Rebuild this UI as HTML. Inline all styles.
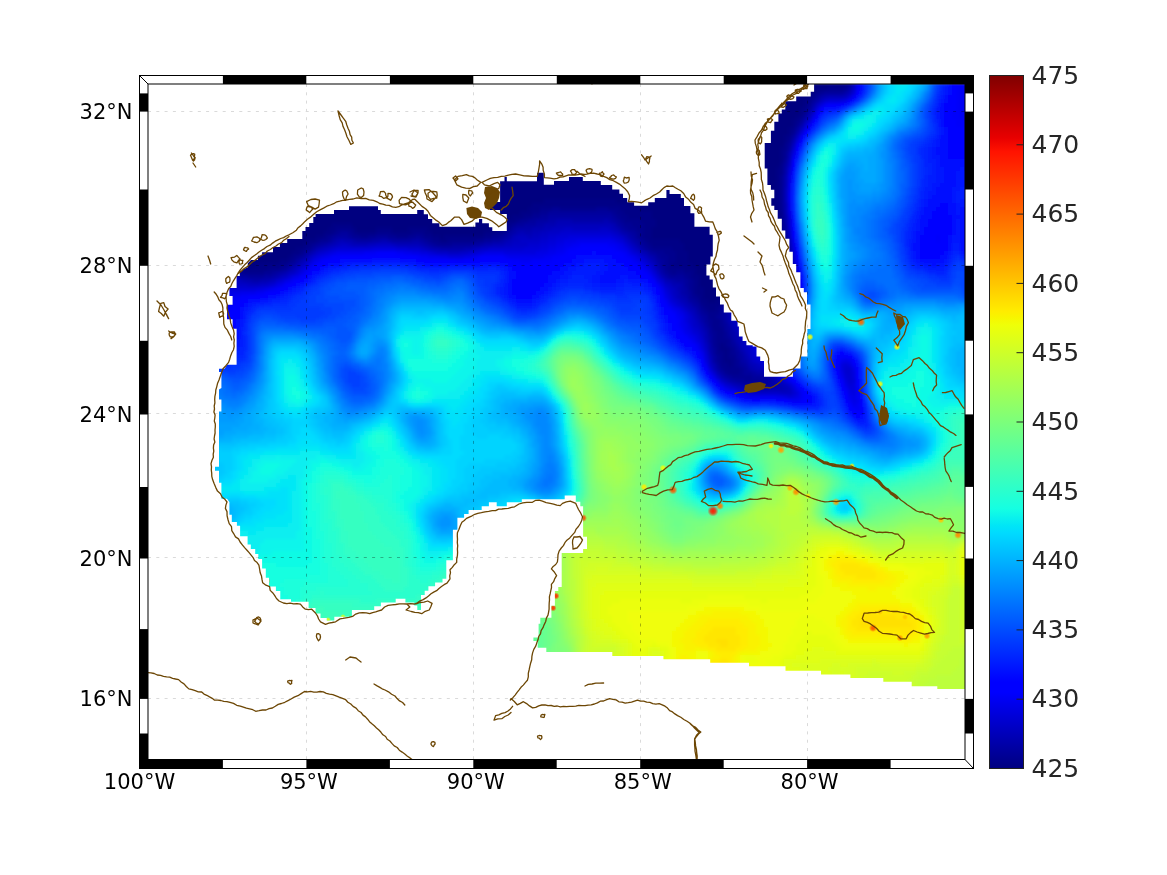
<!DOCTYPE html><html><head><meta charset="utf-8"><style>html,body{margin:0;padding:0;background:#fff;overflow:hidden}svg{display:block}</style></head><body><svg width="1167" height="875" viewBox="0 0 1167 875"><rect width="1167" height="875" fill="#fff"/><path d="M306.5 84.0V759.5M473.5 84.0V759.5M640.5 84.0V759.5M807.5 84.0V759.5M148.0 111.5H965.0M148.0 265.5H965.0M148.0 413.5H965.0M148.0 557.5H965.0M148.0 698.5H965.0" stroke="#dadada" stroke-width="1" stroke-dasharray="3 5.3" fill="none"/><defs><clipPath id="dm"><polygon points="229.4,502.0 227.0,498.8 221.4,498.8 221.4,482.8 219.0,482.8 219.0,470.8 215.0,470.8 215.0,466.8 219.0,466.8 219.0,411.6 221.4,411.6 221.4,399.6 219.0,399.6 219.0,389.6 221.4,388.0 221.4,372.0 219.0,372.0 219.0,368.8 224.6,368.8 227.0,364.8 236.6,364.8 236.6,328.8 232.6,328.8 232.6,319.2 227.0,319.2 227.0,304.8 232.6,304.8 232.6,296.0 229.4,296.0 229.4,288.0 236.6,288.0 236.6,276.0 239.8,276.0 239.8,272.0 243.0,269.6 247.8,267.2 247.8,263.2 251.0,260.0 257.9,259.9 257.9,255.8 262.1,255.8 262.1,252.2 273.0,252.2 273.0,247.1 279.9,247.1 279.9,243.0 287.2,243.0 287.2,238.9 302.3,238.9 302.3,231.1 305.5,231.1 305.5,227.0 309.2,227.0 309.2,222.9 313.3,222.9 313.3,216.9 315.6,216.9 315.6,214.0 334.0,214.0 334.0,210.1 349.0,210.1 349.0,206.2 378.0,206.2 378.0,210.1 380.8,210.1 380.8,214.0 417.2,214.0 417.2,210.0 423.8,210.0 423.8,214.2 428.0,214.2 428.0,219.0 432.2,219.0 432.2,223.2 439.4,223.2 439.4,226.8 475.4,226.8 475.4,222.6 479.0,222.6 479.0,219.0 482.2,219.0 482.2,223.2 488.9,223.2 488.9,227.2 492.3,227.2 492.3,231.0 506.8,231.0 506.8,213.9 500.1,213.9 500.1,210.1 490.0,210.1 490.0,205.7 492.6,205.7 492.6,202.0 500.1,202.0 500.1,181.2 504.5,181.2 504.5,177.1 506.8,177.1 506.8,181.2 537.0,181.2 537.0,172.8 543.8,172.8 543.8,184.8 554.0,184.8 554.0,181.0 569.0,181.0 569.0,177.0 582.8,177.0 582.8,181.0 600.8,181.0 600.8,185.0 612.2,185.0 612.2,189.6 619.4,189.6 619.4,193.8 623.0,193.8 623.0,198.0 627.2,198.0 627.2,202.2 634.1,202.2 634.1,205.8 648.2,205.8 648.2,202.2 654.8,202.2 654.8,198.0 666.4,198.0 666.4,190.0 669.6,190.0 669.6,194.0 680.8,194.0 680.8,198.0 684.0,198.0 684.0,206.0 690.4,206.0 690.4,213.2 694.4,213.2 694.4,226.8 709.6,226.8 709.6,234.8 712.8,234.8 712.8,256.4 710.4,256.4 710.4,264.4 706.4,264.4 706.4,275.6 709.6,275.6 709.6,279.6 712.8,279.6 712.8,287.6 716.0,287.6 716.0,296.4 720.0,296.4 720.0,304.5 723.8,304.5 723.8,312.6 731.3,312.6 731.3,320.8 737.6,320.8 737.6,326.5 738.9,326.5 738.9,336.5 742.6,336.5 742.6,340.9 746.4,340.9 746.4,345.3 752.7,345.3 752.7,346.6 756.5,346.6 756.5,356.6 760.2,356.6 760.2,361.0 764.0,361.0 764.0,376.7 792.9,376.7 792.9,368.6 800.5,368.6 800.5,356.6 807.4,356.6 807.4,329.0 810.5,329.0 810.5,304.5 807.0,304.5 807.0,292.2 803.8,292.2 803.8,288.1 800.4,288.1 800.4,272.3 796.2,272.3 796.2,264.1 792.8,264.1 792.8,251.7 789.4,251.7 789.4,238.7 785.3,238.7 785.3,230.5 781.8,230.5 781.8,218.8 777.7,218.8 777.7,209.9 774.3,209.9 774.3,205.8 771.3,205.8 771.3,198.2 774.3,198.2 774.3,189.8 770.9,189.8 770.9,185.0 767.4,185.0 767.4,168.5 764.7,168.5 764.7,143.1 770.9,143.1 770.9,130.8 774.3,130.8 774.3,121.8 778.4,121.8 778.4,113.6 781.8,113.6 781.8,109.5 785.3,109.5 785.3,101.3 796.2,101.3 796.2,96.5 810.7,96.5 810.7,91.7 814.1,91.7 814.1,83.0 967.0,83.0 967.0,689.0 937.3,689.0 937.3,686.3 911.7,686.3 911.7,681.7 883.3,681.7 883.3,678.0 850.4,678.0 850.4,674.4 821.0,674.4 821.0,670.8 785.5,670.8 785.5,666.2 749.0,666.2 749.0,662.8 710.2,662.8 710.2,659.3 663.4,659.3 663.4,656.0 612.3,656.0 612.3,652.0 546.3,652.0 546.3,647.7 537.7,647.7 537.7,640.9 533.4,640.9 533.4,637.4 538.6,637.4 538.6,623.7 540.3,623.7 540.3,617.7 551.4,617.7 551.4,605.7 554.9,605.7 554.9,591.1 558.3,591.1 558.3,586.9 561.7,586.9 561.7,553.1 583.1,553.1 583.1,549.1 587.0,549.1 587.0,536.8 583.1,536.8 583.1,506.2 580.3,506.2 580.3,501.7 575.8,501.7 575.8,495.4 564.7,495.4 564.7,499.2 521.8,499.2 521.8,502.3 506.8,502.3 506.8,506.2 496.7,506.2 496.7,502.3 488.9,502.3 488.9,506.2 481.7,506.2 481.7,510.1 468.6,510.1 468.6,514.1 464.1,514.1 464.1,517.8 457.4,517.8 457.4,529.7 452.9,529.7 452.9,560.2 446.3,560.2 446.3,578.8 442.5,578.8 442.5,582.5 435.1,582.5 435.1,586.2 428.4,586.2 428.4,590.7 424.7,590.7 424.7,595.1 421.0,595.1 421.0,610.0 417.3,610.0 417.3,605.5 414.3,605.5 414.3,602.5 405.4,602.5 405.4,598.8 395.7,598.8 395.7,602.5 380.9,602.5 380.9,606.3 374.2,606.3 374.2,610.0 351.9,610.0 351.9,616.7 334.3,616.7 334.3,620.5 326.8,620.5 326.8,618.0 320.5,618.0 320.5,613.6 315.5,613.6 315.5,608.0 308.6,608.0 308.6,601.7 291.0,601.7 291.0,599.2 280.3,599.2 280.3,591.0 275.9,591.0 275.9,586.6 269.0,586.6 269.0,577.8 265.8,577.8 265.8,568.4 262.1,568.4 262.1,559.0 258.3,559.0 258.3,553.9 255.2,553.9 255.2,548.9 250.8,548.9 250.8,544.5 247.6,544.5 247.6,536.3 240.1,536.3 240.1,525.7 236.9,525.7 236.9,521.9 231.8,521.9 231.8,514.8 229.4,514.8"/></clipPath></defs><filter id="fb" x="0" y="0" width="1" height="1"><feGaussianBlur stdDeviation="1.6"/></filter><g clip-path="url(#dm)"><g filter="url(#fb)" shape-rendering="crispEdges"><path fill="#000080" d="M148 83h680v4h-680zM148 87h668v4h-668zM148 91h664v4h-664zM148 95h660v4h-660zM148 99h656v4h-656zM148 103h656v4h-656zM148 107h652v4h-652zM148 111h652v4h-652zM148 115h648v4h-648zM148 119h644v4h-644zM148 123h644v4h-644zM148 127h640v4h-640zM148 131h640v4h-640zM148 135h636v4h-636zM148 139h636v4h-636zM148 143h636v4h-636zM148 147h632v4h-632zM148 151h632v4h-632zM148 155h632v4h-632zM148 159h632v4h-632zM148 163h632v4h-632zM148 167h628v4h-628zM148 171h628v4h-628zM148 175h628v4h-628zM148 179h628v4h-628zM148 183h628v4h-628zM148 187h628v4h-628zM148 191h628v4h-628zM148 195h628v4h-628zM160 199h384v4h-384zM616 199h160v4h-160zM164 203h368v4h-368zM628 203h148v4h-148zM172 207h356v4h-356zM640 207h136v4h-136zM176 211h344v4h-344zM652 211h124v4h-124zM180 215h332v4h-332zM652 215h124v4h-124zM184 219h324v4h-324zM656 219h124v4h-124zM192 223h140v4h-140zM352 223h148v4h-148zM656 223h124v4h-124zM196 227h132v4h-132zM356 227h20v4h-20zM392 227h16v4h-16zM428 227h68v4h-68zM652 227h128v4h-128zM200 231h124v4h-124zM432 231h52v4h-52zM652 231h128v4h-128zM208 235h108v4h-108zM440 235h4v4h-4zM652 235h128v4h-128zM212 239h96v4h-96zM680 239h100v4h-100zM216 243h88v4h-88zM684 243h96v4h-96zM224 247h72v4h-72zM684 247h96v4h-96zM228 251h64v4h-64zM688 251h96v4h-96zM232 255h56v4h-56zM688 255h96v4h-96zM236 259h44v4h-44zM688 259h96v4h-96zM244 263h12v4h-12zM692 263h92v4h-92zM696 267h84v4h-84zM696 271h76v4h-76zM700 275h68v4h-68zM700 279h60v4h-60zM700 283h52v4h-52zM704 287h40v4h-40zM704 291h32v4h-32zM704 295h24v4h-24zM708 299h8v4h-8z"/><path fill="#000087" d="M828 83h16v4h-16zM816 87h12v4h-12zM812 91h4v4h-4zM808 95h4v4h-4zM804 99h4v4h-4zM804 103h4v4h-4zM800 107h4v4h-4zM800 111h4v4h-4zM796 115h4v4h-4zM792 119h4v4h-4zM792 123h4v4h-4zM788 127h4v4h-4zM788 131h4v4h-4zM784 135h4v4h-4zM784 139h4v4h-4zM780 147h4v4h-4zM780 151h4v4h-4zM780 155h4v4h-4zM780 159h4v4h-4zM776 167h4v4h-4zM776 171h4v4h-4zM776 175h4v4h-4zM776 179h4v4h-4zM776 183h4v4h-4zM776 187h4v4h-4zM776 191h4v4h-4zM776 195h4v4h-4zM148 199h12v4h-12zM544 199h72v4h-72zM776 199h4v4h-4zM160 203h4v4h-4zM532 203h96v4h-96zM776 203h4v4h-4zM164 207h8v4h-8zM528 207h12v4h-12zM620 207h20v4h-20zM776 207h4v4h-4zM168 211h8v4h-8zM520 211h12v4h-12zM624 211h28v4h-28zM776 211h4v4h-4zM176 215h4v4h-4zM512 215h12v4h-12zM628 215h24v4h-24zM776 215h4v4h-4zM180 219h4v4h-4zM508 219h8v4h-8zM640 219h16v4h-16zM184 223h8v4h-8zM332 223h20v4h-20zM500 223h8v4h-8zM644 223h12v4h-12zM188 227h8v4h-8zM328 227h8v4h-8zM352 227h4v4h-4zM376 227h16v4h-16zM408 227h20v4h-20zM496 227h8v4h-8zM644 227h8v4h-8zM196 231h4v4h-4zM324 231h8v4h-8zM356 231h20v4h-20zM392 231h20v4h-20zM424 231h8v4h-8zM484 231h12v4h-12zM644 231h8v4h-8zM780 231h4v4h-4zM200 235h8v4h-8zM316 235h8v4h-8zM432 235h8v4h-8zM444 235h40v4h-40zM644 235h8v4h-8zM780 235h4v4h-4zM204 239h8v4h-8zM308 239h8v4h-8zM440 239h8v4h-8zM648 239h32v4h-32zM780 239h4v4h-4zM212 243h4v4h-4zM304 243h4v4h-4zM652 243h32v4h-32zM780 243h4v4h-4zM216 247h8v4h-8zM296 247h8v4h-8zM672 247h12v4h-12zM780 247h4v4h-4zM220 251h8v4h-8zM292 251h8v4h-8zM676 251h12v4h-12zM228 255h4v4h-4zM288 255h4v4h-4zM676 255h12v4h-12zM784 255h4v4h-4zM232 259h4v4h-4zM280 259h8v4h-8zM676 259h12v4h-12zM784 259h4v4h-4zM236 263h8v4h-8zM256 263h24v4h-24zM672 263h20v4h-20zM784 263h4v4h-4zM244 267h24v4h-24zM684 267h12v4h-12zM780 267h8v4h-8zM692 271h4v4h-4zM772 271h12v4h-12zM692 275h8v4h-8zM768 275h16v4h-16zM696 279h4v4h-4zM760 279h16v4h-16zM696 283h4v4h-4zM752 283h16v4h-16zM696 287h8v4h-8zM744 287h16v4h-16zM696 291h8v4h-8zM736 291h12v4h-12zM700 295h4v4h-4zM728 295h12v4h-12zM700 299h8v4h-8zM716 299h12v4h-12zM704 303h16v4h-16zM708 307h8v4h-8zM720 343h4v4h-4zM720 347h8v4h-8zM724 351h4v4h-4zM724 355h4v4h-4zM724 359h8v4h-8zM728 363h4v4h-4z"/><path fill="#00008e" d="M844 83h4v4h-4zM828 87h16v4h-16zM816 91h4v4h-4zM812 95h4v4h-4zM808 99h4v4h-4zM804 107h4v4h-4zM800 115h4v4h-4zM796 119h4v4h-4zM792 127h4v4h-4zM788 135h4v4h-4zM784 143h4v4h-4zM784 147h4v4h-4zM780 163h4v4h-4zM780 167h4v4h-4zM780 171h4v4h-4zM156 203h4v4h-4zM160 207h4v4h-4zM540 207h12v4h-12zM560 207h36v4h-36zM608 207h12v4h-12zM532 211h8v4h-8zM616 211h8v4h-8zM780 211h4v4h-4zM172 215h4v4h-4zM524 215h8v4h-8zM620 215h8v4h-8zM780 215h4v4h-4zM176 219h4v4h-4zM516 219h4v4h-4zM624 219h16v4h-16zM780 219h4v4h-4zM180 223h4v4h-4zM508 223h4v4h-4zM632 223h12v4h-12zM780 223h4v4h-4zM336 227h16v4h-16zM504 227h4v4h-4zM636 227h8v4h-8zM780 227h4v4h-4zM192 231h4v4h-4zM332 231h4v4h-4zM352 231h4v4h-4zM376 231h16v4h-16zM412 231h12v4h-12zM496 231h8v4h-8zM640 231h4v4h-4zM196 235h4v4h-4zM324 235h4v4h-4zM360 235h8v4h-8zM396 235h12v4h-12zM424 235h8v4h-8zM484 235h8v4h-8zM640 235h4v4h-4zM316 239h4v4h-4zM432 239h8v4h-8zM448 239h28v4h-28zM644 239h4v4h-4zM208 243h4v4h-4zM308 243h4v4h-4zM648 243h4v4h-4zM784 243h4v4h-4zM212 247h4v4h-4zM304 247h4v4h-4zM652 247h20v4h-20zM784 247h4v4h-4zM300 251h4v4h-4zM664 251h12v4h-12zM784 251h4v4h-4zM224 255h4v4h-4zM292 255h4v4h-4zM668 255h8v4h-8zM228 259h4v4h-4zM288 259h4v4h-4zM668 259h8v4h-8zM232 263h4v4h-4zM280 263h8v4h-8zM668 263h4v4h-4zM240 267h4v4h-4zM268 267h12v4h-12zM668 267h16v4h-16zM244 271h20v4h-20zM672 271h4v4h-4zM684 271h8v4h-8zM784 271h4v4h-4zM688 275h4v4h-4zM784 275h4v4h-4zM692 279h4v4h-4zM776 279h12v4h-12zM692 283h4v4h-4zM768 283h12v4h-12zM692 287h4v4h-4zM760 287h8v4h-8zM692 291h4v4h-4zM748 291h8v4h-8zM696 295h4v4h-4zM740 295h4v4h-4zM728 299h8v4h-8zM700 303h4v4h-4zM720 303h4v4h-4zM704 307h4v4h-4zM716 307h4v4h-4zM708 311h12v4h-12zM708 315h8v4h-8zM712 319h8v4h-8zM712 323h8v4h-8zM712 327h12v4h-12zM716 331h8v4h-8zM716 335h8v4h-8zM716 339h12v4h-12zM716 343h4v4h-4zM724 343h4v4h-4zM716 347h4v4h-4zM728 347h4v4h-4zM716 351h8v4h-8zM728 351h4v4h-4zM720 355h4v4h-4zM728 355h8v4h-8zM720 359h4v4h-4zM732 359h4v4h-4zM720 363h8v4h-8zM732 363h4v4h-4zM724 367h16v4h-16zM728 371h12v4h-12z"/><path fill="#000095" d="M844 87h4v4h-4zM820 91h4v4h-4zM808 103h4v4h-4zM804 111h4v4h-4zM796 123h4v4h-4zM792 131h4v4h-4zM788 139h4v4h-4zM784 151h4v4h-4zM784 155h4v4h-4zM780 175h4v4h-4zM780 179h4v4h-4zM780 183h4v4h-4zM780 187h4v4h-4zM780 191h4v4h-4zM780 195h4v4h-4zM780 199h4v4h-4zM148 203h8v4h-8zM780 203h4v4h-4zM552 207h8v4h-8zM596 207h12v4h-12zM780 207h4v4h-4zM164 211h4v4h-4zM540 211h8v4h-8zM612 211h4v4h-4zM168 215h4v4h-4zM532 215h8v4h-8zM616 215h4v4h-4zM520 219h8v4h-8zM620 219h4v4h-4zM512 223h4v4h-4zM624 223h8v4h-8zM184 227h4v4h-4zM508 227h4v4h-4zM628 227h8v4h-8zM188 231h4v4h-4zM336 231h4v4h-4zM348 231h4v4h-4zM504 231h4v4h-4zM636 231h4v4h-4zM328 235h4v4h-4zM352 235h8v4h-8zM368 235h8v4h-8zM388 235h8v4h-8zM408 235h8v4h-8zM420 235h4v4h-4zM492 235h8v4h-8zM636 235h4v4h-4zM784 235h4v4h-4zM200 239h4v4h-4zM320 239h8v4h-8zM428 239h4v4h-4zM476 239h8v4h-8zM640 239h4v4h-4zM784 239h4v4h-4zM204 243h4v4h-4zM312 243h4v4h-4zM436 243h16v4h-16zM644 243h4v4h-4zM308 247h4v4h-4zM648 247h4v4h-4zM216 251h4v4h-4zM656 251h8v4h-8zM220 255h4v4h-4zM296 255h4v4h-4zM660 255h8v4h-8zM292 259h4v4h-4zM664 259h4v4h-4zM664 263h4v4h-4zM788 263h4v4h-4zM236 267h4v4h-4zM280 267h4v4h-4zM664 267h4v4h-4zM788 267h4v4h-4zM240 271h4v4h-4zM264 271h8v4h-8zM668 271h4v4h-4zM676 271h8v4h-8zM788 271h4v4h-4zM684 275h4v4h-4zM788 275h4v4h-4zM688 279h4v4h-4zM788 279h4v4h-4zM688 283h4v4h-4zM780 283h8v4h-8zM688 287h4v4h-4zM768 287h8v4h-8zM756 291h8v4h-8zM692 295h4v4h-4zM744 295h8v4h-8zM696 299h4v4h-4zM736 299h4v4h-4zM724 303h8v4h-8zM700 307h4v4h-4zM720 307h4v4h-4zM704 311h4v4h-4zM716 315h4v4h-4zM708 319h4v4h-4zM720 319h4v4h-4zM708 323h4v4h-4zM720 323h4v4h-4zM712 331h4v4h-4zM724 331h4v4h-4zM712 335h4v4h-4zM724 335h4v4h-4zM712 339h4v4h-4zM728 339h4v4h-4zM712 343h4v4h-4zM728 343h4v4h-4zM732 347h4v4h-4zM732 351h4v4h-4zM716 355h4v4h-4zM716 359h4v4h-4zM736 359h4v4h-4zM736 363h4v4h-4zM720 367h4v4h-4zM740 367h4v4h-4zM724 371h4v4h-4zM740 371h4v4h-4zM732 375h20v4h-20zM744 379h16v4h-16z"/><path fill="#00009d" d="M848 83h4v4h-4zM824 91h20v4h-20zM816 95h4v4h-4zM812 99h4v4h-4zM808 107h4v4h-4zM800 119h4v4h-4zM788 143h4v4h-4zM784 159h4v4h-4zM156 207h4v4h-4zM160 211h4v4h-4zM548 211h64v4h-64zM164 215h4v4h-4zM540 215h8v4h-8zM612 215h4v4h-4zM172 219h4v4h-4zM528 219h8v4h-8zM616 219h4v4h-4zM176 223h4v4h-4zM516 223h8v4h-8zM620 223h4v4h-4zM180 227h4v4h-4zM624 227h4v4h-4zM184 231h4v4h-4zM340 231h8v4h-8zM632 231h4v4h-4zM784 231h4v4h-4zM192 235h4v4h-4zM332 235h4v4h-4zM348 235h4v4h-4zM376 235h12v4h-12zM416 235h4v4h-4zM500 235h4v4h-4zM196 239h4v4h-4zM328 239h4v4h-4zM424 239h4v4h-4zM484 239h8v4h-8zM200 243h4v4h-4zM316 243h4v4h-4zM432 243h4v4h-4zM452 243h20v4h-20zM640 243h4v4h-4zM208 247h4v4h-4zM644 247h4v4h-4zM212 251h4v4h-4zM304 251h4v4h-4zM652 251h4v4h-4zM216 255h4v4h-4zM300 255h4v4h-4zM656 255h4v4h-4zM788 255h4v4h-4zM224 259h4v4h-4zM660 259h4v4h-4zM788 259h4v4h-4zM228 263h4v4h-4zM288 263h4v4h-4zM660 263h4v4h-4zM232 267h4v4h-4zM284 267h4v4h-4zM236 271h4v4h-4zM272 271h4v4h-4zM664 271h4v4h-4zM248 275h16v4h-16zM668 275h16v4h-16zM684 279h4v4h-4zM684 283h4v4h-4zM788 283h4v4h-4zM776 287h4v4h-4zM688 291h4v4h-4zM764 291h4v4h-4zM688 295h4v4h-4zM752 295h4v4h-4zM692 299h4v4h-4zM740 299h4v4h-4zM696 303h4v4h-4zM732 303h4v4h-4zM724 307h4v4h-4zM700 311h4v4h-4zM720 311h4v4h-4zM704 315h4v4h-4zM720 315h4v4h-4zM704 319h4v4h-4zM724 323h4v4h-4zM708 327h4v4h-4zM724 327h4v4h-4zM708 331h4v4h-4zM728 335h4v4h-4zM732 343h4v4h-4zM712 347h4v4h-4zM712 351h4v4h-4zM736 351h4v4h-4zM736 355h4v4h-4zM716 363h4v4h-4zM740 363h4v4h-4zM744 367h4v4h-4zM744 371h8v4h-8zM728 375h4v4h-4zM752 375h12v4h-12zM736 379h8v4h-8zM760 379h8v4h-8zM752 383h16v4h-16z"/><path fill="#0000a4" d="M804 115h4v4h-4zM796 127h4v4h-4zM792 135h4v4h-4zM788 147h4v4h-4zM784 163h4v4h-4zM152 207h4v4h-4zM548 215h64v4h-64zM168 219h4v4h-4zM536 219h12v4h-12zM612 219h4v4h-4zM524 223h12v4h-12zM616 223h4v4h-4zM784 223h4v4h-4zM512 227h4v4h-4zM620 227h4v4h-4zM784 227h4v4h-4zM508 231h4v4h-4zM628 231h4v4h-4zM188 235h4v4h-4zM336 235h12v4h-12zM504 235h4v4h-4zM632 235h4v4h-4zM356 239h16v4h-16zM392 239h20v4h-20zM420 239h4v4h-4zM492 239h8v4h-8zM636 239h4v4h-4zM320 243h4v4h-4zM428 243h4v4h-4zM472 243h8v4h-8zM204 247h4v4h-4zM312 247h4v4h-4zM648 251h4v4h-4zM788 251h4v4h-4zM220 259h4v4h-4zM296 259h4v4h-4zM656 259h4v4h-4zM292 263h4v4h-4zM660 267h4v4h-4zM276 271h4v4h-4zM240 275h8v4h-8zM264 275h8v4h-8zM676 279h8v4h-8zM684 287h4v4h-4zM780 287h8v4h-8zM684 291h4v4h-4zM768 291h8v4h-8zM756 295h4v4h-4zM688 299h4v4h-4zM744 299h4v4h-4zM692 303h4v4h-4zM736 303h4v4h-4zM696 307h4v4h-4zM728 307h4v4h-4zM724 311h4v4h-4zM700 315h4v4h-4zM724 315h4v4h-4zM724 319h4v4h-4zM704 323h4v4h-4zM728 327h4v4h-4zM728 331h4v4h-4zM708 335h4v4h-4zM708 339h4v4h-4zM732 339h4v4h-4zM736 347h4v4h-4zM712 355h4v4h-4zM740 355h4v4h-4zM712 359h4v4h-4zM740 359h4v4h-4zM744 363h4v4h-4zM716 367h4v4h-4zM720 371h4v4h-4zM752 371h4v4h-4zM724 375h4v4h-4zM764 375h4v4h-4zM732 379h4v4h-4zM768 379h4v4h-4zM744 383h8v4h-8zM768 383h4v4h-4z"/><path fill="#0000ab" d="M848 87h4v4h-4zM844 91h4v4h-4zM820 95h4v4h-4zM816 99h4v4h-4zM812 103h4v4h-4zM800 123h4v4h-4zM784 167h4v4h-4zM784 171h4v4h-4zM148 207h4v4h-4zM156 211h4v4h-4zM160 215h4v4h-4zM784 215h4v4h-4zM164 219h4v4h-4zM548 219h8v4h-8zM572 219h32v4h-32zM608 219h4v4h-4zM784 219h4v4h-4zM172 223h4v4h-4zM536 223h8v4h-8zM176 227h4v4h-4zM516 227h16v4h-16zM180 231h4v4h-4zM512 231h4v4h-4zM624 231h4v4h-4zM184 235h4v4h-4zM508 235h4v4h-4zM628 235h4v4h-4zM192 239h4v4h-4zM332 239h4v4h-4zM352 239h4v4h-4zM372 239h8v4h-8zM388 239h4v4h-4zM412 239h8v4h-8zM500 239h4v4h-4zM632 239h4v4h-4zM196 243h4v4h-4zM324 243h4v4h-4zM424 243h4v4h-4zM480 243h4v4h-4zM636 243h4v4h-4zM200 247h4v4h-4zM440 247h24v4h-24zM640 247h4v4h-4zM788 247h4v4h-4zM208 251h4v4h-4zM308 251h4v4h-4zM212 255h4v4h-4zM304 255h4v4h-4zM652 255h4v4h-4zM216 259h4v4h-4zM224 263h4v4h-4zM656 263h4v4h-4zM228 267h4v4h-4zM288 267h4v4h-4zM232 271h4v4h-4zM280 271h4v4h-4zM660 271h4v4h-4zM792 271h4v4h-4zM272 275h4v4h-4zM664 275h4v4h-4zM792 275h4v4h-4zM252 279h8v4h-8zM672 279h4v4h-4zM792 279h4v4h-4zM680 283h4v4h-4zM680 287h4v4h-4zM680 291h4v4h-4zM776 291h4v4h-4zM684 295h4v4h-4zM760 295h4v4h-4zM748 299h4v4h-4zM696 311h4v4h-4zM700 319h4v4h-4zM728 323h4v4h-4zM704 327h4v4h-4zM732 331h4v4h-4zM732 335h4v4h-4zM708 343h4v4h-4zM736 343h4v4h-4zM708 347h4v4h-4zM740 351h4v4h-4zM744 359h4v4h-4zM748 367h4v4h-4zM756 371h8v4h-8zM768 375h4v4h-4zM728 379h4v4h-4zM772 379h4v4h-4zM740 383h4v4h-4zM772 383h4v4h-4zM756 387h12v4h-12z"/><path fill="#0000b3" d="M824 95h4v4h-4zM808 111h4v4h-4zM796 131h4v4h-4zM792 139h4v4h-4zM788 151h4v4h-4zM784 175h4v4h-4zM784 179h4v4h-4zM784 183h4v4h-4zM784 203h4v4h-4zM784 207h4v4h-4zM152 211h4v4h-4zM784 211h4v4h-4zM156 215h4v4h-4zM556 219h16v4h-16zM604 219h4v4h-4zM168 223h4v4h-4zM544 223h12v4h-12zM612 223h4v4h-4zM172 227h4v4h-4zM532 227h12v4h-12zM616 227h4v4h-4zM176 231h4v4h-4zM516 231h4v4h-4zM524 231h8v4h-8zM620 231h4v4h-4zM188 239h4v4h-4zM336 239h4v4h-4zM344 239h8v4h-8zM380 239h8v4h-8zM504 239h4v4h-4zM192 243h4v4h-4zM328 243h4v4h-4zM420 243h4v4h-4zM484 243h8v4h-8zM788 243h4v4h-4zM316 247h4v4h-4zM432 247h8v4h-8zM464 247h8v4h-8zM204 251h4v4h-4zM644 251h4v4h-4zM208 255h4v4h-4zM648 255h4v4h-4zM300 259h4v4h-4zM652 259h4v4h-4zM220 263h4v4h-4zM296 263h4v4h-4zM224 267h4v4h-4zM656 267h4v4h-4zM792 267h4v4h-4zM228 271h4v4h-4zM284 271h4v4h-4zM236 275h4v4h-4zM276 275h4v4h-4zM244 279h8v4h-8zM260 279h8v4h-8zM668 279h4v4h-4zM672 283h8v4h-8zM792 283h4v4h-4zM676 287h4v4h-4zM788 287h4v4h-4zM780 291h4v4h-4zM680 295h4v4h-4zM764 295h4v4h-4zM684 299h4v4h-4zM752 299h4v4h-4zM688 303h4v4h-4zM740 303h4v4h-4zM692 307h4v4h-4zM732 307h4v4h-4zM728 311h4v4h-4zM696 315h4v4h-4zM728 315h4v4h-4zM728 319h4v4h-4zM700 323h4v4h-4zM732 327h4v4h-4zM704 331h4v4h-4zM704 335h4v4h-4zM736 335h4v4h-4zM736 339h4v4h-4zM740 347h4v4h-4zM708 351h4v4h-4zM744 355h4v4h-4zM712 363h4v4h-4zM748 363h4v4h-4zM752 367h4v4h-4zM716 371h4v4h-4zM764 371h8v4h-8zM720 375h4v4h-4zM772 375h4v4h-4zM736 383h4v4h-4zM776 383h4v4h-4zM748 387h8v4h-8zM768 387h16v4h-16z"/><path fill="#0000ba" d="M848 91h4v4h-4zM828 95h16v4h-16zM812 107h4v4h-4zM804 119h4v4h-4zM788 155h4v4h-4zM784 187h4v4h-4zM784 191h4v4h-4zM784 195h4v4h-4zM784 199h4v4h-4zM148 211h4v4h-4zM152 215h4v4h-4zM160 219h4v4h-4zM164 223h4v4h-4zM556 223h56v4h-56zM168 227h4v4h-4zM544 227h8v4h-8zM612 227h4v4h-4zM172 231h4v4h-4zM520 231h4v4h-4zM532 231h8v4h-8zM180 235h4v4h-4zM512 235h4v4h-4zM528 235h4v4h-4zM624 235h4v4h-4zM184 239h4v4h-4zM340 239h4v4h-4zM508 239h4v4h-4zM628 239h4v4h-4zM788 239h4v4h-4zM188 243h4v4h-4zM332 243h4v4h-4zM352 243h16v4h-16zM396 243h24v4h-24zM492 243h12v4h-12zM632 243h4v4h-4zM196 247h4v4h-4zM320 247h4v4h-4zM428 247h4v4h-4zM472 247h4v4h-4zM636 247h4v4h-4zM200 251h4v4h-4zM312 251h4v4h-4zM640 251h4v4h-4zM204 255h4v4h-4zM212 259h4v4h-4zM216 263h4v4h-4zM792 263h4v4h-4zM220 267h4v4h-4zM292 267h4v4h-4zM232 275h4v4h-4zM660 275h4v4h-4zM240 279h4v4h-4zM268 279h4v4h-4zM664 279h4v4h-4zM676 291h4v4h-4zM784 291h4v4h-4zM676 295h4v4h-4zM768 295h4v4h-4zM680 299h4v4h-4zM756 299h4v4h-4zM684 303h4v4h-4zM744 303h4v4h-4zM688 307h4v4h-4zM736 307h4v4h-4zM692 311h4v4h-4zM732 311h4v4h-4zM696 319h4v4h-4zM732 319h4v4h-4zM732 323h4v4h-4zM700 327h4v4h-4zM736 331h4v4h-4zM704 339h4v4h-4zM740 339h4v4h-4zM740 343h4v4h-4zM744 351h4v4h-4zM708 355h4v4h-4zM748 359h4v4h-4zM752 363h4v4h-4zM712 367h4v4h-4zM756 367h8v4h-8zM724 379h4v4h-4zM776 379h4v4h-4zM732 383h4v4h-4zM780 383h4v4h-4zM744 387h4v4h-4zM784 387h4v4h-4z"/><path fill="#0000c1" d="M852 83h4v4h-4zM844 95h4v4h-4zM820 99h4v4h-4zM808 115h4v4h-4zM800 127h4v4h-4zM792 143h4v4h-4zM788 159h4v4h-4zM148 215h4v4h-4zM148 219h12v4h-12zM148 223h16v4h-16zM156 227h12v4h-12zM552 227h12v4h-12zM572 227h28v4h-28zM608 227h4v4h-4zM160 231h12v4h-12zM540 231h8v4h-8zM616 231h4v4h-4zM168 235h12v4h-12zM516 235h12v4h-12zM532 235h8v4h-8zM788 235h4v4h-4zM172 239h12v4h-12zM512 239h8v4h-8zM176 243h12v4h-12zM336 243h4v4h-4zM348 243h4v4h-4zM368 243h8v4h-8zM392 243h4v4h-4zM504 243h8v4h-8zM184 247h12v4h-12zM324 247h4v4h-4zM424 247h4v4h-4zM476 247h4v4h-4zM188 251h12v4h-12zM448 251h12v4h-12zM196 255h8v4h-8zM308 255h4v4h-4zM644 255h4v4h-4zM204 259h8v4h-8zM304 259h4v4h-4zM648 259h4v4h-4zM792 259h4v4h-4zM208 263h8v4h-8zM300 263h4v4h-4zM652 263h4v4h-4zM216 267h4v4h-4zM220 271h8v4h-8zM288 271h4v4h-4zM656 271h4v4h-4zM224 275h8v4h-8zM280 275h4v4h-4zM232 279h8v4h-8zM272 279h4v4h-4zM248 283h12v4h-12zM668 283h4v4h-4zM672 287h4v4h-4zM792 287h4v4h-4zM672 291h4v4h-4zM772 295h4v4h-4zM760 299h4v4h-4zM748 303h4v4h-4zM740 307h4v4h-4zM692 315h4v4h-4zM732 315h4v4h-4zM696 323h4v4h-4zM736 327h4v4h-4zM700 331h4v4h-4zM740 335h4v4h-4zM704 343h4v4h-4zM744 343h4v4h-4zM744 347h4v4h-4zM748 355h4v4h-4zM708 359h4v4h-4zM756 363h4v4h-4zM764 367h8v4h-8zM772 371h4v4h-4zM784 383h4v4h-4zM740 387h4v4h-4zM788 387h4v4h-4zM780 391h12v4h-12z"/><path fill="#0000c8" d="M852 87h4v4h-4zM816 103h4v4h-4zM796 135h4v4h-4zM788 163h4v4h-4zM148 227h8v4h-8zM564 227h8v4h-8zM600 227h8v4h-8zM148 231h12v4h-12zM548 231h12v4h-12zM612 231h4v4h-4zM788 231h4v4h-4zM148 235h20v4h-20zM540 235h8v4h-8zM620 235h4v4h-4zM148 239h24v4h-24zM520 239h20v4h-20zM624 239h4v4h-4zM160 243h16v4h-16zM340 243h8v4h-8zM376 243h16v4h-16zM512 243h16v4h-16zM628 243h4v4h-4zM168 247h16v4h-16zM328 247h4v4h-4zM420 247h4v4h-4zM480 247h8v4h-8zM632 247h4v4h-4zM172 251h16v4h-16zM316 251h4v4h-4zM436 251h12v4h-12zM460 251h8v4h-8zM180 255h16v4h-16zM792 255h4v4h-4zM188 259h16v4h-16zM196 263h12v4h-12zM204 267h12v4h-12zM296 267h4v4h-4zM652 267h4v4h-4zM212 271h8v4h-8zM292 271h4v4h-4zM220 275h4v4h-4zM284 275h4v4h-4zM224 279h8v4h-8zM236 283h12v4h-12zM260 283h8v4h-8zM664 283h4v4h-4zM668 287h4v4h-4zM788 291h4v4h-4zM672 295h4v4h-4zM776 295h4v4h-4zM676 299h4v4h-4zM764 299h4v4h-4zM680 303h4v4h-4zM752 303h4v4h-4zM684 307h4v4h-4zM688 311h4v4h-4zM736 311h4v4h-4zM736 315h4v4h-4zM692 319h4v4h-4zM736 319h4v4h-4zM692 323h4v4h-4zM736 323h4v4h-4zM696 327h4v4h-4zM740 331h4v4h-4zM700 335h4v4h-4zM744 339h4v4h-4zM704 347h4v4h-4zM748 347h4v4h-4zM748 351h4v4h-4zM752 359h4v4h-4zM708 363h4v4h-4zM760 363h4v4h-4zM716 375h4v4h-4zM776 375h4v4h-4zM720 379h4v4h-4zM780 379h4v4h-4zM728 383h4v4h-4zM736 387h4v4h-4zM752 391h28v4h-28z"/><path fill="#0000d0" d="M824 99h4v4h-4zM812 111h4v4h-4zM804 123h4v4h-4zM792 147h4v4h-4zM788 227h4v4h-4zM560 231h52v4h-52zM548 235h8v4h-8zM616 235h4v4h-4zM540 239h8v4h-8zM152 243h8v4h-8zM528 243h12v4h-12zM160 247h8v4h-8zM332 247h4v4h-4zM408 247h12v4h-12zM488 247h36v4h-36zM168 251h4v4h-4zM320 251h4v4h-4zM432 251h4v4h-4zM468 251h8v4h-8zM636 251h4v4h-4zM792 251h4v4h-4zM176 255h4v4h-4zM312 255h4v4h-4zM640 255h4v4h-4zM184 259h4v4h-4zM308 259h4v4h-4zM644 259h4v4h-4zM192 263h4v4h-4zM304 263h4v4h-4zM648 263h4v4h-4zM200 267h4v4h-4zM208 271h4v4h-4zM216 275h4v4h-4zM656 275h4v4h-4zM796 275h4v4h-4zM220 279h4v4h-4zM276 279h4v4h-4zM660 279h4v4h-4zM796 279h4v4h-4zM228 283h8v4h-8zM268 283h4v4h-4zM796 283h4v4h-4zM668 291h4v4h-4zM780 295h4v4h-4zM672 299h4v4h-4zM768 299h4v4h-4zM676 303h4v4h-4zM756 303h4v4h-4zM744 307h4v4h-4zM740 311h4v4h-4zM688 315h4v4h-4zM688 319h4v4h-4zM740 323h4v4h-4zM692 327h4v4h-4zM740 327h4v4h-4zM696 331h4v4h-4zM744 335h4v4h-4zM700 339h4v4h-4zM748 343h4v4h-4zM704 351h4v4h-4zM752 351h4v4h-4zM752 355h4v4h-4zM756 359h4v4h-4zM764 363h8v4h-8zM772 367h4v4h-4zM844 367h8v4h-8zM712 371h4v4h-4zM776 371h4v4h-4zM844 371h8v4h-8zM848 375h4v4h-4zM848 379h4v4h-4zM724 383h4v4h-4zM788 383h4v4h-4zM748 391h4v4h-4zM792 391h4v4h-4z"/><path fill="#0000d7" d="M852 91h4v4h-4zM848 95h4v4h-4zM828 99h12v4h-12zM808 119h4v4h-4zM800 131h4v4h-4zM788 167h4v4h-4zM788 219h4v4h-4zM788 223h4v4h-4zM556 235h12v4h-12zM612 235h4v4h-4zM548 239h8v4h-8zM620 239h4v4h-4zM148 243h4v4h-4zM540 243h8v4h-8zM624 243h4v4h-4zM156 247h4v4h-4zM336 247h36v4h-36zM396 247h12v4h-12zM524 247h16v4h-16zM628 247h4v4h-4zM160 251h8v4h-8zM324 251h4v4h-4zM428 251h4v4h-4zM476 251h4v4h-4zM632 251h4v4h-4zM168 255h8v4h-8zM176 259h8v4h-8zM184 263h8v4h-8zM192 267h8v4h-8zM300 267h4v4h-4zM200 271h8v4h-8zM296 271h4v4h-4zM652 271h4v4h-4zM208 275h8v4h-8zM288 275h4v4h-4zM216 279h4v4h-4zM280 279h4v4h-4zM220 283h8v4h-8zM272 283h4v4h-4zM232 287h24v4h-24zM664 287h4v4h-4zM792 291h4v4h-4zM668 295h4v4h-4zM784 295h4v4h-4zM772 299h4v4h-4zM680 307h4v4h-4zM748 307h4v4h-4zM684 311h4v4h-4zM740 315h4v4h-4zM740 319h4v4h-4zM688 323h4v4h-4zM744 327h4v4h-4zM692 331h4v4h-4zM744 331h4v4h-4zM696 335h4v4h-4zM748 339h4v4h-4zM700 343h4v4h-4zM752 347h4v4h-4zM704 355h4v4h-4zM756 355h4v4h-4zM760 359h4v4h-4zM772 363h4v4h-4zM844 363h4v4h-4zM708 367h4v4h-4zM844 375h4v4h-4zM852 379h4v4h-4zM848 383h4v4h-4zM732 387h4v4h-4zM792 387h4v4h-4zM744 391h4v4h-4zM788 395h4v4h-4z"/><path fill="#0000de" d="M840 99h4v4h-4zM820 103h4v4h-4zM816 107h4v4h-4zM796 139h4v4h-4zM792 151h4v4h-4zM788 171h4v4h-4zM788 215h4v4h-4zM568 235h44v4h-44zM556 239h8v4h-8zM616 239h4v4h-4zM548 243h8v4h-8zM148 247h8v4h-8zM372 247h24v4h-24zM540 247h8v4h-8zM792 247h4v4h-4zM156 251h4v4h-4zM328 251h4v4h-4zM420 251h8v4h-8zM480 251h4v4h-4zM504 251h32v4h-32zM164 255h4v4h-4zM316 255h4v4h-4zM448 255h16v4h-16zM636 255h4v4h-4zM172 259h4v4h-4zM640 259h4v4h-4zM180 263h4v4h-4zM644 263h4v4h-4zM188 267h4v4h-4zM648 267h4v4h-4zM196 271h4v4h-4zM796 271h4v4h-4zM204 275h4v4h-4zM212 279h4v4h-4zM656 279h4v4h-4zM216 283h4v4h-4zM660 283h4v4h-4zM224 287h8v4h-8zM256 287h8v4h-8zM796 287h4v4h-4zM664 291h4v4h-4zM788 295h4v4h-4zM668 299h4v4h-4zM672 303h4v4h-4zM760 303h4v4h-4zM744 311h4v4h-4zM684 315h4v4h-4zM684 319h4v4h-4zM744 323h4v4h-4zM688 327h4v4h-4zM748 335h4v4h-4zM696 339h4v4h-4zM752 343h4v4h-4zM700 347h4v4h-4zM756 351h4v4h-4zM760 355h4v4h-4zM704 359h4v4h-4zM764 359h4v4h-4zM840 363h4v4h-4zM848 363h4v4h-4zM776 367h4v4h-4zM840 367h4v4h-4zM852 371h4v4h-4zM780 375h4v4h-4zM852 375h4v4h-4zM784 379h4v4h-4zM844 379h4v4h-4zM852 383h4v4h-4zM728 387h4v4h-4zM848 387h8v4h-8zM740 391h4v4h-4zM796 391h4v4h-4zM852 391h4v4h-4zM784 395h4v4h-4zM792 395h4v4h-4z"/><path fill="#0000e6" d="M844 99h4v4h-4zM812 115h4v4h-4zM804 127h4v4h-4zM788 175h4v4h-4zM788 179h4v4h-4zM788 211h4v4h-4zM564 239h12v4h-12zM612 239h4v4h-4zM556 243h8v4h-8zM620 243h4v4h-4zM792 243h4v4h-4zM548 247h8v4h-8zM624 247h4v4h-4zM152 251h4v4h-4zM332 251h4v4h-4zM412 251h8v4h-8zM484 251h20v4h-20zM536 251h12v4h-12zM628 251h4v4h-4zM160 255h4v4h-4zM320 255h4v4h-4zM440 255h8v4h-8zM464 255h8v4h-8zM164 259h8v4h-8zM312 259h4v4h-4zM172 263h8v4h-8zM308 263h4v4h-4zM180 267h8v4h-8zM304 267h4v4h-4zM796 267h4v4h-4zM188 271h8v4h-8zM300 271h4v4h-4zM196 275h8v4h-8zM292 275h4v4h-4zM652 275h4v4h-4zM204 279h8v4h-8zM284 279h4v4h-4zM212 283h4v4h-4zM276 283h4v4h-4zM220 287h4v4h-4zM264 287h4v4h-4zM228 291h12v4h-12zM664 295h4v4h-4zM776 299h4v4h-4zM764 303h4v4h-4zM676 307h4v4h-4zM752 307h4v4h-4zM680 311h4v4h-4zM748 311h4v4h-4zM744 315h4v4h-4zM744 319h4v4h-4zM684 323h4v4h-4zM684 327h4v4h-4zM748 327h4v4h-4zM688 331h4v4h-4zM748 331h4v4h-4zM692 335h4v4h-4zM752 339h4v4h-4zM756 347h4v4h-4zM768 359h8v4h-8zM844 359h4v4h-4zM776 363h4v4h-4zM852 367h4v4h-4zM780 371h4v4h-4zM840 371h4v4h-4zM712 375h4v4h-4zM716 379h4v4h-4zM720 383h4v4h-4zM792 383h4v4h-4zM844 383h4v4h-4zM736 391h4v4h-4zM848 391h4v4h-4zM776 395h8v4h-8zM796 395h4v4h-4zM852 395h4v4h-4zM852 399h4v4h-4z"/><path fill="#0000ed" d="M792 155h4v4h-4zM788 183h4v4h-4zM788 187h4v4h-4zM788 203h4v4h-4zM788 207h4v4h-4zM576 239h36v4h-36zM792 239h4v4h-4zM564 243h8v4h-8zM616 243h4v4h-4zM556 247h8v4h-8zM620 247h4v4h-4zM148 251h4v4h-4zM336 251h28v4h-28zM404 251h8v4h-8zM548 251h8v4h-8zM148 255h12v4h-12zM324 255h4v4h-4zM428 255h12v4h-12zM472 255h4v4h-4zM508 255h36v4h-36zM632 255h4v4h-4zM156 259h8v4h-8zM316 259h4v4h-4zM636 259h4v4h-4zM164 263h8v4h-8zM640 263h4v4h-4zM796 263h4v4h-4zM172 267h8v4h-8zM644 267h4v4h-4zM180 271h8v4h-8zM648 271h4v4h-4zM188 275h8v4h-8zM296 275h4v4h-4zM196 279h8v4h-8zM288 279h4v4h-4zM204 283h8v4h-8zM280 283h4v4h-4zM212 287h8v4h-8zM268 287h4v4h-4zM660 287h4v4h-4zM216 291h12v4h-12zM240 291h16v4h-16zM796 291h4v4h-4zM224 295h8v4h-8zM792 295h4v4h-4zM780 299h4v4h-4zM668 303h4v4h-4zM768 303h4v4h-4zM672 307h4v4h-4zM756 307h4v4h-4zM676 311h4v4h-4zM680 315h4v4h-4zM680 319h4v4h-4zM680 323h4v4h-4zM748 323h4v4h-4zM684 331h4v4h-4zM752 331h4v4h-4zM688 335h4v4h-4zM752 335h4v4h-4zM692 339h4v4h-4zM696 343h4v4h-4zM756 343h4v4h-4zM700 351h4v4h-4zM760 351h4v4h-4zM764 355h8v4h-8zM776 359h4v4h-4zM840 359h4v4h-4zM848 359h4v4h-4zM704 363h4v4h-4zM780 367h4v4h-4zM708 371h4v4h-4zM840 375h4v4h-4zM788 379h4v4h-4zM724 387h4v4h-4zM796 387h4v4h-4zM748 395h28v4h-28zM848 395h4v4h-4zM856 399h4v4h-4zM852 403h4v4h-4z"/><path fill="#0000f4" d="M856 83h4v4h-4zM960 83h8v4h-8zM856 87h4v4h-4zM960 87h8v4h-8zM960 91h8v4h-8zM852 95h4v4h-4zM960 95h8v4h-8zM960 99h8v4h-8zM824 103h4v4h-4zM960 103h8v4h-8zM960 107h8v4h-8zM960 111h8v4h-8zM960 115h8v4h-8zM964 119h4v4h-4zM808 123h4v4h-4zM800 135h4v4h-4zM796 143h4v4h-4zM788 191h4v4h-4zM788 195h4v4h-4zM788 199h4v4h-4zM572 243h8v4h-8zM608 243h8v4h-8zM564 247h4v4h-4zM616 247h4v4h-4zM364 251h12v4h-12zM396 251h8v4h-8zM556 251h8v4h-8zM624 251h4v4h-4zM328 255h4v4h-4zM420 255h8v4h-8zM476 255h4v4h-4zM504 255h4v4h-4zM544 255h8v4h-8zM628 255h4v4h-4zM148 259h8v4h-8zM520 259h12v4h-12zM632 259h4v4h-4zM148 263h16v4h-16zM312 263h4v4h-4zM148 267h24v4h-24zM308 267h4v4h-4zM148 271h32v4h-32zM304 271h4v4h-4zM148 275h40v4h-40zM148 279h48v4h-48zM148 283h56v4h-56zM656 283h4v4h-4zM148 287h64v4h-64zM272 287h4v4h-4zM148 291h68v4h-68zM256 291h8v4h-8zM660 291h4v4h-4zM148 295h76v4h-76zM232 295h8v4h-8zM148 299h84v4h-84zM664 299h4v4h-4zM784 299h4v4h-4zM148 303h80v4h-80zM148 307h76v4h-76zM760 307h4v4h-4zM148 311h60v4h-60zM752 311h4v4h-4zM148 315h20v4h-20zM676 315h4v4h-4zM748 315h4v4h-4zM748 319h4v4h-4zM680 327h4v4h-4zM752 327h4v4h-4zM756 335h4v4h-4zM756 339h4v4h-4zM696 347h4v4h-4zM760 347h4v4h-4zM764 351h4v4h-4zM700 355h4v4h-4zM772 355h4v4h-4zM780 363h4v4h-4zM852 363h4v4h-4zM784 375h4v4h-4zM844 387h4v4h-4zM856 387h4v4h-4zM732 391h4v4h-4zM800 391h4v4h-4zM856 391h4v4h-4zM744 395h4v4h-4zM800 395h4v4h-4zM856 395h4v4h-4zM792 399h8v4h-8zM848 399h4v4h-4zM856 403h4v4h-4zM856 407h4v4h-4z"/><path fill="#0000fb" d="M956 83h4v4h-4zM956 87h4v4h-4zM956 91h4v4h-4zM956 95h4v4h-4zM848 99h4v4h-4zM956 99h4v4h-4zM828 103h12v4h-12zM956 103h4v4h-4zM956 107h4v4h-4zM816 111h4v4h-4zM952 111h8v4h-8zM952 115h8v4h-8zM956 119h8v4h-8zM956 123h12v4h-12zM792 159h4v4h-4zM792 235h4v4h-4zM936 235h4v4h-4zM936 239h4v4h-4zM580 243h28v4h-28zM568 247h8v4h-8zM612 247h4v4h-4zM376 251h20v4h-20zM564 251h4v4h-4zM620 251h4v4h-4zM332 255h8v4h-8zM416 255h4v4h-4zM480 255h24v4h-24zM552 255h8v4h-8zM624 255h4v4h-4zM320 259h4v4h-4zM456 259h8v4h-8zM512 259h8v4h-8zM532 259h20v4h-20zM796 259h4v4h-4zM636 263h4v4h-4zM640 267h4v4h-4zM644 271h4v4h-4zM300 275h4v4h-4zM648 275h4v4h-4zM292 279h4v4h-4zM652 279h4v4h-4zM284 283h4v4h-4zM276 287h4v4h-4zM264 291h4v4h-4zM240 295h8v4h-8zM660 295h4v4h-4zM232 299h4v4h-4zM228 303h8v4h-8zM664 303h4v4h-4zM772 303h4v4h-4zM224 307h8v4h-8zM668 307h4v4h-4zM208 311h20v4h-20zM672 311h4v4h-4zM168 315h44v4h-44zM752 315h4v4h-4zM148 319h24v4h-24zM676 319h4v4h-4zM752 319h4v4h-4zM676 323h4v4h-4zM752 323h4v4h-4zM680 331h4v4h-4zM756 331h4v4h-4zM684 335h4v4h-4zM688 339h4v4h-4zM760 339h4v4h-4zM692 343h4v4h-4zM760 343h4v4h-4zM764 347h4v4h-4zM768 351h4v4h-4zM776 355h4v4h-4zM840 355h8v4h-8zM780 359h4v4h-4zM836 363h4v4h-4zM704 367h4v4h-4zM836 367h4v4h-4zM840 379h4v4h-4zM856 379h4v4h-4zM716 383h4v4h-4zM856 383h4v4h-4zM844 391h4v4h-4zM740 395h4v4h-4zM788 399h4v4h-4zM800 399h4v4h-4zM852 407h4v4h-4z"/><path fill="#0000ff" d="M856 91h4v4h-4zM952 95h4v4h-4zM952 99h4v4h-4zM840 103h4v4h-4zM952 103h4v4h-4zM820 107h4v4h-4zM952 107h4v4h-4zM948 111h4v4h-4zM812 119h4v4h-4zM952 119h4v4h-4zM952 123h4v4h-4zM952 127h16v4h-16zM804 131h4v4h-4zM956 131h12v4h-12zM796 147h4v4h-4zM964 215h4v4h-4zM940 219h4v4h-4zM964 219h4v4h-4zM936 223h8v4h-8zM964 223h4v4h-4zM936 227h12v4h-12zM964 227h4v4h-4zM792 231h4v4h-4zM932 231h16v4h-16zM964 231h4v4h-4zM928 235h8v4h-8zM940 235h4v4h-4zM964 235h4v4h-4zM928 239h8v4h-8zM940 239h4v4h-4zM924 243h20v4h-20zM576 247h12v4h-12zM604 247h8v4h-8zM924 247h16v4h-16zM568 251h8v4h-8zM616 251h4v4h-4zM928 251h4v4h-4zM340 255h12v4h-12zM408 255h8v4h-8zM560 255h8v4h-8zM620 255h4v4h-4zM324 259h4v4h-4zM436 259h20v4h-20zM464 259h8v4h-8zM508 259h4v4h-4zM552 259h8v4h-8zM628 259h4v4h-4zM316 263h4v4h-4zM516 263h32v4h-32zM632 263h4v4h-4zM312 267h4v4h-4zM524 267h8v4h-8zM636 267h4v4h-4zM524 271h4v4h-4zM524 275h8v4h-8zM296 279h4v4h-4zM520 279h16v4h-16zM288 283h4v4h-4zM520 283h16v4h-16zM520 287h12v4h-12zM656 287h4v4h-4zM268 291h4v4h-4zM520 291h8v4h-8zM248 295h4v4h-4zM796 295h4v4h-4zM236 299h4v4h-4zM788 299h4v4h-4zM776 303h4v4h-4zM232 307h4v4h-4zM764 307h4v4h-4zM228 311h8v4h-8zM756 311h4v4h-4zM212 315h20v4h-20zM672 315h4v4h-4zM172 319h48v4h-48zM148 323h32v4h-32zM676 327h4v4h-4zM756 327h4v4h-4zM680 335h4v4h-4zM760 335h4v4h-4zM684 339h4v4h-4zM688 343h4v4h-4zM764 343h4v4h-4zM696 351h4v4h-4zM772 351h4v4h-4zM700 359h4v4h-4zM836 359h4v4h-4zM784 371h4v4h-4zM836 371h4v4h-4zM856 371h4v4h-4zM708 375h4v4h-4zM856 375h4v4h-4zM712 379h4v4h-4zM792 379h4v4h-4zM796 383h4v4h-4zM720 387h4v4h-4zM728 391h4v4h-4zM804 395h4v4h-4zM784 399h4v4h-4zM804 399h4v4h-4zM848 403h4v4h-4zM856 411h4v4h-4z"/><path fill="#0000ff" d="M952 83h4v4h-4zM952 87h4v4h-4zM952 91h4v4h-4zM948 99h4v4h-4zM948 103h4v4h-4zM948 107h4v4h-4zM948 115h4v4h-4zM948 119h4v4h-4zM948 123h4v4h-4zM948 127h4v4h-4zM952 131h4v4h-4zM952 135h16v4h-16zM952 139h16v4h-16zM952 143h16v4h-16zM956 147h12v4h-12zM792 163h4v4h-4zM940 211h4v4h-4zM964 211h4v4h-4zM936 215h12v4h-12zM932 219h8v4h-8zM944 219h4v4h-4zM932 223h4v4h-4zM944 223h4v4h-4zM928 227h8v4h-8zM928 231h4v4h-4zM924 235h4v4h-4zM944 235h4v4h-4zM924 239h4v4h-4zM944 239h4v4h-4zM964 239h4v4h-4zM920 243h4v4h-4zM964 243h4v4h-4zM588 247h16v4h-16zM920 247h4v4h-4zM940 247h4v4h-4zM964 247h4v4h-4zM576 251h4v4h-4zM608 251h8v4h-8zM924 251h4v4h-4zM932 251h8v4h-8zM352 255h20v4h-20zM400 255h8v4h-8zM568 255h4v4h-4zM616 255h4v4h-4zM796 255h4v4h-4zM928 255h4v4h-4zM328 259h8v4h-8zM424 259h12v4h-12zM472 259h8v4h-8zM500 259h8v4h-8zM560 259h4v4h-4zM624 259h4v4h-4zM320 263h4v4h-4zM512 263h4v4h-4zM548 263h12v4h-12zM628 263h4v4h-4zM516 267h8v4h-8zM532 267h16v4h-16zM632 267h4v4h-4zM308 271h4v4h-4zM520 271h4v4h-4zM528 271h16v4h-16zM640 271h4v4h-4zM304 275h4v4h-4zM516 275h8v4h-8zM532 275h12v4h-12zM644 275h4v4h-4zM516 279h4v4h-4zM536 279h4v4h-4zM648 279h4v4h-4zM800 279h4v4h-4zM516 283h4v4h-4zM536 283h4v4h-4zM652 283h4v4h-4zM800 283h4v4h-4zM280 287h4v4h-4zM516 287h4v4h-4zM532 287h4v4h-4zM800 287h4v4h-4zM272 291h4v4h-4zM516 291h4v4h-4zM528 291h4v4h-4zM656 291h4v4h-4zM252 295h8v4h-8zM520 295h8v4h-8zM240 299h4v4h-4zM660 299h4v4h-4zM792 299h4v4h-4zM236 303h4v4h-4zM780 303h4v4h-4zM236 307h4v4h-4zM664 307h4v4h-4zM768 307h4v4h-4zM668 311h4v4h-4zM760 311h4v4h-4zM232 315h4v4h-4zM756 315h4v4h-4zM220 319h12v4h-12zM672 319h4v4h-4zM756 319h4v4h-4zM180 323h52v4h-52zM672 323h4v4h-4zM756 323h4v4h-4zM148 327h80v4h-80zM148 331h80v4h-80zM676 331h4v4h-4zM760 331h4v4h-4zM148 335h76v4h-76zM148 339h72v4h-72zM764 339h4v4h-4zM148 343h68v4h-68zM148 347h56v4h-56zM692 347h4v4h-4zM768 347h4v4h-4zM148 351h48v4h-48zM776 351h4v4h-4zM148 355h32v4h-32zM780 355h4v4h-4zM836 355h4v4h-4zM848 355h4v4h-4zM852 359h4v4h-4zM784 367h4v4h-4zM856 367h4v4h-4zM788 375h4v4h-4zM840 383h4v4h-4zM800 387h4v4h-4zM804 391h4v4h-4zM736 395h4v4h-4zM844 395h4v4h-4zM780 399h4v4h-4zM860 403h4v4h-4zM860 407h4v4h-4zM852 411h4v4h-4z"/><path fill="#0001ff" d="M948 95h4v4h-4zM944 103h4v4h-4zM944 107h4v4h-4zM944 111h4v4h-4zM816 115h4v4h-4zM944 115h4v4h-4zM944 119h4v4h-4zM944 123h4v4h-4zM808 127h4v4h-4zM948 131h4v4h-4zM948 135h4v4h-4zM800 139h4v4h-4zM948 139h4v4h-4zM948 143h4v4h-4zM948 147h8v4h-8zM948 151h20v4h-20zM948 155h20v4h-20zM792 167h4v4h-4zM940 203h8v4h-8zM936 207h12v4h-12zM964 207h4v4h-4zM932 211h8v4h-8zM944 211h4v4h-4zM932 215h4v4h-4zM948 215h4v4h-4zM928 219h4v4h-4zM948 219h4v4h-4zM928 223h4v4h-4zM948 223h4v4h-4zM792 227h4v4h-4zM924 227h4v4h-4zM948 227h4v4h-4zM924 231h4v4h-4zM948 231h4v4h-4zM920 235h4v4h-4zM920 239h4v4h-4zM944 243h4v4h-4zM944 247h4v4h-4zM580 251h12v4h-12zM596 251h12v4h-12zM796 251h4v4h-4zM920 251h4v4h-4zM940 251h4v4h-4zM964 251h4v4h-4zM372 255h28v4h-28zM572 255h4v4h-4zM612 255h4v4h-4zM920 255h8v4h-8zM932 255h8v4h-8zM336 259h4v4h-4zM416 259h8v4h-8zM480 259h20v4h-20zM564 259h8v4h-8zM616 259h8v4h-8zM324 263h4v4h-4zM508 263h4v4h-4zM560 263h4v4h-4zM624 263h4v4h-4zM316 267h4v4h-4zM512 267h4v4h-4zM548 267h12v4h-12zM628 267h4v4h-4zM516 271h4v4h-4zM544 271h8v4h-8zM636 271h4v4h-4zM544 275h4v4h-4zM640 275h4v4h-4zM800 275h4v4h-4zM300 279h4v4h-4zM512 279h4v4h-4zM540 279h8v4h-8zM292 283h4v4h-4zM512 283h4v4h-4zM540 283h4v4h-4zM284 287h4v4h-4zM512 287h4v4h-4zM536 287h4v4h-4zM276 291h4v4h-4zM512 291h4v4h-4zM532 291h4v4h-4zM260 295h8v4h-8zM516 295h4v4h-4zM528 295h4v4h-4zM244 299h4v4h-4zM240 303h4v4h-4zM660 303h4v4h-4zM772 307h4v4h-4zM236 311h4v4h-4zM664 311h4v4h-4zM236 315h4v4h-4zM668 315h4v4h-4zM232 319h4v4h-4zM668 319h4v4h-4zM232 323h4v4h-4zM760 323h4v4h-4zM228 327h8v4h-8zM672 327h4v4h-4zM760 327h4v4h-4zM228 331h4v4h-4zM224 335h8v4h-8zM676 335h4v4h-4zM764 335h4v4h-4zM220 339h8v4h-8zM680 339h4v4h-4zM216 343h8v4h-8zM684 343h4v4h-4zM768 343h4v4h-4zM204 347h16v4h-16zM772 347h4v4h-4zM196 351h16v4h-16zM780 351h4v4h-4zM840 351h4v4h-4zM180 355h20v4h-20zM696 355h4v4h-4zM148 359h32v4h-32zM784 359h4v4h-4zM700 363h4v4h-4zM784 363h4v4h-4zM704 371h4v4h-4zM836 375h4v4h-4zM840 387h4v4h-4zM724 391h4v4h-4zM808 395h4v4h-4zM752 399h8v4h-8zM776 399h4v4h-4zM808 399h4v4h-4zM844 399h4v4h-4zM860 399h4v4h-4zM848 407h4v4h-4zM860 411h4v4h-4zM856 415h4v4h-4z"/><path fill="#0007ff" d="M948 87h4v4h-4zM948 91h4v4h-4zM856 95h4v4h-4zM852 99h4v4h-4zM944 99h4v4h-4zM844 103h4v4h-4zM824 107h4v4h-4zM940 111h4v4h-4zM940 115h4v4h-4zM812 123h4v4h-4zM944 127h4v4h-4zM944 131h4v4h-4zM944 135h4v4h-4zM944 139h4v4h-4zM944 143h4v4h-4zM940 147h8v4h-8zM796 151h4v4h-4zM944 151h4v4h-4zM944 155h4v4h-4zM944 159h24v4h-24zM948 163h8v4h-8zM948 167h4v4h-4zM944 191h4v4h-4zM940 195h12v4h-12zM936 199h16v4h-16zM932 203h8v4h-8zM948 203h4v4h-4zM964 203h4v4h-4zM928 207h8v4h-8zM948 207h4v4h-4zM928 211h4v4h-4zM948 211h4v4h-4zM960 211h4v4h-4zM924 215h8v4h-8zM960 215h4v4h-4zM924 219h4v4h-4zM960 219h4v4h-4zM792 223h4v4h-4zM924 223h4v4h-4zM960 223h4v4h-4zM920 227h4v4h-4zM960 227h4v4h-4zM920 231h4v4h-4zM960 231h4v4h-4zM948 235h4v4h-4zM960 235h4v4h-4zM916 239h4v4h-4zM948 239h4v4h-4zM960 239h4v4h-4zM916 243h4v4h-4zM916 247h4v4h-4zM592 251h4v4h-4zM916 251h4v4h-4zM944 251h4v4h-4zM576 255h8v4h-8zM604 255h8v4h-8zM940 255h4v4h-4zM340 259h12v4h-12zM408 259h8v4h-8zM572 259h4v4h-4zM612 259h4v4h-4zM924 259h16v4h-16zM328 263h4v4h-4zM504 263h4v4h-4zM564 263h4v4h-4zM616 263h8v4h-8zM560 267h4v4h-4zM620 267h8v4h-8zM312 271h4v4h-4zM512 271h4v4h-4zM552 271h8v4h-8zM628 271h8v4h-8zM308 275h4v4h-4zM512 275h4v4h-4zM548 275h8v4h-8zM636 275h4v4h-4zM548 279h4v4h-4zM644 279h4v4h-4zM508 283h4v4h-4zM544 283h4v4h-4zM648 283h4v4h-4zM508 287h4v4h-4zM540 287h4v4h-4zM652 287h4v4h-4zM508 291h4v4h-4zM536 291h4v4h-4zM800 291h4v4h-4zM268 295h4v4h-4zM512 295h4v4h-4zM532 295h4v4h-4zM656 295h4v4h-4zM248 299h8v4h-8zM520 299h8v4h-8zM244 303h4v4h-4zM784 303h4v4h-4zM240 307h4v4h-4zM660 307h4v4h-4zM764 311h4v4h-4zM664 315h4v4h-4zM760 315h4v4h-4zM236 319h4v4h-4zM760 319h4v4h-4zM236 323h4v4h-4zM668 323h4v4h-4zM668 327h4v4h-4zM232 331h4v4h-4zM672 331h4v4h-4zM764 331h4v4h-4zM232 335h4v4h-4zM228 339h4v4h-4zM768 339h4v4h-4zM224 343h4v4h-4zM772 343h4v4h-4zM220 347h4v4h-4zM688 347h4v4h-4zM776 347h4v4h-4zM212 351h8v4h-8zM692 351h4v4h-4zM836 351h4v4h-4zM844 351h4v4h-4zM200 355h12v4h-12zM784 355h4v4h-4zM180 359h16v4h-16zM856 363h4v4h-4zM732 395h4v4h-4zM860 395h4v4h-4zM748 399h4v4h-4zM760 399h16v4h-16zM812 399h4v4h-4zM796 403h12v4h-12zM860 415h4v4h-4z"/><path fill="#000eff" d="M860 83h4v4h-4zM948 83h4v4h-4zM860 87h4v4h-4zM944 95h4v4h-4zM940 103h4v4h-4zM828 107h8v4h-8zM940 107h4v4h-4zM820 111h4v4h-4zM940 119h4v4h-4zM940 123h4v4h-4zM940 135h4v4h-4zM940 139h4v4h-4zM940 143h4v4h-4zM936 147h4v4h-4zM936 151h8v4h-8zM940 155h4v4h-4zM940 159h4v4h-4zM940 163h8v4h-8zM956 163h12v4h-12zM944 167h4v4h-4zM952 167h8v4h-8zM964 167h4v4h-4zM792 171h4v4h-4zM944 171h12v4h-12zM944 175h12v4h-12zM944 179h12v4h-12zM940 183h16v4h-16zM936 187h16v4h-16zM936 191h8v4h-8zM948 191h4v4h-4zM932 195h8v4h-8zM928 199h8v4h-8zM964 199h4v4h-4zM928 203h4v4h-4zM952 203h4v4h-4zM924 207h4v4h-4zM952 207h4v4h-4zM960 207h4v4h-4zM924 211h4v4h-4zM952 211h4v4h-4zM920 215h4v4h-4zM952 215h8v4h-8zM792 219h4v4h-4zM920 219h4v4h-4zM952 219h4v4h-4zM920 223h4v4h-4zM952 223h4v4h-4zM952 227h4v4h-4zM916 231h4v4h-4zM952 231h4v4h-4zM916 235h4v4h-4zM912 243h4v4h-4zM948 243h4v4h-4zM960 243h4v4h-4zM796 247h4v4h-4zM912 247h4v4h-4zM948 247h4v4h-4zM960 247h4v4h-4zM584 255h20v4h-20zM916 255h4v4h-4zM944 255h4v4h-4zM352 259h20v4h-20zM400 259h8v4h-8zM576 259h8v4h-8zM604 259h8v4h-8zM920 259h4v4h-4zM940 259h4v4h-4zM332 263h8v4h-8zM424 263h56v4h-56zM500 263h4v4h-4zM568 263h8v4h-8zM608 263h8v4h-8zM932 263h4v4h-4zM320 267h4v4h-4zM508 267h4v4h-4zM564 267h4v4h-4zM608 267h12v4h-12zM316 271h4v4h-4zM508 271h4v4h-4zM560 271h4v4h-4zM604 271h24v4h-24zM800 271h4v4h-4zM508 275h4v4h-4zM556 275h4v4h-4zM600 275h20v4h-20zM628 275h8v4h-8zM304 279h4v4h-4zM508 279h4v4h-4zM552 279h4v4h-4zM600 279h16v4h-16zM640 279h4v4h-4zM296 283h4v4h-4zM548 283h4v4h-4zM288 287h4v4h-4zM544 287h4v4h-4zM280 291h4v4h-4zM540 291h4v4h-4zM652 291h4v4h-4zM272 295h4v4h-4zM508 295h4v4h-4zM536 295h4v4h-4zM256 299h4v4h-4zM516 299h4v4h-4zM528 299h4v4h-4zM656 299h4v4h-4zM796 299h4v4h-4zM788 303h4v4h-4zM776 307h4v4h-4zM240 311h4v4h-4zM660 311h4v4h-4zM768 311h4v4h-4zM240 315h4v4h-4zM764 315h4v4h-4zM664 319h4v4h-4zM764 323h4v4h-4zM236 327h4v4h-4zM764 327h4v4h-4zM236 331h4v4h-4zM668 331h4v4h-4zM236 335h4v4h-4zM672 335h4v4h-4zM768 335h4v4h-4zM232 339h4v4h-4zM676 339h4v4h-4zM228 343h4v4h-4zM680 343h4v4h-4zM224 347h4v4h-4zM684 347h4v4h-4zM780 347h4v4h-4zM220 351h4v4h-4zM784 351h4v4h-4zM212 355h8v4h-8zM852 355h4v4h-4zM196 359h16v4h-16zM832 359h4v4h-4zM148 363h24v4h-24zM832 363h4v4h-4zM700 367h4v4h-4zM832 367h4v4h-4zM788 371h4v4h-4zM792 375h4v4h-4zM708 379h4v4h-4zM796 379h4v4h-4zM836 379h4v4h-4zM712 383h4v4h-4zM800 383h4v4h-4zM716 387h4v4h-4zM804 387h4v4h-4zM808 391h4v4h-4zM840 391h4v4h-4zM860 391h4v4h-4zM812 395h4v4h-4zM744 399h4v4h-4zM792 403h4v4h-4zM808 403h4v4h-4zM844 403h4v4h-4zM848 411h4v4h-4zM852 415h4v4h-4z"/><path fill="#0014ff" d="M944 87h4v4h-4zM860 91h4v4h-4zM944 91h4v4h-4zM940 99h4v4h-4zM836 107h4v4h-4zM936 107h4v4h-4zM936 111h4v4h-4zM936 115h4v4h-4zM816 119h4v4h-4zM940 127h4v4h-4zM940 131h4v4h-4zM804 135h4v4h-4zM936 139h4v4h-4zM800 143h4v4h-4zM936 143h4v4h-4zM932 147h4v4h-4zM932 151h4v4h-4zM796 155h4v4h-4zM932 155h8v4h-8zM936 159h4v4h-4zM936 163h4v4h-4zM936 167h8v4h-8zM960 167h4v4h-4zM936 171h8v4h-8zM956 171h12v4h-12zM792 175h4v4h-4zM936 175h8v4h-8zM956 175h12v4h-12zM936 179h8v4h-8zM956 179h12v4h-12zM932 183h8v4h-8zM956 183h12v4h-12zM932 187h4v4h-4zM952 187h8v4h-8zM964 187h4v4h-4zM928 191h8v4h-8zM952 191h4v4h-4zM964 191h4v4h-4zM928 195h4v4h-4zM952 195h4v4h-4zM964 195h4v4h-4zM924 199h4v4h-4zM952 199h4v4h-4zM960 199h4v4h-4zM924 203h4v4h-4zM956 203h8v4h-8zM920 207h4v4h-4zM956 207h4v4h-4zM920 211h4v4h-4zM956 211h4v4h-4zM792 215h4v4h-4zM916 219h4v4h-4zM956 219h4v4h-4zM916 223h4v4h-4zM956 223h4v4h-4zM916 227h4v4h-4zM956 227h4v4h-4zM912 231h4v4h-4zM956 231h4v4h-4zM912 235h4v4h-4zM952 235h8v4h-8zM912 239h4v4h-4zM952 239h8v4h-8zM912 251h4v4h-4zM948 251h4v4h-4zM960 251h4v4h-4zM912 255h4v4h-4zM964 255h4v4h-4zM372 259h28v4h-28zM584 259h20v4h-20zM916 259h4v4h-4zM944 259h4v4h-4zM340 263h4v4h-4zM416 263h8v4h-8zM480 263h20v4h-20zM576 263h8v4h-8zM600 263h8v4h-8zM924 263h8v4h-8zM936 263h8v4h-8zM324 267h4v4h-4zM504 267h4v4h-4zM568 267h8v4h-8zM600 267h8v4h-8zM800 267h4v4h-4zM564 271h8v4h-8zM596 271h8v4h-8zM312 275h4v4h-4zM560 275h8v4h-8zM592 275h8v4h-8zM620 275h8v4h-8zM308 279h4v4h-4zM556 279h4v4h-4zM592 279h8v4h-8zM616 279h8v4h-8zM628 279h12v4h-12zM300 283h4v4h-4zM504 283h4v4h-4zM552 283h4v4h-4zM600 283h16v4h-16zM644 283h4v4h-4zM292 287h4v4h-4zM504 287h4v4h-4zM548 287h4v4h-4zM648 287h4v4h-4zM284 291h4v4h-4zM504 291h4v4h-4zM544 291h4v4h-4zM276 295h4v4h-4zM260 299h8v4h-8zM512 299h4v4h-4zM532 299h4v4h-4zM248 303h4v4h-4zM516 303h16v4h-16zM656 303h4v4h-4zM244 307h4v4h-4zM780 307h4v4h-4zM660 315h4v4h-4zM240 319h4v4h-4zM764 319h4v4h-4zM240 323h4v4h-4zM664 323h4v4h-4zM664 327h4v4h-4zM768 327h4v4h-4zM768 331h4v4h-4zM772 335h4v4h-4zM236 339h4v4h-4zM772 339h4v4h-4zM232 343h8v4h-8zM776 343h4v4h-4zM228 347h4v4h-4zM224 351h4v4h-4zM688 351h4v4h-4zM848 351h4v4h-4zM220 355h4v4h-4zM692 355h4v4h-4zM832 355h4v4h-4zM212 359h8v4h-8zM696 359h4v4h-4zM856 359h4v4h-4zM172 363h12v4h-12zM788 367h4v4h-4zM704 375h4v4h-4zM836 383h4v4h-4zM860 387h4v4h-4zM720 391h4v4h-4zM728 395h4v4h-4zM840 395h4v4h-4zM740 399h4v4h-4zM788 403h4v4h-4zM812 403h4v4h-4zM856 419h8v4h-8z"/><path fill="#001aff" d="M944 83h4v4h-4zM940 95h4v4h-4zM848 103h4v4h-4zM936 103h4v4h-4zM936 119h4v4h-4zM936 123h4v4h-4zM808 131h4v4h-4zM936 135h4v4h-4zM932 139h4v4h-4zM932 143h4v4h-4zM928 147h4v4h-4zM928 151h4v4h-4zM928 155h4v4h-4zM928 159h8v4h-8zM932 163h4v4h-4zM932 167h4v4h-4zM932 171h4v4h-4zM928 175h8v4h-8zM792 179h4v4h-4zM928 179h8v4h-8zM928 183h4v4h-4zM924 187h8v4h-8zM960 187h4v4h-4zM924 191h4v4h-4zM956 191h8v4h-8zM924 195h4v4h-4zM956 195h8v4h-8zM920 199h4v4h-4zM956 199h4v4h-4zM920 203h4v4h-4zM792 211h4v4h-4zM916 211h4v4h-4zM916 215h4v4h-4zM912 223h4v4h-4zM912 227h4v4h-4zM908 239h4v4h-4zM796 243h4v4h-4zM908 243h4v4h-4zM952 243h8v4h-8zM908 247h4v4h-4zM952 247h8v4h-8zM948 255h4v4h-4zM912 259h4v4h-4zM344 263h8v4h-8zM408 263h8v4h-8zM584 263h16v4h-16zM916 263h8v4h-8zM944 263h4v4h-4zM328 267h8v4h-8zM500 267h4v4h-4zM576 267h24v4h-24zM928 267h16v4h-16zM320 271h4v4h-4zM504 271h4v4h-4zM572 271h24v4h-24zM504 275h4v4h-4zM568 275h4v4h-4zM584 275h8v4h-8zM504 279h4v4h-4zM560 279h8v4h-8zM588 279h4v4h-4zM624 279h4v4h-4zM304 283h4v4h-4zM556 283h4v4h-4zM592 283h8v4h-8zM616 283h8v4h-8zM632 283h12v4h-12zM296 287h4v4h-4zM500 287h4v4h-4zM552 287h4v4h-4zM600 287h16v4h-16zM644 287h4v4h-4zM288 291h4v4h-4zM500 291h4v4h-4zM548 291h4v4h-4zM280 295h4v4h-4zM504 295h4v4h-4zM540 295h4v4h-4zM652 295h4v4h-4zM800 295h4v4h-4zM268 299h4v4h-4zM508 299h4v4h-4zM536 299h4v4h-4zM252 303h4v4h-4zM532 303h4v4h-4zM792 303h4v4h-4zM248 307h4v4h-4zM656 307h4v4h-4zM244 311h4v4h-4zM656 311h4v4h-4zM772 311h4v4h-4zM244 315h4v4h-4zM768 315h4v4h-4zM660 319h4v4h-4zM768 319h4v4h-4zM768 323h4v4h-4zM240 327h4v4h-4zM240 331h4v4h-4zM664 331h4v4h-4zM772 331h4v4h-4zM240 335h4v4h-4zM668 335h4v4h-4zM240 339h4v4h-4zM672 339h4v4h-4zM776 339h4v4h-4zM240 343h4v4h-4zM676 343h4v4h-4zM780 343h4v4h-4zM232 347h8v4h-8zM680 347h4v4h-4zM784 347h4v4h-4zM840 347h4v4h-4zM228 351h4v4h-4zM832 351h4v4h-4zM224 355h4v4h-4zM220 359h4v4h-4zM788 359h4v4h-4zM184 363h24v4h-24zM788 363h4v4h-4zM832 371h4v4h-4zM860 379h4v4h-4zM860 383h4v4h-4zM812 391h4v4h-4zM816 395h4v4h-4zM816 399h4v4h-4zM784 403h4v4h-4zM816 403h4v4h-4zM844 407h4v4h-4zM864 407h4v4h-4zM864 411h4v4h-4zM864 415h4v4h-4zM864 419h4v4h-4z"/><path fill="#0021ff" d="M940 87h4v4h-4zM940 91h4v4h-4zM936 99h4v4h-4zM840 107h4v4h-4zM824 111h4v4h-4zM932 111h4v4h-4zM820 115h4v4h-4zM812 127h4v4h-4zM936 127h4v4h-4zM936 131h4v4h-4zM928 143h4v4h-4zM924 147h4v4h-4zM924 151h4v4h-4zM924 155h4v4h-4zM924 159h4v4h-4zM924 163h8v4h-8zM928 167h4v4h-4zM928 171h4v4h-4zM924 175h4v4h-4zM924 179h4v4h-4zM792 183h4v4h-4zM924 183h4v4h-4zM792 187h4v4h-4zM920 191h4v4h-4zM920 195h4v4h-4zM792 207h4v4h-4zM916 207h4v4h-4zM912 215h4v4h-4zM912 219h4v4h-4zM908 227h4v4h-4zM908 231h4v4h-4zM908 235h4v4h-4zM796 239h4v4h-4zM908 251h4v4h-4zM952 251h8v4h-8zM908 255h4v4h-4zM960 255h4v4h-4zM948 259h4v4h-4zM352 263h20v4h-20zM400 263h8v4h-8zM800 263h4v4h-4zM336 267h4v4h-4zM420 267h28v4h-28zM472 267h16v4h-16zM496 267h4v4h-4zM924 267h4v4h-4zM944 267h4v4h-4zM324 271h4v4h-4zM500 271h4v4h-4zM936 271h8v4h-8zM316 275h4v4h-4zM572 275h12v4h-12zM312 279h4v4h-4zM500 279h4v4h-4zM568 279h20v4h-20zM500 283h4v4h-4zM560 283h8v4h-8zM584 283h8v4h-8zM624 283h8v4h-8zM300 287h4v4h-4zM496 287h4v4h-4zM556 287h4v4h-4zM592 287h8v4h-8zM616 287h8v4h-8zM640 287h4v4h-4zM292 291h4v4h-4zM496 291h4v4h-4zM648 291h4v4h-4zM284 295h4v4h-4zM500 295h4v4h-4zM544 295h4v4h-4zM272 299h8v4h-8zM540 299h4v4h-4zM652 299h4v4h-4zM256 303h8v4h-8zM512 303h4v4h-4zM536 303h4v4h-4zM516 307h16v4h-16zM784 307h4v4h-4zM776 311h4v4h-4zM656 315h4v4h-4zM772 315h4v4h-4zM244 319h4v4h-4zM660 323h4v4h-4zM660 327h4v4h-4zM772 327h4v4h-4zM776 335h4v4h-4zM668 339h4v4h-4zM780 339h4v4h-4zM784 343h4v4h-4zM240 347h4v4h-4zM836 347h4v4h-4zM232 351h12v4h-12zM684 351h4v4h-4zM788 351h4v4h-4zM228 355h4v4h-4zM788 355h4v4h-4zM224 359h4v4h-4zM208 363h16v4h-16zM696 363h4v4h-4zM700 371h4v4h-4zM860 371h4v4h-4zM832 375h4v4h-4zM860 375h4v4h-4zM808 387h4v4h-4zM836 387h4v4h-4zM724 395h4v4h-4zM736 399h4v4h-4zM840 399h4v4h-4zM780 403h4v4h-4zM864 403h4v4h-4zM848 415h4v4h-4zM852 419h4v4h-4zM860 423h8v4h-8z"/><path fill="#0027ff" d="M940 83h4v4h-4zM860 95h4v4h-4zM936 95h4v4h-4zM856 99h4v4h-4zM932 107h4v4h-4zM828 111h4v4h-4zM932 115h4v4h-4zM932 119h4v4h-4zM816 123h4v4h-4zM932 135h4v4h-4zM928 139h4v4h-4zM924 143h4v4h-4zM800 147h4v4h-4zM920 147h4v4h-4zM920 151h4v4h-4zM920 155h4v4h-4zM796 159h4v4h-4zM924 167h4v4h-4zM924 171h4v4h-4zM920 179h4v4h-4zM920 183h4v4h-4zM920 187h4v4h-4zM792 191h4v4h-4zM792 195h4v4h-4zM792 199h4v4h-4zM916 199h4v4h-4zM792 203h4v4h-4zM916 203h4v4h-4zM912 211h4v4h-4zM908 219h4v4h-4zM908 223h4v4h-4zM904 231h4v4h-4zM904 235h4v4h-4zM904 239h4v4h-4zM904 243h4v4h-4zM952 255h4v4h-4zM908 259h4v4h-4zM964 259h4v4h-4zM372 263h28v4h-28zM912 263h4v4h-4zM948 263h4v4h-4zM340 267h8v4h-8zM416 267h4v4h-4zM448 267h24v4h-24zM488 267h8v4h-8zM916 267h8v4h-8zM328 271h4v4h-4zM928 271h8v4h-8zM944 271h4v4h-4zM320 275h4v4h-4zM500 275h4v4h-4zM308 283h4v4h-4zM496 283h4v4h-4zM568 283h16v4h-16zM560 287h4v4h-4zM584 287h8v4h-8zM624 287h16v4h-16zM296 291h4v4h-4zM552 291h4v4h-4zM600 291h24v4h-24zM644 291h4v4h-4zM288 295h4v4h-4zM548 295h4v4h-4zM648 295h4v4h-4zM280 299h8v4h-8zM504 299h4v4h-4zM544 299h4v4h-4zM264 303h8v4h-8zM508 303h4v4h-4zM652 303h4v4h-4zM796 303h4v4h-4zM252 307h4v4h-4zM532 307h4v4h-4zM652 307h4v4h-4zM788 307h4v4h-4zM248 311h4v4h-4zM656 319h4v4h-4zM772 319h4v4h-4zM244 323h4v4h-4zM772 323h4v4h-4zM244 327h4v4h-4zM660 331h4v4h-4zM776 331h4v4h-4zM244 335h4v4h-4zM664 335h4v4h-4zM244 339h4v4h-4zM244 343h4v4h-4zM672 343h4v4h-4zM244 347h4v4h-4zM676 347h4v4h-4zM788 347h4v4h-4zM844 347h4v4h-4zM852 351h4v4h-4zM232 355h12v4h-12zM688 355h4v4h-4zM856 355h4v4h-4zM228 359h4v4h-4zM692 359h4v4h-4zM224 363h4v4h-4zM156 367h16v4h-16zM860 367h4v4h-4zM792 371h4v4h-4zM796 375h4v4h-4zM800 379h4v4h-4zM804 383h4v4h-4zM712 387h4v4h-4zM716 391h4v4h-4zM816 391h4v4h-4zM836 391h4v4h-4zM820 399h4v4h-4zM776 403h4v4h-4zM820 403h4v4h-4zM840 403h4v4h-4zM800 407h20v4h-20zM844 411h4v4h-4zM856 423h4v4h-4z"/><path fill="#002eff" d="M864 83h4v4h-4zM864 87h4v4h-4zM936 91h4v4h-4zM932 103h4v4h-4zM832 111h4v4h-4zM932 123h4v4h-4zM932 127h4v4h-4zM932 131h4v4h-4zM928 135h4v4h-4zM804 139h4v4h-4zM924 139h4v4h-4zM920 143h4v4h-4zM916 147h4v4h-4zM916 151h4v4h-4zM920 159h4v4h-4zM920 163h4v4h-4zM920 167h4v4h-4zM920 171h4v4h-4zM920 175h4v4h-4zM916 187h4v4h-4zM916 191h4v4h-4zM916 195h4v4h-4zM912 203h4v4h-4zM912 207h4v4h-4zM908 215h4v4h-4zM904 223h4v4h-4zM904 227h4v4h-4zM796 235h4v4h-4zM904 247h4v4h-4zM904 251h4v4h-4zM956 255h4v4h-4zM800 259h4v4h-4zM952 259h4v4h-4zM960 259h4v4h-4zM908 263h4v4h-4zM348 267h12v4h-12zM408 267h8v4h-8zM912 267h4v4h-4zM948 267h4v4h-4zM332 271h8v4h-8zM428 271h12v4h-12zM476 271h24v4h-24zM924 271h4v4h-4zM324 275h4v4h-4zM496 275h4v4h-4zM936 275h12v4h-12zM316 279h4v4h-4zM496 279h4v4h-4zM312 283h4v4h-4zM492 283h4v4h-4zM304 287h4v4h-4zM492 287h4v4h-4zM564 287h20v4h-20zM300 291h4v4h-4zM492 291h4v4h-4zM556 291h4v4h-4zM592 291h8v4h-8zM624 291h20v4h-20zM292 295h4v4h-4zM496 295h4v4h-4zM552 295h4v4h-4zM616 295h12v4h-12zM288 299h4v4h-4zM500 299h4v4h-4zM648 299h4v4h-4zM800 299h4v4h-4zM272 303h16v4h-16zM540 303h4v4h-4zM256 307h4v4h-4zM512 307h4v4h-4zM536 307h4v4h-4zM252 311h4v4h-4zM520 311h8v4h-8zM652 311h4v4h-4zM780 311h4v4h-4zM248 315h4v4h-4zM652 315h4v4h-4zM776 315h4v4h-4zM656 323h4v4h-4zM656 327h4v4h-4zM776 327h4v4h-4zM244 331h4v4h-4zM780 335h4v4h-4zM664 339h4v4h-4zM784 339h4v4h-4zM668 343h4v4h-4zM788 343h4v4h-4zM832 347h4v4h-4zM244 351h4v4h-4zM680 351h4v4h-4zM244 355h4v4h-4zM232 359h12v4h-12zM828 359h4v4h-4zM228 363h4v4h-4zM828 363h4v4h-4zM860 363h4v4h-4zM148 367h8v4h-8zM172 367h8v4h-8zM704 379h4v4h-4zM832 379h4v4h-4zM708 383h4v4h-4zM812 387h4v4h-4zM820 395h4v4h-4zM836 395h4v4h-4zM732 399h4v4h-4zM864 399h4v4h-4zM748 403h12v4h-12zM768 403h8v4h-8zM796 407h4v4h-4zM840 407h4v4h-4zM868 423h4v4h-4zM864 427h4v4h-4z"/><path fill="#0034ff" d="M936 87h4v4h-4zM864 91h4v4h-4zM932 99h4v4h-4zM844 107h4v4h-4zM836 111h4v4h-4zM928 111h4v4h-4zM824 115h4v4h-4zM928 115h4v4h-4zM820 119h4v4h-4zM928 131h4v4h-4zM924 135h4v4h-4zM920 139h4v4h-4zM916 143h4v4h-4zM916 155h4v4h-4zM916 159h4v4h-4zM796 163h4v4h-4zM916 163h4v4h-4zM916 167h4v4h-4zM916 171h4v4h-4zM916 175h4v4h-4zM916 179h4v4h-4zM916 183h4v4h-4zM912 195h4v4h-4zM912 199h4v4h-4zM908 207h4v4h-4zM908 211h4v4h-4zM904 219h4v4h-4zM900 227h4v4h-4zM796 231h4v4h-4zM900 231h4v4h-4zM900 235h4v4h-4zM900 239h4v4h-4zM904 255h4v4h-4zM904 259h4v4h-4zM956 259h4v4h-4zM952 263h4v4h-4zM964 263h4v4h-4zM360 267h20v4h-20zM400 267h8v4h-8zM908 267h4v4h-4zM340 271h4v4h-4zM420 271h8v4h-8zM440 271h8v4h-8zM472 271h4v4h-4zM916 271h8v4h-8zM948 271h4v4h-4zM328 275h4v4h-4zM476 275h20v4h-20zM928 275h8v4h-8zM948 275h4v4h-4zM320 279h4v4h-4zM484 279h12v4h-12zM940 279h8v4h-8zM316 283h4v4h-4zM484 283h8v4h-8zM804 283h4v4h-4zM308 287h4v4h-4zM488 287h4v4h-4zM804 287h4v4h-4zM304 291h4v4h-4zM488 291h4v4h-4zM560 291h8v4h-8zM584 291h8v4h-8zM296 295h8v4h-8zM492 295h4v4h-4zM556 295h4v4h-4zM600 295h16v4h-16zM628 295h20v4h-20zM292 299h8v4h-8zM548 299h4v4h-4zM616 299h16v4h-16zM288 303h8v4h-8zM504 303h4v4h-4zM544 303h4v4h-4zM648 303h4v4h-4zM260 307h32v4h-32zM508 307h4v4h-4zM648 307h4v4h-4zM792 307h4v4h-4zM516 311h4v4h-4zM528 311h8v4h-8zM648 311h4v4h-4zM784 311h4v4h-4zM248 319h4v4h-4zM652 319h4v4h-4zM776 319h4v4h-4zM776 323h4v4h-4zM656 331h4v4h-4zM780 331h4v4h-4zM660 335h4v4h-4zM784 335h4v4h-4zM788 339h4v4h-4zM672 347h4v4h-4zM848 347h4v4h-4zM684 355h4v4h-4zM828 355h4v4h-4zM244 359h4v4h-4zM232 363h8v4h-8zM180 367h52v4h-52zM696 367h4v4h-4zM792 367h4v4h-4zM828 367h4v4h-4zM700 375h4v4h-4zM808 383h4v4h-4zM832 383h4v4h-4zM816 387h4v4h-4zM820 391h4v4h-4zM720 395h4v4h-4zM824 399h4v4h-4zM836 399h4v4h-4zM744 403h4v4h-4zM760 403h8v4h-8zM824 403h4v4h-4zM792 407h4v4h-4zM820 407h4v4h-4zM844 415h4v4h-4zM848 419h4v4h-4zM868 419h4v4h-4zM860 427h4v4h-4zM868 427h4v4h-4z"/><path fill="#003bff" d="M936 83h4v4h-4zM852 103h4v4h-4zM928 107h4v4h-4zM928 119h4v4h-4zM928 123h4v4h-4zM928 127h4v4h-4zM808 135h4v4h-4zM916 139h4v4h-4zM912 143h4v4h-4zM912 147h4v4h-4zM800 151h4v4h-4zM912 151h4v4h-4zM912 155h4v4h-4zM912 159h4v4h-4zM912 187h4v4h-4zM912 191h4v4h-4zM908 203h4v4h-4zM904 211h4v4h-4zM904 215h4v4h-4zM900 219h4v4h-4zM900 223h4v4h-4zM900 243h4v4h-4zM900 247h4v4h-4zM900 251h4v4h-4zM800 255h4v4h-4zM904 263h4v4h-4zM960 263h4v4h-4zM380 267h20v4h-20zM952 267h4v4h-4zM964 267h4v4h-4zM344 271h8v4h-8zM412 271h8v4h-8zM448 271h4v4h-4zM468 271h4v4h-4zM912 271h4v4h-4zM332 275h4v4h-4zM432 275h8v4h-8zM924 275h4v4h-4zM324 279h4v4h-4zM476 279h8v4h-8zM804 279h4v4h-4zM932 279h8v4h-8zM948 279h4v4h-4zM480 283h4v4h-4zM312 287h4v4h-4zM484 287h4v4h-4zM308 291h4v4h-4zM484 291h4v4h-4zM568 291h16v4h-16zM304 295h4v4h-4zM488 295h4v4h-4zM560 295h4v4h-4zM592 295h8v4h-8zM300 299h8v4h-8zM496 299h4v4h-4zM552 299h4v4h-4zM608 299h8v4h-8zM632 299h16v4h-16zM296 303h12v4h-12zM500 303h4v4h-4zM548 303h4v4h-4zM616 303h20v4h-20zM644 303h4v4h-4zM292 307h28v4h-28zM540 307h4v4h-4zM620 307h12v4h-12zM644 307h4v4h-4zM256 311h4v4h-4zM276 311h48v4h-48zM512 311h4v4h-4zM536 311h4v4h-4zM644 311h4v4h-4zM252 315h4v4h-4zM296 315h24v4h-24zM648 315h4v4h-4zM780 315h4v4h-4zM648 319h4v4h-4zM780 319h4v4h-4zM248 323h4v4h-4zM652 323h4v4h-4zM780 323h4v4h-4zM248 327h4v4h-4zM652 327h4v4h-4zM780 327h4v4h-4zM248 331h4v4h-4zM784 331h4v4h-4zM248 335h4v4h-4zM656 335h4v4h-4zM248 339h4v4h-4zM660 339h4v4h-4zM248 343h4v4h-4zM664 343h4v4h-4zM836 343h8v4h-8zM248 347h4v4h-4zM248 351h4v4h-4zM676 351h4v4h-4zM792 351h4v4h-4zM828 351h4v4h-4zM856 351h4v4h-4zM792 355h4v4h-4zM688 359h4v4h-4zM792 359h4v4h-4zM860 359h4v4h-4zM240 363h4v4h-4zM692 363h4v4h-4zM792 363h4v4h-4zM232 367h8v4h-8zM796 371h4v4h-4zM828 371h4v4h-4zM804 379h4v4h-4zM832 387h4v4h-4zM832 391h4v4h-4zM824 395h4v4h-4zM864 395h4v4h-4zM728 399h4v4h-4zM740 403h4v4h-4zM836 403h4v4h-4zM824 407h4v4h-4zM840 411h4v4h-4zM868 415h4v4h-4zM852 423h4v4h-4z"/><path fill="#0041ff" d="M932 95h4v4h-4zM928 103h4v4h-4zM828 115h4v4h-4zM816 127h4v4h-4zM812 131h4v4h-4zM924 131h4v4h-4zM920 135h4v4h-4zM912 139h4v4h-4zM908 143h4v4h-4zM908 147h4v4h-4zM908 151h4v4h-4zM912 163h4v4h-4zM796 167h4v4h-4zM912 167h4v4h-4zM912 171h4v4h-4zM912 175h4v4h-4zM912 179h4v4h-4zM912 183h4v4h-4zM908 195h4v4h-4zM908 199h4v4h-4zM904 207h4v4h-4zM900 215h4v4h-4zM896 223h4v4h-4zM796 227h4v4h-4zM896 227h4v4h-4zM896 231h4v4h-4zM896 235h4v4h-4zM896 239h4v4h-4zM900 255h4v4h-4zM900 259h4v4h-4zM956 263h4v4h-4zM904 267h4v4h-4zM956 267h8v4h-8zM352 271h20v4h-20zM408 271h4v4h-4zM452 271h16v4h-16zM908 271h4v4h-4zM952 271h4v4h-4zM964 271h4v4h-4zM336 275h8v4h-8zM424 275h8v4h-8zM440 275h4v4h-4zM472 275h4v4h-4zM804 275h4v4h-4zM916 275h8v4h-8zM952 275h4v4h-4zM964 275h4v4h-4zM328 279h4v4h-4zM928 279h4v4h-4zM964 279h4v4h-4zM320 283h4v4h-4zM476 283h4v4h-4zM936 283h16v4h-16zM964 283h4v4h-4zM316 287h4v4h-4zM480 287h4v4h-4zM964 287h4v4h-4zM312 291h8v4h-8zM480 291h4v4h-4zM804 291h4v4h-4zM308 295h8v4h-8zM484 295h4v4h-4zM564 295h4v4h-4zM580 295h12v4h-12zM308 299h8v4h-8zM492 299h4v4h-4zM556 299h4v4h-4zM600 299h8v4h-8zM308 303h16v4h-16zM612 303h4v4h-4zM636 303h8v4h-8zM800 303h4v4h-4zM320 307h12v4h-12zM504 307h4v4h-4zM544 307h4v4h-4zM616 307h4v4h-4zM632 307h12v4h-12zM796 307h4v4h-4zM260 311h16v4h-16zM324 311h8v4h-8zM620 311h24v4h-24zM788 311h4v4h-4zM256 315h4v4h-4zM280 315h16v4h-16zM320 315h8v4h-8zM516 315h16v4h-16zM640 315h8v4h-8zM784 315h4v4h-4zM252 319h4v4h-4zM300 319h16v4h-16zM644 319h4v4h-4zM648 323h4v4h-4zM784 327h4v4h-4zM652 331h4v4h-4zM788 335h4v4h-4zM792 343h4v4h-4zM832 343h4v4h-4zM668 347h4v4h-4zM792 347h4v4h-4zM248 355h4v4h-4zM680 355h4v4h-4zM248 359h4v4h-4zM244 363h4v4h-4zM240 367h4v4h-4zM228 371h8v4h-8zM348 371h8v4h-8zM696 371h4v4h-4zM348 375h12v4h-12zM800 375h4v4h-4zM828 375h4v4h-4zM348 379h12v4h-12zM352 383h8v4h-8zM812 383h4v4h-4zM820 387h4v4h-4zM824 391h8v4h-8zM864 391h4v4h-4zM828 395h8v4h-8zM828 399h8v4h-8zM828 403h8v4h-8zM788 407h4v4h-4zM828 407h4v4h-4zM836 407h4v4h-4zM816 411h8v4h-8zM868 411h4v4h-4zM856 427h4v4h-4zM872 427h4v4h-4zM864 431h8v4h-8z"/><path fill="#0047ff" d="M868 83h4v4h-4zM932 91h4v4h-4zM924 111h4v4h-4zM832 115h4v4h-4zM924 115h4v4h-4zM824 119h4v4h-4zM820 123h4v4h-4zM924 127h4v4h-4zM916 135h4v4h-4zM908 139h4v4h-4zM804 143h4v4h-4zM904 147h4v4h-4zM908 155h4v4h-4zM908 159h4v4h-4zM908 187h4v4h-4zM908 191h4v4h-4zM904 203h4v4h-4zM900 211h4v4h-4zM896 219h4v4h-4zM796 223h4v4h-4zM892 223h4v4h-4zM892 227h4v4h-4zM892 231h4v4h-4zM896 243h4v4h-4zM896 247h4v4h-4zM800 251h4v4h-4zM900 263h4v4h-4zM372 271h36v4h-36zM904 271h4v4h-4zM956 271h8v4h-8zM344 275h12v4h-12zM416 275h8v4h-8zM444 275h4v4h-4zM468 275h4v4h-4zM908 275h8v4h-8zM956 275h8v4h-8zM332 279h4v4h-4zM436 279h4v4h-4zM472 279h4v4h-4zM920 279h8v4h-8zM952 279h4v4h-4zM960 279h4v4h-4zM324 283h4v4h-4zM924 283h12v4h-12zM960 283h4v4h-4zM320 287h4v4h-4zM476 287h4v4h-4zM320 291h4v4h-4zM964 291h4v4h-4zM316 295h8v4h-8zM568 295h12v4h-12zM804 295h4v4h-4zM316 299h12v4h-12zM488 299h4v4h-4zM560 299h4v4h-4zM588 299h12v4h-12zM324 303h20v4h-20zM496 303h4v4h-4zM552 303h4v4h-4zM604 303h8v4h-8zM332 307h12v4h-12zM548 307h4v4h-4zM612 307h4v4h-4zM332 311h8v4h-8zM508 311h4v4h-4zM540 311h4v4h-4zM616 311h4v4h-4zM792 311h4v4h-4zM260 315h4v4h-4zM272 315h8v4h-8zM328 315h8v4h-8zM512 315h4v4h-4zM532 315h4v4h-4zM620 315h20v4h-20zM284 319h16v4h-16zM316 319h8v4h-8zM640 319h4v4h-4zM784 319h4v4h-4zM252 323h4v4h-4zM644 323h4v4h-4zM784 323h4v4h-4zM648 327h4v4h-4zM788 331h4v4h-4zM652 335h4v4h-4zM656 339h4v4h-4zM792 339h4v4h-4zM660 343h4v4h-4zM844 343h4v4h-4zM828 347h4v4h-4zM852 347h4v4h-4zM672 351h4v4h-4zM860 355h4v4h-4zM684 359h4v4h-4zM248 363h4v4h-4zM244 367h4v4h-4zM344 367h8v4h-8zM168 371h4v4h-4zM220 371h8v4h-8zM236 371h8v4h-8zM344 371h4v4h-4zM356 371h4v4h-4zM344 375h4v4h-4zM360 375h4v4h-4zM344 379h4v4h-4zM360 379h4v4h-4zM828 379h4v4h-4zM348 383h4v4h-4zM360 383h8v4h-8zM828 383h4v4h-4zM352 387h12v4h-12zM824 387h8v4h-8zM712 391h4v4h-4zM724 399h4v4h-4zM736 403h4v4h-4zM784 407h4v4h-4zM832 407h4v4h-4zM868 407h4v4h-4zM808 411h8v4h-8zM824 411h4v4h-4zM836 411h4v4h-4zM840 415h4v4h-4zM844 419h4v4h-4zM872 423h4v4h-4zM872 431h4v4h-4z"/><path fill="#004eff" d="M868 87h4v4h-4zM932 87h4v4h-4zM864 95h4v4h-4zM860 99h4v4h-4zM928 99h4v4h-4zM924 107h4v4h-4zM840 111h4v4h-4zM924 119h4v4h-4zM924 123h4v4h-4zM920 131h4v4h-4zM912 135h4v4h-4zM904 139h4v4h-4zM904 143h4v4h-4zM904 151h4v4h-4zM800 155h4v4h-4zM904 155h4v4h-4zM908 163h4v4h-4zM908 167h4v4h-4zM796 171h4v4h-4zM908 171h4v4h-4zM908 175h4v4h-4zM908 179h4v4h-4zM908 183h4v4h-4zM904 195h4v4h-4zM904 199h4v4h-4zM900 207h4v4h-4zM896 215h4v4h-4zM892 219h4v4h-4zM888 227h4v4h-4zM888 231h4v4h-4zM892 235h4v4h-4zM892 239h4v4h-4zM800 247h4v4h-4zM896 251h4v4h-4zM896 255h4v4h-4zM900 267h4v4h-4zM804 271h4v4h-4zM356 275h20v4h-20zM412 275h4v4h-4zM448 275h4v4h-4zM464 275h4v4h-4zM904 275h4v4h-4zM336 279h12v4h-12zM424 279h12v4h-12zM440 279h4v4h-4zM912 279h8v4h-8zM956 279h4v4h-4zM328 283h8v4h-8zM472 283h4v4h-4zM916 283h8v4h-8zM952 283h8v4h-8zM324 287h8v4h-8zM920 287h32v4h-32zM960 287h4v4h-4zM324 291h4v4h-4zM476 291h4v4h-4zM868 291h8v4h-8zM324 295h16v4h-16zM480 295h4v4h-4zM864 295h12v4h-12zM328 299h28v4h-28zM484 299h4v4h-4zM564 299h8v4h-8zM576 299h12v4h-12zM344 303h12v4h-12zM492 303h4v4h-4zM556 303h4v4h-4zM596 303h8v4h-8zM344 307h8v4h-8zM500 307h4v4h-4zM608 307h4v4h-4zM340 311h8v4h-8zM504 311h4v4h-4zM544 311h4v4h-4zM612 311h4v4h-4zM264 315h8v4h-8zM336 315h8v4h-8zM536 315h4v4h-4zM616 315h4v4h-4zM788 315h4v4h-4zM256 319h4v4h-4zM276 319h8v4h-8zM324 319h12v4h-12zM624 319h16v4h-16zM300 323h24v4h-24zM640 323h4v4h-4zM252 327h4v4h-4zM644 327h4v4h-4zM788 327h4v4h-4zM252 331h4v4h-4zM648 331h4v4h-4zM252 335h4v4h-4zM792 335h4v4h-4zM252 339h4v4h-4zM252 343h4v4h-4zM252 347h4v4h-4zM664 347h4v4h-4zM252 351h4v4h-4zM668 351h4v4h-4zM676 355h4v4h-4zM344 363h4v4h-4zM688 363h4v4h-4zM248 367h4v4h-4zM340 367h4v4h-4zM352 367h4v4h-4zM692 367h4v4h-4zM796 367h4v4h-4zM156 371h12v4h-12zM172 371h8v4h-8zM188 371h32v4h-32zM244 371h4v4h-4zM340 371h4v4h-4zM360 371h4v4h-4zM228 375h16v4h-16zM340 375h4v4h-4zM364 375h4v4h-4zM364 379h4v4h-4zM700 379h4v4h-4zM808 379h4v4h-4zM344 383h4v4h-4zM704 383h4v4h-4zM816 383h12v4h-12zM864 383h4v4h-4zM348 387h4v4h-4zM364 387h4v4h-4zM708 387h4v4h-4zM864 387h4v4h-4zM352 391h16v4h-16zM716 395h4v4h-4zM780 407h4v4h-4zM804 411h4v4h-4zM828 411h8v4h-8zM848 423h4v4h-4zM860 431h4v4h-4z"/><path fill="#0054ff" d="M932 83h4v4h-4zM924 103h4v4h-4zM848 107h4v4h-4zM836 115h4v4h-4zM828 119h4v4h-4zM920 127h4v4h-4zM916 131h4v4h-4zM908 135h4v4h-4zM900 143h4v4h-4zM900 147h4v4h-4zM904 159h4v4h-4zM904 163h4v4h-4zM796 175h4v4h-4zM904 187h4v4h-4zM904 191h4v4h-4zM900 199h4v4h-4zM900 203h4v4h-4zM896 207h4v4h-4zM896 211h4v4h-4zM892 215h4v4h-4zM796 219h4v4h-4zM888 219h4v4h-4zM888 223h4v4h-4zM884 227h4v4h-4zM888 235h4v4h-4zM892 243h4v4h-4zM892 247h4v4h-4zM896 259h4v4h-4zM896 263h4v4h-4zM900 271h4v4h-4zM376 275h16v4h-16zM404 275h8v4h-8zM452 275h12v4h-12zM348 279h20v4h-20zM420 279h4v4h-4zM444 279h4v4h-4zM468 279h4v4h-4zM904 279h8v4h-8zM336 283h12v4h-12zM436 283h4v4h-4zM908 283h8v4h-8zM332 287h12v4h-12zM472 287h4v4h-4zM912 287h8v4h-8zM952 287h8v4h-8zM328 291h28v4h-28zM864 291h4v4h-4zM876 291h4v4h-4zM960 291h4v4h-4zM340 295h20v4h-20zM476 295h4v4h-4zM876 295h4v4h-4zM964 295h4v4h-4zM356 299h4v4h-4zM572 299h4v4h-4zM804 299h4v4h-4zM868 299h4v4h-4zM356 303h4v4h-4zM488 303h4v4h-4zM560 303h4v4h-4zM588 303h8v4h-8zM352 307h8v4h-8zM496 307h4v4h-4zM552 307h4v4h-4zM604 307h4v4h-4zM800 307h4v4h-4zM348 311h8v4h-8zM548 311h4v4h-4zM608 311h4v4h-4zM796 311h4v4h-4zM344 315h8v4h-8zM508 315h4v4h-4zM540 315h4v4h-4zM612 315h4v4h-4zM260 319h16v4h-16zM336 319h12v4h-12zM516 319h12v4h-12zM616 319h8v4h-8zM788 319h4v4h-4zM256 323h4v4h-4zM288 323h12v4h-12zM324 323h20v4h-20zM628 323h12v4h-12zM788 323h4v4h-4zM336 327h12v4h-12zM640 327h4v4h-4zM336 331h16v4h-16zM644 331h4v4h-4zM792 331h4v4h-4zM336 335h16v4h-16zM648 335h4v4h-4zM340 339h8v4h-8zM652 339h4v4h-4zM656 343h4v4h-4zM828 343h4v4h-4zM848 343h4v4h-4zM660 347h4v4h-4zM860 351h4v4h-4zM252 355h4v4h-4zM672 355h4v4h-4zM824 355h4v4h-4zM252 359h4v4h-4zM680 359h4v4h-4zM824 359h4v4h-4zM340 363h4v4h-4zM348 363h4v4h-4zM796 363h4v4h-4zM824 363h4v4h-4zM356 367h4v4h-4zM824 367h4v4h-4zM148 371h8v4h-8zM180 371h8v4h-8zM364 371h4v4h-4zM800 371h4v4h-4zM864 371h4v4h-4zM224 375h4v4h-4zM244 375h4v4h-4zM696 375h4v4h-4zM804 375h4v4h-4zM864 375h4v4h-4zM232 379h8v4h-8zM340 379h4v4h-4zM368 379h4v4h-4zM824 379h4v4h-4zM864 379h4v4h-4zM368 383h4v4h-4zM344 387h4v4h-4zM368 387h4v4h-4zM348 391h4v4h-4zM368 391h4v4h-4zM732 403h4v4h-4zM868 403h4v4h-4zM776 407h4v4h-4zM800 411h4v4h-4zM836 415h4v4h-4zM840 419h4v4h-4zM872 419h4v4h-4zM852 427h4v4h-4zM876 427h4v4h-4zM876 431h4v4h-4zM864 435h12v4h-12z"/><path fill="#005bff" d="M868 91h4v4h-4zM928 95h4v4h-4zM856 103h4v4h-4zM920 111h4v4h-4zM920 115h4v4h-4zM824 123h4v4h-4zM920 123h4v4h-4zM912 131h4v4h-4zM904 135h4v4h-4zM808 139h4v4h-4zM900 139h4v4h-4zM804 147h4v4h-4zM900 151h4v4h-4zM900 155h4v4h-4zM800 159h4v4h-4zM904 167h4v4h-4zM904 171h4v4h-4zM904 175h4v4h-4zM796 179h4v4h-4zM904 179h4v4h-4zM904 183h4v4h-4zM900 195h4v4h-4zM896 203h4v4h-4zM892 211h4v4h-4zM796 215h4v4h-4zM888 215h4v4h-4zM884 219h4v4h-4zM884 223h4v4h-4zM884 231h4v4h-4zM884 235h4v4h-4zM888 239h4v4h-4zM800 243h4v4h-4zM888 243h4v4h-4zM892 251h4v4h-4zM892 255h4v4h-4zM804 267h4v4h-4zM896 267h4v4h-4zM896 271h4v4h-4zM392 275h12v4h-12zM900 275h4v4h-4zM368 279h12v4h-12zM412 279h8v4h-8zM448 279h4v4h-4zM464 279h4v4h-4zM900 279h4v4h-4zM348 283h20v4h-20zM428 283h8v4h-8zM440 283h4v4h-4zM468 283h4v4h-4zM904 283h4v4h-4zM344 287h20v4h-20zM864 287h12v4h-12zM908 287h4v4h-4zM356 291h8v4h-8zM472 291h4v4h-4zM880 291h4v4h-4zM916 291h44v4h-44zM360 295h4v4h-4zM360 299h4v4h-4zM480 299h4v4h-4zM864 299h4v4h-4zM872 299h4v4h-4zM360 303h4v4h-4zM484 303h4v4h-4zM564 303h8v4h-8zM576 303h12v4h-12zM360 307h4v4h-4zM492 307h4v4h-4zM556 307h4v4h-4zM596 307h8v4h-8zM356 311h4v4h-4zM500 311h4v4h-4zM604 311h4v4h-4zM352 315h4v4h-4zM544 315h4v4h-4zM608 315h4v4h-4zM792 315h4v4h-4zM348 319h8v4h-8zM512 319h4v4h-4zM528 319h8v4h-8zM276 323h12v4h-12zM344 323h8v4h-8zM620 323h8v4h-8zM256 327h4v4h-4zM308 327h28v4h-28zM348 327h4v4h-4zM632 327h8v4h-8zM792 327h4v4h-4zM328 331h8v4h-8zM640 331h4v4h-4zM332 335h4v4h-4zM644 335h4v4h-4zM336 339h4v4h-4zM348 339h4v4h-4zM648 339h4v4h-4zM796 339h4v4h-4zM836 339h4v4h-4zM340 343h8v4h-8zM652 343h4v4h-4zM796 343h4v4h-4zM796 347h4v4h-4zM856 347h4v4h-4zM664 351h4v4h-4zM796 351h4v4h-4zM824 351h4v4h-4zM796 355h4v4h-4zM340 359h8v4h-8zM796 359h4v4h-4zM252 363h4v4h-4zM336 363h4v4h-4zM352 363h4v4h-4zM684 363h4v4h-4zM864 363h4v4h-4zM336 367h4v4h-4zM360 367h4v4h-4zM864 367h4v4h-4zM248 371h4v4h-4zM336 371h4v4h-4zM824 371h4v4h-4zM220 375h4v4h-4zM336 375h4v4h-4zM368 375h4v4h-4zM824 375h4v4h-4zM228 379h4v4h-4zM240 379h4v4h-4zM812 379h4v4h-4zM232 383h8v4h-8zM340 383h4v4h-4zM372 383h4v4h-4zM372 387h4v4h-4zM352 395h16v4h-16zM720 399h4v4h-4zM744 407h8v4h-8zM772 407h4v4h-4zM796 411h4v4h-4zM820 415h16v4h-16zM844 423h4v4h-4zM856 431h4v4h-4zM876 435h4v4h-4zM716 479h8v4h-8z"/><path fill="#0061ff" d="M920 107h4v4h-4zM832 119h4v4h-4zM920 119h4v4h-4zM820 127h4v4h-4zM916 127h4v4h-4zM816 131h4v4h-4zM812 135h4v4h-4zM896 143h4v4h-4zM896 147h4v4h-4zM900 159h4v4h-4zM900 163h4v4h-4zM900 167h4v4h-4zM796 183h4v4h-4zM900 183h4v4h-4zM900 187h4v4h-4zM900 191h4v4h-4zM896 199h4v4h-4zM892 207h4v4h-4zM796 211h4v4h-4zM888 211h4v4h-4zM884 215h4v4h-4zM880 219h4v4h-4zM880 223h4v4h-4zM880 227h4v4h-4zM880 231h4v4h-4zM880 235h4v4h-4zM884 239h4v4h-4zM888 247h4v4h-4zM888 251h4v4h-4zM892 259h4v4h-4zM804 263h4v4h-4zM892 263h4v4h-4zM892 267h4v4h-4zM896 275h4v4h-4zM380 279h12v4h-12zM404 279h8v4h-8zM452 279h4v4h-4zM368 283h8v4h-8zM420 283h8v4h-8zM444 283h4v4h-4zM864 283h12v4h-12zM900 283h4v4h-4zM364 287h4v4h-4zM468 287h4v4h-4zM860 287h4v4h-4zM876 287h8v4h-8zM904 287h4v4h-4zM364 291h4v4h-4zM860 291h4v4h-4zM884 291h4v4h-4zM912 291h4v4h-4zM364 295h4v4h-4zM472 295h4v4h-4zM860 295h4v4h-4zM880 295h4v4h-4zM960 295h4v4h-4zM364 299h4v4h-4zM476 299h4v4h-4zM876 299h4v4h-4zM364 303h4v4h-4zM480 303h4v4h-4zM572 303h4v4h-4zM488 307h4v4h-4zM560 307h4v4h-4zM592 307h4v4h-4zM360 311h4v4h-4zM496 311h4v4h-4zM552 311h4v4h-4zM600 311h4v4h-4zM356 315h4v4h-4zM504 315h4v4h-4zM356 319h4v4h-4zM536 319h4v4h-4zM612 319h4v4h-4zM792 319h4v4h-4zM260 323h16v4h-16zM352 323h4v4h-4zM616 323h4v4h-4zM792 323h4v4h-4zM296 327h12v4h-12zM352 327h4v4h-4zM624 327h8v4h-8zM256 331h4v4h-4zM320 331h8v4h-8zM352 331h4v4h-4zM636 331h4v4h-4zM796 331h4v4h-4zM328 335h4v4h-4zM640 335h4v4h-4zM796 335h4v4h-4zM332 339h4v4h-4zM644 339h4v4h-4zM832 339h4v4h-4zM840 339h4v4h-4zM336 343h4v4h-4zM336 347h12v4h-12zM656 347h4v4h-4zM340 351h4v4h-4zM336 355h12v4h-12zM668 355h4v4h-4zM336 359h4v4h-4zM348 359h4v4h-4zM676 359h4v4h-4zM864 359h4v4h-4zM356 363h4v4h-4zM252 367h4v4h-4zM364 367h4v4h-4zM688 367h4v4h-4zM368 371h4v4h-4zM692 371h4v4h-4zM216 375h4v4h-4zM248 375h4v4h-4zM372 375h4v4h-4zM224 379h4v4h-4zM244 379h4v4h-4zM336 379h4v4h-4zM372 379h4v4h-4zM816 379h8v4h-8zM228 383h4v4h-4zM240 383h4v4h-4zM232 387h8v4h-8zM340 387h4v4h-4zM344 391h4v4h-4zM372 391h4v4h-4zM348 395h4v4h-4zM368 395h4v4h-4zM352 399h12v4h-12zM868 399h4v4h-4zM728 403h4v4h-4zM740 407h4v4h-4zM752 407h20v4h-20zM792 411h4v4h-4zM816 415h4v4h-4zM872 415h4v4h-4zM836 419h4v4h-4zM876 423h4v4h-4zM848 427h4v4h-4zM880 431h4v4h-4zM860 435h4v4h-4zM712 475h8v4h-8zM712 479h4v4h-4zM716 483h8v4h-8z"/><path fill="#0067ff" d="M928 91h4v4h-4zM924 99h4v4h-4zM908 131h4v4h-4zM900 135h4v4h-4zM896 139h4v4h-4zM896 151h4v4h-4zM896 155h4v4h-4zM900 171h4v4h-4zM900 175h4v4h-4zM900 179h4v4h-4zM796 187h4v4h-4zM796 191h4v4h-4zM896 195h4v4h-4zM796 203h4v4h-4zM892 203h4v4h-4zM796 207h4v4h-4zM888 207h4v4h-4zM884 211h4v4h-4zM880 215h4v4h-4zM876 219h4v4h-4zM876 223h4v4h-4zM876 227h4v4h-4zM876 231h4v4h-4zM876 235h4v4h-4zM800 239h4v4h-4zM880 239h4v4h-4zM884 243h4v4h-4zM884 247h4v4h-4zM888 255h4v4h-4zM888 259h4v4h-4zM888 263h4v4h-4zM892 271h4v4h-4zM892 275h4v4h-4zM392 279h12v4h-12zM456 279h8v4h-8zM864 279h12v4h-12zM896 279h4v4h-4zM376 283h8v4h-8zM412 283h8v4h-8zM448 283h4v4h-4zM464 283h4v4h-4zM860 283h4v4h-4zM876 283h8v4h-8zM896 283h4v4h-4zM368 287h8v4h-8zM428 287h20v4h-20zM884 287h4v4h-4zM900 287h4v4h-4zM368 291h4v4h-4zM468 291h4v4h-4zM908 291h4v4h-4zM368 295h4v4h-4zM884 295h4v4h-4zM956 295h4v4h-4zM368 299h4v4h-4zM368 303h4v4h-4zM804 303h4v4h-4zM364 307h4v4h-4zM484 307h4v4h-4zM564 307h4v4h-4zM584 307h8v4h-8zM364 311h4v4h-4zM492 311h4v4h-4zM556 311h4v4h-4zM596 311h4v4h-4zM800 311h4v4h-4zM360 315h4v4h-4zM500 315h4v4h-4zM548 315h4v4h-4zM604 315h4v4h-4zM796 315h4v4h-4zM508 319h4v4h-4zM540 319h4v4h-4zM608 319h4v4h-4zM356 323h4v4h-4zM612 323h4v4h-4zM260 327h4v4h-4zM284 327h12v4h-12zM620 327h4v4h-4zM796 327h4v4h-4zM312 331h8v4h-8zM628 331h8v4h-8zM256 335h4v4h-4zM324 335h4v4h-4zM352 335h4v4h-4zM636 335h4v4h-4zM256 339h4v4h-4zM328 339h4v4h-4zM640 339h4v4h-4zM256 343h4v4h-4zM332 343h4v4h-4zM348 343h4v4h-4zM648 343h4v4h-4zM852 343h4v4h-4zM256 347h4v4h-4zM332 347h4v4h-4zM824 347h4v4h-4zM256 351h4v4h-4zM336 351h4v4h-4zM344 351h4v4h-4zM660 351h4v4h-4zM332 355h4v4h-4zM864 355h4v4h-4zM332 359h4v4h-4zM672 359h4v4h-4zM332 363h4v4h-4zM680 363h4v4h-4zM332 367h4v4h-4zM368 367h4v4h-4zM800 367h4v4h-4zM252 371h4v4h-4zM332 371h4v4h-4zM372 371h4v4h-4zM164 375h52v4h-52zM332 375h4v4h-4zM808 375h4v4h-4zM820 375h4v4h-4zM220 379h4v4h-4zM248 379h4v4h-4zM376 379h4v4h-4zM696 379h4v4h-4zM224 383h4v4h-4zM244 383h4v4h-4zM336 383h4v4h-4zM376 383h4v4h-4zM700 383h4v4h-4zM228 387h4v4h-4zM240 387h4v4h-4zM376 387h4v4h-4zM232 391h4v4h-4zM344 395h4v4h-4zM372 395h4v4h-4zM348 399h4v4h-4zM364 399h8v4h-8zM812 415h4v4h-4zM832 419h4v4h-4zM840 423h4v4h-4zM852 431h4v4h-4zM880 435h4v4h-4zM868 439h12v4h-12zM720 475h4v4h-4zM724 479h4v4h-4zM712 483h4v4h-4z"/><path fill="#006eff" d="M872 83h4v4h-4zM872 87h4v4h-4zM868 95h4v4h-4zM864 99h4v4h-4zM920 103h4v4h-4zM852 107h4v4h-4zM844 111h4v4h-4zM916 115h4v4h-4zM916 119h4v4h-4zM828 123h4v4h-4zM916 123h4v4h-4zM912 127h4v4h-4zM904 131h4v4h-4zM892 143h4v4h-4zM892 147h4v4h-4zM804 151h4v4h-4zM896 159h4v4h-4zM800 163h4v4h-4zM896 163h4v4h-4zM896 167h4v4h-4zM896 171h4v4h-4zM896 175h4v4h-4zM896 179h4v4h-4zM896 183h4v4h-4zM896 187h4v4h-4zM896 191h4v4h-4zM796 195h4v4h-4zM796 199h4v4h-4zM892 199h4v4h-4zM888 203h4v4h-4zM884 207h4v4h-4zM876 211h8v4h-8zM876 215h4v4h-4zM872 219h4v4h-4zM872 223h4v4h-4zM872 227h4v4h-4zM872 231h4v4h-4zM800 235h4v4h-4zM872 235h4v4h-4zM876 239h4v4h-4zM880 243h4v4h-4zM880 247h4v4h-4zM884 251h4v4h-4zM884 255h4v4h-4zM804 259h4v4h-4zM884 259h4v4h-4zM884 263h4v4h-4zM876 267h16v4h-16zM868 271h24v4h-24zM860 275h32v4h-32zM860 279h4v4h-4zM876 279h20v4h-20zM384 283h12v4h-12zM408 283h4v4h-4zM452 283h12v4h-12zM856 283h4v4h-4zM884 283h12v4h-12zM376 287h8v4h-8zM420 287h8v4h-8zM448 287h4v4h-4zM464 287h4v4h-4zM856 287h4v4h-4zM888 287h12v4h-12zM372 291h4v4h-4zM856 291h4v4h-4zM888 291h8v4h-8zM900 291h8v4h-8zM372 295h4v4h-4zM468 295h4v4h-4zM888 295h4v4h-4zM916 295h40v4h-40zM372 299h4v4h-4zM472 299h4v4h-4zM860 299h4v4h-4zM880 299h4v4h-4zM476 303h4v4h-4zM868 303h4v4h-4zM368 307h4v4h-4zM480 307h4v4h-4zM568 307h16v4h-16zM368 311h4v4h-4zM488 311h4v4h-4zM560 311h4v4h-4zM592 311h4v4h-4zM364 315h4v4h-4zM552 315h4v4h-4zM600 315h4v4h-4zM360 319h4v4h-4zM544 319h4v4h-4zM604 319h4v4h-4zM796 319h4v4h-4zM516 323h24v4h-24zM796 323h4v4h-4zM264 327h20v4h-20zM356 327h4v4h-4zM616 327h4v4h-4zM304 331h8v4h-8zM624 331h4v4h-4zM320 335h4v4h-4zM632 335h4v4h-4zM324 339h4v4h-4zM352 339h4v4h-4zM636 339h4v4h-4zM828 339h4v4h-4zM844 339h4v4h-4zM328 343h4v4h-4zM644 343h4v4h-4zM328 347h4v4h-4zM348 347h4v4h-4zM652 347h4v4h-4zM860 347h4v4h-4zM332 351h4v4h-4zM256 355h4v4h-4zM348 355h4v4h-4zM664 355h4v4h-4zM256 359h4v4h-4zM352 359h4v4h-4zM256 363h4v4h-4zM360 363h4v4h-4zM800 363h4v4h-4zM372 367h4v4h-4zM684 367h4v4h-4zM376 371h4v4h-4zM804 371h4v4h-4zM820 371h4v4h-4zM156 375h8v4h-8zM252 375h4v4h-4zM376 375h4v4h-4zM200 379h20v4h-20zM332 379h4v4h-4zM220 383h4v4h-4zM224 387h4v4h-4zM244 387h4v4h-4zM704 387h4v4h-4zM224 391h8v4h-8zM236 391h8v4h-8zM340 391h4v4h-4zM376 391h4v4h-4zM708 391h4v4h-4zM232 395h4v4h-4zM712 395h4v4h-4zM868 395h4v4h-4zM352 403h12v4h-12zM736 407h4v4h-4zM788 411h4v4h-4zM872 411h4v4h-4zM808 415h4v4h-4zM824 419h8v4h-8zM836 423h4v4h-4zM844 427h4v4h-4zM880 427h4v4h-4zM856 435h4v4h-4zM884 435h4v4h-4zM864 439h4v4h-4zM880 439h4v4h-4zM712 471h8v4h-8zM708 475h4v4h-4zM708 479h4v4h-4zM724 483h4v4h-4z"/><path fill="#0074ff" d="M928 87h4v4h-4zM924 95h4v4h-4zM916 111h4v4h-4zM840 115h4v4h-4zM836 119h4v4h-4zM824 127h4v4h-4zM908 127h4v4h-4zM900 131h4v4h-4zM896 135h4v4h-4zM892 139h4v4h-4zM808 143h4v4h-4zM892 151h4v4h-4zM892 155h4v4h-4zM892 191h4v4h-4zM892 195h4v4h-4zM888 199h4v4h-4zM884 203h4v4h-4zM876 207h8v4h-8zM872 211h4v4h-4zM872 215h4v4h-4zM868 219h4v4h-4zM868 223h4v4h-4zM868 227h4v4h-4zM868 231h4v4h-4zM868 235h4v4h-4zM872 239h4v4h-4zM876 243h4v4h-4zM876 247h4v4h-4zM880 251h4v4h-4zM880 255h4v4h-4zM876 259h8v4h-8zM872 263h12v4h-12zM868 267h8v4h-8zM860 271h8v4h-8zM856 275h4v4h-4zM856 279h4v4h-4zM396 283h12v4h-12zM808 283h4v4h-4zM384 287h8v4h-8zM416 287h4v4h-4zM452 287h4v4h-4zM460 287h4v4h-4zM808 287h4v4h-4zM376 291h8v4h-8zM432 291h16v4h-16zM464 291h4v4h-4zM808 291h4v4h-4zM896 291h4v4h-4zM376 295h4v4h-4zM892 295h4v4h-4zM908 295h8v4h-8zM884 299h4v4h-4zM960 299h8v4h-8zM372 303h4v4h-4zM472 303h4v4h-4zM864 303h4v4h-4zM872 303h4v4h-4zM372 307h4v4h-4zM804 307h4v4h-4zM484 311h4v4h-4zM588 311h4v4h-4zM368 315h4v4h-4zM496 315h4v4h-4zM596 315h4v4h-4zM800 315h4v4h-4zM364 319h4v4h-4zM504 319h4v4h-4zM548 319h4v4h-4zM360 323h4v4h-4zM512 323h4v4h-4zM540 323h4v4h-4zM608 323h4v4h-4zM260 331h4v4h-4zM300 331h4v4h-4zM356 331h4v4h-4zM620 331h4v4h-4zM312 335h8v4h-8zM628 335h4v4h-4zM320 339h4v4h-4zM632 339h4v4h-4zM800 339h4v4h-4zM324 343h4v4h-4zM640 343h4v4h-4zM800 343h4v4h-4zM824 343h4v4h-4zM648 347h4v4h-4zM800 347h4v4h-4zM328 351h4v4h-4zM348 351h4v4h-4zM656 351h4v4h-4zM800 351h4v4h-4zM864 351h4v4h-4zM328 355h4v4h-4zM800 355h4v4h-4zM328 359h4v4h-4zM376 359h4v4h-4zM668 359h4v4h-4zM800 359h4v4h-4zM820 359h4v4h-4zM328 363h4v4h-4zM364 363h16v4h-16zM676 363h4v4h-4zM820 363h4v4h-4zM256 367h4v4h-4zM328 367h4v4h-4zM376 367h4v4h-4zM820 367h4v4h-4zM328 371h4v4h-4zM380 371h4v4h-4zM688 371h4v4h-4zM152 375h4v4h-4zM380 375h4v4h-4zM692 375h4v4h-4zM812 375h8v4h-8zM172 379h28v4h-28zM252 379h4v4h-4zM380 379h4v4h-4zM196 383h24v4h-24zM248 383h4v4h-4zM380 383h4v4h-4zM208 387h16v4h-16zM336 387h4v4h-4zM220 391h4v4h-4zM224 395h8v4h-8zM236 395h4v4h-4zM340 395h4v4h-4zM376 395h4v4h-4zM344 399h4v4h-4zM372 399h4v4h-4zM716 399h4v4h-4zM348 403h4v4h-4zM364 403h4v4h-4zM724 403h4v4h-4zM872 407h4v4h-4zM784 411h4v4h-4zM804 415h4v4h-4zM820 419h4v4h-4zM876 419h4v4h-4zM832 423h4v4h-4zM840 427h4v4h-4zM848 431h4v4h-4zM884 431h4v4h-4zM884 439h4v4h-4zM708 471h4v4h-4zM548 475h4v4h-4zM724 475h4v4h-4zM544 479h8v4h-8zM728 479h4v4h-4zM544 483h4v4h-4zM728 483h4v4h-4zM716 487h4v4h-4z"/><path fill="#007bff" d="M928 83h4v4h-4zM872 91h4v4h-4zM860 103h4v4h-4zM916 107h4v4h-4zM832 123h4v4h-4zM912 123h4v4h-4zM820 131h4v4h-4zM812 139h4v4h-4zM888 147h4v4h-4zM892 159h4v4h-4zM892 163h4v4h-4zM800 167h4v4h-4zM892 167h4v4h-4zM892 171h4v4h-4zM892 175h4v4h-4zM892 179h4v4h-4zM892 183h4v4h-4zM892 187h4v4h-4zM888 195h4v4h-4zM884 199h4v4h-4zM876 203h8v4h-8zM872 207h4v4h-4zM868 211h4v4h-4zM864 215h8v4h-8zM864 219h4v4h-4zM864 223h4v4h-4zM864 227h4v4h-4zM800 231h4v4h-4zM864 231h4v4h-4zM864 235h4v4h-4zM868 239h4v4h-4zM868 243h8v4h-8zM872 247h4v4h-4zM872 251h8v4h-8zM804 255h4v4h-4zM872 255h8v4h-8zM868 259h8v4h-8zM864 263h8v4h-8zM860 267h8v4h-8zM856 271h4v4h-4zM852 275h4v4h-4zM808 279h4v4h-4zM852 279h4v4h-4zM852 283h4v4h-4zM392 287h8v4h-8zM404 287h12v4h-12zM456 287h4v4h-4zM852 287h4v4h-4zM384 291h4v4h-4zM424 291h8v4h-8zM448 291h8v4h-8zM380 295h4v4h-4zM464 295h4v4h-4zM808 295h4v4h-4zM856 295h4v4h-4zM896 295h12v4h-12zM376 299h4v4h-4zM468 299h4v4h-4zM888 299h4v4h-4zM944 299h16v4h-16zM376 303h4v4h-4zM876 303h4v4h-4zM476 307h4v4h-4zM372 311h4v4h-4zM564 311h4v4h-4zM584 311h4v4h-4zM492 315h4v4h-4zM556 315h4v4h-4zM500 319h4v4h-4zM600 319h4v4h-4zM800 319h4v4h-4zM544 323h4v4h-4zM612 327h4v4h-4zM800 327h4v4h-4zM264 331h4v4h-4zM292 331h8v4h-8zM616 331h4v4h-4zM800 331h4v4h-4zM260 335h4v4h-4zM308 335h4v4h-4zM356 335h4v4h-4zM624 335h4v4h-4zM800 335h4v4h-4zM260 339h4v4h-4zM316 339h4v4h-4zM628 339h4v4h-4zM848 339h4v4h-4zM320 343h4v4h-4zM352 343h4v4h-4zM636 343h4v4h-4zM856 343h4v4h-4zM324 347h4v4h-4zM644 347h4v4h-4zM324 351h4v4h-4zM652 351h4v4h-4zM352 355h4v4h-4zM376 355h8v4h-8zM660 355h4v4h-4zM820 355h4v4h-4zM356 359h4v4h-4zM372 359h4v4h-4zM380 359h4v4h-4zM380 363h4v4h-4zM380 367h4v4h-4zM680 367h4v4h-4zM804 367h4v4h-4zM256 371h4v4h-4zM808 371h4v4h-4zM148 375h4v4h-4zM328 375h4v4h-4zM164 379h8v4h-8zM184 383h12v4h-12zM332 383h4v4h-4zM196 387h12v4h-12zM248 387h4v4h-4zM380 387h4v4h-4zM208 391h12v4h-12zM244 391h4v4h-4zM868 391h4v4h-4zM220 395h4v4h-4zM240 395h4v4h-4zM228 399h12v4h-12zM344 403h4v4h-4zM368 403h4v4h-4zM352 407h8v4h-8zM732 407h4v4h-4zM780 411h4v4h-4zM816 419h4v4h-4zM828 423h4v4h-4zM880 423h4v4h-4zM836 427h4v4h-4zM852 435h4v4h-4zM888 435h4v4h-4zM860 439h4v4h-4zM888 439h4v4h-4zM872 443h20v4h-20zM548 463h4v4h-4zM548 467h8v4h-8zM544 471h12v4h-12zM720 471h4v4h-4zM544 475h4v4h-4zM552 475h4v4h-4zM540 479h4v4h-4zM552 479h4v4h-4zM540 483h4v4h-4zM548 483h4v4h-4zM708 483h4v4h-4zM712 487h4v4h-4zM720 487h4v4h-4z"/><path fill="#0081ff" d="M924 91h4v4h-4zM920 99h4v4h-4zM912 119h4v4h-4zM904 127h4v4h-4zM896 131h4v4h-4zM816 135h4v4h-4zM892 135h4v4h-4zM888 143h4v4h-4zM888 151h4v4h-4zM804 155h4v4h-4zM888 155h4v4h-4zM888 159h4v4h-4zM888 187h4v4h-4zM888 191h4v4h-4zM884 195h4v4h-4zM880 199h4v4h-4zM872 203h4v4h-4zM868 207h4v4h-4zM864 211h4v4h-4zM860 215h4v4h-4zM860 219h4v4h-4zM860 223h4v4h-4zM800 227h4v4h-4zM856 227h8v4h-8zM856 231h8v4h-8zM860 235h4v4h-4zM860 239h8v4h-8zM864 243h4v4h-4zM868 247h4v4h-4zM804 251h4v4h-4zM868 251h4v4h-4zM868 255h4v4h-4zM864 259h4v4h-4zM860 263h4v4h-4zM856 267h4v4h-4zM852 271h4v4h-4zM808 275h4v4h-4zM400 287h4v4h-4zM388 291h8v4h-8zM416 291h8v4h-8zM456 291h8v4h-8zM852 291h4v4h-4zM384 295h4v4h-4zM440 295h12v4h-12zM380 299h4v4h-4zM464 299h4v4h-4zM892 299h4v4h-4zM936 299h8v4h-8zM380 303h4v4h-4zM468 303h4v4h-4zM860 303h4v4h-4zM880 303h4v4h-4zM376 307h4v4h-4zM472 307h4v4h-4zM376 311h4v4h-4zM480 311h4v4h-4zM568 311h16v4h-16zM804 311h4v4h-4zM372 315h4v4h-4zM488 315h4v4h-4zM560 315h4v4h-4zM592 315h4v4h-4zM368 319h4v4h-4zM496 319h4v4h-4zM552 319h4v4h-4zM364 323h4v4h-4zM508 323h4v4h-4zM604 323h4v4h-4zM800 323h4v4h-4zM360 327h4v4h-4zM532 327h8v4h-8zM608 327h4v4h-4zM268 331h24v4h-24zM304 335h4v4h-4zM620 335h4v4h-4zM624 339h4v4h-4zM260 343h4v4h-4zM632 343h4v4h-4zM260 347h4v4h-4zM320 347h4v4h-4zM352 347h4v4h-4zM380 347h4v4h-4zM640 347h4v4h-4zM260 351h4v4h-4zM376 351h8v4h-8zM648 351h4v4h-4zM820 351h4v4h-4zM324 355h4v4h-4zM372 355h4v4h-4zM324 359h4v4h-4zM360 359h4v4h-4zM368 359h4v4h-4zM664 359h4v4h-4zM324 363h4v4h-4zM384 363h4v4h-4zM672 363h4v4h-4zM324 367h4v4h-4zM384 367h4v4h-4zM384 371h4v4h-4zM812 371h8v4h-8zM256 375h4v4h-4zM384 375h4v4h-4zM160 379h4v4h-4zM328 379h4v4h-4zM384 379h4v4h-4zM172 383h12v4h-12zM252 383h4v4h-4zM696 383h4v4h-4zM188 387h8v4h-8zM868 387h4v4h-4zM200 391h8v4h-8zM248 391h4v4h-4zM336 391h4v4h-4zM380 391h4v4h-4zM212 395h8v4h-8zM244 395h4v4h-4zM220 399h8v4h-8zM240 399h4v4h-4zM340 399h4v4h-4zM376 399h4v4h-4zM228 403h12v4h-12zM372 403h4v4h-4zM872 403h4v4h-4zM348 407h4v4h-4zM360 407h4v4h-4zM800 415h4v4h-4zM824 423h4v4h-4zM832 427h4v4h-4zM884 427h4v4h-4zM844 431h4v4h-4zM888 431h4v4h-4zM892 435h4v4h-4zM892 439h4v4h-4zM868 443h4v4h-4zM892 443h4v4h-4zM548 455h4v4h-4zM548 459h4v4h-4zM544 463h4v4h-4zM552 463h4v4h-4zM544 467h4v4h-4zM712 467h4v4h-4zM540 475h4v4h-4zM536 483h4v4h-4zM552 483h4v4h-4zM540 487h12v4h-12zM724 487h4v4h-4z"/><path fill="#0088ff" d="M916 103h4v4h-4zM912 111h4v4h-4zM912 115h4v4h-4zM908 123h4v4h-4zM828 127h4v4h-4zM888 139h4v4h-4zM808 147h4v4h-4zM888 163h4v4h-4zM888 167h4v4h-4zM800 171h4v4h-4zM888 171h4v4h-4zM888 175h4v4h-4zM888 179h4v4h-4zM888 183h4v4h-4zM884 191h4v4h-4zM880 195h4v4h-4zM872 199h8v4h-8zM864 203h8v4h-8zM856 207h12v4h-12zM856 211h8v4h-8zM852 215h8v4h-8zM852 219h8v4h-8zM800 223h4v4h-4zM852 223h8v4h-8zM852 227h4v4h-4zM852 231h4v4h-4zM856 235h4v4h-4zM856 239h4v4h-4zM860 243h4v4h-4zM864 247h4v4h-4zM864 251h4v4h-4zM864 255h4v4h-4zM860 259h4v4h-4zM856 263h4v4h-4zM852 267h4v4h-4zM808 271h4v4h-4zM848 275h4v4h-4zM848 279h4v4h-4zM848 283h4v4h-4zM848 287h4v4h-4zM396 291h20v4h-20zM388 295h4v4h-4zM432 295h8v4h-8zM452 295h12v4h-12zM384 299h4v4h-4zM808 299h4v4h-4zM856 299h4v4h-4zM896 299h40v4h-40zM884 303h4v4h-4zM380 307h4v4h-4zM476 311h4v4h-4zM376 315h4v4h-4zM484 315h4v4h-4zM564 315h4v4h-4zM588 315h4v4h-4zM372 319h4v4h-4zM492 319h4v4h-4zM556 319h4v4h-4zM596 319h4v4h-4zM368 323h4v4h-4zM504 323h4v4h-4zM548 323h4v4h-4zM520 327h12v4h-12zM540 327h4v4h-4zM360 331h4v4h-4zM612 331h4v4h-4zM264 335h4v4h-4zM300 335h4v4h-4zM616 335h4v4h-4zM832 335h12v4h-12zM312 339h4v4h-4zM356 339h4v4h-4zM620 339h4v4h-4zM824 339h4v4h-4zM852 339h4v4h-4zM316 343h4v4h-4zM628 343h4v4h-4zM860 343h4v4h-4zM376 347h4v4h-4zM636 347h4v4h-4zM820 347h4v4h-4zM864 347h4v4h-4zM320 351h4v4h-4zM352 351h4v4h-4zM384 351h4v4h-4zM644 351h4v4h-4zM260 355h4v4h-4zM384 355h4v4h-4zM656 355h4v4h-4zM260 359h4v4h-4zM364 359h4v4h-4zM384 359h4v4h-4zM260 363h4v4h-4zM668 363h4v4h-4zM804 363h4v4h-4zM868 363h4v4h-4zM260 367h4v4h-4zM676 367h4v4h-4zM816 367h4v4h-4zM868 367h4v4h-4zM324 371h4v4h-4zM684 371h4v4h-4zM868 371h4v4h-4zM688 375h4v4h-4zM868 375h4v4h-4zM156 379h4v4h-4zM256 379h4v4h-4zM692 379h4v4h-4zM868 379h4v4h-4zM168 383h4v4h-4zM328 383h4v4h-4zM384 383h4v4h-4zM868 383h4v4h-4zM180 387h8v4h-8zM252 387h4v4h-4zM332 387h4v4h-4zM700 387h4v4h-4zM192 391h8v4h-8zM204 395h8v4h-8zM336 395h4v4h-4zM380 395h4v4h-4zM216 399h4v4h-4zM244 399h4v4h-4zM224 403h4v4h-4zM240 403h4v4h-4zM340 403h4v4h-4zM720 403h4v4h-4zM232 407h4v4h-4zM344 407h4v4h-4zM364 407h4v4h-4zM348 411h8v4h-8zM536 411h8v4h-8zM744 411h8v4h-8zM776 411h4v4h-4zM536 415h12v4h-12zM796 415h4v4h-4zM876 415h4v4h-4zM536 419h12v4h-12zM812 419h4v4h-4zM536 423h12v4h-12zM820 423h4v4h-4zM540 427h8v4h-8zM828 427h4v4h-4zM540 431h8v4h-8zM840 431h4v4h-4zM544 435h4v4h-4zM848 435h4v4h-4zM544 439h4v4h-4zM856 439h4v4h-4zM896 439h4v4h-4zM544 443h4v4h-4zM864 443h4v4h-4zM896 443h4v4h-4zM544 447h8v4h-8zM880 447h16v4h-16zM544 451h8v4h-8zM544 455h4v4h-4zM552 455h4v4h-4zM544 459h4v4h-4zM552 459h4v4h-4zM540 467h4v4h-4zM708 467h4v4h-4zM716 467h4v4h-4zM540 471h4v4h-4zM556 471h4v4h-4zM556 475h4v4h-4zM704 475h4v4h-4zM728 475h4v4h-4zM536 479h4v4h-4zM704 479h4v4h-4zM732 479h4v4h-4zM732 483h4v4h-4zM536 487h4v4h-4zM728 487h4v4h-4z"/><path fill="#008eff" d="M920 95h4v4h-4zM856 107h4v4h-4zM848 111h4v4h-4zM908 119h4v4h-4zM836 123h4v4h-4zM900 127h4v4h-4zM888 135h4v4h-4zM884 143h4v4h-4zM884 147h4v4h-4zM884 151h4v4h-4zM884 155h4v4h-4zM804 159h4v4h-4zM884 159h4v4h-4zM884 163h4v4h-4zM884 167h4v4h-4zM884 171h4v4h-4zM800 175h4v4h-4zM884 175h4v4h-4zM884 179h4v4h-4zM884 183h4v4h-4zM884 187h4v4h-4zM880 191h4v4h-4zM872 195h8v4h-8zM852 199h4v4h-4zM864 199h8v4h-8zM848 203h16v4h-16zM848 207h8v4h-8zM848 211h8v4h-8zM848 215h4v4h-4zM848 219h4v4h-4zM848 223h4v4h-4zM852 235h4v4h-4zM852 239h4v4h-4zM856 243h4v4h-4zM804 247h4v4h-4zM856 247h8v4h-8zM860 251h4v4h-4zM860 255h4v4h-4zM856 259h4v4h-4zM852 263h4v4h-4zM848 271h4v4h-4zM392 295h4v4h-4zM420 295h12v4h-12zM852 295h4v4h-4zM388 299h4v4h-4zM444 299h20v4h-20zM384 303h4v4h-4zM464 303h4v4h-4zM808 303h4v4h-4zM888 303h8v4h-8zM944 303h12v4h-12zM468 307h4v4h-4zM864 307h8v4h-8zM380 311h4v4h-4zM472 311h4v4h-4zM480 315h4v4h-4zM584 315h4v4h-4zM804 315h4v4h-4zM376 319h4v4h-4zM488 319h4v4h-4zM372 323h4v4h-4zM500 323h4v4h-4zM552 323h4v4h-4zM600 323h4v4h-4zM364 327h4v4h-4zM516 327h4v4h-4zM544 327h4v4h-4zM604 327h4v4h-4zM268 335h4v4h-4zM296 335h4v4h-4zM360 335h4v4h-4zM828 335h4v4h-4zM264 339h4v4h-4zM308 339h4v4h-4zM376 343h8v4h-8zM624 343h4v4h-4zM316 347h4v4h-4zM384 347h4v4h-4zM632 347h4v4h-4zM372 351h4v4h-4zM640 351h4v4h-4zM320 355h4v4h-4zM356 355h4v4h-4zM368 355h4v4h-4zM652 355h4v4h-4zM804 355h4v4h-4zM868 355h4v4h-4zM320 359h4v4h-4zM660 359h4v4h-4zM804 359h4v4h-4zM816 359h4v4h-4zM868 359h4v4h-4zM816 363h4v4h-4zM808 367h4v4h-4zM260 371h4v4h-4zM388 371h4v4h-4zM324 375h4v4h-4zM388 375h4v4h-4zM148 379h8v4h-8zM324 379h4v4h-4zM160 383h8v4h-8zM256 383h4v4h-4zM172 387h8v4h-8zM384 387h4v4h-4zM184 391h8v4h-8zM252 391h4v4h-4zM332 391h4v4h-4zM704 391h4v4h-4zM196 395h8v4h-8zM248 395h4v4h-4zM708 395h4v4h-4zM208 399h8v4h-8zM336 399h4v4h-4zM220 403h4v4h-4zM224 407h8v4h-8zM236 407h4v4h-4zM340 407h4v4h-4zM368 407h4v4h-4zM536 407h8v4h-8zM728 407h4v4h-4zM344 411h4v4h-4zM356 411h4v4h-4zM532 411h4v4h-4zM544 411h4v4h-4zM740 411h4v4h-4zM752 411h4v4h-4zM772 411h4v4h-4zM528 415h8v4h-8zM792 415h4v4h-4zM416 419h8v4h-8zM532 419h4v4h-4zM808 419h4v4h-4zM416 423h8v4h-8zM532 423h4v4h-4zM548 423h4v4h-4zM416 427h8v4h-8zM536 427h4v4h-4zM548 427h4v4h-4zM824 427h4v4h-4zM420 431h4v4h-4zM536 431h4v4h-4zM548 431h4v4h-4zM832 431h8v4h-8zM892 431h4v4h-4zM540 435h4v4h-4zM548 435h4v4h-4zM844 435h4v4h-4zM896 435h4v4h-4zM540 439h4v4h-4zM548 439h4v4h-4zM852 439h4v4h-4zM900 439h4v4h-4zM540 443h4v4h-4zM548 443h4v4h-4zM860 443h4v4h-4zM900 443h4v4h-4zM540 447h4v4h-4zM872 447h8v4h-8zM896 447h4v4h-4zM540 451h4v4h-4zM552 451h4v4h-4zM888 451h4v4h-4zM540 455h4v4h-4zM540 459h4v4h-4zM540 463h4v4h-4zM556 463h4v4h-4zM556 467h4v4h-4zM704 471h4v4h-4zM724 471h4v4h-4zM536 475h4v4h-4zM532 479h4v4h-4zM556 479h4v4h-4zM532 483h4v4h-4zM556 483h4v4h-4zM532 487h4v4h-4zM552 487h4v4h-4zM708 487h4v4h-4zM540 491h12v4h-12z"/><path fill="#0094ff" d="M876 83h4v4h-4zM876 87h4v4h-4zM924 87h4v4h-4zM872 95h4v4h-4zM868 99h4v4h-4zM916 99h4v4h-4zM912 107h4v4h-4zM840 119h4v4h-4zM904 123h4v4h-4zM832 127h4v4h-4zM896 127h4v4h-4zM824 131h4v4h-4zM892 131h4v4h-4zM884 139h4v4h-4zM880 151h4v4h-4zM880 155h4v4h-4zM800 179h4v4h-4zM848 179h4v4h-4zM848 183h4v4h-4zM880 183h4v4h-4zM848 187h4v4h-4zM880 187h4v4h-4zM848 191h8v4h-8zM872 191h8v4h-8zM848 195h24v4h-24zM848 199h4v4h-4zM856 199h8v4h-8zM800 219h4v4h-4zM848 227h4v4h-4zM848 231h4v4h-4zM848 235h4v4h-4zM848 239h4v4h-4zM852 243h4v4h-4zM852 247h4v4h-4zM856 251h4v4h-4zM856 255h4v4h-4zM852 259h4v4h-4zM848 263h4v4h-4zM808 267h4v4h-4zM848 267h4v4h-4zM844 275h4v4h-4zM844 279h4v4h-4zM844 283h4v4h-4zM848 291h4v4h-4zM396 295h24v4h-24zM392 299h4v4h-4zM436 299h8v4h-8zM388 303h4v4h-4zM460 303h4v4h-4zM896 303h8v4h-8zM936 303h8v4h-8zM956 303h12v4h-12zM384 307h4v4h-4zM464 307h4v4h-4zM872 307h8v4h-8zM380 315h4v4h-4zM476 315h4v4h-4zM568 315h8v4h-8zM580 315h4v4h-4zM380 319h4v4h-4zM484 319h4v4h-4zM560 319h4v4h-4zM592 319h4v4h-4zM804 319h4v4h-4zM376 323h4v4h-4zM492 323h8v4h-8zM804 323h4v4h-4zM368 327h8v4h-8zM512 327h4v4h-4zM804 327h4v4h-4zM364 331h4v4h-4zM536 331h4v4h-4zM608 331h4v4h-4zM804 331h4v4h-4zM272 335h24v4h-24zM612 335h4v4h-4zM804 335h4v4h-4zM844 335h4v4h-4zM376 339h8v4h-8zM616 339h4v4h-4zM804 339h4v4h-4zM264 343h4v4h-4zM312 343h4v4h-4zM356 343h4v4h-4zM372 343h4v4h-4zM384 343h4v4h-4zM620 343h4v4h-4zM804 343h4v4h-4zM820 343h4v4h-4zM372 347h4v4h-4zM628 347h4v4h-4zM804 347h4v4h-4zM316 351h4v4h-4zM636 351h4v4h-4zM804 351h4v4h-4zM868 351h4v4h-4zM644 355h8v4h-8zM816 355h4v4h-4zM656 359h4v4h-4zM320 363h4v4h-4zM388 363h4v4h-4zM664 363h4v4h-4zM320 367h4v4h-4zM388 367h4v4h-4zM672 367h4v4h-4zM812 367h4v4h-4zM680 371h4v4h-4zM260 375h4v4h-4zM260 379h4v4h-4zM388 379h4v4h-4zM152 383h8v4h-8zM164 387h8v4h-8zM256 387h4v4h-4zM328 387h4v4h-4zM172 391h12v4h-12zM384 391h4v4h-4zM184 395h12v4h-12zM252 395h4v4h-4zM196 399h12v4h-12zM248 399h4v4h-4zM380 399h4v4h-4zM712 399h4v4h-4zM872 399h4v4h-4zM208 403h12v4h-12zM244 403h4v4h-4zM376 403h4v4h-4zM220 407h4v4h-4zM240 407h4v4h-4zM372 407h4v4h-4zM528 407h8v4h-8zM544 407h4v4h-4zM224 411h16v4h-16zM360 411h8v4h-8zM524 411h8v4h-8zM736 411h4v4h-4zM756 411h16v4h-16zM876 411h4v4h-4zM228 415h4v4h-4zM348 415h4v4h-4zM412 415h8v4h-8zM524 415h4v4h-4zM548 415h4v4h-4zM412 419h4v4h-4zM424 419h4v4h-4zM528 419h4v4h-4zM548 419h4v4h-4zM880 419h4v4h-4zM412 423h4v4h-4zM424 423h4v4h-4zM816 423h4v4h-4zM884 423h4v4h-4zM424 427h4v4h-4zM532 427h4v4h-4zM820 427h4v4h-4zM888 427h4v4h-4zM416 431h4v4h-4zM424 431h4v4h-4zM828 431h4v4h-4zM420 435h4v4h-4zM536 435h4v4h-4zM836 435h8v4h-8zM900 435h4v4h-4zM536 439h4v4h-4zM848 439h4v4h-4zM904 439h8v4h-8zM856 443h4v4h-4zM904 443h12v4h-12zM552 447h4v4h-4zM868 447h4v4h-4zM900 447h4v4h-4zM880 451h8v4h-8zM892 451h4v4h-4zM556 459h4v4h-4zM536 467h4v4h-4zM720 467h4v4h-4zM536 471h4v4h-4zM532 475h4v4h-4zM528 479h4v4h-4zM528 483h4v4h-4zM704 483h4v4h-4zM536 491h4v4h-4zM716 491h4v4h-4zM444 515h4v4h-4zM440 519h12v4h-12zM440 523h12v4h-12z"/><path fill="#009bff" d="M920 91h4v4h-4zM864 103h4v4h-4zM912 103h4v4h-4zM844 115h4v4h-4zM908 115h4v4h-4zM900 123h4v4h-4zM820 135h4v4h-4zM812 143h4v4h-4zM880 143h4v4h-4zM880 147h4v4h-4zM808 151h4v4h-4zM880 159h4v4h-4zM880 163h4v4h-4zM848 167h4v4h-4zM880 167h4v4h-4zM844 171h12v4h-12zM880 171h4v4h-4zM844 175h12v4h-12zM880 175h4v4h-4zM844 179h4v4h-4zM852 179h4v4h-4zM880 179h4v4h-4zM800 183h4v4h-4zM844 183h4v4h-4zM852 183h8v4h-8zM876 183h4v4h-4zM844 187h4v4h-4zM852 187h8v4h-8zM872 187h8v4h-8zM844 191h4v4h-4zM856 191h16v4h-16zM844 195h4v4h-4zM844 199h4v4h-4zM844 203h4v4h-4zM844 207h4v4h-4zM844 211h4v4h-4zM800 215h4v4h-4zM844 215h4v4h-4zM844 219h4v4h-4zM844 223h4v4h-4zM804 243h4v4h-4zM848 243h4v4h-4zM848 247h4v4h-4zM852 251h4v4h-4zM852 255h4v4h-4zM848 259h4v4h-4zM808 263h4v4h-4zM844 267h4v4h-4zM844 271h4v4h-4zM844 287h4v4h-4zM396 299h4v4h-4zM428 299h8v4h-8zM448 303h12v4h-12zM856 303h4v4h-4zM904 303h32v4h-32zM808 307h4v4h-4zM860 307h4v4h-4zM880 307h20v4h-20zM384 311h4v4h-4zM468 311h4v4h-4zM384 315h4v4h-4zM472 315h4v4h-4zM576 315h4v4h-4zM480 319h4v4h-4zM564 319h4v4h-4zM588 319h4v4h-4zM380 323h4v4h-4zM488 323h4v4h-4zM556 323h4v4h-4zM596 323h4v4h-4zM376 327h4v4h-4zM508 327h4v4h-4zM548 327h4v4h-4zM368 331h8v4h-8zM528 331h8v4h-8zM540 331h4v4h-4zM364 335h4v4h-4zM372 335h8v4h-8zM824 335h4v4h-4zM268 339h4v4h-4zM304 339h4v4h-4zM360 339h4v4h-4zM372 339h4v4h-4zM856 339h4v4h-4zM864 343h4v4h-4zM264 347h4v4h-4zM312 347h4v4h-4zM356 347h4v4h-4zM624 347h4v4h-4zM868 347h4v4h-4zM264 351h4v4h-4zM356 351h4v4h-4zM368 351h4v4h-4zM632 351h4v4h-4zM816 351h4v4h-4zM316 355h4v4h-4zM360 355h8v4h-8zM640 355h4v4h-4zM388 359h4v4h-4zM652 359h4v4h-4zM808 363h8v4h-8zM668 367h4v4h-4zM320 371h4v4h-4zM676 371h4v4h-4zM320 375h4v4h-4zM684 375h4v4h-4zM688 379h4v4h-4zM148 383h4v4h-4zM260 383h4v4h-4zM324 383h4v4h-4zM388 383h4v4h-4zM692 383h4v4h-4zM148 387h16v4h-16zM148 391h24v4h-24zM256 391h4v4h-4zM156 395h28v4h-28zM332 395h4v4h-4zM164 399h32v4h-32zM252 399h4v4h-4zM176 403h32v4h-32zM248 403h4v4h-4zM336 403h4v4h-4zM532 403h12v4h-12zM716 403h4v4h-4zM188 407h32v4h-32zM244 407h4v4h-4zM520 407h8v4h-8zM724 407h4v4h-4zM200 411h24v4h-24zM240 411h4v4h-4zM340 411h4v4h-4zM520 411h4v4h-4zM548 411h4v4h-4zM212 415h16v4h-16zM232 415h8v4h-8zM344 415h4v4h-4zM352 415h8v4h-8zM408 415h4v4h-4zM420 415h4v4h-4zM788 415h4v4h-4zM216 419h20v4h-20zM408 419h4v4h-4zM524 419h4v4h-4zM804 419h4v4h-4zM528 423h4v4h-4zM812 423h4v4h-4zM412 427h4v4h-4zM428 427h4v4h-4zM428 431h4v4h-4zM532 431h4v4h-4zM552 431h4v4h-4zM824 431h4v4h-4zM896 431h4v4h-4zM416 435h4v4h-4zM424 435h4v4h-4zM552 435h4v4h-4zM832 435h4v4h-4zM904 435h4v4h-4zM552 439h4v4h-4zM844 439h4v4h-4zM912 439h8v4h-8zM536 443h4v4h-4zM552 443h4v4h-4zM916 443h4v4h-4zM536 447h4v4h-4zM864 447h4v4h-4zM904 447h8v4h-8zM536 451h4v4h-4zM876 451h4v4h-4zM896 451h4v4h-4zM536 455h4v4h-4zM556 455h4v4h-4zM536 459h4v4h-4zM536 463h4v4h-4zM712 463h4v4h-4zM704 467h4v4h-4zM532 471h4v4h-4zM732 475h4v4h-4zM524 483h4v4h-4zM528 487h4v4h-4zM556 487h4v4h-4zM732 487h4v4h-4zM552 491h4v4h-4zM712 491h4v4h-4zM720 491h4v4h-4zM440 515h4v4h-4zM448 515h4v4h-4zM436 519h4v4h-4zM436 523h4v4h-4zM440 527h8v4h-8z"/><path fill="#00a1ff" d="M924 83h4v4h-4zM876 91h4v4h-4zM908 111h4v4h-4zM904 119h4v4h-4zM888 131h4v4h-4zM884 135h4v4h-4zM816 139h4v4h-4zM876 147h4v4h-4zM876 151h4v4h-4zM876 155h4v4h-4zM876 159h4v4h-4zM804 163h4v4h-4zM848 163h8v4h-8zM876 163h4v4h-4zM844 167h4v4h-4zM852 167h8v4h-8zM876 167h4v4h-4zM856 171h4v4h-4zM876 171h4v4h-4zM840 175h4v4h-4zM856 175h4v4h-4zM876 175h4v4h-4zM840 179h4v4h-4zM856 179h8v4h-8zM876 179h4v4h-4zM840 183h4v4h-4zM860 183h16v4h-16zM800 187h4v4h-4zM840 187h4v4h-4zM860 187h12v4h-12zM840 191h4v4h-4zM840 195h4v4h-4zM800 207h4v4h-4zM800 211h4v4h-4zM844 227h4v4h-4zM844 231h4v4h-4zM844 235h4v4h-4zM804 239h4v4h-4zM844 239h4v4h-4zM848 251h4v4h-4zM848 255h4v4h-4zM844 263h4v4h-4zM844 291h4v4h-4zM848 295h4v4h-4zM400 299h28v4h-28zM852 299h4v4h-4zM392 303h4v4h-4zM444 303h4v4h-4zM388 307h4v4h-4zM456 307h8v4h-8zM900 307h4v4h-4zM940 307h20v4h-20zM464 311h4v4h-4zM808 311h4v4h-4zM888 311h12v4h-12zM384 319h4v4h-4zM476 319h4v4h-4zM484 323h4v4h-4zM380 327h4v4h-4zM500 327h8v4h-8zM600 327h4v4h-4zM376 331h8v4h-8zM524 331h4v4h-4zM544 331h4v4h-4zM604 331h4v4h-4zM368 335h4v4h-4zM380 335h4v4h-4zM608 335h4v4h-4zM848 335h4v4h-4zM300 339h4v4h-4zM364 339h8v4h-8zM384 339h4v4h-4zM612 339h4v4h-4zM820 339h4v4h-4zM308 343h4v4h-4zM360 343h4v4h-4zM368 343h4v4h-4zM616 343h4v4h-4zM368 347h4v4h-4zM620 347h4v4h-4zM816 347h4v4h-4zM388 351h4v4h-4zM628 351h4v4h-4zM264 355h4v4h-4zM388 355h4v4h-4zM636 355h4v4h-4zM808 355h4v4h-4zM264 359h4v4h-4zM316 359h4v4h-4zM648 359h4v4h-4zM808 359h8v4h-8zM264 363h4v4h-4zM316 363h4v4h-4zM660 363h4v4h-4zM264 367h4v4h-4zM392 371h4v4h-4zM392 375h4v4h-4zM320 379h4v4h-4zM392 379h4v4h-4zM260 387h4v4h-4zM388 387h4v4h-4zM696 387h4v4h-4zM328 391h4v4h-4zM148 395h8v4h-8zM256 395h4v4h-4zM384 395h4v4h-4zM872 395h4v4h-4zM148 399h16v4h-16zM332 399h4v4h-4zM148 403h28v4h-28zM252 403h4v4h-4zM380 403h4v4h-4zM520 403h12v4h-12zM544 403h4v4h-4zM148 407h40v4h-40zM248 407h4v4h-4zM336 407h4v4h-4zM376 407h4v4h-4zM516 407h4v4h-4zM548 407h4v4h-4zM876 407h4v4h-4zM148 411h52v4h-52zM244 411h4v4h-4zM336 411h4v4h-4zM368 411h4v4h-4zM516 411h4v4h-4zM148 415h64v4h-64zM240 415h4v4h-4zM340 415h4v4h-4zM360 415h4v4h-4zM424 415h4v4h-4zM520 415h4v4h-4zM784 415h4v4h-4zM148 419h68v4h-68zM236 419h8v4h-8zM344 419h4v4h-4zM428 419h4v4h-4zM520 419h4v4h-4zM552 419h4v4h-4zM800 419h4v4h-4zM148 423h92v4h-92zM408 423h4v4h-4zM428 423h4v4h-4zM524 423h4v4h-4zM552 423h4v4h-4zM148 427h84v4h-84zM528 427h4v4h-4zM552 427h4v4h-4zM816 427h4v4h-4zM892 427h4v4h-4zM148 431h76v4h-76zM412 431h4v4h-4zM528 431h4v4h-4zM820 431h4v4h-4zM900 431h4v4h-4zM148 435h64v4h-64zM428 435h4v4h-4zM532 435h4v4h-4zM828 435h4v4h-4zM908 435h8v4h-8zM148 439h48v4h-48zM420 439h8v4h-8zM532 439h4v4h-4zM836 439h8v4h-8zM148 443h28v4h-28zM532 443h4v4h-4zM848 443h8v4h-8zM860 447h4v4h-4zM912 447h8v4h-8zM556 451h4v4h-4zM872 451h4v4h-4zM900 451h4v4h-4zM880 455h12v4h-12zM532 463h4v4h-4zM708 463h4v4h-4zM716 463h4v4h-4zM532 467h4v4h-4zM560 467h4v4h-4zM724 467h4v4h-4zM560 471h4v4h-4zM728 471h4v4h-4zM528 475h4v4h-4zM560 475h4v4h-4zM524 479h4v4h-4zM560 479h4v4h-4zM736 479h4v4h-4zM560 483h4v4h-4zM736 483h4v4h-4zM524 487h4v4h-4zM704 487h4v4h-4zM532 491h4v4h-4zM724 491h4v4h-4zM544 495h4v4h-4zM440 511h12v4h-12zM436 515h4v4h-4zM452 515h4v4h-4zM452 519h4v4h-4zM452 523h4v4h-4zM448 527h8v4h-8z"/><path fill="#00a8ff" d="M916 95h4v4h-4zM860 107h4v4h-4zM908 107h4v4h-4zM852 111h4v4h-4zM904 115h4v4h-4zM896 123h4v4h-4zM892 127h4v4h-4zM828 131h4v4h-4zM880 139h4v4h-4zM876 143h4v4h-4zM872 151h4v4h-4zM868 155h8v4h-8zM848 159h12v4h-12zM868 159h8v4h-8zM844 163h4v4h-4zM856 163h8v4h-8zM868 163h8v4h-8zM860 167h4v4h-4zM868 167h8v4h-8zM840 171h4v4h-4zM860 171h16v4h-16zM860 175h16v4h-16zM864 179h12v4h-12zM800 191h4v4h-4zM800 195h4v4h-4zM800 199h4v4h-4zM840 199h4v4h-4zM800 203h4v4h-4zM840 203h4v4h-4zM840 207h4v4h-4zM840 211h4v4h-4zM844 243h4v4h-4zM844 247h4v4h-4zM844 251h4v4h-4zM844 255h4v4h-4zM808 259h4v4h-4zM844 259h4v4h-4zM840 275h4v4h-4zM840 279h4v4h-4zM812 283h4v4h-4zM840 283h4v4h-4zM812 287h4v4h-4zM840 287h4v4h-4zM812 291h4v4h-4zM812 295h4v4h-4zM844 295h4v4h-4zM396 303h4v4h-4zM432 303h12v4h-12zM452 307h4v4h-4zM904 307h8v4h-8zM936 307h4v4h-4zM960 307h4v4h-4zM388 311h4v4h-4zM460 311h4v4h-4zM884 311h4v4h-4zM900 311h4v4h-4zM468 315h4v4h-4zM808 315h4v4h-4zM888 315h12v4h-12zM472 319h4v4h-4zM568 319h4v4h-4zM584 319h4v4h-4zM888 319h8v4h-8zM384 323h4v4h-4zM480 323h4v4h-4zM560 323h4v4h-4zM592 323h4v4h-4zM384 327h4v4h-4zM488 327h12v4h-12zM552 327h4v4h-4zM384 331h4v4h-4zM516 331h8v4h-8zM384 335h4v4h-4zM272 339h28v4h-28zM808 339h4v4h-4zM860 339h4v4h-4zM268 343h4v4h-4zM304 343h4v4h-4zM364 343h4v4h-4zM808 343h4v4h-4zM816 343h4v4h-4zM868 343h4v4h-4zM360 347h8v4h-8zM388 347h4v4h-4zM808 347h4v4h-4zM312 351h4v4h-4zM360 351h8v4h-8zM624 351h4v4h-4zM808 351h8v4h-8zM632 355h4v4h-4zM812 355h4v4h-4zM640 359h8v4h-8zM656 363h4v4h-4zM316 367h4v4h-4zM392 367h4v4h-4zM664 367h4v4h-4zM264 371h4v4h-4zM316 371h4v4h-4zM672 371h4v4h-4zM264 375h4v4h-4zM680 375h4v4h-4zM264 379h4v4h-4zM320 383h4v4h-4zM324 387h4v4h-4zM260 391h4v4h-4zM388 391h4v4h-4zM700 391h4v4h-4zM256 399h4v4h-4zM384 399h4v4h-4zM528 399h16v4h-16zM332 403h4v4h-4zM512 403h8v4h-8zM252 407h4v4h-4zM508 407h8v4h-8zM248 411h4v4h-4zM372 411h4v4h-4zM408 411h16v4h-16zM512 411h4v4h-4zM732 411h4v4h-4zM244 415h8v4h-8zM336 415h4v4h-4zM364 415h4v4h-4zM404 415h4v4h-4zM428 415h4v4h-4zM516 415h4v4h-4zM552 415h4v4h-4zM780 415h4v4h-4zM880 415h4v4h-4zM244 419h8v4h-8zM336 419h8v4h-8zM348 419h8v4h-8zM404 419h4v4h-4zM516 419h4v4h-4zM884 419h4v4h-4zM240 423h12v4h-12zM520 423h4v4h-4zM808 423h4v4h-4zM888 423h4v4h-4zM232 427h16v4h-16zM408 427h4v4h-4zM524 427h4v4h-4zM812 427h4v4h-4zM896 427h4v4h-4zM224 431h12v4h-12zM432 431h4v4h-4zM904 431h4v4h-4zM212 435h12v4h-12zM412 435h4v4h-4zM528 435h4v4h-4zM824 435h4v4h-4zM916 435h4v4h-4zM196 439h12v4h-12zM416 439h4v4h-4zM428 439h4v4h-4zM832 439h4v4h-4zM920 439h4v4h-4zM176 443h20v4h-20zM844 443h4v4h-4zM920 443h4v4h-4zM532 447h4v4h-4zM556 447h4v4h-4zM856 447h4v4h-4zM532 451h4v4h-4zM864 451h8v4h-8zM904 451h8v4h-8zM532 455h4v4h-4zM876 455h4v4h-4zM892 455h4v4h-4zM532 459h4v4h-4zM560 463h4v4h-4zM720 463h4v4h-4zM528 467h4v4h-4zM528 471h4v4h-4zM524 475h4v4h-4zM700 475h4v4h-4zM520 479h4v4h-4zM700 479h4v4h-4zM520 483h4v4h-4zM528 491h4v4h-4zM556 491h4v4h-4zM708 491h4v4h-4zM728 491h4v4h-4zM540 495h4v4h-4zM548 495h4v4h-4zM436 511h4v4h-4zM452 511h4v4h-4zM432 515h4v4h-4zM432 519h4v4h-4zM456 519h4v4h-4zM432 523h4v4h-4zM456 523h4v4h-4zM436 527h4v4h-4zM456 527h4v4h-4zM440 531h12v4h-12z"/><path fill="#00aeff" d="M920 87h4v4h-4zM876 95h4v4h-4zM872 99h4v4h-4zM912 99h4v4h-4zM904 111h4v4h-4zM900 119h4v4h-4zM840 123h4v4h-4zM836 127h4v4h-4zM884 131h4v4h-4zM880 135h4v4h-4zM812 147h4v4h-4zM872 147h4v4h-4zM864 151h8v4h-8zM808 155h4v4h-4zM848 155h20v4h-20zM844 159h4v4h-4zM860 159h8v4h-8zM864 163h4v4h-4zM804 167h4v4h-4zM840 167h4v4h-4zM864 167h4v4h-4zM836 179h4v4h-4zM840 215h4v4h-4zM840 219h4v4h-4zM840 223h4v4h-4zM804 235h4v4h-4zM808 255h4v4h-4zM840 267h4v4h-4zM840 271h4v4h-4zM812 279h4v4h-4zM840 291h4v4h-4zM812 299h4v4h-4zM848 299h4v4h-4zM400 303h32v4h-32zM852 303h4v4h-4zM392 307h4v4h-4zM448 307h4v4h-4zM856 307h4v4h-4zM912 307h24v4h-24zM964 307h4v4h-4zM456 311h4v4h-4zM864 311h20v4h-20zM904 311h4v4h-4zM944 311h16v4h-16zM388 315h4v4h-4zM464 315h4v4h-4zM884 315h4v4h-4zM900 315h4v4h-4zM388 319h4v4h-4zM572 319h12v4h-12zM808 319h4v4h-4zM884 319h4v4h-4zM896 319h4v4h-4zM476 323h4v4h-4zM808 323h4v4h-4zM884 323h12v4h-12zM484 327h4v4h-4zM596 327h4v4h-4zM808 327h4v4h-4zM884 327h8v4h-8zM512 331h4v4h-4zM548 331h4v4h-4zM600 331h4v4h-4zM808 331h4v4h-4zM828 331h12v4h-12zM528 335h16v4h-16zM808 335h4v4h-4zM820 335h4v4h-4zM852 335h4v4h-4zM608 339h4v4h-4zM864 339h4v4h-4zM388 343h4v4h-4zM612 343h4v4h-4zM268 347h4v4h-4zM308 347h4v4h-4zM616 347h4v4h-4zM812 347h4v4h-4zM872 347h4v4h-4zM620 351h4v4h-4zM872 351h4v4h-4zM312 355h4v4h-4zM628 355h4v4h-4zM872 355h4v4h-4zM636 359h4v4h-4zM872 359h4v4h-4zM392 363h4v4h-4zM652 363h4v4h-4zM316 375h4v4h-4zM684 379h4v4h-4zM264 383h4v4h-4zM392 383h4v4h-4zM872 391h4v4h-4zM260 395h4v4h-4zM328 395h4v4h-4zM704 395h4v4h-4zM260 399h4v4h-4zM512 399h16v4h-16zM544 399h4v4h-4zM256 403h4v4h-4zM504 403h8v4h-8zM548 403h4v4h-4zM876 403h4v4h-4zM256 407h4v4h-4zM332 407h4v4h-4zM504 407h4v4h-4zM720 407h4v4h-4zM252 411h4v4h-4zM332 411h4v4h-4zM404 411h4v4h-4zM424 411h4v4h-4zM504 411h8v4h-8zM552 411h4v4h-4zM252 415h4v4h-4zM332 415h4v4h-4zM368 415h4v4h-4zM508 415h8v4h-8zM252 419h4v4h-4zM332 419h4v4h-4zM356 419h4v4h-4zM432 419h4v4h-4zM512 419h4v4h-4zM796 419h4v4h-4zM252 423h8v4h-8zM332 423h16v4h-16zM404 423h4v4h-4zM432 423h4v4h-4zM516 423h4v4h-4zM248 427h12v4h-12zM432 427h4v4h-4zM520 427h4v4h-4zM900 427h4v4h-4zM236 431h16v4h-16zM524 431h4v4h-4zM816 431h4v4h-4zM908 431h8v4h-8zM224 435h8v4h-8zM432 435h4v4h-4zM556 435h4v4h-4zM920 435h4v4h-4zM208 439h8v4h-8zM432 439h4v4h-4zM528 439h4v4h-4zM556 439h4v4h-4zM828 439h4v4h-4zM196 443h4v4h-4zM420 443h12v4h-12zM528 443h4v4h-4zM556 443h4v4h-4zM836 443h8v4h-8zM148 447h44v4h-44zM848 447h8v4h-8zM920 447h4v4h-4zM860 451h4v4h-4zM912 451h4v4h-4zM560 455h4v4h-4zM872 455h4v4h-4zM896 455h4v4h-4zM528 459h4v4h-4zM560 459h4v4h-4zM884 459h4v4h-4zM528 463h4v4h-4zM524 471h4v4h-4zM700 471h4v4h-4zM520 475h4v4h-4zM516 479h4v4h-4zM516 483h4v4h-4zM700 483h4v4h-4zM520 487h4v4h-4zM560 487h4v4h-4zM536 495h4v4h-4zM552 495h4v4h-4zM440 507h16v4h-16zM432 511h4v4h-4zM456 515h4v4h-4zM432 527h4v4h-4zM436 531h4v4h-4zM452 531h4v4h-4z"/><path fill="#00b4ff" d="M880 83h4v4h-4zM920 83h4v4h-4zM880 87h4v4h-4zM916 91h4v4h-4zM868 103h4v4h-4zM908 103h4v4h-4zM900 115h4v4h-4zM896 119h4v4h-4zM892 123h4v4h-4zM888 127h4v4h-4zM832 131h4v4h-4zM824 135h4v4h-4zM876 139h4v4h-4zM872 143h4v4h-4zM864 147h8v4h-8zM848 151h16v4h-16zM844 155h4v4h-4zM840 163h4v4h-4zM804 171h4v4h-4zM836 171h4v4h-4zM836 175h4v4h-4zM836 183h4v4h-4zM836 187h4v4h-4zM836 191h4v4h-4zM836 195h4v4h-4zM840 227h4v4h-4zM804 231h4v4h-4zM840 231h4v4h-4zM840 235h4v4h-4zM840 239h4v4h-4zM840 243h4v4h-4zM840 247h4v4h-4zM840 251h4v4h-4zM840 255h4v4h-4zM840 259h4v4h-4zM840 263h4v4h-4zM812 275h4v4h-4zM840 295h4v4h-4zM844 299h4v4h-4zM812 303h4v4h-4zM396 307h4v4h-4zM444 307h4v4h-4zM392 311h4v4h-4zM860 311h4v4h-4zM908 311h4v4h-4zM940 311h4v4h-4zM960 311h4v4h-4zM460 315h4v4h-4zM880 315h4v4h-4zM952 315h4v4h-4zM468 319h4v4h-4zM880 319h4v4h-4zM900 319h4v4h-4zM388 323h4v4h-4zM564 323h4v4h-4zM588 323h4v4h-4zM880 323h4v4h-4zM896 323h4v4h-4zM388 327h4v4h-4zM480 327h4v4h-4zM556 327h4v4h-4zM880 327h4v4h-4zM892 327h4v4h-4zM508 331h4v4h-4zM824 331h4v4h-4zM840 331h4v4h-4zM880 331h12v4h-12zM524 335h4v4h-4zM604 335h4v4h-4zM880 335h4v4h-4zM388 339h4v4h-4zM812 339h8v4h-8zM868 339h8v4h-8zM272 343h4v4h-4zM300 343h4v4h-4zM812 343h4v4h-4zM872 343h4v4h-4zM960 347h8v4h-8zM268 351h4v4h-4zM308 351h4v4h-4zM956 351h12v4h-12zM268 355h4v4h-4zM624 355h4v4h-4zM956 355h12v4h-12zM312 359h4v4h-4zM392 359h4v4h-4zM632 359h4v4h-4zM956 359h12v4h-12zM312 363h4v4h-4zM644 363h8v4h-8zM872 363h4v4h-4zM956 363h12v4h-12zM660 367h4v4h-4zM872 367h4v4h-4zM960 367h8v4h-8zM396 371h4v4h-4zM668 371h4v4h-4zM872 371h4v4h-4zM960 371h8v4h-8zM396 375h4v4h-4zM676 375h4v4h-4zM872 375h4v4h-4zM316 379h4v4h-4zM396 379h4v4h-4zM688 383h4v4h-4zM872 383h4v4h-4zM264 387h4v4h-4zM320 387h4v4h-4zM392 387h4v4h-4zM692 387h4v4h-4zM872 387h4v4h-4zM264 391h4v4h-4zM324 391h4v4h-4zM388 395h4v4h-4zM528 395h16v4h-16zM328 399h4v4h-4zM504 399h8v4h-8zM708 399h4v4h-4zM260 403h4v4h-4zM384 403h4v4h-4zM500 403h4v4h-4zM260 407h4v4h-4zM380 407h4v4h-4zM500 407h4v4h-4zM552 407h4v4h-4zM256 411h4v4h-4zM328 411h4v4h-4zM376 411h4v4h-4zM400 411h4v4h-4zM428 411h4v4h-4zM500 411h4v4h-4zM728 411h4v4h-4zM880 411h4v4h-4zM256 415h4v4h-4zM324 415h8v4h-8zM400 415h4v4h-4zM432 415h4v4h-4zM500 415h8v4h-8zM740 415h8v4h-8zM776 415h4v4h-4zM256 419h8v4h-8zM324 419h8v4h-8zM360 419h4v4h-4zM400 419h4v4h-4zM508 419h4v4h-4zM792 419h4v4h-4zM260 423h4v4h-4zM328 423h4v4h-4zM348 423h4v4h-4zM512 423h4v4h-4zM556 423h4v4h-4zM804 423h4v4h-4zM892 423h4v4h-4zM260 427h8v4h-8zM332 427h16v4h-16zM556 427h4v4h-4zM904 427h4v4h-4zM252 431h12v4h-12zM408 431h4v4h-4zM520 431h4v4h-4zM556 431h4v4h-4zM916 431h4v4h-4zM232 435h16v4h-16zM524 435h4v4h-4zM820 435h4v4h-4zM216 439h16v4h-16zM412 439h4v4h-4zM824 439h4v4h-4zM924 439h4v4h-4zM200 443h8v4h-8zM416 443h4v4h-4zM432 443h4v4h-4zM832 443h4v4h-4zM924 443h4v4h-4zM192 447h4v4h-4zM528 447h4v4h-4zM844 447h4v4h-4zM528 451h4v4h-4zM856 451h4v4h-4zM916 451h4v4h-4zM528 455h4v4h-4zM868 455h4v4h-4zM900 455h4v4h-4zM876 459h8v4h-8zM888 459h4v4h-4zM524 463h4v4h-4zM704 463h4v4h-4zM524 467h4v4h-4zM520 471h4v4h-4zM732 471h4v4h-4zM512 475h8v4h-8zM736 475h4v4h-4zM508 479h8v4h-8zM508 483h8v4h-8zM512 487h8v4h-8zM736 487h4v4h-4zM524 491h4v4h-4zM704 491h4v4h-4zM444 503h8v4h-8zM212 507h20v4h-20zM436 507h4v4h-4zM456 507h4v4h-4zM184 511h48v4h-48zM456 511h4v4h-4zM156 515h72v4h-72zM428 515h4v4h-4zM148 519h76v4h-76zM428 519h4v4h-4zM460 519h4v4h-4zM148 523h72v4h-72zM460 523h4v4h-4zM148 527h64v4h-64zM460 527h4v4h-4zM148 531h60v4h-60zM456 531h4v4h-4zM148 535h52v4h-52zM148 539h48v4h-48zM148 543h40v4h-40zM148 547h36v4h-36zM148 551h28v4h-28zM148 555h24v4h-24zM148 559h20v4h-20zM148 563h12v4h-12zM148 567h8v4h-8z"/><path fill="#00bbff" d="M916 87h4v4h-4zM880 91h4v4h-4zM912 95h4v4h-4zM908 99h4v4h-4zM904 107h4v4h-4zM856 111h4v4h-4zM848 115h4v4h-4zM844 119h4v4h-4zM880 131h4v4h-4zM876 135h4v4h-4zM820 139h4v4h-4zM872 139h4v4h-4zM816 143h4v4h-4zM868 143h4v4h-4zM856 147h8v4h-8zM844 151h4v4h-4zM808 159h4v4h-4zM840 159h4v4h-4zM836 167h4v4h-4zM836 199h4v4h-4zM836 203h4v4h-4zM836 207h4v4h-4zM804 227h4v4h-4zM808 251h4v4h-4zM812 271h4v4h-4zM836 283h4v4h-4zM836 287h4v4h-4zM836 291h4v4h-4zM836 295h4v4h-4zM840 299h4v4h-4zM848 303h4v4h-4zM400 307h44v4h-44zM812 307h4v4h-4zM452 311h4v4h-4zM912 311h4v4h-4zM932 311h8v4h-8zM964 311h4v4h-4zM392 315h4v4h-4zM876 315h4v4h-4zM904 315h4v4h-4zM944 315h8v4h-8zM956 315h8v4h-8zM464 319h4v4h-4zM952 319h8v4h-8zM472 323h4v4h-4zM568 323h4v4h-4zM584 323h4v4h-4zM900 323h4v4h-4zM476 327h4v4h-4zM592 327h4v4h-4zM876 327h4v4h-4zM896 327h4v4h-4zM388 331h4v4h-4zM484 331h24v4h-24zM844 331h4v4h-4zM876 331h4v4h-4zM892 331h4v4h-4zM388 335h4v4h-4zM520 335h4v4h-4zM544 335h4v4h-4zM812 335h8v4h-8zM856 335h4v4h-4zM872 335h8v4h-8zM884 335h8v4h-8zM876 339h12v4h-12zM276 343h24v4h-24zM608 343h4v4h-4zM876 343h4v4h-4zM956 343h12v4h-12zM304 347h4v4h-4zM612 347h4v4h-4zM876 347h4v4h-4zM952 347h8v4h-8zM616 351h4v4h-4zM952 351h4v4h-4zM308 355h4v4h-4zM620 355h4v4h-4zM952 355h4v4h-4zM268 359h4v4h-4zM628 359h4v4h-4zM952 359h4v4h-4zM268 363h4v4h-4zM636 363h8v4h-8zM952 363h4v4h-4zM268 367h4v4h-4zM312 367h4v4h-4zM656 367h4v4h-4zM952 367h8v4h-8zM268 371h4v4h-4zM312 371h4v4h-4zM664 371h4v4h-4zM956 371h4v4h-4zM268 375h4v4h-4zM672 375h4v4h-4zM960 375h8v4h-8zM268 379h4v4h-4zM680 379h4v4h-4zM872 379h4v4h-4zM316 383h4v4h-4zM396 383h4v4h-4zM392 391h4v4h-4zM264 395h4v4h-4zM500 395h28v4h-28zM264 399h4v4h-4zM388 399h4v4h-4zM496 399h8v4h-8zM876 399h4v4h-4zM264 403h4v4h-4zM328 403h4v4h-4zM496 403h4v4h-4zM712 403h4v4h-4zM328 407h4v4h-4zM400 407h12v4h-12zM496 407h4v4h-4zM260 411h4v4h-4zM324 411h4v4h-4zM432 411h4v4h-4zM492 411h8v4h-8zM260 415h4v4h-4zM316 415h8v4h-8zM372 415h4v4h-4zM492 415h8v4h-8zM736 415h4v4h-4zM748 415h4v4h-4zM772 415h4v4h-4zM884 415h4v4h-4zM264 419h4v4h-4zM320 419h4v4h-4zM364 419h4v4h-4zM436 419h4v4h-4zM496 419h12v4h-12zM556 419h4v4h-4zM888 419h4v4h-4zM264 423h8v4h-8zM320 423h8v4h-8zM352 423h4v4h-4zM436 423h4v4h-4zM508 423h4v4h-4zM896 423h4v4h-4zM268 427h8v4h-8zM324 427h8v4h-8zM348 427h4v4h-4zM404 427h4v4h-4zM436 427h4v4h-4zM512 427h8v4h-8zM808 427h4v4h-4zM908 427h4v4h-4zM264 431h12v4h-12zM332 431h12v4h-12zM436 431h4v4h-4zM812 431h4v4h-4zM920 431h4v4h-4zM248 435h16v4h-16zM408 435h4v4h-4zM436 435h4v4h-4zM520 435h4v4h-4zM816 435h4v4h-4zM924 435h4v4h-4zM232 439h8v4h-8zM436 439h4v4h-4zM524 439h4v4h-4zM208 443h8v4h-8zM436 443h4v4h-4zM524 443h4v4h-4zM828 443h4v4h-4zM196 447h4v4h-4zM424 447h8v4h-8zM524 447h4v4h-4zM836 447h8v4h-8zM924 447h4v4h-4zM148 451h48v4h-48zM524 451h4v4h-4zM560 451h4v4h-4zM848 451h8v4h-8zM920 451h4v4h-4zM524 455h4v4h-4zM864 455h4v4h-4zM904 455h8v4h-8zM524 459h4v4h-4zM712 459h8v4h-8zM872 459h4v4h-4zM892 459h4v4h-4zM520 463h4v4h-4zM724 463h4v4h-4zM516 467h8v4h-8zM700 467h4v4h-4zM728 467h4v4h-4zM512 471h8v4h-8zM500 475h12v4h-12zM492 479h16v4h-16zM564 479h4v4h-4zM488 483h20v4h-20zM564 483h4v4h-4zM484 487h28v4h-28zM700 487h4v4h-4zM480 491h20v4h-20zM520 491h4v4h-4zM560 491h4v4h-4zM732 491h4v4h-4zM476 495h12v4h-12zM532 495h4v4h-4zM556 495h4v4h-4zM712 495h8v4h-8zM464 499h12v4h-12zM544 499h8v4h-8zM212 503h20v4h-20zM440 503h4v4h-4zM452 503h16v4h-16zM184 507h28v4h-28zM232 507h4v4h-4zM432 507h4v4h-4zM460 507h4v4h-4zM156 511h28v4h-28zM232 511h4v4h-4zM428 511h4v4h-4zM460 511h4v4h-4zM148 515h8v4h-8zM228 515h8v4h-8zM460 515h4v4h-4zM224 519h4v4h-4zM220 523h4v4h-4zM428 523h4v4h-4zM212 527h4v4h-4zM464 527h4v4h-4zM208 531h4v4h-4zM432 531h4v4h-4zM460 531h4v4h-4zM200 535h4v4h-4zM436 535h20v4h-20zM196 539h4v4h-4zM188 543h4v4h-4zM184 547h4v4h-4zM176 551h4v4h-4zM172 555h4v4h-4zM168 559h4v4h-4zM160 563h4v4h-4zM156 567h4v4h-4zM148 571h4v4h-4z"/><path fill="#00c1ff" d="M912 91h4v4h-4zM904 103h4v4h-4zM864 107h4v4h-4zM900 111h4v4h-4zM896 115h4v4h-4zM892 119h4v4h-4zM888 123h4v4h-4zM840 127h4v4h-4zM884 127h4v4h-4zM868 139h4v4h-4zM864 143h4v4h-4zM848 147h8v4h-8zM812 151h4v4h-4zM840 155h4v4h-4zM804 175h4v4h-4zM836 211h4v4h-4zM836 215h4v4h-4zM804 223h4v4h-4zM808 247h4v4h-4zM812 267h4v4h-4zM836 271h4v4h-4zM836 275h4v4h-4zM836 279h4v4h-4zM836 299h4v4h-4zM844 303h4v4h-4zM852 307h4v4h-4zM396 311h4v4h-4zM416 311h8v4h-8zM448 311h4v4h-4zM812 311h4v4h-4zM916 311h16v4h-16zM456 315h4v4h-4zM812 315h4v4h-4zM872 315h4v4h-4zM908 315h4v4h-4zM940 315h4v4h-4zM964 315h4v4h-4zM392 319h4v4h-4zM460 319h4v4h-4zM876 319h4v4h-4zM904 319h4v4h-4zM948 319h4v4h-4zM960 319h8v4h-8zM392 323h4v4h-4zM468 323h4v4h-4zM572 323h4v4h-4zM580 323h4v4h-4zM876 323h4v4h-4zM952 323h16v4h-16zM560 327h4v4h-4zM812 327h4v4h-4zM900 327h4v4h-4zM952 327h12v4h-12zM480 331h4v4h-4zM552 331h4v4h-4zM596 331h4v4h-4zM812 331h4v4h-4zM820 331h4v4h-4zM848 331h4v4h-4zM872 331h4v4h-4zM896 331h4v4h-4zM956 331h8v4h-8zM516 335h4v4h-4zM600 335h4v4h-4zM860 335h4v4h-4zM868 335h4v4h-4zM892 335h4v4h-4zM952 335h16v4h-16zM528 339h16v4h-16zM604 339h4v4h-4zM888 339h4v4h-4zM952 339h16v4h-16zM880 343h8v4h-8zM952 343h4v4h-4zM272 347h4v4h-4zM300 347h4v4h-4zM880 347h4v4h-4zM948 347h4v4h-4zM304 351h4v4h-4zM876 351h4v4h-4zM948 351h4v4h-4zM392 355h4v4h-4zM876 355h4v4h-4zM948 355h4v4h-4zM308 359h4v4h-4zM624 359h4v4h-4zM948 359h4v4h-4zM632 363h4v4h-4zM948 363h4v4h-4zM396 367h4v4h-4zM648 367h8v4h-8zM952 371h4v4h-4zM312 375h4v4h-4zM956 375h4v4h-4zM312 379h4v4h-4zM960 379h8v4h-8zM268 383h4v4h-4zM684 383h4v4h-4zM268 387h4v4h-4zM316 387h4v4h-4zM268 391h4v4h-4zM320 391h4v4h-4zM500 391h16v4h-16zM532 391h8v4h-8zM696 391h4v4h-4zM268 395h4v4h-4zM324 395h4v4h-4zM392 395h4v4h-4zM496 395h4v4h-4zM544 395h4v4h-4zM492 399h4v4h-4zM548 399h4v4h-4zM388 403h4v4h-4zM492 403h4v4h-4zM552 403h4v4h-4zM264 407h4v4h-4zM324 407h4v4h-4zM384 407h4v4h-4zM396 407h4v4h-4zM412 407h20v4h-20zM492 407h4v4h-4zM264 411h4v4h-4zM316 411h8v4h-8zM380 411h4v4h-4zM396 411h4v4h-4zM488 411h4v4h-4zM556 411h4v4h-4zM264 415h8v4h-8zM312 415h4v4h-4zM396 415h4v4h-4zM436 415h4v4h-4zM488 415h4v4h-4zM556 415h4v4h-4zM752 415h4v4h-4zM768 415h4v4h-4zM268 419h8v4h-8zM316 419h4v4h-4zM368 419h4v4h-4zM488 419h8v4h-8zM788 419h4v4h-4zM272 423h8v4h-8zM316 423h4v4h-4zM356 423h4v4h-4zM400 423h4v4h-4zM496 423h12v4h-12zM800 423h4v4h-4zM900 423h8v4h-8zM276 427h8v4h-8zM320 427h4v4h-4zM508 427h4v4h-4zM912 427h8v4h-8zM276 431h8v4h-8zM324 431h8v4h-8zM344 431h4v4h-4zM404 431h4v4h-4zM512 431h8v4h-8zM264 435h12v4h-12zM332 435h12v4h-12zM240 439h20v4h-20zM408 439h4v4h-4zM520 439h4v4h-4zM820 439h4v4h-4zM216 443h20v4h-20zM412 443h4v4h-4zM200 447h8v4h-8zM416 447h8v4h-8zM432 447h4v4h-4zM560 447h4v4h-4zM832 447h4v4h-4zM196 451h4v4h-4zM844 451h4v4h-4zM148 455h48v4h-48zM520 455h4v4h-4zM856 455h8v4h-8zM912 455h4v4h-4zM520 459h4v4h-4zM708 459h4v4h-4zM720 459h4v4h-4zM868 459h4v4h-4zM896 459h4v4h-4zM516 463h4v4h-4zM880 463h8v4h-8zM508 467h8v4h-8zM564 467h4v4h-4zM492 471h20v4h-20zM564 471h4v4h-4zM484 475h16v4h-16zM564 475h4v4h-4zM480 479h12v4h-12zM740 479h4v4h-4zM480 483h8v4h-8zM476 487h8v4h-8zM564 487h4v4h-4zM468 491h12v4h-12zM500 491h20v4h-20zM460 495h16v4h-16zM488 495h12v4h-12zM528 495h4v4h-4zM708 495h4v4h-4zM720 495h4v4h-4zM444 499h20v4h-20zM476 499h12v4h-12zM540 499h4v4h-4zM552 499h4v4h-4zM204 503h8v4h-8zM232 503h8v4h-8zM436 503h4v4h-4zM468 503h12v4h-12zM176 507h8v4h-8zM236 507h8v4h-8zM428 507h4v4h-4zM464 507h8v4h-8zM148 511h8v4h-8zM236 511h4v4h-4zM464 511h4v4h-4zM424 515h4v4h-4zM464 515h4v4h-4zM228 519h4v4h-4zM464 519h4v4h-4zM224 523h4v4h-4zM464 523h4v4h-4zM216 527h4v4h-4zM428 527h4v4h-4zM212 531h4v4h-4zM464 531h4v4h-4zM204 535h4v4h-4zM456 535h8v4h-8zM200 539h4v4h-4zM192 543h4v4h-4zM188 547h4v4h-4zM180 551h4v4h-4zM176 555h4v4h-4zM172 559h4v4h-4zM164 563h4v4h-4zM160 567h4v4h-4zM152 571h4v4h-4zM148 575h4v4h-4z"/><path fill="#00c8ff" d="M884 83h4v4h-4zM916 83h4v4h-4zM884 87h4v4h-4zM880 95h4v4h-4zM908 95h4v4h-4zM876 99h4v4h-4zM900 107h4v4h-4zM896 111h4v4h-4zM892 115h4v4h-4zM884 123h4v4h-4zM880 127h4v4h-4zM836 131h4v4h-4zM876 131h4v4h-4zM828 135h4v4h-4zM872 135h4v4h-4zM856 143h8v4h-8zM844 147h4v4h-4zM840 151h4v4h-4zM808 163h4v4h-4zM836 163h4v4h-4zM832 171h4v4h-4zM832 175h4v4h-4zM804 179h4v4h-4zM832 179h4v4h-4zM832 183h4v4h-4zM832 187h4v4h-4zM804 219h4v4h-4zM836 219h4v4h-4zM836 223h4v4h-4zM836 227h4v4h-4zM836 231h4v4h-4zM836 259h4v4h-4zM812 263h4v4h-4zM836 263h4v4h-4zM836 267h4v4h-4zM816 283h4v4h-4zM816 287h4v4h-4zM816 291h4v4h-4zM816 295h4v4h-4zM832 295h4v4h-4zM832 299h4v4h-4zM836 303h8v4h-8zM400 311h16v4h-16zM424 311h12v4h-12zM444 311h4v4h-4zM856 311h4v4h-4zM396 315h4v4h-4zM452 315h4v4h-4zM864 315h8v4h-8zM912 315h4v4h-4zM936 315h4v4h-4zM456 319h4v4h-4zM812 319h4v4h-4zM872 319h4v4h-4zM908 319h4v4h-4zM944 319h4v4h-4zM464 323h4v4h-4zM576 323h4v4h-4zM812 323h4v4h-4zM904 323h4v4h-4zM948 323h4v4h-4zM392 327h4v4h-4zM472 327h4v4h-4zM588 327h4v4h-4zM872 327h4v4h-4zM948 327h4v4h-4zM964 327h4v4h-4zM816 331h4v4h-4zM900 331h4v4h-4zM948 331h8v4h-8zM964 331h4v4h-4zM488 335h12v4h-12zM512 335h4v4h-4zM548 335h4v4h-4zM864 335h4v4h-4zM896 335h4v4h-4zM948 335h4v4h-4zM524 339h4v4h-4zM892 339h4v4h-4zM948 339h4v4h-4zM888 343h4v4h-4zM948 343h4v4h-4zM276 347h4v4h-4zM296 347h4v4h-4zM608 347h4v4h-4zM884 347h4v4h-4zM272 351h4v4h-4zM392 351h4v4h-4zM612 351h4v4h-4zM880 351h4v4h-4zM272 355h4v4h-4zM616 355h4v4h-4zM944 355h4v4h-4zM876 359h4v4h-4zM944 359h4v4h-4zM308 363h4v4h-4zM396 363h4v4h-4zM308 367h4v4h-4zM640 367h8v4h-8zM948 367h4v4h-4zM660 371h4v4h-4zM948 371h4v4h-4zM400 375h4v4h-4zM668 375h4v4h-4zM952 375h4v4h-4zM400 379h4v4h-4zM676 379h4v4h-4zM956 379h4v4h-4zM312 383h4v4h-4zM396 387h4v4h-4zM496 387h12v4h-12zM688 387h4v4h-4zM492 391h8v4h-8zM516 391h16v4h-16zM540 391h4v4h-4zM492 395h4v4h-4zM700 395h4v4h-4zM876 395h4v4h-4zM268 399h4v4h-4zM324 399h4v4h-4zM392 399h4v4h-4zM488 399h4v4h-4zM268 403h4v4h-4zM324 403h4v4h-4zM392 403h12v4h-12zM488 403h4v4h-4zM268 407h4v4h-4zM316 407h8v4h-8zM388 407h8v4h-8zM432 407h4v4h-4zM484 407h8v4h-8zM716 407h4v4h-4zM880 407h4v4h-4zM268 411h4v4h-4zM312 411h4v4h-4zM392 411h4v4h-4zM436 411h4v4h-4zM484 411h4v4h-4zM724 411h4v4h-4zM272 415h4v4h-4zM308 415h4v4h-4zM376 415h4v4h-4zM484 415h4v4h-4zM756 415h12v4h-12zM276 419h8v4h-8zM312 419h4v4h-4zM396 419h4v4h-4zM480 419h8v4h-8zM784 419h4v4h-4zM892 419h4v4h-4zM280 423h8v4h-8zM312 423h4v4h-4zM360 423h4v4h-4zM440 423h4v4h-4zM484 423h12v4h-12zM908 423h4v4h-4zM284 427h4v4h-4zM316 427h4v4h-4zM352 427h4v4h-4zM400 427h4v4h-4zM440 427h4v4h-4zM488 427h20v4h-20zM804 427h4v4h-4zM920 427h4v4h-4zM284 431h4v4h-4zM320 431h4v4h-4zM348 431h4v4h-4zM440 431h4v4h-4zM504 431h8v4h-8zM924 431h4v4h-4zM276 435h8v4h-8zM324 435h8v4h-8zM344 435h4v4h-4zM404 435h4v4h-4zM440 435h4v4h-4zM512 435h8v4h-8zM260 439h16v4h-16zM336 439h8v4h-8zM440 439h4v4h-4zM516 439h4v4h-4zM560 439h4v4h-4zM928 439h4v4h-4zM236 443h12v4h-12zM440 443h4v4h-4zM520 443h4v4h-4zM560 443h4v4h-4zM824 443h4v4h-4zM928 443h4v4h-4zM208 447h8v4h-8zM220 447h12v4h-12zM436 447h4v4h-4zM520 447h4v4h-4zM200 451h8v4h-8zM520 451h4v4h-4zM836 451h8v4h-8zM196 455h8v4h-8zM516 455h4v4h-4zM848 455h8v4h-8zM916 455h4v4h-4zM148 459h60v4h-60zM512 459h8v4h-8zM564 459h4v4h-4zM864 459h4v4h-4zM900 459h4v4h-4zM148 463h76v4h-76zM496 463h20v4h-20zM564 463h4v4h-4zM872 463h8v4h-8zM888 463h4v4h-4zM148 467h76v4h-76zM480 467h28v4h-28zM148 471h76v4h-76zM476 471h16v4h-16zM148 475h68v4h-68zM472 475h12v4h-12zM148 479h48v4h-48zM472 479h8v4h-8zM696 479h4v4h-4zM148 483h28v4h-28zM468 483h12v4h-12zM740 483h4v4h-4zM148 487h8v4h-8zM468 487h8v4h-8zM460 491h8v4h-8zM448 495h12v4h-12zM500 495h8v4h-8zM524 495h4v4h-4zM560 495h4v4h-4zM724 495h4v4h-4zM216 499h24v4h-24zM440 499h4v4h-4zM488 499h8v4h-8zM188 503h16v4h-16zM240 503h8v4h-8zM432 503h4v4h-4zM480 503h8v4h-8zM156 507h20v4h-20zM244 507h4v4h-4zM472 507h8v4h-8zM240 511h4v4h-4zM424 511h4v4h-4zM468 511h4v4h-4zM236 515h4v4h-4zM232 519h4v4h-4zM424 519h4v4h-4zM228 523h4v4h-4zM424 523h4v4h-4zM468 523h4v4h-4zM220 527h4v4h-4zM468 527h4v4h-4zM216 531h4v4h-4zM428 531h4v4h-4zM468 531h4v4h-4zM208 535h4v4h-4zM432 535h4v4h-4zM464 535h4v4h-4zM204 539h4v4h-4zM440 539h8v4h-8zM196 543h4v4h-4zM192 547h4v4h-4zM184 551h4v4h-4zM180 555h4v4h-4zM168 563h4v4h-4zM164 567h4v4h-4zM156 571h4v4h-4zM152 575h4v4h-4z"/><path fill="#00ceff" d="M912 87h4v4h-4zM884 91h4v4h-4zM904 99h4v4h-4zM872 103h4v4h-4zM900 103h4v4h-4zM896 107h4v4h-4zM860 111h4v4h-4zM888 119h4v4h-4zM844 123h4v4h-4zM868 135h4v4h-4zM864 139h4v4h-4zM848 143h8v4h-8zM816 147h4v4h-4zM840 147h4v4h-4zM812 155h4v4h-4zM836 159h4v4h-4zM804 183h4v4h-4zM804 187h4v4h-4zM832 191h4v4h-4zM832 195h4v4h-4zM832 199h4v4h-4zM804 211h4v4h-4zM804 215h4v4h-4zM836 235h4v4h-4zM836 239h4v4h-4zM808 243h4v4h-4zM836 243h4v4h-4zM836 247h4v4h-4zM836 251h4v4h-4zM836 255h4v4h-4zM812 259h4v4h-4zM816 279h4v4h-4zM832 287h4v4h-4zM832 291h4v4h-4zM816 299h4v4h-4zM816 303h4v4h-4zM832 303h4v4h-4zM816 307h4v4h-4zM836 307h16v4h-16zM436 311h8v4h-8zM412 315h16v4h-16zM448 315h4v4h-4zM860 315h4v4h-4zM916 315h4v4h-4zM928 315h8v4h-8zM396 319h4v4h-4zM940 319h4v4h-4zM460 323h4v4h-4zM872 323h4v4h-4zM944 323h4v4h-4zM468 327h4v4h-4zM564 327h4v4h-4zM584 327h4v4h-4zM816 327h24v4h-24zM904 327h4v4h-4zM944 327h4v4h-4zM392 331h4v4h-4zM476 331h4v4h-4zM592 331h4v4h-4zM852 331h4v4h-4zM868 331h4v4h-4zM944 331h4v4h-4zM392 335h4v4h-4zM484 335h4v4h-4zM500 335h12v4h-12zM900 335h4v4h-4zM944 335h4v4h-4zM520 339h4v4h-4zM544 339h4v4h-4zM600 339h4v4h-4zM896 339h4v4h-4zM944 339h4v4h-4zM392 343h4v4h-4zM532 343h8v4h-8zM604 343h4v4h-4zM892 343h4v4h-4zM944 343h4v4h-4zM280 347h16v4h-16zM392 347h4v4h-4zM888 347h4v4h-4zM944 347h4v4h-4zM300 351h4v4h-4zM884 351h4v4h-4zM944 351h4v4h-4zM304 355h4v4h-4zM880 355h4v4h-4zM272 359h4v4h-4zM304 359h4v4h-4zM620 359h4v4h-4zM272 363h4v4h-4zM628 363h4v4h-4zM876 363h4v4h-4zM944 363h4v4h-4zM272 367h4v4h-4zM636 367h4v4h-4zM876 367h4v4h-4zM944 367h4v4h-4zM272 371h4v4h-4zM308 371h4v4h-4zM400 371h4v4h-4zM656 371h4v4h-4zM944 371h4v4h-4zM272 375h4v4h-4zM308 375h4v4h-4zM664 375h4v4h-4zM948 375h4v4h-4zM272 379h4v4h-4zM672 379h4v4h-4zM952 379h4v4h-4zM272 383h4v4h-4zM400 383h4v4h-4zM496 383h8v4h-8zM956 383h12v4h-12zM272 387h4v4h-4zM492 387h4v4h-4zM508 387h12v4h-12zM272 391h4v4h-4zM316 391h4v4h-4zM396 391h4v4h-4zM488 391h4v4h-4zM272 395h4v4h-4zM320 395h4v4h-4zM396 395h4v4h-4zM488 395h4v4h-4zM272 399h4v4h-4zM320 399h4v4h-4zM396 399h4v4h-4zM484 399h4v4h-4zM704 399h4v4h-4zM272 403h4v4h-4zM320 403h4v4h-4zM404 403h4v4h-4zM484 403h4v4h-4zM880 403h4v4h-4zM272 407h4v4h-4zM312 407h4v4h-4zM436 407h4v4h-4zM480 407h4v4h-4zM556 407h4v4h-4zM272 411h8v4h-8zM308 411h4v4h-4zM384 411h8v4h-8zM440 411h4v4h-4zM480 411h4v4h-4zM884 411h4v4h-4zM276 415h8v4h-8zM392 415h4v4h-4zM440 415h4v4h-4zM476 415h8v4h-8zM732 415h4v4h-4zM888 415h4v4h-4zM284 419h8v4h-8zM308 419h4v4h-4zM372 419h4v4h-4zM440 419h4v4h-4zM472 419h8v4h-8zM780 419h4v4h-4zM896 419h8v4h-8zM288 423h4v4h-4zM308 423h4v4h-4zM364 423h4v4h-4zM396 423h4v4h-4zM472 423h12v4h-12zM796 423h4v4h-4zM912 423h4v4h-4zM288 427h4v4h-4zM312 427h4v4h-4zM356 427h4v4h-4zM472 427h16v4h-16zM288 431h4v4h-4zM316 431h4v4h-4zM352 431h4v4h-4zM400 431h4v4h-4zM472 431h32v4h-32zM560 431h4v4h-4zM808 431h4v4h-4zM284 435h8v4h-8zM320 435h4v4h-4zM348 435h4v4h-4zM444 435h4v4h-4zM476 435h12v4h-12zM500 435h12v4h-12zM560 435h4v4h-4zM812 435h4v4h-4zM928 435h4v4h-4zM276 439h12v4h-12zM324 439h12v4h-12zM344 439h4v4h-4zM444 439h4v4h-4zM512 439h4v4h-4zM248 443h20v4h-20zM336 443h4v4h-4zM408 443h4v4h-4zM444 443h4v4h-4zM516 443h4v4h-4zM216 447h4v4h-4zM232 447h8v4h-8zM412 447h4v4h-4zM440 447h4v4h-4zM516 447h4v4h-4zM828 447h4v4h-4zM208 451h24v4h-24zM420 451h20v4h-20zM512 451h8v4h-8zM924 451h4v4h-4zM204 455h28v4h-28zM504 455h12v4h-12zM564 455h4v4h-4zM844 455h4v4h-4zM208 459h24v4h-24zM484 459h28v4h-28zM704 459h4v4h-4zM724 459h4v4h-4zM856 459h8v4h-8zM904 459h4v4h-4zM224 463h8v4h-8zM468 463h28v4h-28zM700 463h4v4h-4zM728 463h4v4h-4zM868 463h4v4h-4zM892 463h4v4h-4zM224 467h8v4h-8zM464 467h16v4h-16zM732 467h4v4h-4zM224 471h4v4h-4zM464 471h12v4h-12zM736 471h4v4h-4zM216 475h8v4h-8zM464 475h8v4h-8zM696 475h4v4h-4zM740 475h4v4h-4zM196 479h20v4h-20zM464 479h8v4h-8zM176 483h20v4h-20zM460 483h8v4h-8zM696 483h4v4h-4zM156 487h20v4h-20zM456 487h12v4h-12zM148 491h8v4h-8zM452 491h8v4h-8zM564 491h4v4h-4zM700 491h4v4h-4zM444 495h4v4h-4zM508 495h16v4h-16zM704 495h4v4h-4zM208 499h8v4h-8zM240 499h8v4h-8zM436 499h4v4h-4zM496 499h8v4h-8zM536 499h4v4h-4zM556 499h4v4h-4zM180 503h8v4h-8zM248 503h8v4h-8zM428 503h4v4h-4zM488 503h8v4h-8zM844 503h4v4h-4zM152 507h4v4h-4zM248 507h4v4h-4zM424 507h4v4h-4zM480 507h4v4h-4zM844 507h4v4h-4zM244 511h8v4h-8zM472 511h4v4h-4zM240 515h4v4h-4zM468 515h4v4h-4zM236 519h4v4h-4zM468 519h4v4h-4zM224 527h4v4h-4zM424 527h4v4h-4zM212 535h4v4h-4zM428 535h4v4h-4zM468 535h4v4h-4zM432 539h8v4h-8zM448 539h12v4h-12zM200 543h4v4h-4zM188 551h4v4h-4zM176 559h4v4h-4zM172 563h4v4h-4zM160 571h4v4h-4zM148 579h4v4h-4z"/><path fill="#00d4ff" d="M912 83h4v4h-4zM908 91h4v4h-4zM904 95h4v4h-4zM880 99h4v4h-4zM868 107h4v4h-4zM892 111h4v4h-4zM852 115h4v4h-4zM888 115h4v4h-4zM884 119h4v4h-4zM880 123h4v4h-4zM876 127h4v4h-4zM872 131h4v4h-4zM832 135h4v4h-4zM824 139h4v4h-4zM860 139h4v4h-4zM820 143h4v4h-4zM844 143h4v4h-4zM836 155h4v4h-4zM808 167h4v4h-4zM832 167h4v4h-4zM804 191h4v4h-4zM804 195h4v4h-4zM804 203h4v4h-4zM832 203h4v4h-4zM804 207h4v4h-4zM832 207h4v4h-4zM808 239h4v4h-4zM816 275h4v4h-4zM832 279h4v4h-4zM832 283h4v4h-4zM828 295h4v4h-4zM828 299h4v4h-4zM828 303h4v4h-4zM828 307h8v4h-8zM816 311h4v4h-4zM852 311h4v4h-4zM400 315h12v4h-12zM428 315h4v4h-4zM816 315h4v4h-4zM920 315h8v4h-8zM452 319h4v4h-4zM816 319h4v4h-4zM868 319h4v4h-4zM912 319h4v4h-4zM936 319h4v4h-4zM396 323h4v4h-4zM456 323h4v4h-4zM816 323h4v4h-4zM908 323h4v4h-4zM940 323h4v4h-4zM396 327h4v4h-4zM568 327h4v4h-4zM580 327h4v4h-4zM840 327h4v4h-4zM868 327h4v4h-4zM940 327h4v4h-4zM472 331h4v4h-4zM556 331h4v4h-4zM856 331h4v4h-4zM864 331h4v4h-4zM904 331h4v4h-4zM480 335h4v4h-4zM596 335h4v4h-4zM940 335h4v4h-4zM392 339h4v4h-4zM516 339h4v4h-4zM900 339h4v4h-4zM940 339h4v4h-4zM528 343h4v4h-4zM896 343h4v4h-4zM940 343h4v4h-4zM892 347h4v4h-4zM940 347h4v4h-4zM276 351h4v4h-4zM296 351h4v4h-4zM888 351h4v4h-4zM940 351h4v4h-4zM300 355h4v4h-4zM884 355h4v4h-4zM940 355h4v4h-4zM396 359h4v4h-4zM880 359h4v4h-4zM940 359h4v4h-4zM304 363h4v4h-4zM624 363h4v4h-4zM940 363h4v4h-4zM400 367h4v4h-4zM632 367h4v4h-4zM644 371h12v4h-12zM876 371h4v4h-4zM876 375h4v4h-4zM944 375h4v4h-4zM308 379h4v4h-4zM948 379h4v4h-4zM488 383h8v4h-8zM504 383h8v4h-8zM680 383h4v4h-4zM948 383h8v4h-8zM312 387h4v4h-4zM400 387h4v4h-4zM488 387h4v4h-4zM520 387h24v4h-24zM960 387h8v4h-8zM484 391h4v4h-4zM544 391h4v4h-4zM692 391h4v4h-4zM876 391h4v4h-4zM484 395h4v4h-4zM548 395h4v4h-4zM480 399h4v4h-4zM276 403h4v4h-4zM316 403h4v4h-4zM476 403h8v4h-8zM708 403h4v4h-4zM276 407h4v4h-4zM308 407h4v4h-4zM440 407h4v4h-4zM472 407h8v4h-8zM280 411h4v4h-4zM304 411h4v4h-4zM472 411h8v4h-8zM284 415h8v4h-8zM304 415h4v4h-4zM380 415h4v4h-4zM468 415h8v4h-8zM892 415h4v4h-4zM292 419h16v4h-16zM376 419h4v4h-4zM392 419h4v4h-4zM444 419h4v4h-4zM468 419h4v4h-4zM904 419h4v4h-4zM292 423h16v4h-16zM368 423h4v4h-4zM444 423h4v4h-4zM464 423h8v4h-8zM560 423h4v4h-4zM916 423h4v4h-4zM292 427h8v4h-8zM308 427h4v4h-4zM360 427h4v4h-4zM396 427h4v4h-4zM444 427h4v4h-4zM464 427h8v4h-8zM560 427h4v4h-4zM924 427h4v4h-4zM292 431h8v4h-8zM312 431h4v4h-4zM444 431h4v4h-4zM464 431h8v4h-8zM928 431h4v4h-4zM292 435h4v4h-4zM316 435h4v4h-4zM460 435h16v4h-16zM488 435h12v4h-12zM288 439h8v4h-8zM320 439h4v4h-4zM348 439h4v4h-4zM404 439h4v4h-4zM448 439h4v4h-4zM460 439h52v4h-52zM816 439h4v4h-4zM268 443h20v4h-20zM328 443h8v4h-8zM340 443h8v4h-8zM448 443h4v4h-4zM460 443h56v4h-56zM820 443h4v4h-4zM240 447h16v4h-16zM408 447h4v4h-4zM444 447h8v4h-8zM460 447h56v4h-56zM928 447h4v4h-4zM232 451h8v4h-8zM416 451h4v4h-4zM440 451h12v4h-12zM464 451h48v4h-48zM564 451h4v4h-4zM832 451h4v4h-4zM232 455h4v4h-4zM460 455h44v4h-44zM840 455h4v4h-4zM920 455h4v4h-4zM232 459h4v4h-4zM456 459h28v4h-28zM848 459h8v4h-8zM908 459h4v4h-4zM232 463h4v4h-4zM456 463h12v4h-12zM864 463h4v4h-4zM896 463h4v4h-4zM232 467h4v4h-4zM456 467h8v4h-8zM876 467h8v4h-8zM228 471h4v4h-4zM456 471h8v4h-8zM696 471h4v4h-4zM224 475h8v4h-8zM456 475h8v4h-8zM216 479h8v4h-8zM452 479h12v4h-12zM196 483h16v4h-16zM452 483h8v4h-8zM176 487h16v4h-16zM448 487h8v4h-8zM696 487h4v4h-4zM156 491h16v4h-16zM444 491h8v4h-8zM736 491h4v4h-4zM148 495h4v4h-4zM228 495h12v4h-12zM436 495h8v4h-8zM728 495h4v4h-4zM196 499h12v4h-12zM248 499h12v4h-12zM432 499h4v4h-4zM504 499h8v4h-8zM532 499h4v4h-4zM160 503h20v4h-20zM256 503h8v4h-8zM424 503h4v4h-4zM496 503h8v4h-8zM548 503h4v4h-4zM840 503h4v4h-4zM148 507h4v4h-4zM252 507h8v4h-8zM484 507h8v4h-8zM840 507h4v4h-4zM252 511h4v4h-4zM420 511h4v4h-4zM476 511h8v4h-8zM244 515h8v4h-8zM420 515h4v4h-4zM472 515h4v4h-4zM240 519h4v4h-4zM420 519h4v4h-4zM472 519h4v4h-4zM232 523h4v4h-4zM472 523h4v4h-4zM228 527h4v4h-4zM472 527h4v4h-4zM220 531h4v4h-4zM424 531h4v4h-4zM472 531h4v4h-4zM472 535h4v4h-4zM208 539h4v4h-4zM460 539h8v4h-8zM196 547h4v4h-4zM184 555h4v4h-4zM180 559h4v4h-4zM168 567h4v4h-4zM156 575h4v4h-4z"/><path fill="#00dbff" d="M888 83h4v4h-4zM908 83h4v4h-4zM888 87h4v4h-4zM908 87h4v4h-4zM888 91h4v4h-4zM904 91h4v4h-4zM884 95h4v4h-4zM900 99h4v4h-4zM876 103h4v4h-4zM896 103h4v4h-4zM892 107h4v4h-4zM888 111h4v4h-4zM884 115h4v4h-4zM848 119h4v4h-4zM880 119h4v4h-4zM876 123h4v4h-4zM872 127h4v4h-4zM840 131h4v4h-4zM868 131h4v4h-4zM836 135h4v4h-4zM864 135h4v4h-4zM852 139h8v4h-8zM840 143h4v4h-4zM836 151h4v4h-4zM812 159h4v4h-4zM832 163h4v4h-4zM828 175h4v4h-4zM828 179h4v4h-4zM804 199h4v4h-4zM832 211h4v4h-4zM832 215h4v4h-4zM808 235h4v4h-4zM812 255h4v4h-4zM816 271h4v4h-4zM832 271h4v4h-4zM832 275h4v4h-4zM820 287h4v4h-4zM820 291h4v4h-4zM828 291h4v4h-4zM820 295h4v4h-4zM820 299h8v4h-8zM820 303h8v4h-8zM820 307h8v4h-8zM820 311h24v4h-24zM848 311h4v4h-4zM432 315h16v4h-16zM856 315h4v4h-4zM400 319h28v4h-28zM448 319h4v4h-4zM864 319h4v4h-4zM916 319h4v4h-4zM932 319h4v4h-4zM400 323h4v4h-4zM820 323h8v4h-8zM868 323h4v4h-4zM912 323h4v4h-4zM936 323h4v4h-4zM464 327h4v4h-4zM572 327h8v4h-8zM844 327h4v4h-4zM908 327h4v4h-4zM396 331h4v4h-4zM588 331h4v4h-4zM860 331h4v4h-4zM908 331h4v4h-4zM940 331h4v4h-4zM476 335h4v4h-4zM904 335h4v4h-4zM480 339h36v4h-36zM904 339h4v4h-4zM524 343h4v4h-4zM540 343h4v4h-4zM600 343h4v4h-4zM900 343h4v4h-4zM604 347h4v4h-4zM896 347h8v4h-8zM280 351h16v4h-16zM608 351h4v4h-4zM892 351h8v4h-8zM276 355h4v4h-4zM396 355h4v4h-4zM612 355h4v4h-4zM888 355h4v4h-4zM276 359h4v4h-4zM300 359h4v4h-4zM616 359h4v4h-4zM884 359h4v4h-4zM276 363h4v4h-4zM880 363h4v4h-4zM276 367h4v4h-4zM304 367h4v4h-4zM628 367h4v4h-4zM940 367h4v4h-4zM304 371h4v4h-4zM636 371h8v4h-8zM940 371h4v4h-4zM276 375h4v4h-4zM304 375h4v4h-4zM404 375h4v4h-4zM660 375h4v4h-4zM276 379h4v4h-4zM404 379h4v4h-4zM488 379h20v4h-20zM668 379h4v4h-4zM876 379h4v4h-4zM944 379h4v4h-4zM276 383h4v4h-4zM308 383h4v4h-4zM484 383h4v4h-4zM512 383h12v4h-12zM676 383h4v4h-4zM876 383h4v4h-4zM944 383h4v4h-4zM276 387h4v4h-4zM480 387h8v4h-8zM684 387h4v4h-4zM876 387h4v4h-4zM948 387h12v4h-12zM276 391h4v4h-4zM312 391h4v4h-4zM480 391h4v4h-4zM960 391h8v4h-8zM276 395h4v4h-4zM316 395h4v4h-4zM476 395h8v4h-8zM276 399h4v4h-4zM316 399h4v4h-4zM400 399h4v4h-4zM472 399h8v4h-8zM552 399h4v4h-4zM880 399h4v4h-4zM312 403h4v4h-4zM408 403h4v4h-4zM424 403h16v4h-16zM468 403h8v4h-8zM556 403h4v4h-4zM280 407h4v4h-4zM304 407h4v4h-4zM464 407h8v4h-8zM884 407h4v4h-4zM284 411h8v4h-8zM300 411h4v4h-4zM444 411h4v4h-4zM464 411h8v4h-8zM720 411h4v4h-4zM888 411h4v4h-4zM292 415h12v4h-12zM384 415h8v4h-8zM444 415h4v4h-4zM460 415h8v4h-8zM560 415h4v4h-4zM728 415h4v4h-4zM896 415h4v4h-4zM448 419h4v4h-4zM460 419h8v4h-8zM560 419h4v4h-4zM740 419h4v4h-4zM776 419h4v4h-4zM908 419h8v4h-8zM392 423h4v4h-4zM448 423h4v4h-4zM456 423h8v4h-8zM792 423h4v4h-4zM920 423h4v4h-4zM300 427h8v4h-8zM448 427h16v4h-16zM800 427h4v4h-4zM300 431h12v4h-12zM356 431h4v4h-4zM448 431h16v4h-16zM296 435h20v4h-20zM352 435h4v4h-4zM400 435h4v4h-4zM448 435h12v4h-12zM932 435h4v4h-4zM296 439h4v4h-4zM312 439h8v4h-8zM452 439h8v4h-8zM932 439h4v4h-4zM288 443h8v4h-8zM320 443h8v4h-8zM348 443h4v4h-4zM404 443h4v4h-4zM452 443h8v4h-8zM256 447h20v4h-20zM328 447h20v4h-20zM452 447h8v4h-8zM564 447h4v4h-4zM824 447h4v4h-4zM240 451h8v4h-8zM412 451h4v4h-4zM452 451h12v4h-12zM828 451h4v4h-4zM928 451h4v4h-4zM236 455h4v4h-4zM424 455h36v4h-36zM712 455h12v4h-12zM836 455h4v4h-4zM924 455h4v4h-4zM236 459h4v4h-4zM440 459h16v4h-16zM844 459h4v4h-4zM912 459h4v4h-4zM236 463h4v4h-4zM444 463h12v4h-12zM856 463h8v4h-8zM900 463h4v4h-4zM236 467h4v4h-4zM448 467h8v4h-8zM868 467h8v4h-8zM884 467h8v4h-8zM232 471h4v4h-4zM448 471h8v4h-8zM232 475h4v4h-4zM448 475h8v4h-8zM224 479h8v4h-8zM448 479h4v4h-4zM568 479h4v4h-4zM212 483h8v4h-8zM444 483h8v4h-8zM568 483h4v4h-4zM192 487h8v4h-8zM444 487h4v4h-4zM568 487h4v4h-4zM740 487h4v4h-4zM172 491h12v4h-12zM440 491h4v4h-4zM152 495h16v4h-16zM208 495h20v4h-20zM240 495h16v4h-16zM432 495h4v4h-4zM564 495h4v4h-4zM148 499h12v4h-12zM176 499h20v4h-20zM260 499h16v4h-16zM428 499h4v4h-4zM512 499h4v4h-4zM528 499h4v4h-4zM560 499h4v4h-4zM712 499h4v4h-4zM844 499h4v4h-4zM148 503h12v4h-12zM264 503h12v4h-12zM504 503h4v4h-4zM544 503h4v4h-4zM552 503h4v4h-4zM848 503h4v4h-4zM260 507h12v4h-12zM420 507h4v4h-4zM492 507h8v4h-8zM848 507h4v4h-4zM256 511h8v4h-8zM484 511h4v4h-4zM252 515h8v4h-8zM476 515h4v4h-4zM244 519h8v4h-8zM476 519h4v4h-4zM236 523h4v4h-4zM420 523h4v4h-4zM224 531h4v4h-4zM476 531h4v4h-4zM216 535h4v4h-4zM212 539h4v4h-4zM428 539h4v4h-4zM468 539h4v4h-4zM204 543h4v4h-4zM432 543h20v4h-20zM200 547h4v4h-4zM192 551h4v4h-4zM188 555h4v4h-4zM176 563h4v4h-4zM172 567h4v4h-4zM164 571h4v4h-4zM160 575h4v4h-4zM152 579h4v4h-4z"/><path fill="#00e1fa" d="M892 83h4v4h-4zM892 87h4v4h-4zM904 87h4v4h-4zM892 91h4v4h-4zM900 91h4v4h-4zM888 95h4v4h-4zM896 95h8v4h-8zM884 99h4v4h-4zM896 99h4v4h-4zM880 103h16v4h-16zM872 107h4v4h-4zM884 107h8v4h-8zM864 111h4v4h-4zM884 111h4v4h-4zM856 115h4v4h-4zM880 115h4v4h-4zM876 119h4v4h-4zM844 127h4v4h-4zM864 131h4v4h-4zM840 135h4v4h-4zM860 135h4v4h-4zM828 139h8v4h-8zM840 139h12v4h-12zM836 143h4v4h-4zM836 147h4v4h-4zM816 151h4v4h-4zM832 159h4v4h-4zM808 171h4v4h-4zM828 171h4v4h-4zM828 183h4v4h-4zM828 187h4v4h-4zM828 191h4v4h-4zM832 219h4v4h-4zM832 223h4v4h-4zM812 251h4v4h-4zM832 259h4v4h-4zM832 263h4v4h-4zM816 267h4v4h-4zM832 267h4v4h-4zM820 283h4v4h-4zM828 283h4v4h-4zM828 287h4v4h-4zM824 291h4v4h-4zM824 295h4v4h-4zM844 311h4v4h-4zM820 315h20v4h-20zM852 315h4v4h-4zM428 319h4v4h-4zM820 319h12v4h-12zM860 319h4v4h-4zM920 319h12v4h-12zM404 323h20v4h-20zM452 323h4v4h-4zM828 323h8v4h-8zM864 323h4v4h-4zM932 323h4v4h-4zM400 327h4v4h-4zM460 327h4v4h-4zM848 327h4v4h-4zM864 327h4v4h-4zM912 327h4v4h-4zM936 327h4v4h-4zM468 331h4v4h-4zM560 331h4v4h-4zM936 331h4v4h-4zM472 335h4v4h-4zM552 335h4v4h-4zM592 335h4v4h-4zM908 335h4v4h-4zM936 335h4v4h-4zM476 339h4v4h-4zM596 339h4v4h-4zM936 339h4v4h-4zM484 343h40v4h-40zM904 343h4v4h-4zM936 343h4v4h-4zM528 347h8v4h-8zM904 347h4v4h-4zM936 347h4v4h-4zM396 351h4v4h-4zM900 351h4v4h-4zM936 351h4v4h-4zM280 355h20v4h-20zM892 355h8v4h-8zM936 355h4v4h-4zM888 359h8v4h-8zM936 359h4v4h-4zM300 363h4v4h-4zM400 363h4v4h-4zM620 363h4v4h-4zM884 363h4v4h-4zM936 363h4v4h-4zM300 367h4v4h-4zM880 367h4v4h-4zM936 367h4v4h-4zM276 371h4v4h-4zM404 371h4v4h-4zM484 375h20v4h-20zM652 375h8v4h-8zM940 375h4v4h-4zM304 379h4v4h-4zM480 379h8v4h-8zM508 379h8v4h-8zM664 379h4v4h-4zM940 379h4v4h-4zM404 383h4v4h-4zM480 383h4v4h-4zM524 383h16v4h-16zM672 383h4v4h-4zM308 387h4v4h-4zM476 387h4v4h-4zM544 387h4v4h-4zM944 387h4v4h-4zM400 391h4v4h-4zM472 391h8v4h-8zM688 391h4v4h-4zM948 391h12v4h-12zM312 395h4v4h-4zM400 395h4v4h-4zM468 395h8v4h-8zM696 395h4v4h-4zM956 395h12v4h-12zM280 399h4v4h-4zM312 399h4v4h-4zM404 399h4v4h-4zM464 399h8v4h-8zM280 403h4v4h-4zM308 403h4v4h-4zM412 403h12v4h-12zM440 403h8v4h-8zM460 403h8v4h-8zM284 407h4v4h-4zM300 407h4v4h-4zM444 407h8v4h-8zM456 407h8v4h-8zM712 407h4v4h-4zM292 411h8v4h-8zM448 411h16v4h-16zM560 411h4v4h-4zM892 411h4v4h-4zM448 415h12v4h-12zM900 415h8v4h-8zM380 419h4v4h-4zM388 419h4v4h-4zM452 419h8v4h-8zM736 419h4v4h-4zM744 419h4v4h-4zM772 419h4v4h-4zM916 419h4v4h-4zM372 423h4v4h-4zM452 423h4v4h-4zM788 423h4v4h-4zM924 423h4v4h-4zM364 427h4v4h-4zM928 427h4v4h-4zM360 431h4v4h-4zM396 431h4v4h-4zM804 431h4v4h-4zM932 431h4v4h-4zM356 435h4v4h-4zM808 435h4v4h-4zM300 439h12v4h-12zM352 439h4v4h-4zM400 439h4v4h-4zM812 439h4v4h-4zM296 443h24v4h-24zM564 443h4v4h-4zM932 443h4v4h-4zM276 447h24v4h-24zM320 447h8v4h-8zM348 447h4v4h-4zM404 447h4v4h-4zM248 451h16v4h-16zM332 451h20v4h-20zM408 451h4v4h-4zM240 455h8v4h-8zM416 455h8v4h-8zM708 455h4v4h-4zM832 455h4v4h-4zM240 459h4v4h-4zM432 459h8v4h-8zM728 459h4v4h-4zM840 459h4v4h-4zM916 459h4v4h-4zM240 463h4v4h-4zM436 463h8v4h-8zM852 463h4v4h-4zM904 463h4v4h-4zM240 467h4v4h-4zM440 467h8v4h-8zM696 467h4v4h-4zM864 467h4v4h-4zM892 467h4v4h-4zM236 471h4v4h-4zM440 471h8v4h-8zM568 471h4v4h-4zM740 471h4v4h-4zM236 475h4v4h-4zM440 475h8v4h-8zM568 475h4v4h-4zM232 479h4v4h-4zM440 479h8v4h-8zM744 479h4v4h-4zM220 483h12v4h-12zM440 483h4v4h-4zM200 487h20v4h-20zM280 487h8v4h-8zM436 487h8v4h-8zM184 491h60v4h-60zM268 491h20v4h-20zM436 491h4v4h-4zM696 491h4v4h-4zM168 495h40v4h-40zM256 495h32v4h-32zM428 495h4v4h-4zM700 495h4v4h-4zM732 495h4v4h-4zM160 499h16v4h-16zM276 499h12v4h-12zM424 499h4v4h-4zM516 499h12v4h-12zM708 499h4v4h-4zM716 499h4v4h-4zM840 499h4v4h-4zM276 503h12v4h-12zM420 503h4v4h-4zM508 503h4v4h-4zM540 503h4v4h-4zM556 503h4v4h-4zM836 503h4v4h-4zM272 507h16v4h-16zM416 507h4v4h-4zM500 507h8v4h-8zM836 507h4v4h-4zM264 511h20v4h-20zM416 511h4v4h-4zM488 511h8v4h-8zM260 515h16v4h-16zM416 515h4v4h-4zM480 515h8v4h-8zM252 519h12v4h-12zM240 523h16v4h-16zM476 523h4v4h-4zM232 527h4v4h-4zM420 527h4v4h-4zM476 527h4v4h-4zM228 531h4v4h-4zM220 535h4v4h-4zM424 535h4v4h-4zM476 535h4v4h-4zM216 539h4v4h-4zM472 539h4v4h-4zM208 543h4v4h-4zM428 543h4v4h-4zM452 543h8v4h-8zM204 547h4v4h-4zM196 551h4v4h-4zM192 555h4v4h-4zM184 559h4v4h-4zM180 563h4v4h-4zM176 567h4v4h-4zM168 571h4v4h-4zM164 575h4v4h-4zM156 579h4v4h-4zM148 583h8v4h-8z"/><path fill="#02e8f5" d="M896 83h12v4h-12zM896 87h8v4h-8zM896 91h4v4h-4zM892 95h4v4h-4zM888 99h8v4h-8zM876 107h8v4h-8zM868 111h4v4h-4zM880 111h4v4h-4zM860 115h4v4h-4zM876 115h4v4h-4zM848 123h4v4h-4zM872 123h4v4h-4zM868 127h4v4h-4zM844 131h4v4h-4zM844 135h4v4h-4zM856 135h4v4h-4zM836 139h4v4h-4zM824 143h4v4h-4zM820 147h4v4h-4zM832 155h4v4h-4zM812 163h4v4h-4zM828 167h4v4h-4zM808 175h4v4h-4zM828 195h4v4h-4zM828 199h4v4h-4zM832 227h4v4h-4zM808 231h4v4h-4zM832 231h4v4h-4zM832 235h4v4h-4zM832 239h4v4h-4zM832 243h4v4h-4zM812 247h4v4h-4zM832 247h4v4h-4zM832 251h4v4h-4zM832 255h4v4h-4zM816 263h4v4h-4zM820 275h4v4h-4zM820 279h4v4h-4zM828 279h4v4h-4zM824 283h4v4h-4zM824 287h4v4h-4zM840 315h12v4h-12zM432 319h16v4h-16zM832 319h8v4h-8zM856 319h4v4h-4zM424 323h8v4h-8zM448 323h4v4h-4zM836 323h8v4h-8zM916 323h8v4h-8zM928 323h4v4h-4zM404 327h16v4h-16zM456 327h4v4h-4zM852 327h12v4h-12zM932 327h4v4h-4zM400 331h4v4h-4zM464 331h4v4h-4zM584 331h4v4h-4zM912 331h4v4h-4zM932 331h4v4h-4zM396 335h4v4h-4zM932 335h4v4h-4zM548 339h4v4h-4zM908 339h4v4h-4zM932 339h4v4h-4zM480 343h4v4h-4zM544 343h4v4h-4zM908 343h4v4h-4zM932 343h4v4h-4zM396 347h4v4h-4zM484 347h28v4h-28zM520 347h8v4h-8zM536 347h4v4h-4zM932 347h4v4h-4zM604 351h4v4h-4zM904 351h4v4h-4zM932 351h4v4h-4zM608 355h4v4h-4zM900 355h8v4h-8zM932 355h4v4h-4zM280 359h8v4h-8zM292 359h8v4h-8zM612 359h4v4h-4zM896 359h8v4h-8zM932 359h4v4h-4zM280 363h4v4h-4zM296 363h4v4h-4zM888 363h12v4h-12zM280 367h4v4h-4zM624 367h4v4h-4zM884 367h4v4h-4zM280 371h4v4h-4zM300 371h4v4h-4zM480 371h20v4h-20zM632 371h4v4h-4zM880 371h4v4h-4zM936 371h4v4h-4zM280 375h4v4h-4zM300 375h4v4h-4zM476 375h8v4h-8zM504 375h8v4h-8zM640 375h12v4h-12zM880 375h4v4h-4zM936 375h4v4h-4zM280 379h4v4h-4zM408 379h4v4h-4zM472 379h8v4h-8zM516 379h12v4h-12zM660 379h4v4h-4zM280 383h4v4h-4zM304 383h4v4h-4zM472 383h8v4h-8zM540 383h4v4h-4zM940 383h4v4h-4zM280 387h4v4h-4zM404 387h4v4h-4zM468 387h8v4h-8zM680 387h4v4h-4zM940 387h4v4h-4zM280 391h4v4h-4zM308 391h4v4h-4zM464 391h8v4h-8zM548 391h4v4h-4zM940 391h8v4h-8zM280 395h4v4h-4zM460 395h8v4h-8zM880 395h4v4h-4zM944 395h12v4h-12zM308 399h4v4h-4zM432 399h32v4h-32zM700 399h4v4h-4zM960 399h8v4h-8zM284 403h4v4h-4zM304 403h4v4h-4zM448 403h12v4h-12zM884 403h4v4h-4zM288 407h12v4h-12zM452 407h4v4h-4zM888 407h4v4h-4zM896 411h4v4h-4zM908 415h8v4h-8zM384 419h4v4h-4zM748 419h4v4h-4zM768 419h4v4h-4zM920 419h4v4h-4zM376 423h4v4h-4zM388 423h4v4h-4zM784 423h4v4h-4zM928 423h4v4h-4zM368 427h4v4h-4zM392 427h4v4h-4zM796 427h4v4h-4zM932 427h4v4h-4zM396 435h4v4h-4zM564 435h4v4h-4zM356 439h4v4h-4zM564 439h4v4h-4zM352 443h4v4h-4zM400 443h4v4h-4zM816 443h4v4h-4zM300 447h20v4h-20zM352 447h4v4h-4zM820 447h4v4h-4zM932 447h4v4h-4zM264 451h36v4h-36zM320 451h12v4h-12zM352 451h4v4h-4zM824 451h4v4h-4zM248 455h12v4h-12zM336 455h20v4h-20zM412 455h4v4h-4zM724 455h4v4h-4zM244 459h8v4h-8zM420 459h12v4h-12zM568 459h4v4h-4zM700 459h4v4h-4zM836 459h4v4h-4zM920 459h4v4h-4zM244 463h8v4h-8zM428 463h8v4h-8zM568 463h4v4h-4zM732 463h4v4h-4zM844 463h8v4h-8zM908 463h4v4h-4zM244 467h4v4h-4zM432 467h8v4h-8zM568 467h4v4h-4zM736 467h4v4h-4zM856 467h8v4h-8zM896 467h4v4h-4zM240 471h8v4h-8zM432 471h8v4h-8zM872 471h12v4h-12zM240 475h4v4h-4zM288 475h8v4h-8zM432 475h8v4h-8zM692 475h4v4h-4zM744 475h4v4h-4zM236 479h4v4h-4zM280 479h16v4h-16zM432 479h8v4h-8zM692 479h4v4h-4zM232 483h8v4h-8zM276 483h20v4h-20zM432 483h8v4h-8zM692 483h4v4h-4zM744 483h4v4h-4zM220 487h20v4h-20zM264 487h16v4h-16zM288 487h8v4h-8zM432 487h4v4h-4zM692 487h4v4h-4zM244 491h24v4h-24zM288 491h4v4h-4zM428 491h8v4h-8zM568 491h4v4h-4zM288 495h4v4h-4zM424 495h4v4h-4zM288 499h4v4h-4zM420 499h4v4h-4zM720 499h4v4h-4zM848 499h4v4h-4zM288 503h4v4h-4zM416 503h4v4h-4zM512 503h8v4h-8zM536 503h4v4h-4zM288 507h4v4h-4zM508 507h4v4h-4zM284 511h8v4h-8zM496 511h8v4h-8zM840 511h8v4h-8zM276 515h16v4h-16zM488 515h4v4h-4zM264 519h28v4h-28zM416 519h4v4h-4zM480 519h8v4h-8zM256 523h32v4h-32zM416 523h4v4h-4zM480 523h4v4h-4zM236 527h28v4h-28zM480 527h4v4h-4zM232 531h4v4h-4zM248 531h8v4h-8zM420 531h4v4h-4zM480 531h4v4h-4zM224 535h8v4h-8zM480 535h4v4h-4zM220 539h4v4h-4zM424 539h4v4h-4zM476 539h4v4h-4zM212 543h8v4h-8zM460 543h12v4h-12zM208 547h4v4h-4zM428 547h20v4h-20zM200 551h8v4h-8zM196 555h4v4h-4zM188 559h8v4h-8zM184 563h4v4h-4zM180 567h4v4h-4zM172 571h8v4h-8zM168 575h4v4h-4zM160 579h8v4h-8zM156 583h4v4h-4zM148 587h4v4h-4z"/><path fill="#07eef0" d="M872 111h8v4h-8zM864 115h4v4h-4zM872 115h4v4h-4zM852 119h4v4h-4zM872 119h4v4h-4zM868 123h4v4h-4zM864 127h4v4h-4zM860 131h4v4h-4zM848 135h8v4h-8zM828 143h8v4h-8zM832 147h4v4h-4zM832 151h4v4h-4zM816 155h4v4h-4zM828 163h4v4h-4zM808 179h4v4h-4zM808 183h4v4h-4zM828 203h4v4h-4zM808 223h4v4h-4zM808 227h4v4h-4zM816 259h4v4h-4zM820 271h4v4h-4zM828 271h4v4h-4zM828 275h4v4h-4zM824 279h4v4h-4zM840 319h8v4h-8zM852 319h4v4h-4zM432 323h4v4h-4zM444 323h4v4h-4zM844 323h8v4h-8zM856 323h8v4h-8zM924 323h4v4h-4zM420 327h8v4h-8zM452 327h4v4h-4zM916 327h4v4h-4zM928 327h4v4h-4zM404 331h16v4h-16zM460 331h4v4h-4zM564 331h8v4h-8zM576 331h8v4h-8zM916 331h4v4h-4zM468 335h4v4h-4zM588 335h4v4h-4zM912 335h4v4h-4zM396 339h4v4h-4zM472 339h4v4h-4zM912 339h4v4h-4zM396 343h4v4h-4zM476 343h4v4h-4zM596 343h4v4h-4zM912 343h4v4h-4zM476 347h8v4h-8zM512 347h8v4h-8zM540 347h4v4h-4zM600 347h4v4h-4zM908 347h4v4h-4zM476 351h36v4h-36zM528 351h4v4h-4zM908 351h4v4h-4zM480 355h24v4h-24zM908 355h4v4h-4zM288 359h4v4h-4zM400 359h4v4h-4zM476 359h20v4h-20zM904 359h8v4h-8zM284 363h12v4h-12zM476 363h20v4h-20zM616 363h4v4h-4zM900 363h8v4h-8zM932 363h4v4h-4zM296 367h4v4h-4zM404 367h4v4h-4zM476 367h24v4h-24zM888 367h16v4h-16zM932 367h4v4h-4zM296 371h4v4h-4zM472 371h8v4h-8zM500 371h8v4h-8zM628 371h4v4h-4zM884 371h12v4h-12zM932 371h4v4h-4zM408 375h4v4h-4zM468 375h8v4h-8zM512 375h8v4h-8zM636 375h4v4h-4zM300 379h4v4h-4zM464 379h8v4h-8zM528 379h12v4h-12zM656 379h4v4h-4zM880 379h4v4h-4zM936 379h4v4h-4zM300 383h4v4h-4zM408 383h4v4h-4zM460 383h12v4h-12zM668 383h4v4h-4zM880 383h4v4h-4zM936 383h4v4h-4zM304 387h4v4h-4zM456 387h12v4h-12zM676 387h4v4h-4zM880 387h4v4h-4zM936 387h4v4h-4zM404 391h4v4h-4zM448 391h16v4h-16zM684 391h4v4h-4zM880 391h4v4h-4zM936 391h4v4h-4zM284 395h4v4h-4zM308 395h4v4h-4zM404 395h4v4h-4zM436 395h24v4h-24zM552 395h4v4h-4zM692 395h4v4h-4zM936 395h8v4h-8zM284 399h4v4h-4zM304 399h4v4h-4zM408 399h4v4h-4zM428 399h4v4h-4zM884 399h4v4h-4zM940 399h20v4h-20zM288 403h8v4h-8zM300 403h4v4h-4zM704 403h4v4h-4zM888 403h4v4h-4zM560 407h4v4h-4zM892 407h4v4h-4zM716 411h4v4h-4zM900 411h8v4h-8zM724 415h4v4h-4zM916 415h8v4h-8zM732 419h4v4h-4zM752 419h16v4h-16zM924 419h4v4h-4zM380 423h8v4h-8zM372 427h4v4h-4zM364 431h4v4h-4zM392 431h4v4h-4zM564 431h4v4h-4zM936 431h4v4h-4zM360 435h4v4h-4zM936 435h4v4h-4zM396 439h4v4h-4zM936 439h4v4h-4zM356 443h4v4h-4zM396 443h4v4h-4zM936 443h4v4h-4zM356 447h4v4h-4zM400 447h4v4h-4zM300 451h20v4h-20zM356 451h8v4h-8zM404 451h4v4h-4zM932 451h4v4h-4zM260 455h16v4h-16zM280 455h36v4h-36zM324 455h12v4h-12zM356 455h8v4h-8zM408 455h4v4h-4zM568 455h4v4h-4zM704 455h4v4h-4zM828 455h4v4h-4zM928 455h4v4h-4zM252 459h8v4h-8zM296 459h12v4h-12zM340 459h24v4h-24zM412 459h8v4h-8zM252 463h4v4h-4zM292 463h16v4h-16zM352 463h8v4h-8zM420 463h8v4h-8zM696 463h4v4h-4zM912 463h4v4h-4zM248 467h8v4h-8zM288 467h16v4h-16zM424 467h8v4h-8zM852 467h4v4h-4zM900 467h4v4h-4zM248 471h4v4h-4zM284 471h20v4h-20zM424 471h8v4h-8zM864 471h8v4h-8zM884 471h8v4h-8zM244 475h8v4h-8zM276 475h12v4h-12zM296 475h8v4h-8zM428 475h4v4h-4zM240 479h8v4h-8zM268 479h12v4h-12zM296 479h4v4h-4zM428 479h4v4h-4zM240 483h36v4h-36zM296 483h4v4h-4zM428 483h4v4h-4zM240 487h24v4h-24zM296 487h4v4h-4zM424 487h8v4h-8zM292 491h8v4h-8zM424 491h4v4h-4zM292 495h8v4h-8zM420 495h4v4h-4zM292 499h8v4h-8zM416 499h4v4h-4zM564 499h4v4h-4zM704 499h4v4h-4zM292 503h8v4h-8zM412 503h4v4h-4zM520 503h4v4h-4zM532 503h4v4h-4zM560 503h4v4h-4zM292 507h8v4h-8zM412 507h4v4h-4zM512 507h4v4h-4zM292 511h8v4h-8zM412 511h4v4h-4zM504 511h8v4h-8zM292 515h8v4h-8zM412 515h4v4h-4zM492 515h8v4h-8zM292 519h8v4h-8zM488 519h4v4h-4zM288 523h12v4h-12zM484 523h4v4h-4zM264 527h36v4h-36zM416 527h4v4h-4zM236 531h12v4h-12zM256 531h40v4h-40zM232 535h64v4h-64zM420 535h4v4h-4zM224 539h40v4h-40zM480 539h4v4h-4zM220 543h40v4h-40zM424 543h4v4h-4zM472 543h8v4h-8zM212 547h48v4h-48zM424 547h4v4h-4zM448 547h8v4h-8zM208 551h48v4h-48zM428 551h12v4h-12zM200 555h44v4h-44zM196 559h40v4h-40zM188 563h40v4h-40zM184 567h36v4h-36zM180 571h32v4h-32zM172 575h32v4h-32zM168 579h28v4h-28zM160 583h28v4h-28zM152 587h28v4h-28zM148 591h24v4h-24zM148 595h16v4h-16zM148 599h8v4h-8z"/><path fill="#0cf5eb" d="M868 115h4v4h-4zM856 119h16v4h-16zM864 123h4v4h-4zM848 127h4v4h-4zM860 127h4v4h-4zM848 131h12v4h-12zM820 151h4v4h-4zM816 159h4v4h-4zM812 167h4v4h-4zM824 171h4v4h-4zM824 175h4v4h-4zM824 179h4v4h-4zM824 183h4v4h-4zM808 187h4v4h-4zM828 207h4v4h-4zM828 211h4v4h-4zM808 215h4v4h-4zM808 219h4v4h-4zM812 243h4v4h-4zM816 255h4v4h-4zM828 263h4v4h-4zM820 267h4v4h-4zM828 267h4v4h-4zM824 271h4v4h-4zM824 275h4v4h-4zM848 319h4v4h-4zM436 323h8v4h-8zM852 323h4v4h-4zM428 327h4v4h-4zM448 327h4v4h-4zM920 327h8v4h-8zM420 331h4v4h-4zM456 331h4v4h-4zM572 331h4v4h-4zM920 331h12v4h-12zM400 335h24v4h-24zM464 335h4v4h-4zM556 335h4v4h-4zM916 335h4v4h-4zM928 335h4v4h-4zM412 339h8v4h-8zM468 339h4v4h-4zM592 339h4v4h-4zM916 339h4v4h-4zM928 339h4v4h-4zM412 343h8v4h-8zM472 343h4v4h-4zM916 343h4v4h-4zM928 343h4v4h-4zM412 347h8v4h-8zM472 347h4v4h-4zM912 347h8v4h-8zM928 347h4v4h-4zM400 351h4v4h-4zM412 351h8v4h-8zM468 351h8v4h-8zM512 351h16v4h-16zM532 351h4v4h-4zM912 351h8v4h-8zM928 351h4v4h-4zM400 355h4v4h-4zM468 355h12v4h-12zM504 355h8v4h-8zM912 355h4v4h-4zM928 355h4v4h-4zM464 359h12v4h-12zM496 359h8v4h-8zM912 359h4v4h-4zM928 359h4v4h-4zM404 363h4v4h-4zM464 363h12v4h-12zM496 363h8v4h-8zM908 363h8v4h-8zM928 363h4v4h-4zM284 367h12v4h-12zM460 367h16v4h-16zM500 367h8v4h-8zM620 367h4v4h-4zM904 367h8v4h-8zM928 367h4v4h-4zM284 371h12v4h-12zM408 371h4v4h-4zM456 371h16v4h-16zM508 371h8v4h-8zM896 371h12v4h-12zM928 371h4v4h-4zM284 375h4v4h-4zM296 375h4v4h-4zM412 375h4v4h-4zM452 375h16v4h-16zM520 375h8v4h-8zM632 375h4v4h-4zM884 375h20v4h-20zM932 375h4v4h-4zM284 379h4v4h-4zM296 379h4v4h-4zM412 379h20v4h-20zM448 379h16v4h-16zM540 379h4v4h-4zM648 379h8v4h-8zM884 379h4v4h-4zM932 379h4v4h-4zM284 383h4v4h-4zM412 383h4v4h-4zM424 383h36v4h-36zM544 383h4v4h-4zM664 383h4v4h-4zM932 383h4v4h-4zM284 387h4v4h-4zM300 387h4v4h-4zM408 387h4v4h-4zM432 387h24v4h-24zM672 387h4v4h-4zM932 387h4v4h-4zM284 391h4v4h-4zM304 391h4v4h-4zM432 391h16v4h-16zM680 391h4v4h-4zM932 391h4v4h-4zM304 395h4v4h-4zM432 395h4v4h-4zM688 395h4v4h-4zM884 395h4v4h-4zM928 395h8v4h-8zM288 399h4v4h-4zM300 399h4v4h-4zM412 399h4v4h-4zM420 399h8v4h-8zM556 399h4v4h-4zM888 399h4v4h-4zM928 399h12v4h-12zM296 403h4v4h-4zM892 403h4v4h-4zM932 403h16v4h-16zM708 407h4v4h-4zM896 407h8v4h-8zM908 411h12v4h-12zM924 415h4v4h-4zM928 419h4v4h-4zM780 423h4v4h-4zM932 423h4v4h-4zM376 427h4v4h-4zM388 427h4v4h-4zM564 427h4v4h-4zM792 427h4v4h-4zM936 427h4v4h-4zM368 431h4v4h-4zM800 431h4v4h-4zM364 435h4v4h-4zM392 435h4v4h-4zM804 435h4v4h-4zM360 439h4v4h-4zM360 443h4v4h-4zM360 447h4v4h-4zM396 447h4v4h-4zM364 451h4v4h-4zM400 451h4v4h-4zM568 451h4v4h-4zM716 451h4v4h-4zM276 455h4v4h-4zM316 455h8v4h-8zM364 455h8v4h-8zM404 455h4v4h-4zM728 455h4v4h-4zM260 459h36v4h-36zM308 459h12v4h-12zM328 459h12v4h-12zM364 459h8v4h-8zM408 459h4v4h-4zM832 459h4v4h-4zM924 459h4v4h-4zM256 463h8v4h-8zM280 463h12v4h-12zM308 463h4v4h-4zM340 463h12v4h-12zM360 463h8v4h-8zM412 463h8v4h-8zM840 463h4v4h-4zM916 463h4v4h-4zM256 467h4v4h-4zM276 467h12v4h-12zM304 467h8v4h-8zM352 467h12v4h-12zM416 467h8v4h-8zM848 467h4v4h-4zM904 467h4v4h-4zM252 471h8v4h-8zM272 471h12v4h-12zM304 471h4v4h-4zM420 471h4v4h-4zM692 471h4v4h-4zM856 471h8v4h-8zM892 471h4v4h-4zM252 475h24v4h-24zM304 475h4v4h-4zM420 475h8v4h-8zM248 479h20v4h-20zM300 479h4v4h-4zM420 479h8v4h-8zM300 483h4v4h-4zM420 483h8v4h-8zM300 487h4v4h-4zM420 487h4v4h-4zM300 491h4v4h-4zM420 491h4v4h-4zM692 491h4v4h-4zM740 491h4v4h-4zM300 495h4v4h-4zM416 495h4v4h-4zM568 495h4v4h-4zM696 495h4v4h-4zM736 495h4v4h-4zM844 495h4v4h-4zM300 499h4v4h-4zM412 499h4v4h-4zM724 499h4v4h-4zM836 499h4v4h-4zM300 503h4v4h-4zM408 503h4v4h-4zM524 503h8v4h-8zM852 503h4v4h-4zM300 507h4v4h-4zM408 507h4v4h-4zM516 507h4v4h-4zM544 507h12v4h-12zM852 507h4v4h-4zM300 511h4v4h-4zM512 511h4v4h-4zM836 511h4v4h-4zM848 511h4v4h-4zM300 515h4v4h-4zM500 515h8v4h-8zM300 519h4v4h-4zM412 519h4v4h-4zM492 519h8v4h-8zM300 523h4v4h-4zM488 523h4v4h-4zM300 527h4v4h-4zM484 527h4v4h-4zM296 531h8v4h-8zM416 531h4v4h-4zM484 531h4v4h-4zM296 535h8v4h-8zM484 535h4v4h-4zM264 539h40v4h-40zM420 539h4v4h-4zM484 539h4v4h-4zM260 543h44v4h-44zM420 543h4v4h-4zM480 543h4v4h-4zM260 547h44v4h-44zM420 547h4v4h-4zM456 547h8v4h-8zM256 551h16v4h-16zM424 551h4v4h-4zM440 551h8v4h-8zM244 555h16v4h-16zM424 555h16v4h-16zM236 559h16v4h-16zM228 563h16v4h-16zM220 567h16v4h-16zM212 571h16v4h-16zM204 575h16v4h-16zM196 579h16v4h-16zM188 583h16v4h-16zM180 587h16v4h-16zM172 591h16v4h-16zM164 595h16v4h-16zM156 599h16v4h-16zM148 603h16v4h-16zM148 607h8v4h-8z"/><path fill="#11fbe5" d="M852 123h12v4h-12zM852 127h8v4h-8zM824 147h8v4h-8zM828 151h4v4h-4zM828 155h4v4h-4zM828 159h4v4h-4zM816 163h4v4h-4zM824 167h4v4h-4zM812 171h4v4h-4zM824 187h4v4h-4zM808 191h4v4h-4zM824 191h4v4h-4zM808 195h4v4h-4zM808 199h4v4h-4zM808 203h4v4h-4zM808 207h4v4h-4zM808 211h4v4h-4zM828 215h4v4h-4zM828 219h4v4h-4zM812 239h4v4h-4zM816 251h4v4h-4zM828 255h4v4h-4zM828 259h4v4h-4zM820 263h4v4h-4zM824 267h4v4h-4zM432 327h4v4h-4zM444 327h4v4h-4zM424 331h4v4h-4zM452 331h4v4h-4zM460 335h4v4h-4zM584 335h4v4h-4zM920 335h8v4h-8zM400 339h12v4h-12zM420 339h4v4h-4zM464 339h4v4h-4zM920 339h8v4h-8zM400 343h4v4h-4zM408 343h4v4h-4zM420 343h4v4h-4zM468 343h4v4h-4zM920 343h8v4h-8zM400 347h12v4h-12zM420 347h4v4h-4zM468 347h4v4h-4zM920 347h8v4h-8zM404 351h8v4h-8zM420 351h4v4h-4zM464 351h4v4h-4zM536 351h4v4h-4zM600 351h4v4h-4zM920 351h8v4h-8zM404 355h20v4h-20zM460 355h8v4h-8zM512 355h16v4h-16zM604 355h4v4h-4zM916 355h12v4h-12zM404 359h4v4h-4zM456 359h8v4h-8zM504 359h8v4h-8zM608 359h4v4h-4zM916 359h12v4h-12zM452 363h12v4h-12zM504 363h8v4h-8zM612 363h4v4h-4zM916 363h12v4h-12zM408 367h4v4h-4zM448 367h12v4h-12zM508 367h8v4h-8zM912 367h16v4h-16zM412 371h44v4h-44zM516 371h8v4h-8zM624 371h4v4h-4zM908 371h8v4h-8zM924 371h4v4h-4zM288 375h8v4h-8zM416 375h36v4h-36zM528 375h8v4h-8zM904 375h12v4h-12zM924 375h8v4h-8zM288 379h8v4h-8zM432 379h16v4h-16zM640 379h8v4h-8zM888 379h24v4h-24zM924 379h8v4h-8zM288 383h12v4h-12zM416 383h8v4h-8zM660 383h4v4h-4zM884 383h24v4h-24zM924 383h8v4h-8zM288 387h4v4h-4zM296 387h4v4h-4zM412 387h4v4h-4zM420 387h12v4h-12zM548 387h4v4h-4zM668 387h4v4h-4zM884 387h8v4h-8zM920 387h12v4h-12zM288 391h4v4h-4zM300 391h4v4h-4zM408 391h4v4h-4zM428 391h4v4h-4zM676 391h4v4h-4zM884 391h8v4h-8zM920 391h12v4h-12zM288 395h8v4h-8zM300 395h4v4h-4zM408 395h4v4h-4zM424 395h8v4h-8zM888 395h8v4h-8zM916 395h12v4h-12zM292 399h8v4h-8zM416 399h4v4h-4zM696 399h4v4h-4zM892 399h12v4h-12zM916 399h12v4h-12zM560 403h4v4h-4zM896 403h16v4h-16zM916 403h16v4h-16zM948 403h20v4h-20zM904 407h40v4h-40zM920 411h16v4h-16zM720 415h4v4h-4zM928 415h4v4h-4zM932 419h4v4h-4zM564 423h4v4h-4zM776 423h4v4h-4zM936 423h4v4h-4zM380 427h8v4h-8zM788 427h4v4h-4zM388 431h4v4h-4zM940 431h4v4h-4zM940 435h4v4h-4zM364 439h4v4h-4zM392 439h4v4h-4zM808 439h4v4h-4zM940 439h4v4h-4zM364 443h4v4h-4zM392 443h4v4h-4zM812 443h4v4h-4zM364 447h8v4h-8zM392 447h4v4h-4zM568 447h4v4h-4zM816 447h4v4h-4zM936 447h4v4h-4zM368 451h8v4h-8zM396 451h4v4h-4zM712 451h4v4h-4zM720 451h8v4h-8zM820 451h4v4h-4zM372 455h8v4h-8zM400 455h4v4h-4zM824 455h4v4h-4zM932 455h4v4h-4zM320 459h8v4h-8zM372 459h4v4h-4zM404 459h4v4h-4zM732 459h4v4h-4zM928 459h4v4h-4zM264 463h16v4h-16zM312 463h8v4h-8zM332 463h8v4h-8zM368 463h8v4h-8zM408 463h4v4h-4zM836 463h4v4h-4zM920 463h4v4h-4zM260 467h16v4h-16zM312 467h4v4h-4zM344 467h8v4h-8zM364 467h8v4h-8zM412 467h4v4h-4zM692 467h4v4h-4zM740 467h4v4h-4zM844 467h4v4h-4zM908 467h4v4h-4zM260 471h12v4h-12zM308 471h4v4h-4zM352 471h20v4h-20zM412 471h8v4h-8zM744 471h4v4h-4zM852 471h4v4h-4zM896 471h4v4h-4zM308 475h4v4h-4zM412 475h8v4h-8zM868 475h12v4h-12zM304 479h8v4h-8zM412 479h8v4h-8zM572 479h4v4h-4zM748 479h4v4h-4zM304 483h4v4h-4zM412 483h8v4h-8zM572 483h4v4h-4zM688 483h4v4h-4zM304 487h4v4h-4zM408 487h12v4h-12zM572 487h4v4h-4zM688 487h4v4h-4zM304 491h4v4h-4zM404 491h16v4h-16zM304 495h4v4h-4zM400 495h16v4h-16zM840 495h4v4h-4zM848 495h4v4h-4zM304 499h4v4h-4zM404 499h8v4h-8zM700 499h4v4h-4zM852 499h4v4h-4zM304 503h4v4h-4zM404 503h4v4h-4zM304 507h4v4h-4zM404 507h4v4h-4zM520 507h4v4h-4zM540 507h4v4h-4zM556 507h4v4h-4zM832 507h4v4h-4zM304 511h4v4h-4zM408 511h4v4h-4zM516 511h4v4h-4zM304 515h4v4h-4zM408 515h4v4h-4zM508 515h4v4h-4zM304 519h4v4h-4zM500 519h4v4h-4zM304 523h4v4h-4zM412 523h4v4h-4zM492 523h4v4h-4zM304 527h8v4h-8zM412 527h4v4h-4zM488 527h4v4h-4zM304 531h8v4h-8zM488 531h4v4h-4zM304 535h8v4h-8zM416 535h4v4h-4zM488 535h4v4h-4zM304 539h8v4h-8zM416 539h4v4h-4zM488 539h4v4h-4zM304 543h8v4h-8zM484 543h4v4h-4zM304 547h8v4h-8zM464 547h12v4h-12zM272 551h40v4h-40zM420 551h4v4h-4zM448 551h8v4h-8zM260 555h52v4h-52zM420 555h4v4h-4zM440 555h4v4h-4zM252 559h60v4h-60zM424 559h12v4h-12zM244 563h12v4h-12zM276 563h32v4h-32zM236 567h12v4h-12zM228 571h12v4h-12zM220 575h12v4h-12zM212 579h12v4h-12zM204 583h12v4h-12zM196 587h12v4h-12zM188 591h12v4h-12zM180 595h12v4h-12zM172 599h12v4h-12zM164 603h12v4h-12zM156 607h12v4h-12zM148 611h12v4h-12z"/><path fill="#17ffe0" d="M824 151h4v4h-4zM820 155h4v4h-4zM820 159h8v4h-8zM824 163h4v4h-4zM816 167h4v4h-4zM812 175h4v4h-4zM812 179h4v4h-4zM824 195h4v4h-4zM824 199h4v4h-4zM828 223h4v4h-4zM828 227h4v4h-4zM828 231h4v4h-4zM812 235h4v4h-4zM828 235h4v4h-4zM828 239h4v4h-4zM828 243h4v4h-4zM828 247h4v4h-4zM828 251h4v4h-4zM820 259h4v4h-4zM824 263h4v4h-4zM436 327h8v4h-8zM428 331h4v4h-4zM448 331h4v4h-4zM424 335h4v4h-4zM456 335h4v4h-4zM560 335h4v4h-4zM580 335h4v4h-4zM424 339h4v4h-4zM552 339h4v4h-4zM588 339h4v4h-4zM404 343h4v4h-4zM464 343h4v4h-4zM548 343h4v4h-4zM592 343h4v4h-4zM424 347h4v4h-4zM460 347h8v4h-8zM544 347h4v4h-4zM596 347h4v4h-4zM424 351h4v4h-4zM456 351h8v4h-8zM424 355h4v4h-4zM452 355h8v4h-8zM528 355h8v4h-8zM408 359h24v4h-24zM448 359h8v4h-8zM512 359h12v4h-12zM408 363h44v4h-44zM512 363h8v4h-8zM412 367h36v4h-36zM516 367h8v4h-8zM616 367h4v4h-4zM524 371h8v4h-8zM620 371h4v4h-4zM916 371h8v4h-8zM536 375h4v4h-4zM628 375h4v4h-4zM916 375h8v4h-8zM636 379h4v4h-4zM912 379h12v4h-12zM656 383h4v4h-4zM908 383h16v4h-16zM292 387h4v4h-4zM416 387h4v4h-4zM664 387h4v4h-4zM892 387h28v4h-28zM292 391h8v4h-8zM412 391h4v4h-4zM420 391h8v4h-8zM892 391h28v4h-28zM296 395h4v4h-4zM412 395h4v4h-4zM420 395h4v4h-4zM684 395h4v4h-4zM896 395h20v4h-20zM692 399h4v4h-4zM904 399h12v4h-12zM700 403h4v4h-4zM912 403h4v4h-4zM944 407h4v4h-4zM712 411h4v4h-4zM936 411h4v4h-4zM564 415h4v4h-4zM932 415h8v4h-8zM564 419h4v4h-4zM728 419h4v4h-4zM936 419h4v4h-4zM772 423h4v4h-4zM940 427h4v4h-4zM372 431h4v4h-4zM384 431h4v4h-4zM796 431h4v4h-4zM368 435h4v4h-4zM388 435h4v4h-4zM368 439h4v4h-4zM388 439h4v4h-4zM368 443h4v4h-4zM388 443h4v4h-4zM568 443h4v4h-4zM940 443h4v4h-4zM372 447h12v4h-12zM388 447h4v4h-4zM376 451h20v4h-20zM708 451h4v4h-4zM936 451h4v4h-4zM380 455h20v4h-20zM700 455h4v4h-4zM376 459h8v4h-8zM396 459h8v4h-8zM696 459h4v4h-4zM828 459h4v4h-4zM320 463h12v4h-12zM376 463h8v4h-8zM400 463h8v4h-8zM736 463h4v4h-4zM316 467h4v4h-4zM336 467h8v4h-8zM372 467h8v4h-8zM404 467h8v4h-8zM840 467h4v4h-4zM912 467h4v4h-4zM312 471h8v4h-8zM348 471h4v4h-4zM372 471h8v4h-8zM404 471h8v4h-8zM848 471h4v4h-4zM900 471h4v4h-4zM312 475h4v4h-4zM352 475h24v4h-24zM400 475h12v4h-12zM572 475h4v4h-4zM688 475h4v4h-4zM748 475h4v4h-4zM860 475h8v4h-8zM880 475h8v4h-8zM312 479h4v4h-4zM364 479h8v4h-8zM400 479h12v4h-12zM688 479h4v4h-4zM308 483h4v4h-4zM400 483h12v4h-12zM308 487h4v4h-4zM400 487h8v4h-8zM744 487h4v4h-4zM308 491h4v4h-4zM396 491h8v4h-8zM572 491h4v4h-4zM308 495h4v4h-4zM396 495h4v4h-4zM308 499h4v4h-4zM396 499h8v4h-8zM728 499h4v4h-4zM308 503h4v4h-4zM400 503h4v4h-4zM564 503h4v4h-4zM708 503h8v4h-8zM832 503h4v4h-4zM308 507h4v4h-4zM400 507h4v4h-4zM524 507h4v4h-4zM536 507h4v4h-4zM308 511h8v4h-8zM404 511h4v4h-4zM520 511h4v4h-4zM308 515h8v4h-8zM512 515h8v4h-8zM308 519h8v4h-8zM408 519h4v4h-4zM504 519h8v4h-8zM308 523h8v4h-8zM496 523h8v4h-8zM312 527h4v4h-4zM492 527h4v4h-4zM312 531h4v4h-4zM412 531h4v4h-4zM312 535h4v4h-4zM312 539h8v4h-8zM312 543h8v4h-8zM416 543h4v4h-4zM488 543h4v4h-4zM312 547h8v4h-8zM416 547h4v4h-4zM476 547h8v4h-8zM312 551h8v4h-8zM416 551h4v4h-4zM456 551h8v4h-8zM312 555h8v4h-8zM416 555h4v4h-4zM444 555h8v4h-8zM312 559h8v4h-8zM420 559h4v4h-4zM436 559h8v4h-8zM256 563h20v4h-20zM308 563h12v4h-12zM420 563h16v4h-16zM248 567h72v4h-72zM240 571h80v4h-80zM232 575h76v4h-76zM224 579h60v4h-60zM216 583h64v4h-64zM208 587h76v4h-76zM200 591h84v4h-84zM192 595h96v4h-96zM184 599h104v4h-104zM176 603h108v4h-108zM168 607h116v4h-116zM160 611h120v4h-120zM148 615h128v4h-128zM148 619h128v4h-128zM148 623h124v4h-124zM148 627h124v4h-124zM148 631h120v4h-120zM148 635h120v4h-120zM148 639h116v4h-116zM148 643h116v4h-116zM148 647h112v4h-112zM148 651h112v4h-112zM148 655h108v4h-108zM148 659h108v4h-108zM148 663h104v4h-104zM148 667h104v4h-104zM148 671h100v4h-100zM148 675h100v4h-100zM148 679h96v4h-96zM148 683h96v4h-96zM148 687h92v4h-92zM148 691h92v4h-92z"/><path fill="#1cffdb" d="M824 155h4v4h-4zM820 163h4v4h-4zM820 167h4v4h-4zM816 171h8v4h-8zM816 175h8v4h-8zM820 179h4v4h-4zM812 183h4v4h-4zM820 183h4v4h-4zM824 203h4v4h-4zM824 207h4v4h-4zM812 231h4v4h-4zM816 247h4v4h-4zM820 255h8v4h-8zM824 259h4v4h-4zM432 331h4v4h-4zM444 331h4v4h-4zM428 335h4v4h-4zM452 335h4v4h-4zM572 335h8v4h-8zM460 339h4v4h-4zM424 343h4v4h-4zM460 343h4v4h-4zM456 347h4v4h-4zM428 351h4v4h-4zM452 351h4v4h-4zM540 351h4v4h-4zM428 355h8v4h-8zM448 355h4v4h-4zM432 359h16v4h-16zM524 359h8v4h-8zM520 363h8v4h-8zM524 367h4v4h-4zM532 371h4v4h-4zM540 375h4v4h-4zM544 379h4v4h-4zM632 379h4v4h-4zM648 383h8v4h-8zM660 387h4v4h-4zM416 391h4v4h-4zM552 391h4v4h-4zM672 391h4v4h-4zM416 395h4v4h-4zM680 395h4v4h-4zM688 399h4v4h-4zM704 407h4v4h-4zM948 407h8v4h-8zM564 411h4v4h-4zM940 411h4v4h-4zM940 415h4v4h-4zM940 419h4v4h-4zM736 423h12v4h-12zM768 423h4v4h-4zM940 423h4v4h-4zM784 427h4v4h-4zM376 431h8v4h-8zM944 431h4v4h-4zM372 435h4v4h-4zM384 435h4v4h-4zM568 435h4v4h-4zM944 435h4v4h-4zM372 439h4v4h-4zM384 439h4v4h-4zM568 439h4v4h-4zM944 439h4v4h-4zM372 443h16v4h-16zM384 447h4v4h-4zM940 447h4v4h-4zM728 451h4v4h-4zM816 451h4v4h-4zM820 455h4v4h-4zM936 455h4v4h-4zM384 459h12v4h-12zM932 459h4v4h-4zM384 463h16v4h-16zM832 463h4v4h-4zM924 463h4v4h-4zM320 467h16v4h-16zM380 467h24v4h-24zM572 467h4v4h-4zM916 467h4v4h-4zM320 471h4v4h-4zM340 471h8v4h-8zM380 471h24v4h-24zM572 471h4v4h-4zM688 471h4v4h-4zM844 471h4v4h-4zM904 471h4v4h-4zM316 475h4v4h-4zM348 475h4v4h-4zM376 475h12v4h-12zM392 475h8v4h-8zM852 475h8v4h-8zM888 475h8v4h-8zM316 479h4v4h-4zM356 479h8v4h-8zM372 479h12v4h-12zM392 479h8v4h-8zM312 483h4v4h-4zM364 483h16v4h-16zM392 483h8v4h-8zM312 487h4v4h-4zM392 487h8v4h-8zM312 491h4v4h-4zM392 491h4v4h-4zM688 491h4v4h-4zM312 495h4v4h-4zM392 495h4v4h-4zM692 495h4v4h-4zM836 495h4v4h-4zM312 499h4v4h-4zM392 499h4v4h-4zM568 499h4v4h-4zM312 503h8v4h-8zM396 503h4v4h-4zM704 503h4v4h-4zM716 503h4v4h-4zM312 507h8v4h-8zM396 507h4v4h-4zM528 507h8v4h-8zM560 507h4v4h-4zM316 511h4v4h-4zM400 511h4v4h-4zM832 511h4v4h-4zM852 511h4v4h-4zM316 515h4v4h-4zM404 515h4v4h-4zM520 515h4v4h-4zM316 519h4v4h-4zM404 519h4v4h-4zM512 519h4v4h-4zM316 523h4v4h-4zM408 523h4v4h-4zM504 523h4v4h-4zM316 527h4v4h-4zM408 527h4v4h-4zM496 527h4v4h-4zM316 531h8v4h-8zM492 531h4v4h-4zM316 535h8v4h-8zM412 535h4v4h-4zM492 535h4v4h-4zM320 539h4v4h-4zM412 539h4v4h-4zM492 539h4v4h-4zM320 543h4v4h-4zM412 543h4v4h-4zM492 543h4v4h-4zM320 547h4v4h-4zM412 547h4v4h-4zM484 547h4v4h-4zM320 551h4v4h-4zM412 551h4v4h-4zM464 551h8v4h-8zM320 555h4v4h-4zM452 555h4v4h-4zM320 559h4v4h-4zM416 559h4v4h-4zM444 559h4v4h-4zM320 563h8v4h-8zM416 563h4v4h-4zM436 563h4v4h-4zM320 567h8v4h-8zM420 567h16v4h-16zM320 571h8v4h-8zM308 575h20v4h-20zM284 579h44v4h-44zM280 583h24v4h-24zM284 587h16v4h-16zM284 591h16v4h-16zM288 595h12v4h-12zM288 599h8v4h-8zM284 603h8v4h-8zM284 607h8v4h-8zM280 611h8v4h-8zM276 615h12v4h-12zM276 619h8v4h-8zM272 623h8v4h-8zM272 627h8v4h-8zM268 631h8v4h-8zM268 635h8v4h-8zM264 639h8v4h-8zM264 643h8v4h-8zM260 647h8v4h-8zM260 651h8v4h-8zM256 655h8v4h-8zM256 659h8v4h-8zM252 663h8v4h-8zM252 667h8v4h-8zM248 671h8v4h-8zM248 675h8v4h-8zM244 679h8v4h-8zM244 683h8v4h-8zM240 687h8v4h-8zM240 691h8v4h-8z"/><path fill="#21ffd6" d="M816 179h4v4h-4zM816 183h4v4h-4zM812 187h4v4h-4zM820 187h4v4h-4zM812 191h4v4h-4zM820 191h4v4h-4zM824 211h4v4h-4zM812 227h4v4h-4zM816 243h4v4h-4zM824 247h4v4h-4zM820 251h8v4h-8zM436 331h8v4h-8zM448 335h4v4h-4zM564 335h8v4h-8zM428 339h4v4h-4zM456 339h4v4h-4zM584 339h4v4h-4zM428 343h4v4h-4zM456 343h4v4h-4zM428 347h4v4h-4zM452 347h4v4h-4zM432 351h4v4h-4zM448 351h4v4h-4zM596 351h4v4h-4zM436 355h12v4h-12zM536 355h4v4h-4zM600 355h4v4h-4zM532 359h4v4h-4zM604 359h4v4h-4zM528 363h4v4h-4zM608 363h4v4h-4zM528 367h4v4h-4zM612 367h4v4h-4zM536 371h4v4h-4zM624 375h4v4h-4zM548 383h4v4h-4zM640 383h8v4h-8zM656 387h4v4h-4zM668 391h4v4h-4zM556 395h4v4h-4zM676 395h4v4h-4zM684 399h4v4h-4zM696 403h4v4h-4zM956 407h12v4h-12zM708 411h4v4h-4zM944 411h8v4h-8zM716 415h4v4h-4zM944 415h4v4h-4zM724 419h4v4h-4zM748 423h8v4h-8zM764 423h4v4h-4zM944 423h4v4h-4zM780 427h4v4h-4zM944 427h4v4h-4zM568 431h4v4h-4zM792 431h4v4h-4zM376 435h8v4h-8zM800 435h4v4h-4zM376 439h8v4h-8zM804 439h4v4h-4zM808 443h4v4h-4zM944 443h4v4h-4zM812 447h4v4h-4zM704 451h4v4h-4zM940 451h4v4h-4zM572 455h4v4h-4zM732 455h4v4h-4zM572 459h4v4h-4zM736 459h4v4h-4zM824 459h4v4h-4zM572 463h4v4h-4zM692 463h4v4h-4zM928 463h4v4h-4zM744 467h4v4h-4zM836 467h4v4h-4zM920 467h4v4h-4zM324 471h16v4h-16zM748 471h4v4h-4zM908 471h4v4h-4zM320 475h4v4h-4zM344 475h4v4h-4zM388 475h4v4h-4zM848 475h4v4h-4zM896 475h4v4h-4zM320 479h4v4h-4zM348 479h8v4h-8zM384 479h8v4h-8zM684 479h4v4h-4zM860 479h16v4h-16zM316 483h4v4h-4zM356 483h8v4h-8zM380 483h12v4h-12zM684 483h4v4h-4zM748 483h4v4h-4zM316 487h4v4h-4zM364 487h28v4h-28zM684 487h4v4h-4zM316 491h4v4h-4zM372 491h20v4h-20zM844 491h8v4h-8zM316 495h8v4h-8zM384 495h8v4h-8zM572 495h4v4h-4zM852 495h4v4h-4zM316 499h8v4h-8zM388 499h4v4h-4zM696 499h4v4h-4zM732 499h4v4h-4zM832 499h4v4h-4zM320 503h4v4h-4zM388 503h8v4h-8zM856 503h4v4h-4zM320 507h4v4h-4zM392 507h4v4h-4zM856 507h4v4h-4zM320 511h4v4h-4zM396 511h4v4h-4zM524 511h4v4h-4zM548 511h12v4h-12zM320 515h4v4h-4zM400 515h4v4h-4zM320 519h4v4h-4zM400 519h4v4h-4zM516 519h8v4h-8zM320 523h8v4h-8zM404 523h4v4h-4zM508 523h8v4h-8zM320 527h8v4h-8zM500 527h8v4h-8zM324 531h4v4h-4zM408 531h4v4h-4zM496 531h4v4h-4zM324 535h4v4h-4zM408 535h4v4h-4zM496 535h4v4h-4zM324 539h4v4h-4zM496 539h4v4h-4zM324 543h8v4h-8zM324 547h8v4h-8zM488 547h8v4h-8zM324 551h8v4h-8zM472 551h8v4h-8zM324 555h8v4h-8zM412 555h4v4h-4zM456 555h8v4h-8zM324 559h8v4h-8zM412 559h4v4h-4zM448 559h8v4h-8zM328 563h4v4h-4zM412 563h4v4h-4zM440 563h8v4h-8zM328 567h8v4h-8zM416 567h4v4h-4zM436 567h4v4h-4zM328 571h12v4h-12zM416 571h16v4h-16zM328 575h16v4h-16zM328 579h20v4h-20zM304 583h44v4h-44zM300 587h16v4h-16zM300 591h8v4h-8zM300 595h4v4h-4zM296 599h4v4h-4zM292 603h4v4h-4zM292 607h4v4h-4zM288 611h4v4h-4zM284 619h4v4h-4zM280 623h4v4h-4zM280 627h4v4h-4zM276 631h4v4h-4zM276 635h4v4h-4zM272 639h4v4h-4zM272 643h4v4h-4zM268 647h4v4h-4zM268 651h4v4h-4zM264 655h4v4h-4zM264 659h4v4h-4zM260 663h4v4h-4zM260 667h4v4h-4zM256 671h4v4h-4zM256 675h4v4h-4zM252 679h4v4h-4zM252 683h4v4h-4zM248 687h4v4h-4zM248 691h4v4h-4z"/><path fill="#26ffd1" d="M816 187h4v4h-4zM816 191h4v4h-4zM812 195h4v4h-4zM820 195h4v4h-4zM812 199h4v4h-4zM820 199h4v4h-4zM812 203h4v4h-4zM812 207h4v4h-4zM812 211h4v4h-4zM812 215h4v4h-4zM824 215h4v4h-4zM812 219h4v4h-4zM824 219h4v4h-4zM812 223h4v4h-4zM816 239h4v4h-4zM824 239h4v4h-4zM824 243h4v4h-4zM820 247h4v4h-4zM432 335h4v4h-4zM444 335h4v4h-4zM452 339h4v4h-4zM556 339h4v4h-4zM580 339h4v4h-4zM452 343h4v4h-4zM588 343h4v4h-4zM432 347h4v4h-4zM448 347h4v4h-4zM592 347h4v4h-4zM436 351h12v4h-12zM532 363h4v4h-4zM532 367h4v4h-4zM540 371h4v4h-4zM616 371h4v4h-4zM544 375h4v4h-4zM620 375h4v4h-4zM628 379h4v4h-4zM636 383h4v4h-4zM652 387h4v4h-4zM664 391h4v4h-4zM672 395h4v4h-4zM560 399h4v4h-4zM680 399h4v4h-4zM692 403h4v4h-4zM564 407h4v4h-4zM700 407h4v4h-4zM952 411h4v4h-4zM944 419h4v4h-4zM732 423h4v4h-4zM756 423h8v4h-8zM776 427h4v4h-4zM948 427h4v4h-4zM788 431h4v4h-4zM948 431h4v4h-4zM948 435h4v4h-4zM716 447h12v4h-12zM944 447h4v4h-4zM572 451h4v4h-4zM936 459h4v4h-4zM740 463h4v4h-4zM828 463h4v4h-4zM932 463h4v4h-4zM688 467h4v4h-4zM924 467h4v4h-4zM684 471h4v4h-4zM840 471h4v4h-4zM912 471h4v4h-4zM324 475h20v4h-20zM684 475h4v4h-4zM752 475h4v4h-4zM900 475h4v4h-4zM324 479h4v4h-4zM344 479h4v4h-4zM852 479h8v4h-8zM876 479h12v4h-12zM320 483h8v4h-8zM352 483h4v4h-4zM320 487h4v4h-4zM356 487h8v4h-8zM320 491h4v4h-4zM364 491h8v4h-8zM684 491h4v4h-4zM840 491h4v4h-4zM324 495h4v4h-4zM372 495h12v4h-12zM688 495h4v4h-4zM740 495h4v4h-4zM324 499h4v4h-4zM376 499h12v4h-12zM856 499h4v4h-4zM324 503h4v4h-4zM384 503h4v4h-4zM700 503h4v4h-4zM720 503h4v4h-4zM324 507h4v4h-4zM384 507h8v4h-8zM564 507h4v4h-4zM324 511h4v4h-4zM388 511h8v4h-8zM528 511h4v4h-4zM540 511h8v4h-8zM324 515h4v4h-4zM392 515h8v4h-8zM524 515h4v4h-4zM324 519h8v4h-8zM396 519h4v4h-4zM328 523h4v4h-4zM396 523h8v4h-8zM516 523h4v4h-4zM328 527h4v4h-4zM400 527h8v4h-8zM508 527h4v4h-4zM328 531h8v4h-8zM404 531h4v4h-4zM500 531h4v4h-4zM328 535h8v4h-8zM404 535h4v4h-4zM328 539h8v4h-8zM408 539h4v4h-4zM332 543h4v4h-4zM408 543h4v4h-4zM496 543h4v4h-4zM332 547h4v4h-4zM408 547h4v4h-4zM332 551h4v4h-4zM408 551h4v4h-4zM480 551h8v4h-8zM332 555h8v4h-8zM408 555h4v4h-4zM464 555h4v4h-4zM332 559h8v4h-8zM408 559h4v4h-4zM456 559h4v4h-4zM332 563h12v4h-12zM408 563h4v4h-4zM448 563h4v4h-4zM336 567h12v4h-12zM412 567h4v4h-4zM440 567h8v4h-8zM340 571h12v4h-12zM412 571h4v4h-4zM432 571h8v4h-8zM344 575h12v4h-12zM416 575h16v4h-16zM348 579h12v4h-12zM420 579h8v4h-8zM348 583h20v4h-20zM316 587h52v4h-52zM308 591h12v4h-12zM324 591h48v4h-48zM304 595h8v4h-8zM300 599h4v4h-4zM296 603h4v4h-4zM292 611h4v4h-4zM288 615h4v4h-4zM288 619h4v4h-4zM284 623h4v4h-4zM280 631h4v4h-4zM276 639h4v4h-4zM272 647h4v4h-4zM268 655h4v4h-4zM264 663h4v4h-4zM260 671h4v4h-4zM256 679h4v4h-4zM252 687h4v4h-4z"/><path fill="#2bffcc" d="M816 195h4v4h-4zM816 199h4v4h-4zM820 203h4v4h-4zM820 207h4v4h-4zM824 223h4v4h-4zM824 227h4v4h-4zM824 231h4v4h-4zM816 235h4v4h-4zM824 235h4v4h-4zM820 243h4v4h-4zM436 335h8v4h-8zM432 339h4v4h-4zM448 339h4v4h-4zM576 339h4v4h-4zM432 343h4v4h-4zM448 343h4v4h-4zM552 343h4v4h-4zM436 347h12v4h-12zM548 347h4v4h-4zM544 351h4v4h-4zM540 355h4v4h-4zM536 359h4v4h-4zM536 367h4v4h-4zM624 379h4v4h-4zM632 383h4v4h-4zM552 387h4v4h-4zM644 387h8v4h-8zM660 391h4v4h-4zM668 395h4v4h-4zM676 399h4v4h-4zM688 403h4v4h-4zM696 407h4v4h-4zM704 411h4v4h-4zM956 411h4v4h-4zM712 415h4v4h-4zM948 415h4v4h-4zM720 419h4v4h-4zM948 419h4v4h-4zM948 423h4v4h-4zM568 427h4v4h-4zM772 427h4v4h-4zM784 431h4v4h-4zM796 435h4v4h-4zM948 439h4v4h-4zM572 443h4v4h-4zM948 443h4v4h-4zM572 447h4v4h-4zM712 447h4v4h-4zM808 447h4v4h-4zM700 451h4v4h-4zM732 451h4v4h-4zM812 451h4v4h-4zM944 451h4v4h-4zM696 455h4v4h-4zM816 455h4v4h-4zM940 455h4v4h-4zM692 459h4v4h-4zM820 459h4v4h-4zM688 463h4v4h-4zM928 467h4v4h-4zM916 471h4v4h-4zM844 475h4v4h-4zM904 475h4v4h-4zM328 479h16v4h-16zM752 479h4v4h-4zM848 479h4v4h-4zM888 479h8v4h-8zM328 483h4v4h-4zM344 483h8v4h-8zM576 483h4v4h-4zM856 483h8v4h-8zM324 487h8v4h-8zM352 487h4v4h-4zM576 487h4v4h-4zM324 491h8v4h-8zM356 491h8v4h-8zM744 491h4v4h-4zM852 491h4v4h-4zM328 495h4v4h-4zM364 495h8v4h-8zM328 499h4v4h-4zM368 499h8v4h-8zM692 499h4v4h-4zM328 503h4v4h-4zM372 503h12v4h-12zM568 503h4v4h-4zM328 507h4v4h-4zM376 507h8v4h-8zM828 507h4v4h-4zM328 511h8v4h-8zM376 511h12v4h-12zM532 511h8v4h-8zM560 511h4v4h-4zM856 511h4v4h-4zM328 515h8v4h-8zM380 515h12v4h-12zM528 515h4v4h-4zM840 515h8v4h-8zM332 519h4v4h-4zM380 519h16v4h-16zM524 519h4v4h-4zM332 523h4v4h-4zM384 523h12v4h-12zM520 523h4v4h-4zM332 527h8v4h-8zM388 527h12v4h-12zM512 527h8v4h-8zM336 531h4v4h-4zM392 531h12v4h-12zM504 531h8v4h-8zM336 535h4v4h-4zM396 535h8v4h-8zM500 535h4v4h-4zM336 539h4v4h-4zM400 539h8v4h-8zM500 539h4v4h-4zM336 543h8v4h-8zM400 543h8v4h-8zM500 543h4v4h-4zM336 547h8v4h-8zM404 547h4v4h-4zM496 547h4v4h-4zM336 551h8v4h-8zM404 551h4v4h-4zM488 551h8v4h-8zM340 555h8v4h-8zM404 555h4v4h-4zM468 555h8v4h-8zM340 559h12v4h-12zM404 559h4v4h-4zM460 559h4v4h-4zM344 563h12v4h-12zM404 563h4v4h-4zM452 563h8v4h-8zM348 567h12v4h-12zM408 567h4v4h-4zM448 567h4v4h-4zM352 571h12v4h-12zM408 571h4v4h-4zM440 571h4v4h-4zM356 575h16v4h-16zM408 575h8v4h-8zM432 575h8v4h-8zM360 579h16v4h-16zM408 579h12v4h-12zM428 579h8v4h-8zM368 583h12v4h-12zM408 583h24v4h-24zM368 587h16v4h-16zM404 587h24v4h-24zM320 591h4v4h-4zM372 591h52v4h-52zM312 595h104v4h-104zM304 599h8v4h-8zM360 599h16v4h-16zM300 603h4v4h-4zM296 607h4v4h-4zM292 615h4v4h-4zM372 619h12v4h-12zM288 623h4v4h-4zM368 623h32v4h-32zM284 627h4v4h-4zM368 627h48v4h-48zM368 631h68v4h-68zM280 635h4v4h-4zM368 635h88v4h-88zM368 639h92v4h-92zM276 643h4v4h-4zM368 643h92v4h-92zM368 647h92v4h-92zM272 651h4v4h-4zM372 651h84v4h-84zM372 655h84v4h-84zM268 659h4v4h-4zM372 659h84v4h-84zM372 663h80v4h-80zM264 667h4v4h-4zM372 667h80v4h-80zM372 671h76v4h-76zM260 675h4v4h-4zM372 675h76v4h-76zM372 679h72v4h-72zM256 683h4v4h-4zM376 683h68v4h-68zM376 687h68v4h-68zM252 691h4v4h-4zM376 691h68v4h-68z"/><path fill="#30ffc6" d="M816 203h4v4h-4zM816 207h4v4h-4zM816 211h8v4h-8zM816 215h8v4h-8zM816 227h4v4h-4zM816 231h4v4h-4zM820 235h4v4h-4zM820 239h4v4h-4zM436 339h12v4h-12zM560 339h4v4h-4zM572 339h4v4h-4zM436 343h12v4h-12zM584 343h4v4h-4zM592 351h4v4h-4zM596 355h4v4h-4zM600 359h4v4h-4zM536 363h4v4h-4zM604 363h4v4h-4zM608 367h4v4h-4zM612 371h4v4h-4zM616 375h4v4h-4zM548 379h4v4h-4zM640 387h4v4h-4zM656 391h4v4h-4zM664 395h4v4h-4zM672 399h4v4h-4zM564 403h4v4h-4zM680 403h8v4h-8zM692 407h4v4h-4zM960 411h8v4h-8zM952 415h8v4h-8zM952 419h4v4h-4zM568 423h4v4h-4zM728 423h4v4h-4zM952 423h4v4h-4zM768 427h4v4h-4zM952 427h4v4h-4zM952 431h4v4h-4zM952 435h4v4h-4zM572 439h4v4h-4zM800 439h4v4h-4zM952 439h4v4h-4zM804 443h4v4h-4zM952 443h4v4h-4zM708 447h4v4h-4zM728 447h4v4h-4zM948 447h4v4h-4zM736 455h4v4h-4zM944 455h4v4h-4zM740 459h4v4h-4zM940 459h4v4h-4zM744 463h4v4h-4zM824 463h4v4h-4zM936 463h4v4h-4zM684 467h4v4h-4zM748 467h4v4h-4zM832 467h4v4h-4zM932 467h4v4h-4zM680 471h4v4h-4zM752 471h4v4h-4zM920 471h8v4h-8zM680 475h4v4h-4zM908 475h8v4h-8zM576 479h4v4h-4zM680 479h4v4h-4zM896 479h4v4h-4zM332 483h12v4h-12zM680 483h4v4h-4zM848 483h8v4h-8zM864 483h16v4h-16zM332 487h8v4h-8zM344 487h8v4h-8zM680 487h4v4h-4zM748 487h4v4h-4zM844 487h16v4h-16zM332 491h4v4h-4zM348 491h8v4h-8zM576 491h4v4h-4zM836 491h4v4h-4zM856 491h4v4h-4zM332 495h4v4h-4zM356 495h8v4h-8zM684 495h4v4h-4zM832 495h4v4h-4zM856 495h4v4h-4zM332 499h8v4h-8zM356 499h12v4h-12zM572 499h4v4h-4zM736 499h4v4h-4zM332 503h8v4h-8zM360 503h12v4h-12zM696 503h4v4h-4zM724 503h4v4h-4zM828 503h4v4h-4zM332 507h8v4h-8zM360 507h16v4h-16zM336 511h4v4h-4zM364 511h12v4h-12zM828 511h4v4h-4zM336 515h4v4h-4zM364 515h16v4h-16zM836 515h4v4h-4zM848 515h4v4h-4zM336 519h8v4h-8zM364 519h16v4h-16zM528 519h4v4h-4zM336 523h8v4h-8zM368 523h16v4h-16zM524 523h4v4h-4zM340 527h4v4h-4zM368 527h20v4h-20zM520 527h4v4h-4zM340 531h8v4h-8zM372 531h20v4h-20zM512 531h4v4h-4zM340 535h8v4h-8zM376 535h20v4h-20zM504 535h4v4h-4zM340 539h8v4h-8zM380 539h20v4h-20zM504 539h4v4h-4zM344 543h4v4h-4zM384 543h16v4h-16zM344 547h8v4h-8zM392 547h12v4h-12zM500 547h4v4h-4zM344 551h12v4h-12zM396 551h8v4h-8zM496 551h4v4h-4zM348 555h12v4h-12zM396 555h8v4h-8zM476 555h8v4h-8zM352 559h12v4h-12zM400 559h4v4h-4zM464 559h8v4h-8zM356 563h12v4h-12zM400 563h4v4h-4zM460 563h4v4h-4zM360 567h12v4h-12zM400 567h8v4h-8zM452 567h4v4h-4zM364 571h16v4h-16zM400 571h8v4h-8zM444 571h8v4h-8zM372 575h12v4h-12zM400 575h8v4h-8zM440 575h4v4h-4zM376 579h16v4h-16zM400 579h8v4h-8zM436 579h4v4h-4zM380 583h28v4h-28zM432 583h8v4h-8zM384 587h20v4h-20zM428 587h12v4h-12zM424 591h16v4h-16zM416 595h20v4h-20zM312 599h48v4h-48zM376 599h56v4h-56zM304 603h8v4h-8zM352 603h44v4h-44zM300 607h4v4h-4zM296 611h4v4h-4zM296 615h4v4h-4zM364 615h20v4h-20zM292 619h4v4h-4zM364 619h8v4h-8zM384 619h12v4h-12zM292 623h4v4h-4zM364 623h4v4h-4zM400 623h16v4h-16zM288 627h4v4h-4zM364 627h4v4h-4zM416 627h20v4h-20zM284 631h4v4h-4zM364 631h4v4h-4zM436 631h20v4h-20zM284 635h4v4h-4zM364 635h4v4h-4zM456 635h8v4h-8zM280 639h4v4h-4zM364 639h4v4h-4zM460 639h4v4h-4zM280 643h4v4h-4zM364 643h4v4h-4zM460 643h4v4h-4zM276 647h4v4h-4zM364 647h4v4h-4zM276 651h4v4h-4zM364 651h8v4h-8zM456 651h4v4h-4zM272 655h4v4h-4zM364 655h8v4h-8zM456 655h4v4h-4zM272 659h4v4h-4zM368 659h4v4h-4zM268 663h4v4h-4zM368 663h4v4h-4zM452 663h4v4h-4zM268 667h4v4h-4zM368 667h4v4h-4zM264 671h4v4h-4zM368 671h4v4h-4zM448 671h4v4h-4zM264 675h4v4h-4zM368 675h4v4h-4zM260 679h4v4h-4zM368 679h4v4h-4zM444 679h4v4h-4zM260 683h4v4h-4zM368 683h8v4h-8zM444 683h4v4h-4zM256 687h4v4h-4zM368 687h8v4h-8zM444 687h4v4h-4zM256 691h4v4h-4zM372 691h4v4h-4zM444 691h4v4h-4z"/><path fill="#36ffc1" d="M816 219h8v4h-8zM816 223h8v4h-8zM820 227h4v4h-4zM820 231h4v4h-4zM564 339h8v4h-8zM588 347h4v4h-4zM540 359h4v4h-4zM540 367h4v4h-4zM544 371h4v4h-4zM620 379h4v4h-4zM628 383h4v4h-4zM636 387h4v4h-4zM556 391h4v4h-4zM648 391h8v4h-8zM660 395h4v4h-4zM668 399h4v4h-4zM676 403h4v4h-4zM688 407h4v4h-4zM700 411h4v4h-4zM708 415h4v4h-4zM960 415h8v4h-8zM568 419h4v4h-4zM716 419h4v4h-4zM956 419h8v4h-8zM956 423h4v4h-4zM740 427h8v4h-8zM764 427h4v4h-4zM956 427h4v4h-4zM780 431h4v4h-4zM956 431h4v4h-4zM572 435h4v4h-4zM792 435h4v4h-4zM956 435h4v4h-4zM956 439h4v4h-4zM956 443h4v4h-4zM704 447h4v4h-4zM952 447h4v4h-4zM808 451h4v4h-4zM948 451h4v4h-4zM812 455h4v4h-4zM816 459h4v4h-4zM684 463h4v4h-4zM940 463h4v4h-4zM680 467h4v4h-4zM936 467h4v4h-4zM576 471h4v4h-4zM836 471h4v4h-4zM928 471h4v4h-4zM576 475h4v4h-4zM840 475h4v4h-4zM916 475h4v4h-4zM844 479h4v4h-4zM900 479h8v4h-8zM880 483h12v4h-12zM340 487h4v4h-4zM860 487h4v4h-4zM336 491h12v4h-12zM680 491h4v4h-4zM336 495h20v4h-20zM340 499h16v4h-16zM688 499h4v4h-4zM340 503h20v4h-20zM728 503h4v4h-4zM860 503h4v4h-4zM340 507h20v4h-20zM704 507h12v4h-12zM860 507h4v4h-4zM340 511h24v4h-24zM564 511h4v4h-4zM340 515h24v4h-24zM532 515h4v4h-4zM548 515h12v4h-12zM344 519h20v4h-20zM344 523h24v4h-24zM528 523h4v4h-4zM344 527h24v4h-24zM524 527h4v4h-4zM348 531h24v4h-24zM516 531h8v4h-8zM348 535h28v4h-28zM508 535h8v4h-8zM348 539h32v4h-32zM508 539h4v4h-4zM348 543h36v4h-36zM504 543h4v4h-4zM352 547h40v4h-40zM504 547h4v4h-4zM356 551h40v4h-40zM500 551h4v4h-4zM360 555h36v4h-36zM484 555h8v4h-8zM364 559h36v4h-36zM472 559h4v4h-4zM368 563h32v4h-32zM464 563h4v4h-4zM372 567h28v4h-28zM456 567h8v4h-8zM380 571h20v4h-20zM452 571h4v4h-4zM384 575h16v4h-16zM444 575h8v4h-8zM392 579h8v4h-8zM440 579h8v4h-8zM440 583h4v4h-4zM440 587h4v4h-4zM440 591h8v4h-8zM436 595h16v4h-16zM432 599h20v4h-20zM312 603h40v4h-40zM396 603h48v4h-48zM304 607h12v4h-12zM324 607h84v4h-84zM300 611h8v4h-8zM352 611h36v4h-36zM300 615h4v4h-4zM352 615h12v4h-12zM384 615h12v4h-12zM296 619h8v4h-8zM356 619h8v4h-8zM396 619h16v4h-16zM296 623h4v4h-4zM356 623h8v4h-8zM416 623h16v4h-16zM292 627h4v4h-4zM356 627h8v4h-8zM436 627h12v4h-12zM288 631h8v4h-8zM356 631h8v4h-8zM456 631h4v4h-4zM288 635h4v4h-4zM356 635h8v4h-8zM284 639h8v4h-8zM356 639h8v4h-8zM464 639h4v4h-4zM284 643h4v4h-4zM356 643h8v4h-8zM280 647h8v4h-8zM356 647h8v4h-8zM460 647h4v4h-4zM280 651h4v4h-4zM360 651h4v4h-4zM460 651h4v4h-4zM276 655h8v4h-8zM360 655h4v4h-4zM276 659h4v4h-4zM360 659h8v4h-8zM456 659h4v4h-4zM272 663h8v4h-8zM360 663h8v4h-8zM272 667h4v4h-4zM360 667h8v4h-8zM452 667h4v4h-4zM268 671h8v4h-8zM360 671h8v4h-8zM268 675h4v4h-4zM360 675h8v4h-8zM448 675h4v4h-4zM264 679h8v4h-8zM360 679h8v4h-8zM448 679h4v4h-4zM264 683h4v4h-4zM364 683h4v4h-4zM260 687h8v4h-8zM364 687h4v4h-4zM260 691h4v4h-4zM364 691h8v4h-8z"/><path fill="#3bffbc" d="M556 343h4v4h-4zM580 343h4v4h-4zM548 351h4v4h-4zM544 355h4v4h-4zM540 363h4v4h-4zM548 375h4v4h-4zM552 383h4v4h-4zM624 383h4v4h-4zM632 387h4v4h-4zM644 391h4v4h-4zM656 395h4v4h-4zM664 399h4v4h-4zM672 403h4v4h-4zM680 407h8v4h-8zM692 411h8v4h-8zM568 415h4v4h-4zM704 415h4v4h-4zM712 419h4v4h-4zM964 419h4v4h-4zM724 423h4v4h-4zM960 423h8v4h-8zM736 427h4v4h-4zM748 427h16v4h-16zM960 427h8v4h-8zM776 431h4v4h-4zM960 431h8v4h-8zM788 435h4v4h-4zM960 435h8v4h-8zM796 439h4v4h-4zM960 439h8v4h-8zM720 443h8v4h-8zM800 443h4v4h-4zM960 443h8v4h-8zM732 447h4v4h-4zM804 447h4v4h-4zM956 447h12v4h-12zM696 451h4v4h-4zM736 451h4v4h-4zM952 451h16v4h-16zM692 455h4v4h-4zM948 455h20v4h-20zM576 459h4v4h-4zM688 459h4v4h-4zM944 459h4v4h-4zM964 459h4v4h-4zM576 463h4v4h-4zM820 463h4v4h-4zM576 467h4v4h-4zM828 467h4v4h-4zM940 467h4v4h-4zM676 471h4v4h-4zM932 471h4v4h-4zM676 475h4v4h-4zM756 475h4v4h-4zM920 475h8v4h-8zM676 479h4v4h-4zM908 479h8v4h-8zM676 483h4v4h-4zM752 483h4v4h-4zM844 483h4v4h-4zM892 483h8v4h-8zM840 487h4v4h-4zM864 487h16v4h-16zM860 491h4v4h-4zM576 495h4v4h-4zM680 495h4v4h-4zM860 495h4v4h-4zM684 499h4v4h-4zM828 499h4v4h-4zM860 499h4v4h-4zM692 503h4v4h-4zM568 507h4v4h-4zM700 507h4v4h-4zM536 515h12v4h-12zM560 515h4v4h-4zM832 515h4v4h-4zM852 515h4v4h-4zM532 519h4v4h-4zM528 527h4v4h-4zM524 531h4v4h-4zM516 535h4v4h-4zM512 539h4v4h-4zM508 543h4v4h-4zM508 547h4v4h-4zM504 551h4v4h-4zM492 555h8v4h-8zM476 559h8v4h-8zM468 563h8v4h-8zM464 567h4v4h-4zM456 571h4v4h-4zM452 575h4v4h-4zM448 579h4v4h-4zM444 583h8v4h-8zM444 587h8v4h-8zM448 591h8v4h-8zM452 595h8v4h-8zM452 599h12v4h-12zM444 603h20v4h-20zM316 607h8v4h-8zM408 607h52v4h-52zM308 611h44v4h-44zM388 611h28v4h-28zM304 615h48v4h-48zM396 615h16v4h-16zM304 619h52v4h-52zM412 619h12v4h-12zM300 623h56v4h-56zM432 623h4v4h-4zM296 627h60v4h-60zM448 627h8v4h-8zM296 631h60v4h-60zM460 631h4v4h-4zM292 635h64v4h-64zM464 635h4v4h-4zM292 639h64v4h-64zM288 643h68v4h-68zM464 643h4v4h-4zM288 647h68v4h-68zM284 651h76v4h-76zM284 655h76v4h-76zM460 655h4v4h-4zM280 659h80v4h-80zM280 663h80v4h-80zM456 663h4v4h-4zM276 667h84v4h-84zM276 671h84v4h-84zM452 671h4v4h-4zM272 675h88v4h-88zM272 679h88v4h-88zM268 683h96v4h-96zM448 683h4v4h-4zM268 687h96v4h-96zM448 687h4v4h-4zM264 691h100v4h-100zM448 691h4v4h-4z"/><path fill="#40ffb7" d="M576 343h4v4h-4zM552 347h4v4h-4zM584 347h4v4h-4zM592 355h4v4h-4zM596 359h4v4h-4zM600 363h4v4h-4zM544 367h4v4h-4zM604 367h4v4h-4zM608 371h4v4h-4zM612 375h4v4h-4zM616 379h4v4h-4zM628 387h4v4h-4zM640 391h4v4h-4zM560 395h4v4h-4zM652 395h4v4h-4zM660 399h4v4h-4zM668 403h4v4h-4zM676 407h4v4h-4zM568 411h4v4h-4zM688 411h4v4h-4zM700 415h4v4h-4zM708 419h4v4h-4zM720 423h4v4h-4zM732 427h4v4h-4zM572 431h4v4h-4zM772 431h4v4h-4zM784 435h4v4h-4zM792 439h4v4h-4zM716 443h4v4h-4zM728 443h4v4h-4zM700 447h4v4h-4zM576 451h4v4h-4zM804 451h4v4h-4zM576 455h4v4h-4zM740 455h4v4h-4zM808 455h4v4h-4zM684 459h4v4h-4zM744 459h4v4h-4zM812 459h4v4h-4zM948 459h16v4h-16zM680 463h4v4h-4zM748 463h4v4h-4zM944 463h4v4h-4zM964 463h4v4h-4zM676 467h4v4h-4zM752 467h4v4h-4zM756 471h4v4h-4zM832 471h4v4h-4zM936 471h4v4h-4zM928 475h8v4h-8zM756 479h4v4h-4zM840 479h4v4h-4zM916 479h8v4h-8zM840 483h4v4h-4zM900 483h8v4h-8zM676 487h4v4h-4zM880 487h12v4h-12zM676 491h4v4h-4zM832 491h4v4h-4zM864 491h8v4h-8zM744 495h4v4h-4zM572 503h4v4h-4zM732 503h4v4h-4zM716 507h4v4h-4zM860 511h4v4h-4zM536 519h4v4h-4zM532 523h4v4h-4zM532 527h4v4h-4zM528 531h4v4h-4zM520 535h8v4h-8zM516 539h4v4h-4zM512 543h4v4h-4zM508 551h4v4h-4zM500 555h8v4h-8zM484 559h8v4h-8zM476 563h4v4h-4zM468 567h4v4h-4zM460 571h8v4h-8zM456 575h4v4h-4zM452 579h4v4h-4zM452 583h4v4h-4zM452 587h8v4h-8zM456 591h8v4h-8zM460 595h8v4h-8zM464 599h8v4h-8zM464 603h12v4h-12zM460 607h16v4h-16zM416 611h56v4h-56zM412 615h24v4h-24zM424 619h12v4h-12zM436 623h16v4h-16zM456 627h8v4h-8zM464 631h4v4h-4zM468 635h4v4h-4zM468 639h4v4h-4zM464 647h4v4h-4zM460 659h4v4h-4zM456 667h4v4h-4zM452 675h4v4h-4z"/><path fill="#45ffb2" d="M560 343h4v4h-4zM572 343h4v4h-4zM588 351h4v4h-4zM544 359h4v4h-4zM544 363h4v4h-4zM548 371h4v4h-4zM620 383h4v4h-4zM636 391h4v4h-4zM648 395h4v4h-4zM564 399h4v4h-4zM656 399h4v4h-4zM664 403h4v4h-4zM568 407h4v4h-4zM672 407h4v4h-4zM680 411h8v4h-8zM692 415h8v4h-8zM704 419h4v4h-4zM716 423h4v4h-4zM572 427h4v4h-4zM728 427h4v4h-4zM768 431h4v4h-4zM780 435h4v4h-4zM576 443h4v4h-4zM708 443h8v4h-8zM796 443h4v4h-4zM576 447h4v4h-4zM736 447h4v4h-4zM800 447h4v4h-4zM688 455h4v4h-4zM680 459h4v4h-4zM676 463h4v4h-4zM816 463h4v4h-4zM948 463h16v4h-16zM824 467h4v4h-4zM944 467h4v4h-4zM964 467h4v4h-4zM672 471h4v4h-4zM940 471h4v4h-4zM672 475h4v4h-4zM836 475h4v4h-4zM936 475h4v4h-4zM672 479h4v4h-4zM924 479h8v4h-8zM672 483h4v4h-4zM908 483h8v4h-8zM580 487h4v4h-4zM836 487h4v4h-4zM892 487h12v4h-12zM748 491h4v4h-4zM872 491h16v4h-16zM676 495h4v4h-4zM864 495h4v4h-4zM576 499h4v4h-4zM680 499h4v4h-4zM740 499h4v4h-4zM864 499h4v4h-4zM688 503h4v4h-4zM864 503h4v4h-4zM696 507h4v4h-4zM720 507h4v4h-4zM824 507h4v4h-4zM564 515h4v4h-4zM856 515h4v4h-4zM532 531h4v4h-4zM528 535h4v4h-4zM520 539h4v4h-4zM516 543h4v4h-4zM512 547h4v4h-4zM512 551h4v4h-4zM508 555h4v4h-4zM492 559h8v4h-8zM480 563h8v4h-8zM472 567h8v4h-8zM468 571h4v4h-4zM460 575h8v4h-8zM456 579h8v4h-8zM456 583h8v4h-8zM460 587h4v4h-4zM464 591h4v4h-4zM468 595h4v4h-4zM472 599h4v4h-4zM476 603h8v4h-8zM476 607h8v4h-8zM472 611h16v4h-16zM436 615h44v4h-44zM436 619h20v4h-20zM452 623h8v4h-8zM464 627h4v4h-4zM468 631h4v4h-4zM468 643h4v4h-4zM464 651h4v4h-4zM460 663h4v4h-4zM456 671h4v4h-4zM452 679h4v4h-4zM452 683h4v4h-4z"/><path fill="#4affad" d="M564 343h8v4h-8zM580 347h4v4h-4zM548 355h4v4h-4zM552 379h4v4h-4zM612 379h4v4h-4zM556 387h4v4h-4zM624 387h4v4h-4zM632 391h4v4h-4zM640 395h8v4h-8zM652 399h4v4h-4zM660 403h4v4h-4zM668 407h4v4h-4zM676 411h4v4h-4zM688 415h4v4h-4zM700 419h4v4h-4zM712 423h4v4h-4zM724 427h4v4h-4zM736 431h8v4h-8zM760 431h8v4h-8zM776 435h4v4h-4zM576 439h4v4h-4zM788 439h4v4h-4zM704 443h4v4h-4zM732 443h4v4h-4zM696 447h4v4h-4zM692 451h4v4h-4zM740 451h4v4h-4zM800 451h4v4h-4zM744 455h4v4h-4zM804 455h4v4h-4zM748 459h4v4h-4zM808 459h4v4h-4zM752 463h4v4h-4zM672 467h4v4h-4zM756 467h4v4h-4zM948 467h4v4h-4zM960 467h4v4h-4zM944 471h4v4h-4zM940 475h4v4h-4zM580 479h4v4h-4zM932 479h8v4h-8zM580 483h4v4h-4zM916 483h12v4h-12zM672 487h4v4h-4zM752 487h4v4h-4zM904 487h8v4h-8zM580 491h4v4h-4zM672 491h4v4h-4zM888 491h8v4h-8zM828 495h4v4h-4zM868 495h16v4h-16zM684 503h4v4h-4zM824 503h4v4h-4zM572 507h4v4h-4zM864 507h4v4h-4zM568 511h4v4h-4zM824 511h4v4h-4zM828 515h4v4h-4zM540 519h20v4h-20zM536 523h4v4h-4zM536 527h4v4h-4zM532 535h4v4h-4zM524 539h8v4h-8zM520 543h4v4h-4zM516 547h4v4h-4zM512 555h4v4h-4zM500 559h8v4h-8zM488 563h4v4h-4zM480 567h4v4h-4zM472 571h4v4h-4zM468 575h4v4h-4zM464 579h4v4h-4zM464 583h4v4h-4zM464 587h8v4h-8zM468 591h8v4h-8zM472 595h8v4h-8zM476 599h8v4h-8zM484 603h4v4h-4zM484 607h8v4h-8zM488 611h8v4h-8zM480 615h20v4h-20zM456 619h32v4h-32zM460 623h8v4h-8zM468 627h4v4h-4zM468 647h4v4h-4zM464 655h4v4h-4zM464 659h4v4h-4zM460 667h4v4h-4zM456 675h4v4h-4zM452 687h4v4h-4zM452 691h4v4h-4z"/><path fill="#4fffa7" d="M556 347h4v4h-4zM552 351h4v4h-4zM584 351h4v4h-4zM592 359h4v4h-4zM596 363h4v4h-4zM548 367h4v4h-4zM600 367h4v4h-4zM604 371h4v4h-4zM608 375h4v4h-4zM616 383h4v4h-4zM620 387h4v4h-4zM628 391h4v4h-4zM636 395h4v4h-4zM648 399h4v4h-4zM656 403h4v4h-4zM664 407h4v4h-4zM672 411h4v4h-4zM680 415h8v4h-8zM692 419h8v4h-8zM572 423h4v4h-4zM704 423h8v4h-8zM720 427h4v4h-4zM732 431h4v4h-4zM744 431h16v4h-16zM576 435h4v4h-4zM772 435h4v4h-4zM720 439h12v4h-12zM784 439h4v4h-4zM736 443h4v4h-4zM792 443h4v4h-4zM740 447h4v4h-4zM796 447h4v4h-4zM744 451h4v4h-4zM684 455h4v4h-4zM748 455h4v4h-4zM676 459h4v4h-4zM752 459h4v4h-4zM672 463h4v4h-4zM756 463h4v4h-4zM812 463h4v4h-4zM820 467h4v4h-4zM952 467h8v4h-8zM580 471h4v4h-4zM668 471h4v4h-4zM760 471h4v4h-4zM828 471h4v4h-4zM948 471h4v4h-4zM960 471h8v4h-8zM580 475h4v4h-4zM668 475h4v4h-4zM760 475h4v4h-4zM832 475h4v4h-4zM944 475h4v4h-4zM668 479h4v4h-4zM836 479h4v4h-4zM940 479h4v4h-4zM668 483h4v4h-4zM756 483h4v4h-4zM836 483h4v4h-4zM928 483h8v4h-8zM832 487h4v4h-4zM912 487h12v4h-12zM896 491h12v4h-12zM580 495h4v4h-4zM672 495h4v4h-4zM884 495h12v4h-12zM676 499h4v4h-4zM868 499h12v4h-12zM736 503h4v4h-4zM868 503h4v4h-4zM692 507h4v4h-4zM724 507h4v4h-4zM700 511h12v4h-12zM864 511h4v4h-4zM860 515h4v4h-4zM560 519h4v4h-4zM540 523h4v4h-4zM536 531h4v4h-4zM532 539h4v4h-4zM524 543h4v4h-4zM520 547h4v4h-4zM516 551h4v4h-4zM516 555h4v4h-4zM508 559h4v4h-4zM492 563h8v4h-8zM484 567h4v4h-4zM476 571h8v4h-8zM472 575h4v4h-4zM468 579h8v4h-8zM468 583h4v4h-4zM472 587h4v4h-4zM476 591h4v4h-4zM480 595h4v4h-4zM484 599h8v4h-8zM488 603h8v4h-8zM492 607h8v4h-8zM496 611h8v4h-8zM500 615h8v4h-8zM488 619h24v4h-24zM468 623h12v4h-12zM472 627h4v4h-4zM472 631h4v4h-4zM472 635h4v4h-4zM472 639h4v4h-4zM472 643h4v4h-4zM468 651h4v4h-4zM468 655h4v4h-4zM464 663h4v4h-4zM460 671h4v4h-4zM456 679h4v4h-4zM456 683h4v4h-4z"/><path fill="#55ffa2" d="M572 347h8v4h-8zM588 355h4v4h-4zM548 359h4v4h-4zM548 363h4v4h-4zM552 375h4v4h-4zM560 391h4v4h-4zM624 391h4v4h-4zM632 395h4v4h-4zM644 399h4v4h-4zM568 403h4v4h-4zM660 407h4v4h-4zM668 411h4v4h-4zM676 415h4v4h-4zM572 419h4v4h-4zM684 419h8v4h-8zM700 423h4v4h-4zM712 427h8v4h-8zM576 431h4v4h-4zM724 431h8v4h-8zM728 435h8v4h-8zM768 435h4v4h-4zM712 439h8v4h-8zM732 439h4v4h-4zM780 439h4v4h-4zM700 443h4v4h-4zM788 443h4v4h-4zM792 447h4v4h-4zM688 451h4v4h-4zM796 451h4v4h-4zM680 455h4v4h-4zM752 455h4v4h-4zM800 455h4v4h-4zM580 459h4v4h-4zM672 459h4v4h-4zM804 459h4v4h-4zM580 463h4v4h-4zM668 463h4v4h-4zM580 467h4v4h-4zM668 467h4v4h-4zM760 467h4v4h-4zM952 471h8v4h-8zM948 475h4v4h-4zM964 475h4v4h-4zM760 479h4v4h-4zM944 479h4v4h-4zM936 483h8v4h-8zM668 487h4v4h-4zM924 487h8v4h-8zM828 491h4v4h-4zM908 491h8v4h-8zM896 495h4v4h-4zM824 499h4v4h-4zM880 499h12v4h-12zM576 503h4v4h-4zM680 503h4v4h-4zM872 503h4v4h-4zM688 507h4v4h-4zM868 507h4v4h-4zM696 511h4v4h-4zM712 511h4v4h-4zM840 519h4v4h-4zM540 527h4v4h-4zM536 535h4v4h-4zM536 539h4v4h-4zM528 543h8v4h-8zM524 547h4v4h-4zM520 551h4v4h-4zM520 555h4v4h-4zM512 559h4v4h-4zM500 563h4v4h-4zM488 567h8v4h-8zM484 571h4v4h-4zM476 575h8v4h-8zM476 579h4v4h-4zM472 583h8v4h-8zM476 587h4v4h-4zM480 591h8v4h-8zM484 595h8v4h-8zM492 599h4v4h-4zM496 603h4v4h-4zM500 607h8v4h-8zM504 611h8v4h-8zM508 615h8v4h-8zM512 619h8v4h-8zM480 623h40v4h-40zM476 627h8v4h-8zM476 631h4v4h-4zM476 635h4v4h-4zM476 639h4v4h-4zM476 643h4v4h-4zM472 647h4v4h-4zM472 651h4v4h-4zM468 659h4v4h-4zM468 663h4v4h-4zM464 667h4v4h-4zM464 671h4v4h-4zM460 675h4v4h-4zM460 679h4v4h-4zM456 687h4v4h-4zM456 691h4v4h-4z"/><path fill="#5aff9d" d="M560 347h12v4h-12zM552 371h4v4h-4zM600 371h4v4h-4zM604 375h4v4h-4zM608 379h4v4h-4zM556 383h4v4h-4zM612 383h4v4h-4zM616 387h4v4h-4zM620 391h4v4h-4zM564 395h4v4h-4zM628 395h4v4h-4zM640 399h4v4h-4zM652 403h4v4h-4zM656 407h4v4h-4zM664 411h4v4h-4zM572 415h4v4h-4zM672 415h4v4h-4zM680 419h4v4h-4zM692 423h8v4h-8zM704 427h8v4h-8zM716 431h8v4h-8zM716 435h12v4h-12zM736 435h12v4h-12zM756 435h12v4h-12zM704 439h8v4h-8zM736 439h4v4h-4zM776 439h4v4h-4zM580 443h4v4h-4zM696 443h4v4h-4zM740 443h4v4h-4zM580 447h4v4h-4zM692 447h4v4h-4zM744 447h4v4h-4zM580 451h4v4h-4zM684 451h4v4h-4zM748 451h8v4h-8zM580 455h4v4h-4zM676 455h4v4h-4zM756 455h4v4h-4zM756 459h4v4h-4zM760 463h4v4h-4zM808 463h4v4h-4zM664 467h4v4h-4zM816 467h4v4h-4zM664 471h4v4h-4zM824 471h4v4h-4zM664 475h4v4h-4zM952 475h12v4h-12zM664 479h4v4h-4zM832 479h4v4h-4zM948 479h20v4h-20zM664 483h4v4h-4zM832 483h4v4h-4zM944 483h4v4h-4zM960 483h8v4h-8zM932 487h8v4h-8zM964 487h4v4h-4zM668 491h4v4h-4zM916 491h12v4h-12zM668 495h4v4h-4zM900 495h12v4h-12zM580 499h4v4h-4zM672 499h4v4h-4zM744 499h4v4h-4zM892 499h8v4h-8zM676 503h4v4h-4zM876 503h12v4h-12zM684 507h4v4h-4zM728 507h4v4h-4zM872 507h4v4h-4zM572 511h4v4h-4zM716 511h4v4h-4zM868 511h4v4h-4zM568 515h4v4h-4zM824 515h4v4h-4zM864 515h4v4h-4zM564 519h4v4h-4zM836 519h4v4h-4zM844 519h8v4h-8zM544 523h12v4h-12zM540 531h4v4h-4zM540 535h4v4h-4zM536 543h4v4h-4zM528 547h4v4h-4zM524 551h4v4h-4zM516 559h4v4h-4zM504 563h8v4h-8zM496 567h4v4h-4zM488 571h4v4h-4zM484 575h4v4h-4zM480 579h4v4h-4zM480 583h4v4h-4zM480 587h8v4h-8zM488 591h4v4h-4zM492 595h4v4h-4zM496 599h8v4h-8zM500 603h8v4h-8zM508 607h4v4h-4zM512 611h4v4h-4zM516 615h8v4h-8zM520 619h8v4h-8zM520 623h12v4h-12zM484 627h48v4h-48zM480 631h32v4h-32zM480 635h16v4h-16zM480 639h28v4h-28zM480 643h36v4h-36zM476 647h56v4h-56zM476 651h56v4h-56zM472 655h56v4h-56zM472 659h56v4h-56zM472 663h52v4h-52zM468 667h52v4h-52zM468 671h52v4h-52zM464 675h52v4h-52zM464 679h48v4h-48zM460 683h52v4h-52zM460 687h48v4h-48zM460 691h48v4h-48z"/><path fill="#5fff98" d="M556 351h4v4h-4zM580 351h4v4h-4zM552 355h4v4h-4zM584 355h4v4h-4zM588 359h4v4h-4zM592 363h4v4h-4zM596 367h4v4h-4zM612 387h4v4h-4zM616 391h4v4h-4zM624 395h4v4h-4zM636 399h4v4h-4zM644 403h8v4h-8zM660 411h4v4h-4zM668 415h4v4h-4zM672 419h8v4h-8zM684 423h8v4h-8zM576 427h4v4h-4zM696 427h8v4h-8zM704 431h12v4h-12zM708 435h8v4h-8zM748 435h8v4h-8zM580 439h4v4h-4zM700 439h4v4h-4zM740 439h8v4h-8zM772 439h4v4h-4zM744 443h4v4h-4zM784 443h4v4h-4zM688 447h4v4h-4zM748 447h4v4h-4zM788 447h4v4h-4zM680 451h4v4h-4zM756 451h4v4h-4zM792 451h4v4h-4zM672 455h4v4h-4zM796 455h4v4h-4zM668 459h4v4h-4zM760 459h4v4h-4zM800 459h4v4h-4zM664 463h4v4h-4zM812 467h4v4h-4zM764 471h4v4h-4zM660 475h4v4h-4zM764 475h4v4h-4zM828 475h4v4h-4zM584 483h4v4h-4zM948 483h12v4h-12zM584 487h4v4h-4zM664 487h4v4h-4zM756 487h4v4h-4zM940 487h8v4h-8zM956 487h8v4h-8zM584 491h4v4h-4zM664 491h4v4h-4zM752 491h4v4h-4zM928 491h12v4h-12zM960 491h8v4h-8zM748 495h4v4h-4zM824 495h4v4h-4zM912 495h8v4h-8zM668 499h4v4h-4zM900 499h4v4h-4zM672 503h4v4h-4zM740 503h4v4h-4zM888 503h8v4h-8zM680 507h4v4h-4zM876 507h8v4h-8zM692 511h4v4h-4zM872 511h4v4h-4zM832 519h4v4h-4zM852 519h4v4h-4zM556 523h8v4h-8zM544 527h4v4h-4zM540 539h4v4h-4zM532 547h8v4h-8zM528 551h4v4h-4zM524 555h4v4h-4zM520 559h4v4h-4zM512 563h8v4h-8zM500 567h8v4h-8zM492 571h8v4h-8zM488 575h4v4h-4zM484 579h8v4h-8zM484 583h8v4h-8zM488 587h4v4h-4zM492 591h4v4h-4zM496 595h8v4h-8zM504 599h4v4h-4zM508 603h4v4h-4zM512 607h8v4h-8zM516 611h8v4h-8zM524 615h4v4h-4zM528 619h4v4h-4zM532 623h4v4h-4zM532 627h8v4h-8zM512 631h28v4h-28zM496 635h40v4h-40zM508 639h28v4h-28zM516 643h24v4h-24zM532 647h8v4h-8zM532 651h4v4h-4zM528 655h8v4h-8zM528 659h4v4h-4zM524 663h8v4h-8zM520 667h8v4h-8zM520 671h4v4h-4zM516 675h8v4h-8zM512 679h8v4h-8zM512 683h4v4h-4zM508 687h8v4h-8zM508 691h4v4h-4z"/><path fill="#64ff93" d="M576 351h4v4h-4zM552 359h4v4h-4zM552 363h4v4h-4zM552 367h4v4h-4zM556 379h4v4h-4zM604 379h4v4h-4zM608 383h4v4h-4zM560 387h4v4h-4zM620 395h4v4h-4zM568 399h4v4h-4zM628 399h8v4h-8zM640 403h4v4h-4zM652 407h4v4h-4zM572 411h4v4h-4zM656 411h4v4h-4zM664 415h4v4h-4zM668 419h4v4h-4zM676 423h8v4h-8zM688 427h8v4h-8zM700 431h4v4h-4zM580 435h4v4h-4zM700 435h8v4h-8zM696 439h4v4h-4zM748 439h24v4h-24zM692 443h4v4h-4zM748 443h8v4h-8zM780 443h4v4h-4zM684 447h4v4h-4zM752 447h8v4h-8zM784 447h4v4h-4zM676 451h4v4h-4zM760 451h4v4h-4zM788 451h4v4h-4zM668 455h4v4h-4zM760 455h4v4h-4zM792 455h4v4h-4zM664 459h4v4h-4zM796 459h4v4h-4zM764 463h4v4h-4zM804 463h4v4h-4zM660 467h4v4h-4zM764 467h4v4h-4zM660 471h4v4h-4zM820 471h4v4h-4zM584 475h4v4h-4zM584 479h4v4h-4zM660 479h4v4h-4zM660 483h4v4h-4zM760 483h4v4h-4zM660 487h4v4h-4zM828 487h4v4h-4zM948 487h8v4h-8zM940 491h8v4h-8zM952 491h8v4h-8zM584 495h4v4h-4zM664 495h4v4h-4zM920 495h16v4h-16zM960 495h8v4h-8zM904 499h12v4h-12zM668 503h4v4h-4zM896 503h8v4h-8zM576 507h4v4h-4zM676 507h4v4h-4zM732 507h4v4h-4zM820 507h4v4h-4zM884 507h8v4h-8zM684 511h8v4h-8zM720 511h4v4h-4zM820 511h4v4h-4zM876 511h4v4h-4zM696 515h12v4h-12zM868 515h4v4h-4zM568 519h4v4h-4zM856 519h4v4h-4zM544 531h4v4h-4zM540 543h4v4h-4zM532 551h4v4h-4zM528 555h4v4h-4zM524 559h4v4h-4zM520 563h4v4h-4zM508 567h4v4h-4zM500 571h4v4h-4zM492 575h8v4h-8zM492 579h4v4h-4zM492 583h4v4h-4zM492 587h8v4h-8zM496 591h8v4h-8zM504 595h4v4h-4zM508 599h4v4h-4zM512 603h8v4h-8zM520 607h4v4h-4zM524 611h4v4h-4zM528 615h8v4h-8zM532 619h8v4h-8zM536 623h8v4h-8zM540 627h4v4h-4zM540 631h4v4h-4zM536 635h8v4h-8zM536 639h8v4h-8zM540 643h4v4h-4zM540 647h4v4h-4zM536 651h4v4h-4zM536 655h4v4h-4zM532 659h4v4h-4zM528 667h4v4h-4zM524 671h4v4h-4zM520 679h4v4h-4zM516 683h4v4h-4zM512 691h4v4h-4z"/><path fill="#69ff8d" d="M560 351h16v4h-16zM556 355h4v4h-4zM592 367h4v4h-4zM596 371h4v4h-4zM600 375h4v4h-4zM604 383h4v4h-4zM608 387h4v4h-4zM612 391h4v4h-4zM616 395h4v4h-4zM620 399h8v4h-8zM636 403h4v4h-4zM572 407h4v4h-4zM644 407h8v4h-8zM652 411h4v4h-4zM660 415h4v4h-4zM664 419h4v4h-4zM576 423h4v4h-4zM668 423h8v4h-8zM676 427h12v4h-12zM580 431h4v4h-4zM692 431h8v4h-8zM696 435h4v4h-4zM688 443h4v4h-4zM756 443h24v4h-24zM680 447h4v4h-4zM760 447h4v4h-4zM780 447h4v4h-4zM672 451h4v4h-4zM764 451h4v4h-4zM764 455h4v4h-4zM788 455h4v4h-4zM764 459h4v4h-4zM584 463h4v4h-4zM660 463h4v4h-4zM800 463h4v4h-4zM584 467h4v4h-4zM808 467h4v4h-4zM584 471h4v4h-4zM656 471h4v4h-4zM816 471h4v4h-4zM656 475h4v4h-4zM824 475h4v4h-4zM656 479h4v4h-4zM764 479h4v4h-4zM828 479h4v4h-4zM828 483h4v4h-4zM660 491h4v4h-4zM948 491h4v4h-4zM660 495h4v4h-4zM936 495h8v4h-8zM952 495h8v4h-8zM664 499h4v4h-4zM916 499h12v4h-12zM580 503h4v4h-4zM664 503h4v4h-4zM820 503h4v4h-4zM904 503h4v4h-4zM668 507h8v4h-8zM892 507h8v4h-8zM676 511h8v4h-8zM880 511h8v4h-8zM572 515h4v4h-4zM692 515h4v4h-4zM708 515h4v4h-4zM872 515h4v4h-4zM828 519h4v4h-4zM860 519h4v4h-4zM564 523h4v4h-4zM548 527h8v4h-8zM544 535h4v4h-4zM544 539h4v4h-4zM540 547h4v4h-4zM536 551h4v4h-4zM532 555h4v4h-4zM528 559h4v4h-4zM524 563h4v4h-4zM512 567h8v4h-8zM504 571h8v4h-8zM500 575h4v4h-4zM496 579h4v4h-4zM496 583h4v4h-4zM500 587h4v4h-4zM504 591h4v4h-4zM508 595h8v4h-8zM512 599h8v4h-8zM520 603h4v4h-4zM524 607h8v4h-8zM528 611h8v4h-8zM536 615h4v4h-4zM540 619h4v4h-4zM544 623h4v4h-4zM544 627h4v4h-4zM544 631h4v4h-4zM544 635h4v4h-4zM544 639h4v4h-4zM544 643h4v4h-4zM540 651h4v4h-4zM536 659h4v4h-4zM532 663h4v4h-4zM528 671h4v4h-4zM524 675h4v4h-4zM520 683h4v4h-4zM516 687h4v4h-4zM516 691h4v4h-4z"/><path fill="#6eff88" d="M580 355h4v4h-4zM584 359h4v4h-4zM588 363h4v4h-4zM556 375h4v4h-4zM600 379h4v4h-4zM604 387h4v4h-4zM564 391h4v4h-4zM608 391h4v4h-4zM612 395h4v4h-4zM616 399h4v4h-4zM624 403h12v4h-12zM640 407h4v4h-4zM648 411h4v4h-4zM656 415h4v4h-4zM576 419h4v4h-4zM660 419h4v4h-4zM664 423h4v4h-4zM668 427h8v4h-8zM680 431h12v4h-12zM692 435h4v4h-4zM688 439h8v4h-8zM584 443h4v4h-4zM684 443h4v4h-4zM584 447h4v4h-4zM672 447h8v4h-8zM764 447h16v4h-16zM584 451h4v4h-4zM668 451h4v4h-4zM768 451h4v4h-4zM780 451h8v4h-8zM584 455h4v4h-4zM664 455h4v4h-4zM768 455h4v4h-4zM784 455h4v4h-4zM584 459h4v4h-4zM660 459h4v4h-4zM768 459h4v4h-4zM788 459h8v4h-8zM768 463h4v4h-4zM796 463h4v4h-4zM656 467h4v4h-4zM768 467h4v4h-4zM804 467h4v4h-4zM768 471h4v4h-4zM768 475h4v4h-4zM656 483h4v4h-4zM656 487h4v4h-4zM656 491h4v4h-4zM824 491h4v4h-4zM656 495h4v4h-4zM944 495h8v4h-8zM584 499h4v4h-4zM660 499h4v4h-4zM820 499h4v4h-4zM928 499h16v4h-16zM956 499h12v4h-12zM660 503h4v4h-4zM908 503h12v4h-12zM664 507h4v4h-4zM736 507h4v4h-4zM900 507h4v4h-4zM576 511h4v4h-4zM668 511h8v4h-8zM724 511h4v4h-4zM888 511h8v4h-8zM668 515h24v4h-24zM712 515h4v4h-4zM820 515h4v4h-4zM876 515h8v4h-8zM672 519h12v4h-12zM864 519h8v4h-8zM672 523h12v4h-12zM556 527h4v4h-4zM676 527h4v4h-4zM548 531h4v4h-4zM544 543h4v4h-4zM544 547h4v4h-4zM540 551h4v4h-4zM536 555h4v4h-4zM532 559h4v4h-4zM528 563h4v4h-4zM520 567h4v4h-4zM512 571h4v4h-4zM504 575h8v4h-8zM500 579h8v4h-8zM500 583h8v4h-8zM504 587h8v4h-8zM508 591h8v4h-8zM516 595h4v4h-4zM520 599h4v4h-4zM524 603h8v4h-8zM532 607h4v4h-4zM536 611h4v4h-4zM540 615h4v4h-4zM544 619h4v4h-4zM548 627h4v4h-4zM548 631h4v4h-4zM548 635h4v4h-4zM548 639h4v4h-4zM548 643h4v4h-4zM544 647h4v4h-4zM544 651h4v4h-4zM540 655h4v4h-4zM540 659h4v4h-4zM536 663h4v4h-4zM532 667h4v4h-4zM532 671h4v4h-4zM528 675h4v4h-4zM524 679h4v4h-4zM524 683h4v4h-4zM520 687h4v4h-4z"/><path fill="#74ff83" d="M560 355h4v4h-4zM576 355h4v4h-4zM556 359h4v4h-4zM556 363h4v4h-4zM556 367h4v4h-4zM556 371h4v4h-4zM592 371h4v4h-4zM596 375h4v4h-4zM560 383h4v4h-4zM600 383h4v4h-4zM604 391h4v4h-4zM568 395h4v4h-4zM608 395h4v4h-4zM608 399h8v4h-8zM572 403h4v4h-4zM612 403h12v4h-12zM632 407h8v4h-8zM644 411h4v4h-4zM648 415h8v4h-8zM656 419h4v4h-4zM660 423h4v4h-4zM580 427h4v4h-4zM664 427h4v4h-4zM668 431h12v4h-12zM584 435h4v4h-4zM680 435h12v4h-12zM584 439h4v4h-4zM680 439h8v4h-8zM676 443h8v4h-8zM668 447h4v4h-4zM664 451h4v4h-4zM772 451h8v4h-8zM660 455h4v4h-4zM772 455h12v4h-12zM772 459h16v4h-16zM656 463h4v4h-4zM772 463h4v4h-4zM792 463h4v4h-4zM652 467h4v4h-4zM772 467h4v4h-4zM652 471h4v4h-4zM812 471h4v4h-4zM652 475h4v4h-4zM820 475h4v4h-4zM652 479h4v4h-4zM824 479h4v4h-4zM588 483h4v4h-4zM652 483h4v4h-4zM764 483h4v4h-4zM588 487h4v4h-4zM652 487h4v4h-4zM760 487h4v4h-4zM824 487h4v4h-4zM588 491h4v4h-4zM652 491h4v4h-4zM756 491h4v4h-4zM588 495h4v4h-4zM652 495h4v4h-4zM752 495h4v4h-4zM656 499h4v4h-4zM748 499h4v4h-4zM944 499h12v4h-12zM656 503h4v4h-4zM744 503h4v4h-4zM920 503h20v4h-20zM580 507h4v4h-4zM660 507h4v4h-4zM904 507h8v4h-8zM660 511h8v4h-8zM728 511h4v4h-4zM896 511h4v4h-4zM664 515h4v4h-4zM716 515h4v4h-4zM884 515h8v4h-8zM664 519h8v4h-8zM684 519h24v4h-24zM872 519h8v4h-8zM568 523h4v4h-4zM668 523h4v4h-4zM684 523h8v4h-8zM560 527h4v4h-4zM668 527h8v4h-8zM680 527h8v4h-8zM672 531h12v4h-12zM548 535h4v4h-4zM548 539h4v4h-4zM544 551h4v4h-4zM540 555h4v4h-4zM536 559h4v4h-4zM532 563h4v4h-4zM524 567h8v4h-8zM516 571h8v4h-8zM512 575h4v4h-4zM508 579h4v4h-4zM508 583h4v4h-4zM512 587h4v4h-4zM516 591h4v4h-4zM520 595h8v4h-8zM524 599h8v4h-8zM532 603h4v4h-4zM536 607h4v4h-4zM540 611h8v4h-8zM544 615h4v4h-4zM548 619h4v4h-4zM548 623h4v4h-4zM552 635h4v4h-4zM552 639h4v4h-4zM548 647h4v4h-4zM548 651h4v4h-4zM544 655h4v4h-4zM540 663h4v4h-4zM536 667h4v4h-4zM532 675h4v4h-4zM528 679h4v4h-4zM524 687h4v4h-4zM520 691h4v4h-4z"/><path fill="#79ff7e" d="M564 355h12v4h-12zM560 359h4v4h-4zM580 359h4v4h-4zM584 363h4v4h-4zM588 367h4v4h-4zM592 375h4v4h-4zM596 379h4v4h-4zM600 387h4v4h-4zM600 391h4v4h-4zM604 395h4v4h-4zM608 403h4v4h-4zM612 407h20v4h-20zM636 411h8v4h-8zM576 415h4v4h-4zM644 415h4v4h-4zM648 419h8v4h-8zM580 423h4v4h-4zM652 423h8v4h-8zM656 427h8v4h-8zM584 431h4v4h-4zM660 431h8v4h-8zM668 435h12v4h-12zM672 439h8v4h-8zM668 443h8v4h-8zM664 447h4v4h-4zM660 451h4v4h-4zM656 455h4v4h-4zM656 459h4v4h-4zM652 463h4v4h-4zM776 463h16v4h-16zM776 467h4v4h-4zM800 467h4v4h-4zM588 471h4v4h-4zM648 471h4v4h-4zM772 471h4v4h-4zM808 471h4v4h-4zM588 475h4v4h-4zM648 475h4v4h-4zM816 475h4v4h-4zM588 479h4v4h-4zM648 479h4v4h-4zM768 479h4v4h-4zM648 483h4v4h-4zM824 483h4v4h-4zM648 487h4v4h-4zM648 491h4v4h-4zM648 495h4v4h-4zM820 495h4v4h-4zM588 499h4v4h-4zM648 499h8v4h-8zM584 503h4v4h-4zM652 503h4v4h-4zM940 503h28v4h-28zM652 507h8v4h-8zM740 507h4v4h-4zM816 507h4v4h-4zM912 507h24v4h-24zM656 511h4v4h-4zM816 511h4v4h-4zM900 511h8v4h-8zM660 515h4v4h-4zM720 515h4v4h-4zM892 515h4v4h-4zM572 519h4v4h-4zM660 519h4v4h-4zM708 519h4v4h-4zM824 519h4v4h-4zM880 519h8v4h-8zM664 523h4v4h-4zM692 523h12v4h-12zM564 527h4v4h-4zM664 527h4v4h-4zM688 527h8v4h-8zM552 531h4v4h-4zM668 531h4v4h-4zM684 531h8v4h-8zM672 535h12v4h-12zM548 543h4v4h-4zM548 547h4v4h-4zM544 555h4v4h-4zM540 559h4v4h-4zM536 563h4v4h-4zM532 567h4v4h-4zM524 571h4v4h-4zM516 575h4v4h-4zM512 579h8v4h-8zM512 583h8v4h-8zM516 587h8v4h-8zM520 591h8v4h-8zM528 595h4v4h-4zM532 599h4v4h-4zM536 603h8v4h-8zM540 607h8v4h-8zM548 615h4v4h-4zM552 623h4v4h-4zM552 627h4v4h-4zM552 631h4v4h-4zM552 643h4v4h-4zM552 647h4v4h-4zM552 651h4v4h-4zM548 655h12v4h-12zM544 659h12v4h-12zM544 663h12v4h-12zM540 667h16v4h-16zM536 671h20v4h-20zM536 675h16v4h-16zM532 679h20v4h-20zM528 683h24v4h-24zM528 687h24v4h-24zM524 691h28v4h-28z"/><path fill="#7eff79" d="M564 359h4v4h-4zM576 359h4v4h-4zM560 363h4v4h-4zM588 371h4v4h-4zM560 379h4v4h-4zM592 379h4v4h-4zM596 383h4v4h-4zM564 387h4v4h-4zM596 387h4v4h-4zM600 395h4v4h-4zM572 399h4v4h-4zM604 399h4v4h-4zM604 403h4v4h-4zM608 407h4v4h-4zM576 411h4v4h-4zM612 411h24v4h-24zM636 415h8v4h-8zM644 419h4v4h-4zM648 423h4v4h-4zM584 427h4v4h-4zM652 427h4v4h-4zM656 431h4v4h-4zM660 435h8v4h-8zM664 439h8v4h-8zM664 443h4v4h-4zM660 447h4v4h-4zM656 451h4v4h-4zM588 455h4v4h-4zM588 459h4v4h-4zM652 459h4v4h-4zM588 463h4v4h-4zM648 463h4v4h-4zM588 467h4v4h-4zM648 467h4v4h-4zM780 467h8v4h-8zM792 467h8v4h-8zM644 471h4v4h-4zM776 471h4v4h-4zM804 471h4v4h-4zM644 475h4v4h-4zM772 475h4v4h-4zM812 475h4v4h-4zM644 479h4v4h-4zM820 479h4v4h-4zM644 483h4v4h-4zM768 483h4v4h-4zM592 487h4v4h-4zM644 487h4v4h-4zM592 491h4v4h-4zM640 491h8v4h-8zM820 491h4v4h-4zM592 495h4v4h-4zM644 495h4v4h-4zM592 499h4v4h-4zM644 499h4v4h-4zM644 503h8v4h-8zM816 503h4v4h-4zM648 507h4v4h-4zM936 507h16v4h-16zM580 511h4v4h-4zM652 511h4v4h-4zM732 511h4v4h-4zM908 511h12v4h-12zM576 515h4v4h-4zM652 515h8v4h-8zM896 515h8v4h-8zM656 519h4v4h-4zM712 519h4v4h-4zM888 519h4v4h-4zM660 523h4v4h-4zM704 523h4v4h-4zM852 523h28v4h-28zM660 527h4v4h-4zM696 527h8v4h-8zM556 531h4v4h-4zM664 531h4v4h-4zM692 531h8v4h-8zM552 535h4v4h-4zM668 535h4v4h-4zM684 535h8v4h-8zM672 539h12v4h-12zM548 551h4v4h-4zM548 555h4v4h-4zM544 559h4v4h-4zM540 563h4v4h-4zM536 567h4v4h-4zM528 571h8v4h-8zM520 575h8v4h-8zM520 579h4v4h-4zM520 583h4v4h-4zM524 587h4v4h-4zM528 591h4v4h-4zM532 595h4v4h-4zM536 599h8v4h-8zM544 603h4v4h-4zM548 607h4v4h-4zM548 611h4v4h-4zM552 615h4v4h-4zM552 619h4v4h-4zM556 631h4v4h-4zM556 635h4v4h-4zM556 639h4v4h-4zM556 643h4v4h-4zM556 647h8v4h-8zM556 651h8v4h-8zM560 655h8v4h-8zM556 659h12v4h-12zM556 663h12v4h-12zM556 667h12v4h-12zM556 671h12v4h-12zM552 675h16v4h-16zM552 679h16v4h-16zM552 683h16v4h-16zM552 687h16v4h-16zM552 691h16v4h-16z"/><path fill="#83ff74" d="M568 359h8v4h-8zM580 363h4v4h-4zM560 367h4v4h-4zM584 367h4v4h-4zM560 371h4v4h-4zM560 375h4v4h-4zM588 375h4v4h-4zM592 383h4v4h-4zM592 387h4v4h-4zM568 391h4v4h-4zM596 391h4v4h-4zM596 395h4v4h-4zM600 399h4v4h-4zM600 403h4v4h-4zM576 407h4v4h-4zM604 407h4v4h-4zM608 411h4v4h-4zM612 415h24v4h-24zM580 419h4v4h-4zM628 419h16v4h-16zM640 423h8v4h-8zM644 427h8v4h-8zM588 431h4v4h-4zM648 431h8v4h-8zM588 435h4v4h-4zM652 435h8v4h-8zM588 439h4v4h-4zM656 439h8v4h-8zM588 443h4v4h-4zM656 443h8v4h-8zM588 447h4v4h-4zM656 447h4v4h-4zM588 451h4v4h-4zM652 451h4v4h-4zM652 455h4v4h-4zM648 459h4v4h-4zM644 463h4v4h-4zM644 467h4v4h-4zM788 467h4v4h-4zM640 471h4v4h-4zM780 471h4v4h-4zM800 471h4v4h-4zM640 475h4v4h-4zM808 475h4v4h-4zM592 479h4v4h-4zM640 479h4v4h-4zM772 479h4v4h-4zM592 483h4v4h-4zM640 483h4v4h-4zM820 483h4v4h-4zM636 487h8v4h-8zM764 487h4v4h-4zM820 487h4v4h-4zM596 491h4v4h-4zM636 491h4v4h-4zM760 491h4v4h-4zM596 495h4v4h-4zM636 495h8v4h-8zM756 495h4v4h-4zM596 499h4v4h-4zM636 499h8v4h-8zM752 499h4v4h-4zM588 503h8v4h-8zM640 503h4v4h-4zM748 503h4v4h-4zM584 507h4v4h-4zM640 507h8v4h-8zM952 507h16v4h-16zM644 511h8v4h-8zM736 511h4v4h-4zM920 511h28v4h-28zM952 511h4v4h-4zM648 515h4v4h-4zM724 515h4v4h-4zM816 515h4v4h-4zM904 515h8v4h-8zM652 519h4v4h-4zM716 519h4v4h-4zM892 519h8v4h-8zM572 523h4v4h-4zM656 523h4v4h-4zM708 523h8v4h-8zM836 523h16v4h-16zM880 523h8v4h-8zM568 527h4v4h-4zM656 527h4v4h-4zM704 527h8v4h-8zM560 531h4v4h-4zM660 531h4v4h-4zM700 531h8v4h-8zM664 535h4v4h-4zM692 535h12v4h-12zM552 539h4v4h-4zM668 539h4v4h-4zM684 539h4v4h-4zM552 543h4v4h-4zM552 547h4v4h-4zM548 559h4v4h-4zM544 563h4v4h-4zM540 567h4v4h-4zM536 571h4v4h-4zM528 575h4v4h-4zM524 579h4v4h-4zM524 583h8v4h-8zM528 587h4v4h-4zM532 591h8v4h-8zM536 595h8v4h-8zM544 599h4v4h-4zM548 603h4v4h-4zM552 611h4v4h-4zM556 623h4v4h-4zM556 627h4v4h-4zM560 639h4v4h-4zM560 643h4v4h-4zM564 647h4v4h-4zM564 651h4v4h-4z"/><path fill="#88ff6e" d="M564 363h8v4h-8zM576 363h4v4h-4zM580 367h4v4h-4zM584 371h4v4h-4zM584 375h4v4h-4zM588 379h4v4h-4zM564 383h4v4h-4zM588 383h4v4h-4zM592 391h4v4h-4zM596 399h4v4h-4zM600 407h4v4h-4zM604 411h4v4h-4zM604 415h8v4h-8zM608 419h20v4h-20zM584 423h4v4h-4zM620 423h20v4h-20zM588 427h4v4h-4zM632 427h12v4h-12zM640 431h8v4h-8zM644 435h8v4h-8zM648 439h8v4h-8zM652 443h4v4h-4zM648 447h8v4h-8zM648 451h4v4h-4zM644 455h8v4h-8zM640 459h8v4h-8zM640 463h4v4h-4zM640 467h4v4h-4zM592 471h4v4h-4zM636 471h4v4h-4zM784 471h4v4h-4zM796 471h4v4h-4zM592 475h4v4h-4zM636 475h4v4h-4zM776 475h4v4h-4zM804 475h4v4h-4zM636 479h4v4h-4zM812 479h8v4h-8zM596 483h4v4h-4zM636 483h4v4h-4zM772 483h4v4h-4zM596 487h4v4h-4zM632 487h4v4h-4zM768 487h4v4h-4zM600 491h4v4h-4zM632 491h4v4h-4zM600 495h8v4h-8zM632 495h4v4h-4zM816 495h4v4h-4zM600 499h8v4h-8zM632 499h4v4h-4zM816 499h4v4h-4zM596 503h8v4h-8zM632 503h8v4h-8zM588 507h8v4h-8zM636 507h4v4h-4zM744 507h4v4h-4zM584 511h4v4h-4zM640 511h4v4h-4zM948 511h4v4h-4zM956 511h12v4h-12zM580 515h4v4h-4zM644 515h4v4h-4zM728 515h4v4h-4zM912 515h32v4h-32zM952 515h16v4h-16zM576 519h4v4h-4zM648 519h4v4h-4zM720 519h4v4h-4zM820 519h4v4h-4zM900 519h8v4h-8zM956 519h8v4h-8zM648 523h8v4h-8zM716 523h4v4h-4zM832 523h4v4h-4zM888 523h8v4h-8zM652 527h4v4h-4zM712 527h4v4h-4zM876 527h4v4h-4zM564 531h4v4h-4zM656 531h4v4h-4zM708 531h8v4h-8zM556 535h4v4h-4zM660 535h4v4h-4zM704 535h8v4h-8zM664 539h4v4h-4zM688 539h12v4h-12zM672 543h12v4h-12zM552 551h4v4h-4zM552 555h4v4h-4zM548 563h4v4h-4zM544 567h4v4h-4zM540 571h4v4h-4zM532 575h8v4h-8zM528 579h8v4h-8zM532 583h4v4h-4zM532 587h8v4h-8zM540 591h4v4h-4zM544 595h4v4h-4zM548 599h4v4h-4zM552 603h4v4h-4zM552 607h4v4h-4zM556 615h4v4h-4zM556 619h4v4h-4zM560 631h4v4h-4zM560 635h4v4h-4zM564 643h4v4h-4zM568 651h4v4h-4zM568 655h4v4h-4zM568 659h4v4h-4zM568 663h4v4h-4zM568 667h4v4h-4zM568 671h4v4h-4zM568 675h4v4h-4zM568 679h4v4h-4zM568 683h4v4h-4zM568 687h4v4h-4zM568 691h4v4h-4z"/><path fill="#8dff69" d="M572 363h4v4h-4zM564 367h4v4h-4zM576 367h4v4h-4zM564 371h4v4h-4zM580 371h4v4h-4zM564 375h4v4h-4zM564 379h4v4h-4zM584 379h4v4h-4zM584 383h4v4h-4zM588 387h4v4h-4zM588 391h4v4h-4zM572 395h4v4h-4zM592 395h4v4h-4zM592 399h4v4h-4zM576 403h4v4h-4zM596 403h4v4h-4zM596 407h4v4h-4zM600 411h4v4h-4zM580 415h4v4h-4zM600 415h4v4h-4zM584 419h4v4h-4zM600 419h8v4h-8zM588 423h4v4h-4zM604 423h16v4h-16zM592 427h4v4h-4zM616 427h16v4h-16zM592 431h4v4h-4zM624 431h16v4h-16zM592 435h4v4h-4zM632 435h12v4h-12zM592 439h4v4h-4zM636 439h12v4h-12zM592 443h4v4h-4zM640 443h12v4h-12zM592 447h4v4h-4zM640 447h8v4h-8zM592 451h4v4h-4zM636 451h12v4h-12zM592 455h4v4h-4zM636 455h8v4h-8zM592 459h4v4h-4zM632 459h8v4h-8zM592 463h4v4h-4zM636 463h4v4h-4zM592 467h4v4h-4zM636 467h4v4h-4zM788 471h8v4h-8zM632 475h4v4h-4zM780 475h4v4h-4zM596 479h4v4h-4zM632 479h4v4h-4zM776 479h4v4h-4zM808 479h4v4h-4zM600 483h4v4h-4zM632 483h4v4h-4zM816 483h4v4h-4zM600 487h4v4h-4zM628 487h4v4h-4zM816 487h4v4h-4zM604 491h4v4h-4zM628 491h4v4h-4zM764 491h4v4h-4zM816 491h4v4h-4zM608 495h4v4h-4zM624 495h8v4h-8zM760 495h4v4h-4zM608 499h4v4h-4zM624 499h8v4h-8zM604 503h4v4h-4zM628 503h4v4h-4zM596 507h12v4h-12zM628 507h8v4h-8zM812 507h4v4h-4zM588 511h4v4h-4zM632 511h8v4h-8zM740 511h4v4h-4zM812 511h4v4h-4zM636 515h8v4h-8zM732 515h4v4h-4zM944 515h8v4h-8zM640 519h8v4h-8zM724 519h4v4h-4zM908 519h12v4h-12zM948 519h8v4h-8zM964 519h4v4h-4zM644 523h4v4h-4zM720 523h4v4h-4zM828 523h4v4h-4zM896 523h4v4h-4zM956 523h12v4h-12zM648 527h4v4h-4zM716 527h8v4h-8zM864 527h12v4h-12zM880 527h8v4h-8zM956 527h12v4h-12zM652 531h4v4h-4zM716 531h8v4h-8zM560 535h4v4h-4zM656 535h4v4h-4zM712 535h8v4h-8zM556 539h4v4h-4zM660 539h4v4h-4zM700 539h16v4h-16zM668 543h4v4h-4zM684 543h12v4h-12zM552 559h4v4h-4zM552 563h4v4h-4zM548 567h4v4h-4zM544 571h4v4h-4zM540 575h4v4h-4zM536 579h4v4h-4zM536 583h4v4h-4zM540 587h4v4h-4zM544 591h4v4h-4zM548 595h4v4h-4zM552 599h4v4h-4zM556 607h4v4h-4zM556 611h4v4h-4zM560 623h4v4h-4zM560 627h4v4h-4zM564 639h4v4h-4zM568 647h4v4h-4z"/><path fill="#93ff64" d="M568 367h8v4h-8zM568 371h4v4h-4zM576 371h4v4h-4zM580 375h4v4h-4zM580 379h4v4h-4zM568 387h4v4h-4zM584 387h4v4h-4zM572 391h4v4h-4zM584 391h4v4h-4zM588 395h4v4h-4zM576 399h4v4h-4zM588 399h4v4h-4zM592 403h4v4h-4zM592 407h4v4h-4zM580 411h4v4h-4zM596 411h4v4h-4zM596 415h4v4h-4zM588 419h12v4h-12zM592 423h12v4h-12zM596 427h20v4h-20zM596 431h8v4h-8zM608 431h16v4h-16zM596 435h4v4h-4zM620 435h12v4h-12zM624 439h12v4h-12zM628 443h12v4h-12zM628 447h12v4h-12zM628 451h8v4h-8zM628 455h8v4h-8zM628 459h4v4h-4zM632 463h4v4h-4zM632 467h4v4h-4zM596 471h4v4h-4zM632 471h4v4h-4zM596 475h4v4h-4zM800 475h4v4h-4zM600 479h4v4h-4zM628 479h4v4h-4zM804 479h4v4h-4zM604 483h4v4h-4zM628 483h4v4h-4zM776 483h4v4h-4zM812 483h4v4h-4zM604 487h8v4h-8zM624 487h4v4h-4zM772 487h4v4h-4zM812 487h4v4h-4zM608 491h4v4h-4zM620 491h8v4h-8zM768 491h4v4h-4zM612 495h12v4h-12zM612 499h12v4h-12zM756 499h4v4h-4zM608 503h4v4h-4zM620 503h8v4h-8zM752 503h4v4h-4zM812 503h4v4h-4zM608 507h4v4h-4zM624 507h4v4h-4zM748 507h4v4h-4zM592 511h16v4h-16zM628 511h4v4h-4zM584 515h8v4h-8zM632 515h4v4h-4zM736 515h4v4h-4zM580 519h4v4h-4zM636 519h4v4h-4zM728 519h4v4h-4zM816 519h4v4h-4zM920 519h28v4h-28zM576 523h4v4h-4zM640 523h4v4h-4zM724 523h4v4h-4zM900 523h8v4h-8zM948 523h8v4h-8zM572 527h4v4h-4zM640 527h8v4h-8zM724 527h4v4h-4zM860 527h4v4h-4zM888 527h8v4h-8zM952 527h4v4h-4zM568 531h4v4h-4zM644 531h8v4h-8zM724 531h4v4h-4zM876 531h4v4h-4zM648 535h8v4h-8zM720 535h12v4h-12zM652 539h8v4h-8zM716 539h12v4h-12zM556 543h4v4h-4zM660 543h8v4h-8zM696 543h20v4h-20zM556 547h4v4h-4zM672 547h12v4h-12zM556 551h4v4h-4zM556 555h4v4h-4zM552 567h4v4h-4zM548 571h4v4h-4zM544 575h4v4h-4zM540 579h8v4h-8zM540 583h8v4h-8zM544 587h8v4h-8zM548 591h8v4h-8zM552 595h4v4h-4zM556 599h4v4h-4zM556 603h4v4h-4zM560 615h4v4h-4zM560 619h4v4h-4zM564 631h4v4h-4zM564 635h4v4h-4zM568 643h4v4h-4z"/><path fill="#98ff5f" d="M572 371h4v4h-4zM568 375h12v4h-12zM568 379h4v4h-4zM576 379h4v4h-4zM568 383h4v4h-4zM576 383h8v4h-8zM572 387h4v4h-4zM580 387h4v4h-4zM576 391h8v4h-8zM576 395h12v4h-12zM580 399h8v4h-8zM580 403h4v4h-4zM588 403h4v4h-4zM580 407h4v4h-4zM588 407h4v4h-4zM584 411h12v4h-12zM584 415h12v4h-12zM604 431h4v4h-4zM600 435h20v4h-20zM596 439h4v4h-4zM616 439h8v4h-8zM596 443h4v4h-4zM620 443h8v4h-8zM596 447h4v4h-4zM624 447h4v4h-4zM596 451h4v4h-4zM624 451h4v4h-4zM596 455h4v4h-4zM624 455h4v4h-4zM596 459h4v4h-4zM624 459h4v4h-4zM596 463h4v4h-4zM628 463h4v4h-4zM596 467h4v4h-4zM628 467h4v4h-4zM600 471h4v4h-4zM628 471h4v4h-4zM600 475h4v4h-4zM628 475h4v4h-4zM784 475h4v4h-4zM796 475h4v4h-4zM604 479h4v4h-4zM624 479h4v4h-4zM780 479h4v4h-4zM608 483h4v4h-4zM620 483h8v4h-8zM808 483h4v4h-4zM612 487h12v4h-12zM776 487h4v4h-4zM808 487h4v4h-4zM612 491h8v4h-8zM772 491h4v4h-4zM812 491h4v4h-4zM764 495h8v4h-8zM812 495h4v4h-4zM760 499h4v4h-4zM812 499h4v4h-4zM612 503h8v4h-8zM612 507h12v4h-12zM608 511h4v4h-4zM620 511h8v4h-8zM744 511h4v4h-4zM592 515h16v4h-16zM624 515h8v4h-8zM812 515h4v4h-4zM584 519h4v4h-4zM628 519h8v4h-8zM732 519h4v4h-4zM632 523h8v4h-8zM728 523h4v4h-4zM824 523h4v4h-4zM908 523h40v4h-40zM636 527h4v4h-4zM728 527h8v4h-8zM852 527h8v4h-8zM896 527h8v4h-8zM640 531h4v4h-4zM728 531h8v4h-8zM868 531h8v4h-8zM880 531h12v4h-12zM952 531h16v4h-16zM564 535h4v4h-4zM644 535h4v4h-4zM732 535h8v4h-8zM560 539h4v4h-4zM648 539h4v4h-4zM728 539h16v4h-16zM656 543h4v4h-4zM716 543h20v4h-20zM664 547h8v4h-8zM684 547h24v4h-24zM556 559h4v4h-4zM556 563h4v4h-4zM556 567h4v4h-4zM552 571h4v4h-4zM548 575h4v4h-4zM548 579h4v4h-4zM548 583h4v4h-4zM552 587h4v4h-4zM556 591h4v4h-4zM556 595h4v4h-4zM560 603h4v4h-4zM560 607h4v4h-4zM560 611h4v4h-4zM564 627h4v4h-4zM568 639h4v4h-4zM572 655h4v4h-4zM572 659h4v4h-4zM572 663h4v4h-4zM572 667h4v4h-4zM572 671h4v4h-4zM572 675h4v4h-4zM572 679h4v4h-4zM572 683h4v4h-4zM572 687h4v4h-4zM572 691h4v4h-4z"/><path fill="#9dff5a" d="M572 379h4v4h-4zM572 383h4v4h-4zM576 387h4v4h-4zM584 403h4v4h-4zM584 407h4v4h-4zM600 439h16v4h-16zM600 443h4v4h-4zM612 443h8v4h-8zM600 447h4v4h-4zM616 447h8v4h-8zM620 451h4v4h-4zM620 455h4v4h-4zM620 459h4v4h-4zM600 463h4v4h-4zM624 463h4v4h-4zM600 467h4v4h-4zM624 467h4v4h-4zM604 471h4v4h-4zM624 471h4v4h-4zM604 475h8v4h-8zM624 475h4v4h-4zM788 475h8v4h-8zM608 479h8v4h-8zM620 479h4v4h-4zM800 479h4v4h-4zM612 483h8v4h-8zM780 483h4v4h-4zM804 483h4v4h-4zM776 491h4v4h-4zM808 491h4v4h-4zM772 495h4v4h-4zM808 495h4v4h-4zM764 499h4v4h-4zM756 503h4v4h-4zM752 507h4v4h-4zM612 511h8v4h-8zM608 515h16v4h-16zM740 515h4v4h-4zM588 519h24v4h-24zM620 519h8v4h-8zM736 519h4v4h-4zM580 523h8v4h-8zM624 523h8v4h-8zM732 523h8v4h-8zM820 523h4v4h-4zM576 527h4v4h-4zM628 527h8v4h-8zM736 527h8v4h-8zM844 527h8v4h-8zM904 527h8v4h-8zM944 527h8v4h-8zM572 531h4v4h-4zM632 531h8v4h-8zM736 531h12v4h-12zM864 531h4v4h-4zM892 531h4v4h-4zM568 535h4v4h-4zM636 535h8v4h-8zM740 535h12v4h-12zM644 539h4v4h-4zM744 539h12v4h-12zM560 543h4v4h-4zM648 543h8v4h-8zM736 543h16v4h-16zM560 547h4v4h-4zM660 547h4v4h-4zM708 547h28v4h-28zM672 551h16v4h-16zM556 571h4v4h-4zM552 575h4v4h-4zM552 579h4v4h-4zM552 583h4v4h-4zM556 587h4v4h-4zM560 595h4v4h-4zM560 599h4v4h-4zM564 615h4v4h-4zM564 619h4v4h-4zM564 623h4v4h-4zM568 635h4v4h-4zM572 647h4v4h-4zM572 651h4v4h-4z"/><path fill="#a2ff55" d="M604 443h8v4h-8zM604 447h12v4h-12zM600 451h8v4h-8zM612 451h8v4h-8zM600 455h8v4h-8zM616 455h4v4h-4zM600 459h8v4h-8zM616 459h4v4h-4zM604 463h4v4h-4zM616 463h8v4h-8zM604 467h8v4h-8zM620 467h4v4h-4zM608 471h16v4h-16zM612 475h12v4h-12zM616 479h4v4h-4zM784 479h4v4h-4zM800 483h4v4h-4zM780 487h4v4h-4zM804 487h4v4h-4zM804 491h4v4h-4zM776 495h4v4h-4zM768 499h8v4h-8zM808 499h4v4h-4zM760 503h4v4h-4zM808 503h4v4h-4zM808 507h4v4h-4zM748 511h4v4h-4zM808 511h4v4h-4zM744 515h4v4h-4zM808 515h4v4h-4zM612 519h8v4h-8zM740 519h8v4h-8zM812 519h4v4h-4zM588 523h36v4h-36zM740 523h8v4h-8zM580 527h4v4h-4zM596 527h8v4h-8zM620 527h8v4h-8zM744 527h8v4h-8zM836 527h8v4h-8zM912 527h32v4h-32zM628 531h4v4h-4zM748 531h12v4h-12zM860 531h4v4h-4zM896 531h8v4h-8zM948 531h4v4h-4zM632 535h4v4h-4zM752 535h12v4h-12zM872 535h20v4h-20zM952 535h8v4h-8zM564 539h4v4h-4zM636 539h8v4h-8zM756 539h8v4h-8zM644 543h4v4h-4zM752 543h12v4h-12zM652 547h8v4h-8zM736 547h20v4h-20zM560 551h4v4h-4zM664 551h8v4h-8zM688 551h44v4h-44zM560 555h4v4h-4zM560 559h4v4h-4zM560 563h4v4h-4zM560 567h4v4h-4zM556 575h4v4h-4zM556 579h4v4h-4zM556 583h4v4h-4zM560 587h4v4h-4zM560 591h4v4h-4zM564 603h4v4h-4zM564 607h4v4h-4zM564 611h4v4h-4zM568 627h4v4h-4zM568 631h4v4h-4zM572 639h4v4h-4zM572 643h4v4h-4z"/><path fill="#a7ff4f" d="M608 451h4v4h-4zM608 455h8v4h-8zM608 459h8v4h-8zM608 463h8v4h-8zM612 467h8v4h-8zM796 479h4v4h-4zM780 491h4v4h-4zM780 495h4v4h-4zM804 495h4v4h-4zM776 499h4v4h-4zM764 503h12v4h-12zM756 507h8v4h-8zM752 511h4v4h-4zM748 515h8v4h-8zM748 519h8v4h-8zM808 519h4v4h-4zM748 523h12v4h-12zM816 523h4v4h-4zM584 527h12v4h-12zM604 527h16v4h-16zM752 527h12v4h-12zM832 527h4v4h-4zM576 531h8v4h-8zM596 531h32v4h-32zM760 531h8v4h-8zM856 531h4v4h-4zM904 531h44v4h-44zM572 535h4v4h-4zM624 535h8v4h-8zM764 535h8v4h-8zM868 535h4v4h-4zM892 535h8v4h-8zM948 535h4v4h-4zM960 535h4v4h-4zM568 539h4v4h-4zM628 539h8v4h-8zM764 539h8v4h-8zM564 543h4v4h-4zM636 543h8v4h-8zM764 543h4v4h-4zM644 547h8v4h-8zM756 547h8v4h-8zM652 551h12v4h-12zM732 551h24v4h-24zM672 555h40v4h-40zM560 571h4v4h-4zM560 575h4v4h-4zM560 579h4v4h-4zM560 583h4v4h-4zM564 595h4v4h-4zM564 599h4v4h-4zM568 619h4v4h-4zM568 623h4v4h-4zM572 635h4v4h-4z"/><path fill="#adff4a" d="M788 479h8v4h-8zM784 483h4v4h-4zM784 487h4v4h-4zM800 487h4v4h-4zM800 491h4v4h-4zM780 499h4v4h-4zM804 499h4v4h-4zM776 503h8v4h-8zM804 503h4v4h-4zM764 507h12v4h-12zM804 507h4v4h-4zM756 511h12v4h-12zM804 511h4v4h-4zM756 515h8v4h-8zM804 515h4v4h-4zM756 519h12v4h-12zM760 523h12v4h-12zM812 523h4v4h-4zM764 527h12v4h-12zM828 527h4v4h-4zM584 531h12v4h-12zM768 531h8v4h-8zM848 531h8v4h-8zM576 535h4v4h-4zM600 535h24v4h-24zM772 535h4v4h-4zM860 535h8v4h-8zM900 535h8v4h-8zM928 535h4v4h-4zM944 535h4v4h-4zM964 535h4v4h-4zM620 539h8v4h-8zM772 539h4v4h-4zM872 539h20v4h-20zM952 539h4v4h-4zM628 543h8v4h-8zM768 543h8v4h-8zM564 547h4v4h-4zM636 547h8v4h-8zM764 547h8v4h-8zM564 551h4v4h-4zM644 551h8v4h-8zM756 551h8v4h-8zM564 555h4v4h-4zM660 555h12v4h-12zM712 555h36v4h-36zM564 559h4v4h-4zM564 563h4v4h-4zM564 567h4v4h-4zM564 571h4v4h-4zM564 575h4v4h-4zM564 579h4v4h-4zM564 583h4v4h-4zM564 587h4v4h-4zM564 591h4v4h-4zM568 607h4v4h-4zM568 611h4v4h-4zM568 615h4v4h-4zM572 627h4v4h-4zM572 631h4v4h-4zM576 647h4v4h-4z"/><path fill="#b2ff45" d="M796 483h4v4h-4zM784 491h4v4h-4zM784 495h4v4h-4zM800 495h4v4h-4zM784 499h4v4h-4zM800 499h4v4h-4zM784 503h4v4h-4zM776 507h8v4h-8zM768 511h12v4h-12zM800 511h4v4h-4zM764 515h16v4h-16zM800 515h4v4h-4zM768 519h12v4h-12zM800 519h8v4h-8zM772 523h8v4h-8zM804 523h8v4h-8zM776 527h4v4h-4zM820 527h8v4h-8zM776 531h8v4h-8zM844 531h4v4h-4zM580 535h20v4h-20zM776 535h8v4h-8zM856 535h4v4h-4zM908 535h20v4h-20zM932 535h12v4h-12zM572 539h8v4h-8zM604 539h16v4h-16zM776 539h4v4h-4zM868 539h4v4h-4zM892 539h8v4h-8zM948 539h4v4h-4zM956 539h4v4h-4zM568 543h4v4h-4zM616 543h12v4h-12zM776 543h4v4h-4zM628 547h8v4h-8zM772 547h4v4h-4zM640 551h4v4h-4zM764 551h8v4h-8zM648 555h12v4h-12zM748 555h16v4h-16zM668 559h72v4h-72zM568 591h4v4h-4zM568 595h4v4h-4zM568 599h4v4h-4zM568 603h4v4h-4zM572 619h4v4h-4zM572 623h4v4h-4zM576 635h4v4h-4zM576 639h4v4h-4zM576 643h4v4h-4zM576 651h4v4h-4zM576 655h4v4h-4zM576 659h4v4h-4zM576 663h4v4h-4zM576 667h4v4h-4zM576 671h4v4h-4zM576 675h4v4h-4zM576 679h4v4h-4zM576 683h4v4h-4zM576 687h4v4h-4zM576 691h4v4h-4z"/><path fill="#b7ff40" d="M788 483h8v4h-8zM788 487h4v4h-4zM796 487h4v4h-4zM796 491h4v4h-4zM800 503h4v4h-4zM784 507h4v4h-4zM800 507h4v4h-4zM780 511h8v4h-8zM796 511h4v4h-4zM780 515h20v4h-20zM780 519h20v4h-20zM780 523h24v4h-24zM780 527h28v4h-28zM816 527h4v4h-4zM784 531h8v4h-8zM840 531h4v4h-4zM784 535h4v4h-4zM852 535h4v4h-4zM580 539h24v4h-24zM780 539h8v4h-8zM864 539h4v4h-4zM900 539h48v4h-48zM572 543h4v4h-4zM604 543h12v4h-12zM780 543h8v4h-8zM876 543h20v4h-20zM568 547h4v4h-4zM616 547h12v4h-12zM776 547h8v4h-8zM568 551h4v4h-4zM628 551h12v4h-12zM772 551h8v4h-8zM568 555h4v4h-4zM640 555h8v4h-8zM764 555h8v4h-8zM568 559h4v4h-4zM652 559h16v4h-16zM740 559h20v4h-20zM568 563h4v4h-4zM692 563h28v4h-28zM568 567h4v4h-4zM568 571h4v4h-4zM568 575h4v4h-4zM568 579h4v4h-4zM568 583h4v4h-4zM568 587h4v4h-4zM572 607h4v4h-4zM572 611h4v4h-4zM572 615h4v4h-4zM576 627h4v4h-4zM576 631h4v4h-4z"/><path fill="#bcff3b" d="M792 487h4v4h-4zM788 491h8v4h-8zM788 495h4v4h-4zM796 495h4v4h-4zM788 499h12v4h-12zM788 503h12v4h-12zM788 507h12v4h-12zM788 511h8v4h-8zM808 527h8v4h-8zM792 531h16v4h-16zM832 531h8v4h-8zM788 535h12v4h-12zM848 535h4v4h-4zM788 539h8v4h-8zM860 539h4v4h-4zM960 539h4v4h-4zM576 543h28v4h-28zM788 543h4v4h-4zM872 543h4v4h-4zM896 543h8v4h-8zM944 543h12v4h-12zM572 547h8v4h-8zM604 547h12v4h-12zM784 547h4v4h-4zM572 551h4v4h-4zM616 551h12v4h-12zM780 551h4v4h-4zM628 555h12v4h-12zM772 555h4v4h-4zM644 559h8v4h-8zM760 559h8v4h-8zM664 563h28v4h-28zM720 563h36v4h-36zM572 579h4v4h-4zM572 583h4v4h-4zM572 587h4v4h-4zM572 591h4v4h-4zM572 595h4v4h-4zM572 599h4v4h-4zM572 603h4v4h-4zM576 619h4v4h-4zM576 623h4v4h-4zM580 635h4v4h-4zM580 639h4v4h-4zM580 643h4v4h-4zM580 647h4v4h-4zM964 655h4v4h-4zM960 659h8v4h-8zM960 663h8v4h-8zM956 667h12v4h-12zM952 671h16v4h-16zM936 675h32v4h-32zM928 679h40v4h-40zM924 683h44v4h-44zM920 687h48v4h-48zM920 691h48v4h-48z"/><path fill="#c1ff36" d="M792 495h4v4h-4zM808 531h24v4h-24zM800 535h8v4h-8zM844 535h4v4h-4zM796 539h8v4h-8zM856 539h4v4h-4zM792 543h8v4h-8zM864 543h8v4h-8zM904 543h40v4h-40zM956 543h4v4h-4zM580 547h24v4h-24zM788 547h8v4h-8zM876 547h20v4h-20zM948 547h4v4h-4zM576 551h8v4h-8zM600 551h16v4h-16zM784 551h8v4h-8zM572 555h8v4h-8zM616 555h12v4h-12zM776 555h8v4h-8zM572 559h4v4h-4zM628 559h16v4h-16zM768 559h8v4h-8zM572 563h4v4h-4zM648 563h16v4h-16zM756 563h12v4h-12zM572 567h4v4h-4zM684 567h64v4h-64zM572 571h4v4h-4zM572 575h4v4h-4zM576 603h4v4h-4zM576 607h4v4h-4zM576 611h4v4h-4zM576 615h4v4h-4zM580 627h4v4h-4zM580 631h4v4h-4zM952 647h16v4h-16zM580 651h4v4h-4zM948 651h20v4h-20zM580 655h4v4h-4zM944 655h20v4h-20zM580 659h4v4h-4zM940 659h20v4h-20zM580 663h4v4h-4zM936 663h24v4h-24zM580 667h4v4h-4zM932 667h24v4h-24zM580 671h4v4h-4zM928 671h24v4h-24zM580 675h4v4h-4zM920 675h16v4h-16zM580 679h4v4h-4zM916 679h12v4h-12zM580 683h4v4h-4zM916 683h8v4h-8zM580 687h4v4h-4zM912 687h8v4h-8zM580 691h4v4h-4zM912 691h8v4h-8z"/><path fill="#c6ff30" d="M808 535h4v4h-4zM840 535h4v4h-4zM804 539h4v4h-4zM852 539h4v4h-4zM964 539h4v4h-4zM800 543h4v4h-4zM860 543h4v4h-4zM796 547h4v4h-4zM872 547h4v4h-4zM896 547h52v4h-52zM952 547h4v4h-4zM584 551h16v4h-16zM792 551h4v4h-4zM580 555h36v4h-36zM784 555h8v4h-8zM576 559h4v4h-4zM616 559h12v4h-12zM776 559h12v4h-12zM576 563h4v4h-4zM632 563h16v4h-16zM768 563h8v4h-8zM576 567h4v4h-4zM652 567h32v4h-32zM748 567h16v4h-16zM576 571h4v4h-4zM696 571h40v4h-40zM576 575h4v4h-4zM576 579h4v4h-4zM576 583h4v4h-4zM576 587h4v4h-4zM952 587h8v4h-8zM576 591h4v4h-4zM952 591h8v4h-8zM576 595h4v4h-4zM948 595h12v4h-12zM576 599h4v4h-4zM948 599h12v4h-12zM948 603h12v4h-12zM948 607h12v4h-12zM948 611h12v4h-12zM948 615h12v4h-12zM580 619h4v4h-4zM948 619h12v4h-12zM580 623h4v4h-4zM948 623h12v4h-12zM948 627h12v4h-12zM948 631h12v4h-12zM584 635h4v4h-4zM944 635h16v4h-16zM584 639h4v4h-4zM944 639h16v4h-16zM584 643h4v4h-4zM940 643h28v4h-28zM584 647h4v4h-4zM940 647h12v4h-12zM584 651h4v4h-4zM936 651h12v4h-12zM936 655h8v4h-8zM932 659h8v4h-8zM932 663h4v4h-4zM928 667h4v4h-4zM916 671h12v4h-12zM912 675h8v4h-8zM908 679h8v4h-8zM908 683h8v4h-8zM908 687h4v4h-4zM908 691h4v4h-4z"/><path fill="#ccff2b" d="M812 535h28v4h-28zM808 539h4v4h-4zM844 539h8v4h-8zM804 543h4v4h-4zM856 543h4v4h-4zM800 547h4v4h-4zM868 547h4v4h-4zM796 551h4v4h-4zM880 551h20v4h-20zM944 551h12v4h-12zM792 555h4v4h-4zM580 559h36v4h-36zM788 559h8v4h-8zM580 563h8v4h-8zM612 563h20v4h-20zM776 563h12v4h-12zM580 567h4v4h-4zM636 567h16v4h-16zM764 567h8v4h-8zM580 571h4v4h-4zM672 571h24v4h-24zM736 571h24v4h-24zM580 575h4v4h-4zM580 579h4v4h-4zM580 583h4v4h-4zM952 583h8v4h-8zM580 587h4v4h-4zM948 587h4v4h-4zM960 587h4v4h-4zM580 591h4v4h-4zM948 591h4v4h-4zM960 591h8v4h-8zM580 595h4v4h-4zM960 595h8v4h-8zM580 599h4v4h-4zM944 599h4v4h-4zM960 599h8v4h-8zM580 603h4v4h-4zM944 603h4v4h-4zM960 603h8v4h-8zM580 607h4v4h-4zM944 607h4v4h-4zM960 607h8v4h-8zM580 611h4v4h-4zM944 611h4v4h-4zM960 611h8v4h-8zM580 615h4v4h-4zM944 615h4v4h-4zM960 615h8v4h-8zM944 619h4v4h-4zM960 619h8v4h-8zM944 623h4v4h-4zM960 623h8v4h-8zM584 627h4v4h-4zM944 627h4v4h-4zM960 627h8v4h-8zM584 631h4v4h-4zM944 631h4v4h-4zM960 631h8v4h-8zM940 635h4v4h-4zM960 635h8v4h-8zM588 639h4v4h-4zM940 639h4v4h-4zM960 639h8v4h-8zM588 643h4v4h-4zM936 643h4v4h-4zM588 647h28v4h-28zM936 647h4v4h-4zM588 651h20v4h-20zM932 651h4v4h-4zM584 655h12v4h-12zM932 655h4v4h-4zM584 659h8v4h-8zM928 659h4v4h-4zM584 663h8v4h-8zM924 663h8v4h-8zM584 667h8v4h-8zM916 667h12v4h-12zM584 671h8v4h-8zM868 671h24v4h-24zM904 671h12v4h-12zM584 675h8v4h-8zM864 675h48v4h-48zM584 679h8v4h-8zM864 679h44v4h-44zM584 683h8v4h-8zM864 683h44v4h-44zM584 687h8v4h-8zM860 687h48v4h-48zM584 691h8v4h-8zM860 691h48v4h-48z"/><path fill="#d1ff26" d="M812 539h8v4h-8zM840 539h4v4h-4zM808 543h4v4h-4zM852 543h4v4h-4zM960 543h4v4h-4zM804 547h4v4h-4zM864 547h4v4h-4zM956 547h4v4h-4zM800 551h4v4h-4zM876 551h4v4h-4zM900 551h44v4h-44zM796 555h4v4h-4zM948 555h8v4h-8zM796 559h4v4h-4zM952 559h4v4h-4zM588 563h24v4h-24zM788 563h8v4h-8zM584 567h12v4h-12zM608 567h28v4h-28zM772 567h20v4h-20zM584 571h4v4h-4zM640 571h32v4h-32zM760 571h12v4h-12zM688 575h68v4h-68zM952 575h4v4h-4zM948 579h12v4h-12zM948 583h4v4h-4zM944 587h4v4h-4zM964 587h4v4h-4zM944 591h4v4h-4zM940 595h8v4h-8zM940 599h4v4h-4zM940 603h4v4h-4zM940 607h4v4h-4zM584 611h4v4h-4zM940 611h4v4h-4zM584 615h4v4h-4zM940 615h4v4h-4zM584 619h4v4h-4zM940 619h4v4h-4zM584 623h4v4h-4zM940 623h4v4h-4zM940 627h4v4h-4zM588 631h4v4h-4zM940 631h4v4h-4zM588 635h4v4h-4zM936 635h4v4h-4zM592 639h4v4h-4zM936 639h4v4h-4zM592 643h24v4h-24zM932 643h4v4h-4zM616 647h4v4h-4zM932 647h4v4h-4zM608 651h8v4h-8zM596 655h12v4h-12zM928 655h4v4h-4zM592 659h12v4h-12zM924 659h4v4h-4zM592 663h8v4h-8zM872 663h8v4h-8zM916 663h8v4h-8zM592 667h8v4h-8zM856 667h60v4h-60zM592 671h8v4h-8zM856 671h12v4h-12zM892 671h12v4h-12zM592 675h8v4h-8zM856 675h8v4h-8zM592 679h8v4h-8zM856 679h8v4h-8zM592 683h4v4h-4zM852 683h12v4h-12zM592 687h4v4h-4zM852 687h8v4h-8zM592 691h4v4h-4zM852 691h8v4h-8z"/><path fill="#d6ff21" d="M820 539h20v4h-20zM812 543h4v4h-4zM848 543h4v4h-4zM808 547h4v4h-4zM860 547h4v4h-4zM804 551h4v4h-4zM872 551h4v4h-4zM956 551h4v4h-4zM800 555h4v4h-4zM880 555h56v4h-56zM940 555h8v4h-8zM956 555h4v4h-4zM800 559h4v4h-4zM948 559h4v4h-4zM796 563h4v4h-4zM948 563h8v4h-8zM596 567h12v4h-12zM792 567h8v4h-8zM948 567h8v4h-8zM588 571h52v4h-52zM772 571h24v4h-24zM948 571h8v4h-8zM584 575h8v4h-8zM640 575h48v4h-48zM756 575h16v4h-16zM948 575h4v4h-4zM956 575h4v4h-4zM584 579h4v4h-4zM692 579h60v4h-60zM584 583h4v4h-4zM944 583h4v4h-4zM960 583h8v4h-8zM584 587h4v4h-4zM940 587h4v4h-4zM584 591h4v4h-4zM936 591h8v4h-8zM584 595h4v4h-4zM932 595h8v4h-8zM584 599h4v4h-4zM932 599h8v4h-8zM584 603h4v4h-4zM932 603h8v4h-8zM584 607h4v4h-4zM936 607h4v4h-4zM936 611h4v4h-4zM936 615h4v4h-4zM588 619h4v4h-4zM588 623h4v4h-4zM588 627h4v4h-4zM936 627h4v4h-4zM592 631h4v4h-4zM936 631h4v4h-4zM592 635h8v4h-8zM596 639h16v4h-16zM932 639h4v4h-4zM616 643h4v4h-4zM620 647h4v4h-4zM928 647h4v4h-4zM616 651h8v4h-8zM928 651h4v4h-4zM608 655h8v4h-8zM924 655h4v4h-4zM604 659h4v4h-4zM872 659h4v4h-4zM920 659h4v4h-4zM600 663h8v4h-8zM832 663h8v4h-8zM848 663h24v4h-24zM880 663h36v4h-36zM600 667h4v4h-4zM828 667h28v4h-28zM600 671h4v4h-4zM832 671h8v4h-8zM844 671h12v4h-12zM600 675h4v4h-4zM848 675h8v4h-8zM600 679h4v4h-4zM848 679h8v4h-8zM596 683h8v4h-8zM848 683h4v4h-4zM596 687h8v4h-8zM848 687h4v4h-4zM596 691h8v4h-8zM848 691h4v4h-4z"/><path fill="#dbff1c" d="M816 543h8v4h-8zM840 543h8v4h-8zM964 543h4v4h-4zM812 547h4v4h-4zM852 547h8v4h-8zM960 547h4v4h-4zM808 551h4v4h-4zM864 551h8v4h-8zM804 555h4v4h-4zM876 555h4v4h-4zM936 555h4v4h-4zM804 559h4v4h-4zM920 559h4v4h-4zM944 559h4v4h-4zM956 559h4v4h-4zM800 563h4v4h-4zM956 563h4v4h-4zM800 567h4v4h-4zM956 567h4v4h-4zM796 571h8v4h-8zM956 571h4v4h-4zM592 575h48v4h-48zM772 575h28v4h-28zM944 575h4v4h-4zM588 579h104v4h-104zM752 579h36v4h-36zM944 579h4v4h-4zM960 579h4v4h-4zM588 583h8v4h-8zM692 583h64v4h-64zM940 583h4v4h-4zM588 587h4v4h-4zM932 587h8v4h-8zM588 591h4v4h-4zM928 591h8v4h-8zM588 595h4v4h-4zM928 595h4v4h-4zM588 599h4v4h-4zM928 599h4v4h-4zM588 603h4v4h-4zM928 603h4v4h-4zM588 607h4v4h-4zM932 607h4v4h-4zM588 611h4v4h-4zM932 611h4v4h-4zM588 615h4v4h-4zM592 619h4v4h-4zM936 619h4v4h-4zM592 623h4v4h-4zM936 623h4v4h-4zM592 627h8v4h-8zM596 631h8v4h-8zM932 631h4v4h-4zM600 635h12v4h-12zM932 635h4v4h-4zM612 639h8v4h-8zM620 643h8v4h-8zM928 643h4v4h-4zM624 647h4v4h-4zM624 651h4v4h-4zM652 651h8v4h-8zM924 651h4v4h-4zM616 655h12v4h-12zM920 655h4v4h-4zM608 659h16v4h-16zM820 659h52v4h-52zM876 659h44v4h-44zM608 663h8v4h-8zM792 663h40v4h-40zM840 663h8v4h-8zM604 667h12v4h-12zM800 667h28v4h-28zM604 671h12v4h-12zM804 671h28v4h-28zM840 671h4v4h-4zM604 675h8v4h-8zM820 675h28v4h-28zM604 679h8v4h-8zM824 679h24v4h-24zM604 683h8v4h-8zM836 683h12v4h-12zM604 687h8v4h-8zM840 687h8v4h-8zM604 691h8v4h-8zM836 691h12v4h-12z"/><path fill="#e0ff17" d="M824 543h16v4h-16zM816 547h4v4h-4zM848 547h4v4h-4zM812 551h4v4h-4zM860 551h4v4h-4zM960 551h4v4h-4zM808 555h4v4h-4zM872 555h4v4h-4zM808 559h4v4h-4zM884 559h36v4h-36zM924 559h20v4h-20zM804 563h8v4h-8zM944 563h4v4h-4zM804 567h4v4h-4zM944 567h4v4h-4zM804 571h4v4h-4zM944 571h4v4h-4zM800 575h8v4h-8zM940 575h4v4h-4zM960 575h4v4h-4zM788 579h20v4h-20zM932 579h12v4h-12zM964 579h4v4h-4zM596 583h96v4h-96zM756 583h48v4h-48zM924 583h16v4h-16zM592 587h192v4h-192zM920 587h12v4h-12zM592 591h12v4h-12zM920 591h8v4h-8zM592 595h8v4h-8zM920 595h8v4h-8zM592 599h8v4h-8zM924 599h4v4h-4zM592 603h8v4h-8zM924 603h4v4h-4zM592 607h8v4h-8zM928 607h4v4h-4zM592 611h8v4h-8zM928 611h4v4h-4zM592 615h8v4h-8zM932 615h4v4h-4zM596 619h8v4h-8zM932 619h4v4h-4zM596 623h12v4h-12zM932 623h4v4h-4zM600 627h12v4h-12zM932 627h4v4h-4zM604 631h12v4h-12zM612 635h8v4h-8zM928 635h4v4h-4zM620 639h8v4h-8zM928 639h4v4h-4zM628 643h4v4h-4zM924 643h4v4h-4zM628 647h4v4h-4zM648 647h12v4h-12zM812 647h12v4h-12zM924 647h4v4h-4zM628 651h4v4h-4zM648 651h4v4h-4zM660 651h4v4h-4zM804 651h32v4h-32zM920 651h4v4h-4zM628 655h4v4h-4zM648 655h16v4h-16zM796 655h124v4h-124zM624 659h8v4h-8zM784 659h36v4h-36zM616 663h16v4h-16zM784 663h8v4h-8zM616 667h12v4h-12zM788 667h12v4h-12zM616 671h12v4h-12zM792 671h12v4h-12zM612 675h16v4h-16zM796 675h24v4h-24zM612 679h16v4h-16zM796 679h28v4h-28zM612 683h16v4h-16zM796 683h40v4h-40zM612 687h16v4h-16zM796 687h44v4h-44zM612 691h16v4h-16zM796 691h40v4h-40z"/><path fill="#e5ff11" d="M820 547h8v4h-8zM844 547h4v4h-4zM964 547h4v4h-4zM816 551h4v4h-4zM856 551h4v4h-4zM812 555h4v4h-4zM868 555h4v4h-4zM960 555h4v4h-4zM812 559h4v4h-4zM880 559h4v4h-4zM960 559h4v4h-4zM812 563h4v4h-4zM904 563h40v4h-40zM960 563h4v4h-4zM808 567h8v4h-8zM924 567h20v4h-20zM960 567h4v4h-4zM808 571h8v4h-8zM932 571h12v4h-12zM960 571h4v4h-4zM808 575h8v4h-8zM924 575h16v4h-16zM964 575h4v4h-4zM808 579h8v4h-8zM920 579h12v4h-12zM804 583h12v4h-12zM916 583h8v4h-8zM784 587h28v4h-28zM912 587h8v4h-8zM604 591h204v4h-204zM912 591h8v4h-8zM600 595h108v4h-108zM744 595h56v4h-56zM912 595h8v4h-8zM600 599h20v4h-20zM680 599h12v4h-12zM760 599h8v4h-8zM916 599h8v4h-8zM600 603h12v4h-12zM920 603h4v4h-4zM600 607h8v4h-8zM924 607h4v4h-4zM600 611h8v4h-8zM600 615h12v4h-12zM928 615h4v4h-4zM604 619h8v4h-8zM608 623h8v4h-8zM612 627h8v4h-8zM928 627h4v4h-4zM616 631h8v4h-8zM808 631h4v4h-4zM928 631h4v4h-4zM620 635h8v4h-8zM804 635h24v4h-24zM628 639h4v4h-4zM800 639h32v4h-32zM924 639h4v4h-4zM632 643h4v4h-4zM652 643h4v4h-4zM796 643h40v4h-40zM632 647h8v4h-8zM644 647h4v4h-4zM660 647h8v4h-8zM796 647h16v4h-16zM824 647h16v4h-16zM920 647h4v4h-4zM632 651h16v4h-16zM664 651h4v4h-4zM792 651h12v4h-12zM836 651h84v4h-84zM632 655h8v4h-8zM644 655h4v4h-4zM664 655h4v4h-4zM784 655h12v4h-12zM632 659h4v4h-4zM652 659h8v4h-8zM780 659h4v4h-4zM632 663h4v4h-4zM780 663h4v4h-4zM628 667h8v4h-8zM780 667h8v4h-8zM628 671h4v4h-4zM788 671h4v4h-4zM628 675h4v4h-4zM792 675h4v4h-4zM628 679h4v4h-4zM792 679h4v4h-4zM628 683h4v4h-4zM792 683h4v4h-4zM628 687h4v4h-4zM792 687h4v4h-4zM628 691h4v4h-4zM792 691h4v4h-4z"/><path fill="#ebff0c" d="M828 547h16v4h-16zM820 551h8v4h-8zM852 551h4v4h-4zM964 551h4v4h-4zM816 555h8v4h-8zM864 555h4v4h-4zM964 555h4v4h-4zM816 559h4v4h-4zM872 559h8v4h-8zM964 559h4v4h-4zM816 563h4v4h-4zM884 563h20v4h-20zM964 563h4v4h-4zM816 567h4v4h-4zM908 567h16v4h-16zM964 567h4v4h-4zM816 571h4v4h-4zM916 571h16v4h-16zM964 571h4v4h-4zM816 575h8v4h-8zM916 575h8v4h-8zM816 579h8v4h-8zM912 579h8v4h-8zM816 583h8v4h-8zM908 583h8v4h-8zM812 587h12v4h-12zM904 587h8v4h-8zM808 591h16v4h-16zM904 591h8v4h-8zM708 595h36v4h-36zM800 595h20v4h-20zM904 595h8v4h-8zM620 599h60v4h-60zM692 599h68v4h-68zM768 599h48v4h-48zM912 599h4v4h-4zM612 603h88v4h-88zM748 603h60v4h-60zM916 603h4v4h-4zM608 607h80v4h-80zM760 607h44v4h-44zM920 607h4v4h-4zM608 611h20v4h-20zM924 611h4v4h-4zM612 615h16v4h-16zM800 615h16v4h-16zM612 619h16v4h-16zM796 619h28v4h-28zM928 619h4v4h-4zM616 623h16v4h-16zM796 623h32v4h-32zM928 623h4v4h-4zM620 627h12v4h-12zM792 627h40v4h-40zM624 631h12v4h-12zM792 631h16v4h-16zM812 631h24v4h-24zM628 635h12v4h-12zM788 635h16v4h-16zM828 635h8v4h-8zM924 635h4v4h-4zM632 639h24v4h-24zM788 639h12v4h-12zM832 639h8v4h-8zM636 643h16v4h-16zM656 643h12v4h-12zM784 643h12v4h-12zM836 643h8v4h-8zM920 643h4v4h-4zM640 647h4v4h-4zM668 647h4v4h-4zM784 647h12v4h-12zM840 647h80v4h-80zM668 651h4v4h-4zM780 651h12v4h-12zM640 655h4v4h-4zM668 655h4v4h-4zM744 655h12v4h-12zM772 655h12v4h-12zM636 659h16v4h-16zM660 659h8v4h-8zM744 659h16v4h-16zM764 659h16v4h-16zM636 663h28v4h-28zM768 663h12v4h-12zM636 667h4v4h-4zM772 667h8v4h-8zM632 671h8v4h-8zM776 671h12v4h-12zM632 675h8v4h-8zM780 675h12v4h-12zM632 679h8v4h-8zM784 679h8v4h-8zM632 683h8v4h-8zM784 683h8v4h-8zM632 687h8v4h-8zM784 687h8v4h-8zM632 691h8v4h-8zM784 691h8v4h-8z"/><path fill="#f0fe07" d="M828 551h8v4h-8zM844 551h8v4h-8zM824 555h4v4h-4zM856 555h8v4h-8zM820 559h4v4h-4zM868 559h4v4h-4zM820 563h4v4h-4zM880 563h4v4h-4zM820 567h4v4h-4zM888 567h20v4h-20zM820 571h8v4h-8zM904 571h12v4h-12zM824 575h4v4h-4zM908 575h8v4h-8zM824 579h8v4h-8zM904 579h8v4h-8zM824 583h8v4h-8zM900 583h8v4h-8zM824 587h16v4h-16zM896 587h8v4h-8zM824 591h28v4h-28zM892 591h12v4h-12zM820 595h36v4h-36zM896 595h8v4h-8zM816 599h36v4h-36zM900 599h12v4h-12zM700 603h48v4h-48zM808 603h40v4h-40zM912 603h4v4h-4zM688 607h16v4h-16zM744 607h16v4h-16zM804 607h40v4h-40zM916 607h4v4h-4zM628 611h68v4h-68zM756 611h84v4h-84zM920 611h4v4h-4zM628 615h60v4h-60zM760 615h40v4h-40zM816 615h20v4h-20zM924 615h4v4h-4zM628 619h56v4h-56zM764 619h32v4h-32zM824 619h12v4h-12zM924 619h4v4h-4zM632 623h48v4h-48zM764 623h32v4h-32zM828 623h8v4h-8zM924 623h4v4h-4zM632 627h44v4h-44zM768 627h24v4h-24zM832 627h8v4h-8zM924 627h4v4h-4zM636 631h36v4h-36zM768 631h24v4h-24zM836 631h4v4h-4zM924 631h4v4h-4zM640 635h32v4h-32zM768 635h20v4h-20zM836 635h8v4h-8zM920 635h4v4h-4zM656 639h16v4h-16zM768 639h20v4h-20zM840 639h8v4h-8zM920 639h4v4h-4zM668 643h4v4h-4zM772 643h12v4h-12zM844 643h60v4h-60zM908 643h12v4h-12zM672 647h4v4h-4zM768 647h16v4h-16zM672 651h4v4h-4zM696 651h12v4h-12zM760 651h20v4h-20zM672 655h4v4h-4zM696 655h12v4h-12zM740 655h4v4h-4zM756 655h16v4h-16zM668 659h4v4h-4zM740 659h4v4h-4zM760 659h4v4h-4zM664 663h4v4h-4zM744 663h24v4h-24zM640 667h28v4h-28zM764 667h8v4h-8zM640 671h28v4h-28zM768 671h8v4h-8zM640 675h28v4h-28zM768 675h12v4h-12zM640 679h28v4h-28zM768 679h16v4h-16zM640 683h28v4h-28zM768 683h16v4h-16zM640 687h28v4h-28zM764 687h20v4h-20zM640 691h28v4h-28zM764 691h20v4h-20z"/><path fill="#f5f802" d="M836 551h8v4h-8zM828 555h4v4h-4zM852 555h4v4h-4zM824 559h4v4h-4zM864 559h4v4h-4zM824 563h4v4h-4zM876 563h4v4h-4zM824 567h8v4h-8zM884 567h4v4h-4zM828 571h4v4h-4zM892 571h12v4h-12zM828 575h4v4h-4zM896 575h12v4h-12zM832 579h4v4h-4zM896 579h8v4h-8zM832 583h16v4h-16zM892 583h8v4h-8zM840 587h28v4h-28zM876 587h20v4h-20zM852 591h40v4h-40zM856 595h40v4h-40zM852 599h48v4h-48zM848 603h8v4h-8zM900 603h12v4h-12zM704 607h40v4h-40zM844 607h8v4h-8zM912 607h4v4h-4zM696 611h16v4h-16zM740 611h16v4h-16zM840 611h8v4h-8zM916 611h4v4h-4zM688 615h12v4h-12zM748 615h12v4h-12zM836 615h8v4h-8zM920 615h4v4h-4zM684 619h12v4h-12zM752 619h12v4h-12zM836 619h4v4h-4zM680 623h12v4h-12zM756 623h8v4h-8zM836 623h4v4h-4zM676 627h12v4h-12zM756 627h12v4h-12zM840 627h4v4h-4zM672 631h12v4h-12zM756 631h12v4h-12zM840 631h4v4h-4zM920 631h4v4h-4zM672 635h12v4h-12zM760 635h8v4h-8zM844 635h4v4h-4zM672 639h8v4h-8zM760 639h8v4h-8zM848 639h52v4h-52zM912 639h8v4h-8zM672 643h12v4h-12zM760 643h12v4h-12zM904 643h4v4h-4zM676 647h8v4h-8zM696 647h4v4h-4zM756 647h12v4h-12zM676 651h20v4h-20zM708 651h4v4h-4zM740 651h20v4h-20zM676 655h4v4h-4zM688 655h8v4h-8zM708 655h4v4h-4zM736 655h4v4h-4zM672 659h4v4h-4zM692 659h16v4h-16zM736 659h4v4h-4zM668 663h4v4h-4zM740 663h4v4h-4zM668 667h4v4h-4zM748 667h4v4h-4zM756 667h8v4h-8zM668 671h4v4h-4zM764 671h4v4h-4zM668 675h4v4h-4zM764 675h4v4h-4zM668 679h4v4h-4zM764 679h4v4h-4zM668 683h4v4h-4zM760 683h8v4h-8zM668 687h4v4h-4zM760 687h4v4h-4zM668 691h4v4h-4zM760 691h4v4h-4z"/><path fill="#faf200" d="M832 555h20v4h-20zM828 559h8v4h-8zM856 559h8v4h-8zM828 563h4v4h-4zM868 563h8v4h-8zM832 567h4v4h-4zM876 567h8v4h-8zM832 571h4v4h-4zM884 571h8v4h-8zM832 575h8v4h-8zM888 575h8v4h-8zM836 579h16v4h-16zM884 579h12v4h-12zM848 583h44v4h-44zM868 587h8v4h-8zM856 603h44v4h-44zM852 607h8v4h-8zM900 607h12v4h-12zM712 611h28v4h-28zM848 611h4v4h-4zM912 611h4v4h-4zM700 615h48v4h-48zM844 615h4v4h-4zM916 615h4v4h-4zM696 619h12v4h-12zM740 619h12v4h-12zM840 619h8v4h-8zM920 619h4v4h-4zM692 623h12v4h-12zM744 623h12v4h-12zM840 623h8v4h-8zM920 623h4v4h-4zM688 627h12v4h-12zM748 627h8v4h-8zM844 627h4v4h-4zM920 627h4v4h-4zM684 631h12v4h-12zM748 631h8v4h-8zM844 631h8v4h-8zM916 631h4v4h-4zM684 635h12v4h-12zM748 635h12v4h-12zM848 635h52v4h-52zM912 635h8v4h-8zM680 639h12v4h-12zM748 639h12v4h-12zM900 639h12v4h-12zM684 643h12v4h-12zM748 643h12v4h-12zM684 647h12v4h-12zM700 647h8v4h-8zM744 647h12v4h-12zM712 651h4v4h-4zM736 651h4v4h-4zM680 655h8v4h-8zM712 655h8v4h-8zM732 655h4v4h-4zM676 659h16v4h-16zM708 659h4v4h-4zM732 659h4v4h-4zM672 663h8v4h-8zM692 663h12v4h-12zM736 663h4v4h-4zM672 667h8v4h-8zM740 667h8v4h-8zM752 667h4v4h-4zM672 671h8v4h-8zM748 671h16v4h-16zM672 675h8v4h-8zM756 675h8v4h-8zM672 679h8v4h-8zM756 679h8v4h-8zM672 683h8v4h-8zM756 683h4v4h-4zM672 687h8v4h-8zM756 687h4v4h-4zM672 691h8v4h-8zM756 691h4v4h-4z"/><path fill="#ffec00" d="M836 559h20v4h-20zM832 563h8v4h-8zM860 563h8v4h-8zM836 567h4v4h-4zM872 567h4v4h-4zM836 571h8v4h-8zM876 571h8v4h-8zM840 575h16v4h-16zM876 575h12v4h-12zM852 579h32v4h-32zM860 607h40v4h-40zM852 611h8v4h-8zM900 611h12v4h-12zM848 615h8v4h-8zM912 615h4v4h-4zM708 619h32v4h-32zM848 619h4v4h-4zM916 619h4v4h-4zM704 623h40v4h-40zM848 623h4v4h-4zM916 623h4v4h-4zM700 627h12v4h-12zM736 627h12v4h-12zM848 627h8v4h-8zM916 627h4v4h-4zM696 631h12v4h-12zM736 631h12v4h-12zM852 631h48v4h-48zM912 631h4v4h-4zM696 635h8v4h-8zM740 635h8v4h-8zM900 635h12v4h-12zM692 639h12v4h-12zM740 639h8v4h-8zM696 643h12v4h-12zM740 643h8v4h-8zM708 647h8v4h-8zM736 647h8v4h-8zM716 651h20v4h-20zM720 655h12v4h-12zM712 659h8v4h-8zM728 659h4v4h-4zM680 663h12v4h-12zM704 663h4v4h-4zM732 663h4v4h-4zM680 667h20v4h-20zM736 667h4v4h-4zM680 671h20v4h-20zM736 671h12v4h-12zM680 675h20v4h-20zM736 675h20v4h-20zM680 679h20v4h-20zM736 679h20v4h-20zM680 683h20v4h-20zM736 683h20v4h-20zM680 687h20v4h-20zM736 687h20v4h-20zM680 691h20v4h-20zM736 691h20v4h-20z"/><path fill="#ffe600" d="M840 563h20v4h-20zM840 567h32v4h-32zM844 571h32v4h-32zM856 575h20v4h-20zM860 611h40v4h-40zM856 615h8v4h-8zM896 615h16v4h-16zM852 619h8v4h-8zM908 619h8v4h-8zM852 623h8v4h-8zM912 623h4v4h-4zM712 627h24v4h-24zM856 627h60v4h-60zM708 631h28v4h-28zM900 631h12v4h-12zM704 635h36v4h-36zM704 639h12v4h-12zM728 639h12v4h-12zM708 643h12v4h-12zM728 643h12v4h-12zM716 647h20v4h-20zM720 659h8v4h-8zM708 663h8v4h-8zM728 663h4v4h-4zM700 667h8v4h-8zM732 667h4v4h-4zM700 671h4v4h-4zM732 671h4v4h-4zM700 675h4v4h-4zM732 675h4v4h-4zM700 679h4v4h-4zM732 679h4v4h-4zM700 683h4v4h-4zM732 683h4v4h-4zM700 687h4v4h-4zM732 687h4v4h-4zM700 691h4v4h-4zM732 691h4v4h-4z"/><path fill="#ffe000" d="M864 615h32v4h-32zM860 619h48v4h-48zM860 623h52v4h-52zM716 639h12v4h-12zM720 643h8v4h-8zM716 663h12v4h-12zM708 667h8v4h-8zM724 667h8v4h-8zM704 671h4v4h-4zM728 671h4v4h-4zM704 675h4v4h-4zM728 675h4v4h-4zM704 679h4v4h-4zM728 679h4v4h-4zM704 683h4v4h-4zM728 683h4v4h-4zM704 687h4v4h-4zM728 687h4v4h-4zM704 691h4v4h-4zM728 691h4v4h-4z"/><path fill="#ffda00" d="M716 667h8v4h-8zM708 671h20v4h-20zM708 675h20v4h-20zM708 679h20v4h-20zM708 683h20v4h-20zM708 687h20v4h-20zM708 691h20v4h-20z"/></g></g><defs><radialGradient id="hs0"><stop offset="0" stop-color="#ff1c00" stop-opacity="1"/><stop offset="0.45" stop-color="#ff1c00" stop-opacity="0.8"/><stop offset="1" stop-color="#ff1c00" stop-opacity="0"/></radialGradient><radialGradient id="hs1"><stop offset="0" stop-color="#ff7b00" stop-opacity="1"/><stop offset="0.45" stop-color="#ff7b00" stop-opacity="0.8"/><stop offset="1" stop-color="#ff7b00" stop-opacity="0"/></radialGradient><radialGradient id="hs2"><stop offset="0" stop-color="#ff5500" stop-opacity="1"/><stop offset="0.45" stop-color="#ff5500" stop-opacity="0.8"/><stop offset="1" stop-color="#ff5500" stop-opacity="0"/></radialGradient><radialGradient id="hs3"><stop offset="0" stop-color="#ffec00" stop-opacity="1"/><stop offset="0.45" stop-color="#ffec00" stop-opacity="0.8"/><stop offset="1" stop-color="#ffec00" stop-opacity="0"/></radialGradient><radialGradient id="hs4"><stop offset="0" stop-color="#efff08" stop-opacity="1"/><stop offset="0.45" stop-color="#efff08" stop-opacity="0.8"/><stop offset="1" stop-color="#efff08" stop-opacity="0"/></radialGradient><radialGradient id="hs5"><stop offset="0" stop-color="#ffa100" stop-opacity="1"/><stop offset="0.45" stop-color="#ffa100" stop-opacity="0.8"/><stop offset="1" stop-color="#ffa100" stop-opacity="0"/></radialGradient><radialGradient id="hs6"><stop offset="0" stop-color="#ffb300" stop-opacity="1"/><stop offset="0.45" stop-color="#ffb300" stop-opacity="0.8"/><stop offset="1" stop-color="#ffb300" stop-opacity="0"/></radialGradient><radialGradient id="hs7"><stop offset="0" stop-color="#ff8e00" stop-opacity="1"/><stop offset="0.45" stop-color="#ff8e00" stop-opacity="0.8"/><stop offset="1" stop-color="#ff8e00" stop-opacity="0"/></radialGradient><radialGradient id="hs8"><stop offset="0" stop-color="#ffa100" stop-opacity="1"/><stop offset="0.45" stop-color="#ffa100" stop-opacity="0.8"/><stop offset="1" stop-color="#ffa100" stop-opacity="0"/></radialGradient><radialGradient id="hs9"><stop offset="0" stop-color="#ff6800" stop-opacity="1"/><stop offset="0.45" stop-color="#ff6800" stop-opacity="0.8"/><stop offset="1" stop-color="#ff6800" stop-opacity="0"/></radialGradient><radialGradient id="hs10"><stop offset="0" stop-color="#ffec00" stop-opacity="1"/><stop offset="0.45" stop-color="#ffec00" stop-opacity="0.8"/><stop offset="1" stop-color="#ffec00" stop-opacity="0"/></radialGradient><radialGradient id="hs11"><stop offset="0" stop-color="#efff08" stop-opacity="1"/><stop offset="0.45" stop-color="#efff08" stop-opacity="0.8"/><stop offset="1" stop-color="#efff08" stop-opacity="0"/></radialGradient><radialGradient id="hs12"><stop offset="0" stop-color="#ff4200" stop-opacity="1"/><stop offset="0.45" stop-color="#ff4200" stop-opacity="0.8"/><stop offset="1" stop-color="#ff4200" stop-opacity="0"/></radialGradient><radialGradient id="hs13"><stop offset="0" stop-color="#ff2f00" stop-opacity="1"/><stop offset="0.45" stop-color="#ff2f00" stop-opacity="0.8"/><stop offset="1" stop-color="#ff2f00" stop-opacity="0"/></radialGradient><radialGradient id="hs14"><stop offset="0" stop-color="#ff2f00" stop-opacity="1"/><stop offset="0.45" stop-color="#ff2f00" stop-opacity="0.8"/><stop offset="1" stop-color="#ff2f00" stop-opacity="0"/></radialGradient><radialGradient id="hs15"><stop offset="0" stop-color="#efff08" stop-opacity="1"/><stop offset="0.45" stop-color="#efff08" stop-opacity="0.8"/><stop offset="1" stop-color="#efff08" stop-opacity="0"/></radialGradient><radialGradient id="hs16"><stop offset="0" stop-color="#ff5500" stop-opacity="1"/><stop offset="0.45" stop-color="#ff5500" stop-opacity="0.8"/><stop offset="1" stop-color="#ff5500" stop-opacity="0"/></radialGradient><radialGradient id="hs17"><stop offset="0" stop-color="#ff8e00" stop-opacity="1"/><stop offset="0.45" stop-color="#ff8e00" stop-opacity="0.8"/><stop offset="1" stop-color="#ff8e00" stop-opacity="0"/></radialGradient><radialGradient id="hs18"><stop offset="0" stop-color="#ffa100" stop-opacity="1"/><stop offset="0.45" stop-color="#ffa100" stop-opacity="0.8"/><stop offset="1" stop-color="#ffa100" stop-opacity="0"/></radialGradient><radialGradient id="hs19"><stop offset="0" stop-color="#ff8e00" stop-opacity="1"/><stop offset="0.45" stop-color="#ff8e00" stop-opacity="0.8"/><stop offset="1" stop-color="#ff8e00" stop-opacity="0"/></radialGradient><radialGradient id="hs20"><stop offset="0" stop-color="#ffc600" stop-opacity="1"/><stop offset="0.45" stop-color="#ffc600" stop-opacity="0.8"/><stop offset="1" stop-color="#ffc600" stop-opacity="0"/></radialGradient><radialGradient id="hs21"><stop offset="0" stop-color="#ffa100" stop-opacity="1"/><stop offset="0.45" stop-color="#ffa100" stop-opacity="0.8"/><stop offset="1" stop-color="#ffa100" stop-opacity="0"/></radialGradient><radialGradient id="hs22"><stop offset="0" stop-color="#efff08" stop-opacity="1"/><stop offset="0.45" stop-color="#efff08" stop-opacity="0.8"/><stop offset="1" stop-color="#efff08" stop-opacity="0"/></radialGradient><radialGradient id="hs23"><stop offset="0" stop-color="#efff08" stop-opacity="1"/><stop offset="0.45" stop-color="#efff08" stop-opacity="0.8"/><stop offset="1" stop-color="#efff08" stop-opacity="0"/></radialGradient><radialGradient id="hs24"><stop offset="0" stop-color="#ffec00" stop-opacity="1"/><stop offset="0.45" stop-color="#ffec00" stop-opacity="0.8"/><stop offset="1" stop-color="#ffec00" stop-opacity="0"/></radialGradient><radialGradient id="hs25"><stop offset="0" stop-color="#ffec00" stop-opacity="1"/><stop offset="0.45" stop-color="#ffec00" stop-opacity="0.8"/><stop offset="1" stop-color="#ffec00" stop-opacity="0"/></radialGradient><radialGradient id="hs26"><stop offset="0" stop-color="#ffec00" stop-opacity="1"/><stop offset="0.45" stop-color="#ffec00" stop-opacity="0.8"/><stop offset="1" stop-color="#ffec00" stop-opacity="0"/></radialGradient><radialGradient id="hs27"><stop offset="0" stop-color="#ffc600" stop-opacity="1"/><stop offset="0.45" stop-color="#ffc600" stop-opacity="0.8"/><stop offset="1" stop-color="#ffc600" stop-opacity="0"/></radialGradient><radialGradient id="hs28"><stop offset="0" stop-color="#ffc600" stop-opacity="1"/><stop offset="0.45" stop-color="#ffc600" stop-opacity="0.8"/><stop offset="1" stop-color="#ffc600" stop-opacity="0"/></radialGradient></defs><g clip-path="url(#dm)"><circle cx="713" cy="511" r="5.5" fill="url(#hs0)"/><circle cx="720" cy="506" r="4" fill="url(#hs1)"/><circle cx="673" cy="490" r="4.5" fill="url(#hs2)"/><circle cx="644" cy="487" r="3.5" fill="url(#hs3)"/><circle cx="663" cy="468" r="3.5" fill="url(#hs4)"/><circle cx="781" cy="450" r="4" fill="url(#hs5)"/><circle cx="790" cy="488" r="3.5" fill="url(#hs6)"/><circle cx="796" cy="492" r="4" fill="url(#hs7)"/><circle cx="836" cy="502" r="4" fill="url(#hs8)"/><circle cx="861" cy="322" r="4.5" fill="url(#hs9)"/><circle cx="897" cy="347" r="3.5" fill="url(#hs10)"/><circle cx="880" cy="384" r="3.5" fill="url(#hs11)"/><circle cx="583" cy="518" r="4" fill="url(#hs12)"/><circle cx="556" cy="596" r="3.5" fill="url(#hs13)"/><circle cx="553" cy="608" r="3.5" fill="url(#hs14)"/><circle cx="810" cy="337" r="3.5" fill="url(#hs15)"/><circle cx="873" cy="628" r="4" fill="url(#hs16)"/><circle cx="900" cy="638" r="3.5" fill="url(#hs17)"/><circle cx="927" cy="636" r="3.5" fill="url(#hs18)"/><circle cx="958" cy="535" r="4" fill="url(#hs19)"/><circle cx="941" cy="520" r="3.5" fill="url(#hs20)"/><circle cx="267" cy="581" r="3.5" fill="url(#hs21)"/><circle cx="328" cy="620" r="3" fill="url(#hs22)"/><circle cx="343" cy="617" r="3" fill="url(#hs23)"/><circle cx="771" cy="446" r="3" fill="url(#hs24)"/><circle cx="808" cy="496" r="3" fill="url(#hs25)"/><circle cx="852" cy="466" r="3" fill="url(#hs26)"/><circle cx="905" cy="617" r="3" fill="url(#hs27)"/><circle cx="880" cy="612" r="3" fill="url(#hs28)"/></g><g clip-path="url(#dm)"><path d="M306.5 84.0V759.5M473.5 84.0V759.5M640.5 84.0V759.5M807.5 84.0V759.5M148.0 111.5H965.0M148.0 265.5H965.0M148.0 413.5H965.0M148.0 557.5H965.0M148.0 698.5H965.0" stroke="rgba(0,0,0,0.3)" stroke-width="1" stroke-dasharray="3 5.3" fill="none"/></g><g fill="#6c4604"><polygon points="485,187 492,186 497,188 500,192 499,198 497,203 493,207 489,210 485,208 484,203 486,198 484,193 485,187"/><polygon points="466.4,208 472,206.4 478,208 482,212 481,217 476,219 470,218 467,214 466.4,208"/><polygon points="745,385 752,383 760,382 766,384 764,389 756,392 748,393 744,390 745,385"/><polygon points="881,405 887,408 889,416 887,423 882,425 879,418 880,411 881,405"/><polygon points="896,315 903,317 905,324 900,330 897,326 896,315"/></g><path d="M510.3 700.0 512.9 697.7 515.1 695.1 517.1 692.3 519.1 689.8 521.0 687.3 523.3 685.1 525.3 682.6 527.4 680.3 528.3 676.9 528.3 673.4 529.1 670.0 529.8 666.6 530.6 663.2 531.7 659.8 531.9 656.3 532.6 652.9 533.8 649.4 535.7 646.2 536.9 642.6 538.1 639.6 538.7 636.5 540.5 633.8 541.1 630.6 543.0 627.7 544.2 624.6 545.7 621.5 546.4 618.1 548.0 615.1 548.6 612.1 549.1 609.1 549.1 606.1 549.2 603.0 549.5 600.0 549.4 596.8 550.2 593.7 550.8 590.6 551.5 587.5 551.4 584.3 553.6 581.7 554.8 578.6 556.6 575.7 554.3 572.0 551.4 568.9 553.2 566.4 555.7 564.5 557.4 562.0 557.8 558.4 558.0 554.7 559.1 551.1 561.3 548.0 563.4 545.6 564.9 542.7 566.9 540.2 569.8 537.9 572.2 535.1 574.7 532.4 576.1 529.1 578.4 526.5 580.3 523.5 581.8 520.3 582.5 516.8 580.3 512.3 578.5 509.5 577.1 506.5 575.8 503.4 570.3 501.2 566.3 501.9 562.5 503.4 560.2 505.6 556.8 505.2 553.6 504.1 550.2 503.4 546.2 502.6 542.4 501.2 539.1 500.2 535.7 500.3 532.4 502.3 526.8 502.3 522.8 502.8 519.0 504.0 514.6 506.8 511.4 507.4 508.3 508.4 505.1 508.7 501.9 509.0 498.6 509.1 495.6 510.6 492.3 510.7 488.7 511.3 485.0 511.8 481.4 512.7 477.8 513.4 474.8 514.3 472.1 515.8 469.3 517.1 466.5 518.4 464.3 520.5 461.9 522.3 460.3 525.7 459.0 529.3 457.4 532.7 457.3 536.0 457.5 539.2 457.3 542.5 457.7 545.7 457.4 549.0 457.6 552.4 457.4 555.7 456.7 559.0 456.7 562.4 454.3 564.7 452.3 567.4 450.0 569.8 450.5 572.8 449.7 575.8 450.0 578.8 447.0 583.2 444.1 584.7 441.5 586.5 439.0 588.5 436.6 590.7 433.7 592.1 431.0 593.8 428.5 596.0 426.0 597.9 423.2 599.6 420.1 600.8 417.4 602.8 414.3 604.0 410.6 603.6 406.9 604.0 403.2 603.8 399.4 603.9 395.7 604.5 392.0 604.8 388.1 605.4 384.6 607.0 381.6 610.0 378.6 610.8 375.7 611.9 372.6 612.6 369.7 613.7 366.3 612.8 362.8 612.7 359.3 612.9 355.7 614.1 352.6 616.4 348.9 617.4 345.9 617.8 343.0 618.4 340.0 618.9 335.6 621.8 332.2 622.5 328.8 623.1 325.5 624.3 320.5 621.8 318.6 619.0 317.4 615.8 315.5 613.0 311.7 609.2 308.5 609.7 305.4 609.2 302.7 606.9 300.4 604.2 297.0 603.6 293.6 603.9 290.2 603.1 286.8 603.7 283.4 603.0 279.0 601.0 276.5 598.5 274.6 595.4 272.6 592.7 270.2 590.4 269.6 586.6 265.9 585.2 262.7 582.8 262.0 579.4 261.5 576.0 260.2 572.8 259.6 569.0 258.9 565.2 257.1 562.6 254.5 560.6 253.1 557.6 251.1 555.1 249.1 552.6 247.0 550.2 244.6 547.6 242.3 544.8 240.1 542.0 238.5 538.9 235.5 536.9 233.8 533.8 231.8 530.6 231.5 526.7 229.2 523.6 228.1 520.0 227.1 515.9 227.0 511.6 225.4 508.4 225.9 505.1 227.0 502.0 224.9 499.3 222.2 497.2 220.5 493.7 217.5 491.1 215.8 487.6 214.1 483.6 212.6 479.6 211.8 476.4 211.7 473.2 211.3 470.0 211.5 466.8 211.0 463.6 212.0 460.3 213.4 457.2 213.2 454.2 213.8 451.2 213.4 448.1 213.6 445.1 214.9 442.1 214.1 439.0 214.5 436.0 215.1 433.0 215.0 430.0 215.3 427.0 215.3 424.0 214.3 421.0 214.8 418.0 215.1 415.0 213.9 412.0 214.5 409.0 214.2 406.0 214.9 402.8 214.7 399.6 214.9 396.4 215.6 393.2 215.8 390.0 216.8 386.6 217.6 383.2 219.0 380.0 220.3 376.3 221.6 372.5 223.0 368.8 225.9 365.7 228.6 362.4 229.7 359.2 230.6 355.9 231.8 352.7 233.5 349.7 234.2 346.4 233.9 343.2 234.3 340.0 233.6 336.8 234.2 333.6 233.5 329.9 232.0 326.5 230.7 322.9 230.2 319.2 228.9 315.5 227.8 311.8 227.0 308.0 227.3 304.8 226.4 301.6 226.1 298.4 226.2 295.2 227.2 291.9 228.6 288.8 230.7 286.4 231.9 283.5 233.4 280.8 235.1 278.2 236.8 275.6 238.2 272.8 240.2 270.0 242.4 267.4 244.6 264.8 247.1 262.5 249.4 260.0 251.5 257.6 254.1 255.8 256.6 254.0 259.0 252.0 261.6 250.3 264.4 248.6 267.0 246.5 270.1 245.2 272.6 243.1 275.3 241.2 278.0 239.8 280.7 238.5 283.6 237.6 286.2 236.0 289.0 234.8 292.8 232.7 296.4 230.2 298.1 227.7 300.6 225.9 302.8 223.8 305.0 221.4 307.4 219.2 310.1 217.4 313.4 214.6 316.7 211.8 320.1 209.9 323.5 208.1 326.8 206.2 330.3 205.0 333.7 203.7 336.8 201.8 339.8 201.2 342.7 200.4 345.7 200.1 349.4 199.3 353.2 199.0 356.8 197.9 361.2 198.6 365.7 198.4 369.3 199.9 373.3 200.3 376.9 201.8 379.7 203.5 382.8 204.1 385.8 205.1 389.2 205.3 392.4 206.8 395.8 207.3 398.8 206.7 401.4 205.1 404.7 203.9 408.1 202.9 412.5 199.5 414.8 199.2 418.4 202.8 422.0 206.4 425.6 208.8 428.0 211.2 430.4 215.4 434.0 218.4 436.3 220.4 438.8 222.0 442.4 225.6 446.0 224.4 448.3 222.4 450.8 220.8 454.4 217.2 459.2 217.2 461.6 219.6 464.0 224.4 467.6 223.2 472.4 220.8 474.6 218.7 477.2 217.2 482.0 217.2 486.8 218.4 491.6 220.8 496.4 224.4 498.8 226.8 502.4 224.4 506.0 222.0 507.2 219.6 504.8 217.2 501.2 214.8 496.4 212.4 492.8 208.8 489.2 206.4 486.8 204.0 487.1 201.0 486.8 198.0 489.2 194.4 491.2 192.1 494.0 190.8 498.8 188.4 500.0 184.8 497.6 182.4 494.0 183.6 489.2 186.0 484.4 184.8 482.0 182.4 M482.0 182.4 486.8 180.0 490.3 178.4 494.0 177.6 497.7 177.4 501.2 176.4 504.9 176.1 508.4 175.2 512.0 174.3 515.6 174.0 519.8 174.9 524.0 175.8 528.2 176.0 532.4 176.4 537.2 176.4 538.3 172.2 539.0 168.0 539.6 164.4 539.6 160.8 542.0 164.4 543.1 167.3 543.2 170.4 544.4 173.9 544.4 177.6 550.0 178.2 554.0 178.8 557.1 178.4 560.0 177.2 563.1 176.9 566.0 175.8 568.9 174.9 572.0 175.1 575.0 175.2 578.0 174.6 581.0 174.0 584.1 174.5 587.0 174.2 590.0 173.4 593.6 173.1 597.2 174.0 600.6 174.7 603.6 176.4 606.8 177.6 609.8 179.7 613.3 180.7 616.4 182.4 619.4 184.1 622.1 186.3 624.8 188.4 627.7 191.7 629.6 195.6 629.3 198.7 628.4 201.6 631.4 201.5 634.4 201.6 638.0 202.2 641.6 202.8 644.2 200.9 647.0 199.3 650.0 198.0 653.0 195.7 656.4 194.0 659.6 192.0 661.8 189.8 664.0 187.6 666.8 186.0 669.8 186.4 672.8 186.0 675.4 187.7 678.0 189.3 680.8 190.8 683.7 193.5 685.7 197.1 688.8 199.6 690.9 202.3 693.6 204.4 695.2 208.4 698.7 210.4 701.6 213.2 703.8 217.1 705.6 221.2 709.2 221.9 712.8 222.0 714.2 225.6 715.5 229.2 717.6 232.4 718.5 236.4 719.2 240.4 718.2 243.5 717.7 246.8 717.5 250.0 716.5 253.2 716.0 256.4 714.5 259.5 713.5 262.7 712.8 266.0 713.3 269.2 713.8 272.4 714.4 275.6 716.0 278.6 716.8 281.9 717.6 285.2 718.9 288.6 720.9 291.6 722.4 294.8 724.3 297.3 725.5 300.2 727.2 302.8 728.6 306.5 730.4 310.0 732.6 311.4 734.1 314.8 736.1 318.0 737.6 321.4 740.8 322.6 743.9 324.0 744.7 327.8 745.2 331.6 746.4 335.3 747.6 338.4 748.9 341.5 751.9 343.1 754.8 344.9 757.7 346.6 761.7 347.9 765.3 350.3 767.8 355.4 768.7 358.7 768.4 362.1 769.0 365.4 769.1 368.7 770.3 371.7 773.4 372.5 776.6 373.0 781.0 372.2 785.4 371.7 789.0 370.1 792.9 369.2 795.4 366.7 797.9 364.2 799.7 360.6 800.5 356.6 801.2 353.3 801.3 349.9 801.7 346.6 802.7 343.5 802.6 340.2 803.6 337.2 804.2 334.0 805.2 330.9 805.1 327.7 805.4 324.5 805.6 321.4 806.3 318.3 806.7 315.1 806.8 311.7 805.3 308.5 805.5 305.1 804.1 301.8 802.4 298.6 800.4 295.6 799.8 292.4 798.6 289.4 797.6 286.3 796.2 283.3 794.9 279.9 793.6 276.4 792.1 273.1 790.8 269.6 788.9 266.4 788.5 262.6 786.8 259.3 785.3 255.9 786.6 250.4 788.7 247.6 786.7 244.4 785.3 240.8 783.7 238.0 782.1 235.3 780.4 232.6 778.7 229.9 777.3 227.0 775.7 224.3 774.7 221.3 773.5 218.4 772.1 215.5 770.4 212.7 769.5 209.7 768.2 206.8 767.4 203.7 766.4 200.2 765.6 196.7 764.4 193.3 763.0 190.0 762.9 186.5 762.5 183.0 761.4 179.5 761.3 176.0 761.2 172.5 760.5 169.1 759.2 165.8 759.2 162.3 758.3 158.2 758.5 154.1 757.7 150.9 758.3 147.7 757.8 144.5 758.9 140.3 760.6 136.2 761.5 132.9 763.5 130.1 764.6 126.9 766.1 123.9 768.0 120.8 770.3 118.2 772.9 115.7 774.8 113.0 776.2 109.9 778.4 107.4 780.5 104.9 783.2 103.0 785.3 100.6 787.5 98.3 789.7 95.9 792.1 93.7 794.9 92.1 797.3 90.0 800.4 88.9 803.1 87.2 805.8 85.6 808.6 84.1 812.7 80.0 M140.0 666.3 142.2 668.9 144.8 671.0 147.7 672.7 151.0 672.8 154.2 673.5 157.3 675.0 160.6 675.3 163.5 676.3 166.6 676.9 169.7 677.2 172.6 678.3 175.6 679.0 178.6 679.6 181.1 682.0 184.0 683.9 186.3 686.5 188.8 688.9 192.1 689.6 195.2 690.7 198.3 691.8 201.7 692.0 204.0 694.1 206.8 695.3 209.5 696.9 212.2 698.3 214.6 700.2 217.8 700.1 220.8 700.5 223.8 701.4 226.9 701.7 230.0 702.3 233.5 703.4 236.7 705.3 240.3 706.1 243.4 707.2 246.4 708.2 249.6 708.9 252.8 709.7 255.7 711.3 259.1 710.7 262.5 710.0 266.0 710.0 269.1 708.7 272.4 708.0 275.3 706.3 278.2 704.4 281.4 703.5 284.8 702.3 288.0 700.6 291.1 699.0 294.2 697.1 297.9 695.7 301.2 693.6 304.5 691.5 307.6 691.8 310.7 691.3 313.8 692.1 316.9 692.1 320.0 691.5 323.3 691.9 326.3 693.3 329.5 694.1 332.8 694.6 336.0 695.8 339.2 697.2 342.5 698.4 345.7 699.7 347.9 702.2 350.8 704.0 353.1 706.4 356.1 708.1 358.2 710.7 361.1 712.5 363.0 715.1 365.5 716.9 367.6 719.2 369.5 721.7 371.9 723.8 374.3 725.8 376.5 728.0 378.9 730.0 381.0 732.3 382.9 734.8 385.6 736.5 387.2 739.3 389.9 741.0 391.9 743.4 394.2 745.9 397.2 747.5 399.3 750.2 402.1 752.1 404.8 754.1 407.4 756.2 410.0 757.9 412.4 759.8 415.0 761.4 417.8 762.9 420.4 764.5 422.8 766.5 M510.3 700.0 511.0 698.6 514.3 701.5 517.2 704.8 520.3 703.3 523.4 701.7 526.6 703.6 529.5 705.9 532.6 707.9 535.7 707.3 538.7 705.8 541.8 705.0 545.0 704.8 548.0 705.7 551.2 705.5 554.2 706.3 557.3 706.0 560.4 706.9 563.5 706.3 566.5 706.7 569.6 706.3 572.7 706.3 575.8 706.2 578.8 705.4 582.0 705.7 585.1 705.7 588.1 705.1 591.2 704.8 594.4 704.0 597.4 702.9 600.3 701.2 603.6 701.0 606.7 699.7 609.7 698.6 612.9 699.3 616.1 699.9 618.9 701.8 622.1 702.2 625.2 703.2 628.3 702.7 631.5 702.1 634.5 701.1 637.5 700.1 640.5 701.2 643.7 701.2 646.7 702.2 649.9 702.4 652.8 703.6 655.9 704.1 659.2 703.7 662.2 704.8 665.0 706.2 667.5 708.1 669.6 710.7 672.5 711.9 674.9 713.9 677.6 715.6 680.8 717.3 683.8 719.5 687.0 721.3 690.0 723.3 692.4 725.5 694.5 728.0 696.8 730.3 699.2 732.5 696.5 735.3 694.6 738.7 694.6 741.8 694.6 744.9 694.9 748.0 695.0 751.1 695.6 754.1 696.1 757.2 696.5 760.8 695.7 764.4 696.1 768.0 M512.6 706.3 510.5 708.9 508.0 711.0 505.1 712.6 501.8 713.4 498.8 714.8 495.6 715.6 494.0 720.2 497.8 718.9 501.8 718.7 504.8 716.5 508.2 715.0 511.0 712.5 M642.4 491.2 647.5 488.3 650.9 487.5 654.4 486.6 657.7 485.4 658.7 481.8 659.1 478.0 659.9 472.2 662.9 470.7 665.4 468.6 667.9 466.4 670.8 464.6 672.6 461.6 675.5 459.8 678.1 457.7 681.5 457.1 684.7 455.7 688.1 454.9 691.2 453.3 695.0 451.9 698.9 451.3 702.8 450.4 707.1 449.4 711.6 448.9 715.5 448.0 719.4 447.1 723.2 446.0 727.5 444.7 732.0 444.6 735.9 444.3 739.7 444.3 743.6 444.6 747.4 445.6 751.4 445.8 755.3 446.0 761.1 444.6 765.3 443.1 769.8 442.4 775.7 441.7 779.3 442.8 783.0 443.1 786.7 443.4 790.2 444.6 793.2 445.9 796.4 446.5 799.5 447.6 802.3 449.3 805.2 451.2 808.7 452.0 811.8 453.6 814.7 455.4 817.4 457.9 820.6 459.9 823.9 461.6 827.1 462.1 830.0 463.7 833.2 464.0 836.3 464.7 839.4 465.2 842.5 464.9 845.5 466.1 848.6 466.1 851.7 466.2 854.6 467.9 857.7 468.9 861.0 469.4 864.0 470.8 867.2 472.6 870.4 474.4 873.5 476.3 876.4 478.6 879.1 480.5 881.2 483.0 883.2 485.6 885.6 487.8 888.4 489.2 890.4 491.7 893.2 493.2 895.7 495.1 898.0 497.1 900.8 500.0 904.1 502.2 907.2 504.8 910.4 506.7 913.4 508.9 916.5 511.0 919.5 512.0 922.8 512.0 925.6 513.8 928.8 514.0 932.2 515.1 934.9 517.4 938.1 518.7 941.2 519.1 944.2 518.1 947.3 519.0 950.4 518.7 952.1 521.7 953.5 524.8 951.1 527.8 948.9 531.0 952.9 531.2 956.6 532.5 960.1 532.5 963.6 533.1 967.0 534.0 M642.4 491.2 642.4 492.6 645.8 493.7 649.2 494.4 652.8 494.8 656.2 495.5 659.7 493.1 663.5 491.2 667.7 489.9 672.2 489.7 673.9 486.1 675.2 482.4 678.5 481.6 681.8 481.3 685.0 480.1 688.3 479.5 691.3 478.8 694.0 477.3 697.0 476.6 700.1 474.4 703.0 471.9 705.7 469.3 708.6 466.8 711.6 464.5 714.5 462.0 717.9 462.0 721.3 461.2 724.7 461.3 728.3 461.5 731.9 462.0 735.6 461.5 739.2 462.0 742.5 463.3 745.9 464.2 749.4 465.0 752.4 469.3 749.3 470.0 746.5 471.5 742.2 472.0 737.8 472.2 739.7 474.9 740.7 478.0 743.5 479.3 746.4 480.3 749.4 481.0 752.4 481.9 755.4 482.5 758.2 483.9 762.6 484.3 766.9 485.4 767.5 481.7 767.7 478.0 769.0 480.9 769.8 483.9 772.6 485.2 775.7 485.4 779.3 485.5 783.0 485.0 786.6 485.6 790.2 485.4 793.3 487.3 796.2 489.4 799.0 491.9 802.1 493.9 805.4 495.5 808.5 496.7 811.5 498.0 814.6 499.2 817.8 500.2 821.3 501.1 824.9 501.8 828.6 501.7 832.5 501.1 836.3 501.7 839.9 501.0 843.5 500.8 847.1 500.2 850.2 504.8 852.7 506.9 854.8 509.4 855.7 513.0 857.3 516.5 857.9 520.2 859.6 523.0 861.9 525.4 864.0 527.9 867.3 528.6 870.1 530.4 873.4 531.1 876.4 532.5 879.5 532.1 882.5 532.5 885.6 532.1 888.7 532.5 891.9 532.7 894.8 534.0 898.0 534.1 900.9 537.4 904.1 540.3 903.9 544.3 902.6 548.0 899.4 549.3 896.4 551.1 892.8 553.9 888.7 555.7 885.6 560.0 M825.5 518.7 828.3 520.5 831.1 522.2 833.5 524.6 836.3 526.4 839.6 527.5 842.4 529.5 845.6 530.8 848.6 532.5 851.9 533.2 854.8 534.9 858.1 535.5 861.0 537.2 866.0 536.0 M704.3 491.2 707.8 489.4 711.6 488.3 715.0 490.3 718.9 491.2 720.3 494.0 720.6 497.1 721.8 500.0 720.0 502.8 717.4 505.0 713.1 505.7 708.7 505.7 705.4 503.0 701.4 501.4 703.3 499.0 705.7 497.0 704.3 491.2 M723.2 501.4 727.1 501.6 731.0 501.7 734.9 502.1 738.7 501.0 742.7 501.1 746.5 500.0 750.1 499.0 753.8 499.3 757.5 499.4 761.1 498.5 764.5 498.2 767.9 499.0 771.3 499.2 M862.3 618.6 864.1 613.2 867.8 613.0 871.4 612.6 875.1 612.5 878.8 612.2 882.4 610.4 886.1 610.3 889.7 611.2 893.3 611.5 897.0 611.3 900.2 612.2 903.5 612.3 906.6 613.3 909.8 614.0 912.7 616.1 915.3 618.6 918.6 619.5 921.5 621.4 924.7 622.6 928.1 623.2 930.4 626.1 931.8 629.6 934.5 632.4 931.1 632.6 927.8 633.5 924.5 634.2 920.8 633.1 917.1 632.0 913.5 630.5 910.6 632.6 908.0 635.1 906.2 638.8 900.7 638.8 897.0 635.1 893.3 634.7 889.7 634.0 886.1 633.6 882.4 633.3 879.1 631.2 876.5 628.2 873.3 626.0 870.5 623.9 867.4 622.4 864.1 621.4 862.3 618.6 M944.2 457.0 946.1 454.6 948.2 452.4 950.4 450.4 952.0 447.7 955.1 446.6 958.1 445.6 961.2 444.6 M944.2 458.5 944.6 461.6 944.8 464.7 945.2 467.8 945.8 470.8 947.5 473.3 949.0 475.9 950.0 478.8 951.2 481.6 M840.4 314.0 843.4 315.8 846.0 318.2 849.0 320.0 852.3 320.6 855.6 321.1 859.0 321.0 861.9 319.6 864.9 318.7 868.0 318.0 871.9 317.1 876.0 317.0 876.7 313.9 878.0 311.0 M859.8 293.6 862.9 294.6 865.6 296.8 868.6 298.0 871.1 299.9 873.4 302.0 876.3 303.3 879.6 303.7 882.8 304.3 886.0 305.3 889.1 307.4 892.4 309.3 895.8 311.0 M893.8 313.0 896.5 314.5 899.8 314.4 902.5 316.3 905.5 317.0 907.3 319.7 908.4 322.7 906.4 326.4 905.5 330.5 904.1 334.7 901.6 338.3 899.2 341.9 897.7 346.0 895.9 343.0 893.8 340.2 897.1 337.6 899.7 334.4 899.6 331.0 898.1 328.0 897.7 324.7 896.5 321.8 896.0 318.8 894.5 316.0 893.8 313.0 M866.6 367.4 869.7 370.2 872.5 373.3 874.0 376.2 875.5 379.1 876.9 382.0 878.3 385.0 880.3 387.5 882.0 390.2 884.1 392.7 884.4 396.1 883.9 399.5 884.7 402.9 884.1 406.3 885.6 409.4 886.9 412.7 888.0 416.0 887.4 420.0 886.0 423.8 883.0 424.5 880.2 425.7 879.3 421.8 879.3 417.8 878.3 414.0 877.2 411.0 874.9 408.7 874.0 405.7 872.4 403.0 870.5 400.5 868.7 397.4 866.6 394.6 862.5 393.2 858.9 390.7 861.4 388.1 864.1 385.7 866.6 383.0 866.4 379.9 866.3 376.8 866.4 373.6 866.3 370.5 866.6 367.4 M876.3 348.0 879.2 350.9 882.2 353.8 881.8 357.7 882.2 361.6 878.3 362.6 M890.0 377.0 892.8 375.7 895.9 375.3 898.6 374.0 901.6 373.3 903.8 371.1 906.4 369.4 908.9 367.4 911.3 365.5 912.3 362.6 913.3 359.7 916.2 358.7 919.1 357.7 922.2 360.4 925.0 363.5 927.5 365.6 929.5 368.3 932.1 370.4 934.1 373.0 936.6 375.2 936.3 378.5 936.2 381.7 936.6 385.0 934.2 387.5 932.7 390.7 M913.3 383.0 914.0 386.5 914.9 389.9 916.1 393.2 917.1 396.6 919.0 399.2 921.1 401.7 922.5 404.7 925.1 406.8 927.2 409.3 928.8 412.1 931.4 414.6 933.7 417.4 936.0 420.1 938.4 422.8 940.5 425.7 943.3 426.9 945.8 428.8 948.4 430.4 950.8 432.2 953.6 433.5 956.0 435.4 M942.4 392.7 945.7 392.5 948.9 391.6 952.1 390.7 953.8 393.8 955.6 396.8 958.2 399.3 959.9 402.4 961.7 405.4 963.8 408.2 M831.7 350.0 831.6 353.9 830.7 357.7 831.8 361.0 833.1 364.2 834.6 367.4 M795.4 370.5 792.6 371.9 790.7 374.5 788.0 376.0 785.8 378.4 782.5 379.4 780.3 381.8 777.2 384.2 773.9 386.3 770.3 388.0 767.2 387.5 764.0 387.6 760.9 386.6 757.7 386.8 754.7 388.3 751.2 388.8 748.3 390.8 745.1 391.8 741.7 392.3 738.3 392.6 735.1 393.7 M772.0 297.0 775.1 296.8 778.0 295.7 780.7 297.8 784.0 299.0 784.9 302.2 786.6 305.0 785.8 308.7 784.0 312.0 780.9 313.8 778.0 315.8 775.0 314.5 772.0 313.0 771.0 309.5 770.0 306.0 770.2 302.9 771.0 299.9 772.0 297.0 M454.4 180.0 458.0 176.4 462.3 175.7 466.4 174.6 469.3 175.9 472.4 176.4 475.0 177.9 477.2 180.0 480.8 182.4 477.2 186.0 473.4 186.6 470.0 188.4 465.7 188.2 461.6 187.2 456.8 184.8 454.4 180.0 M512.0 187.2 512.7 191.4 513.2 195.6 511.2 198.1 509.6 201.0 508.4 204.0 506.2 206.3 503.3 207.7 501.2 210.0 M574.0 537.0 577.0 537.0 580.0 536.5 582.5 540.0 581.0 542.9 579.1 545.5 577.0 548.0 573.0 549.0 572.9 546.0 572.5 543.0 572.7 539.9 574.0 537.0 M756.5 173.3 752.3 174.7 751.7 178.3 751.2 181.9 751.0 185.6 751.1 189.3 752.7 192.7 753.5 196.3 753.7 200.0 M214.2 292.0 216.2 294.3 217.8 296.9 218.9 299.7 220.9 302.0 222.2 304.8 222.9 308.0 222.8 311.2 223.1 314.4 223.6 317.6 223.7 320.8 223.8 324.0 225.0 327.4 227.4 330.2 228.9 333.4 230.7 336.5 231.8 340.0 M238.7 273.2 241.6 270.9 244.2 268.5 247.4 266.6 250.0 264.0 252.2 262.0 254.8 260.4 257.1 258.5 259.5 256.7 262.0 255.0 265.1 253.7 267.3 251.0 270.4 249.5 273.0 247.5 276.0 246.0 278.5 244.0 281.6 242.7 283.7 240.2 286.5 238.6 289.0 236.6 M406.9 604.0 409.8 607.0 406.1 610.0 411.3 611.5 414.8 612.3 418.3 612.7 421.7 613.7 425.2 611.3 429.2 610.0 430.8 606.7 432.1 603.3 427.7 601.0 424.0 602.1 420.2 602.5 417.3 603.5 414.3 604.0 M585.0 686.0 588.3 684.4 592.0 684.0 595.8 683.2 599.7 683.2 603.6 683.0 M253.0 620.0 257.0 618.0 261.0 621.0 258.0 625.0 253.0 623.0 253.0 620.0 M374.0 684.0 376.7 685.6 379.4 687.1 382.1 688.8 385.0 690.0 388.5 691.8 391.6 694.2 395.0 696.0 397.1 698.6 399.6 700.9 402.6 702.5 404.8 705.0 M345.7 660.0 350.0 657.0 353.0 657.5 356.0 658.0 358.4 660.1 361.0 662.0 M338.0 111.0 341.0 115.0 343.3 118.2 345.7 121.3 346.7 124.8 348.0 128.3 349.5 131.6 350.1 134.6 351.7 137.2 351.9 140.3 353.4 143.0 350.8 144.4 349.0 140.5 347.0 136.7 345.9 133.2 344.6 129.7 343.0 126.4 342.2 122.8 340.2 119.6 339.2 116.0 338.0 111.0 M794.0 85.0 796.9 83.3 800.0 82.0 805.0 80.0 M690.0 723.6 692.6 725.9 695.7 727.4 698.0 730.0 700.8 732.0 698.5 734.1 696.5 736.5 694.8 739.2 695.3 742.6 695.6 745.9 696.4 749.3 696.7 752.6 697.2 756.0 697.1 759.1 695.8 762.0 695.3 765.0 694.8 768.0 M737.8 472.2 741.3 473.8 745.0 475.0 748.5 475.4 752.0 476.0 M191.4 153.0 193.5 156.0 195.3 158.0 192.5 160.0 M193.0 163.0 195.7 167.0 M208.0 256.0 209.5 260.0 210.7 264.0 M157.0 301.0 161.0 305.0 164.0 310.0 166.0 314.0 168.6 318.6 166.9 315.2 165.0 312.0 M168.6 331.0 172.0 333.0 175.7 334.0 173.7 336.7 171.0 338.6 M577.0 171.3 580.0 174.0 585.0 176.5 M641.6 154.8 643.5 157.3 645.0 160.0 648.0 158.0 651.2 156.0 M751.0 172.0 751.3 176.1 752.5 180.0 752.0 183.4 751.1 186.6 750.5 190.0 750.6 193.4 751.8 196.6 752.0 200.0 752.6 203.3 753.2 206.7 754.0 210.0 751.8 213.3 750.5 217.0 752.0 222.0 M744.0 236.0 748.0 239.0 752.0 242.0 754.0 244.0 M758.0 252.0 762.0 256.0 760.9 259.0 760.0 262.0 761.9 264.8 763.0 268.0 763.8 271.6 765.0 275.0 M762.5 288.0 766.7 290.0 764.0 292.0 M590.0 80.0 592.0 84.0 M462.8 194.4 466.0 195.0 468.8 198.0 467.0 202.8 463.5 201.0 462.8 197.7 462.8 194.4 M410.0 192.0 414.0 190.0 418.0 193.0 416.0 197.0 411.0 196.0 M424.4 190.0 429.0 189.6 433.0 193.0 436.4 197.0 434.1 199.2 432.0 201.6 427.0 199.0 426.6 195.9 425.2 193.0 424.4 190.0 M453.0 178.0 455.6 176.0 458.0 178.8 455.6 181.0 453.0 178.0 M824.0 346.0 824.5 349.2 826.0 352.0 826.9 356.0 828.0 360.0 M760.0 190.0 761.6 193.3 762.1 197.0 763.9 200.3 764.5 204.0 765.6 206.9 766.3 209.9 768.2 212.5 768.5 215.6 770.1 218.3 770.9 221.3 772.5 224.0 774.5 226.3 775.3 229.3 777.0 231.8 778.4 234.5 780.0 237.0 779.6 241.0 779.0 245.0 779.8 248.9 781.5 252.4 783.0 256.0 784.0 259.6 785.3 263.1 786.7 266.5 788.0 270.0 788.9 273.6 790.4 277.0 791.7 280.5 793.0 284.0 794.5 286.8 795.2 290.0 796.8 292.9 797.5 296.0 798.9 299.4 800.6 302.6 802.0 306.0 M757.0 150.0 756.4 146.6 755.3 143.4 755.0 140.0 757.1 136.6 759.0 133.0 761.4 130.3 763.0 127.0 765.1 123.6 768.0 121.0 770.5 118.0 773.0 115.0 774.9 112.6 776.8 110.2 779.0 108.0 781.7 106.0 784.1 103.7 786.0 101.0 788.6 99.3 790.6 96.9 793.0 95.0 795.9 93.7 798.1 91.3 801.0 90.0 804.5 88.0 808.0 86.0 M766.9 128.0 766.9 129.2 765.5 130.3 763.6 130.0 762.3 128.8 762.8 127.3 763.5 125.9 765.4 126.0 766.4 127.1 766.9 128.0 M772.6 120.0 771.5 121.0 770.6 122.6 768.4 122.2 767.7 120.7 767.4 119.2 769.0 118.6 770.3 118.4 771.6 118.9 772.6 120.0 M778.9 112.0 779.1 113.4 777.3 113.5 775.6 114.0 774.5 112.7 774.8 111.4 775.6 110.1 777.5 109.9 778.3 111.1 778.9 112.0 M786.3 105.0 784.9 106.2 783.5 107.3 781.5 107.0 781.1 105.5 781.3 104.5 781.7 103.1 783.3 103.6 784.8 103.8 786.3 105.0 M794.0 97.0 792.9 98.6 790.6 99.3 788.8 98.4 787.5 97.6 786.8 96.2 788.2 94.9 790.3 95.7 791.8 96.0 794.0 97.0 M801.2 91.0 799.7 92.1 798.5 93.4 796.4 93.3 796.0 91.6 795.2 90.2 796.9 89.5 798.3 89.5 799.7 89.9 801.2 91.0 M807.3 87.0 807.0 88.6 805.2 88.3 803.7 89.3 802.7 87.8 803.7 86.5 803.8 84.9 805.4 84.6 806.2 86.0 807.3 87.0 M761.6 140.0 761.6 142.0 760.5 143.9 758.9 142.9 758.1 141.0 758.4 139.1 759.3 138.1 760.5 136.0 761.8 137.7 761.6 140.0 M759.5 152.0 759.9 154.4 758.4 155.7 757.1 154.4 756.4 152.9 756.5 151.2 757.3 150.2 758.3 149.6 759.2 150.5 759.5 152.0 M319.1 204.0 318.5 207.1 315.1 209.1 311.8 207.1 308.4 205.7 306.6 201.7 310.9 199.5 315.1 199.0 319.5 200.1 319.1 204.0 M312.9 209.0 311.1 210.8 309.6 212.6 307.8 211.1 306.2 210.0 306.6 208.1 307.5 206.3 309.4 206.9 311.2 207.2 312.9 209.0 M348.1 194.0 346.5 196.6 345.6 200.4 343.8 198.3 342.8 195.6 342.5 192.1 344.0 190.7 345.3 190.1 346.8 191.0 348.1 194.0 M364.0 192.0 363.6 195.6 361.6 197.3 359.3 196.9 357.4 194.2 357.7 190.0 359.9 188.7 361.4 188.0 363.2 188.9 364.0 192.0 M385.7 195.0 386.9 197.4 383.8 198.4 381.7 196.7 379.1 196.1 379.9 194.2 380.5 191.7 383.9 191.3 385.6 193.3 385.7 195.0 M392.5 197.0 391.7 198.4 390.6 200.3 388.8 199.1 386.9 198.1 387.9 196.2 388.0 193.5 390.6 193.7 392.0 195.3 392.5 197.0 M411.4 202.0 408.0 204.0 405.6 204.9 403.2 204.5 399.5 203.6 399.1 200.3 401.6 197.3 406.0 197.6 409.2 199.2 411.4 202.0 M415.7 205.0 414.5 207.1 412.6 208.4 411.0 206.7 408.9 206.1 408.7 203.8 410.5 202.4 412.5 202.1 413.9 203.4 415.7 205.0 M260.1 240.0 258.9 241.5 256.8 242.7 254.1 242.0 251.6 241.0 252.6 239.2 253.5 237.4 256.9 236.9 259.4 238.3 260.1 240.0 M267.4 238.0 265.8 239.5 264.4 240.1 262.6 240.3 260.7 239.2 261.6 237.1 262.1 234.7 264.6 234.8 266.3 236.1 267.4 238.0 M248.6 249.0 247.2 250.0 246.4 251.4 245.0 250.8 243.5 249.9 244.1 248.3 245.0 247.3 246.2 247.6 247.5 247.8 248.6 249.0 M240.0 259.0 238.4 260.5 236.9 262.9 233.8 261.8 232.0 260.1 231.1 257.7 234.6 257.1 236.8 255.4 238.5 257.4 240.0 259.0 M242.4 262.0 242.6 263.4 241.3 263.8 239.7 264.2 239.0 262.7 239.1 261.3 239.7 259.7 241.3 260.3 242.9 260.4 242.4 262.0 M230.0 280.0 229.6 282.1 228.3 282.5 226.7 283.4 225.8 281.2 225.8 278.8 227.0 277.5 228.4 276.4 229.8 277.8 230.0 280.0 M226.1 296.0 225.6 297.4 224.5 298.8 222.9 297.9 220.4 297.3 222.1 295.3 222.5 293.3 224.5 293.4 226.9 293.6 226.1 296.0 M223.6 314.0 222.6 316.0 221.3 316.3 219.7 317.4 219.2 315.0 218.7 312.8 220.3 312.3 221.3 311.7 223.0 311.4 223.6 314.0 M168.1 309.0 165.5 312.1 163.8 316.2 161.3 313.5 158.6 311.4 159.6 307.2 160.8 303.4 163.8 302.6 165.0 306.5 168.1 309.0 M175.2 334.0 174.4 336.0 172.5 336.9 170.3 336.9 169.2 335.0 169.2 333.0 170.9 332.0 172.4 331.8 174.5 331.9 175.2 334.0 M194.4 157.0 194.7 159.8 193.4 161.1 192.3 159.5 191.7 157.9 190.5 155.2 192.1 153.8 193.3 153.6 194.7 154.1 194.4 157.0 M472.6 193.0 471.2 194.6 470.4 196.0 469.3 194.9 468.7 193.7 468.6 192.2 468.9 190.2 470.3 190.6 471.7 190.8 472.6 193.0 M437.2 195.0 436.7 198.1 433.6 198.3 430.5 199.4 428.2 196.7 428.0 193.2 430.8 191.2 433.6 191.5 436.8 191.9 437.2 195.0 M418.0 193.0 416.9 194.6 415.6 196.5 413.2 196.1 411.9 194.1 413.1 192.3 413.8 190.9 415.5 190.4 418.1 190.4 418.0 193.0 M562.6 174.0 562.7 175.5 560.4 175.4 558.7 175.5 557.4 174.6 556.4 173.1 558.7 172.5 560.6 171.9 561.7 173.1 562.6 174.0 M576.8 172.0 576.1 173.2 574.7 174.5 572.1 174.2 571.6 172.6 570.5 171.1 572.0 169.7 574.6 169.6 575.5 171.1 576.8 172.0 M592.0 171.0 591.3 172.3 589.6 173.3 587.2 173.1 586.5 171.6 586.1 170.3 587.4 169.1 589.6 168.7 592.0 169.3 592.0 171.0 M604.0 174.0 603.2 175.0 602.5 176.6 600.7 176.2 599.8 174.8 599.7 173.2 601.3 172.8 602.4 171.7 603.1 173.1 604.0 174.0 M616.4 177.0 615.5 178.4 613.6 179.1 611.5 178.7 609.5 177.8 610.9 176.5 611.7 175.5 613.6 174.9 614.7 176.0 616.4 177.0 M629.2 180.0 628.3 182.0 626.5 182.8 624.2 183.1 623.3 181.0 623.9 179.2 624.4 177.2 626.4 178.0 629.1 177.4 629.2 180.0 M649.4 160.0 649.4 161.8 648.5 164.0 647.2 162.1 646.3 160.9 645.7 158.7 646.7 156.7 648.4 157.0 650.0 157.4 649.4 160.0 M694.6 197.0 694.5 198.9 693.4 200.4 692.2 199.1 690.6 198.3 691.5 196.2 692.2 195.0 693.3 194.2 694.4 195.3 694.6 197.0 M701.3 210.0 701.7 212.2 700.4 213.0 698.7 213.3 697.5 211.3 697.9 208.9 698.8 206.9 700.4 206.9 701.6 208.0 701.3 210.0 M721.4 233.0 720.1 233.9 719.3 234.6 718.0 234.8 717.7 233.5 716.8 232.2 718.3 231.9 719.3 231.5 720.8 231.5 721.4 233.0 M719.0 269.0 717.1 271.2 715.8 274.9 713.5 272.4 710.7 270.9 712.6 267.9 713.3 265.4 715.7 263.9 718.5 265.4 719.0 269.0 M724.1 276.0 723.7 278.2 722.3 278.9 721.0 278.6 720.3 276.9 719.7 274.7 721.2 273.8 722.2 273.9 723.2 274.5 724.1 276.0 M728.9 296.0 727.9 297.6 725.4 297.3 723.8 297.4 722.7 296.6 721.7 295.2 723.5 294.3 725.5 293.9 727.7 294.5 728.9 296.0 M260.9 620.0 260.2 621.9 258.7 623.9 256.3 623.0 254.6 621.2 256.0 619.3 256.6 617.6 258.6 616.9 260.2 618.1 260.9 620.0 M320.5 637.0 319.9 639.3 318.4 640.8 317.3 638.7 316.7 637.7 316.4 636.1 316.8 633.9 318.4 633.7 320.0 634.5 320.5 637.0 M291.5 682.0 291.7 683.4 290.4 684.3 289.3 683.2 288.0 682.7 287.6 681.1 289.1 680.5 290.2 680.7 292.0 680.3 291.5 682.0 M435.1 744.0 434.2 745.0 433.5 746.6 432.0 745.7 431.2 744.7 431.0 743.3 431.8 742.0 433.4 741.6 434.9 742.4 435.1 744.0 M541.9 737.0 541.7 738.4 540.5 739.6 539.3 738.2 537.9 737.8 537.5 736.1 539.2 735.5 540.3 735.6 541.5 735.7 541.9 737.0 M544.4 716.0 544.3 717.1 543.3 717.5 542.3 717.2 540.7 716.8 541.0 715.3 542.1 714.4 543.2 714.6 544.9 714.4 544.4 716.0" fill="none" stroke="#6c4604" stroke-width="1.3" stroke-linejoin="round" stroke-linecap="round"/><path d="M775.0 443.5 778.1 443.6 780.9 445.2 784.1 444.9 786.9 446.2 790.0 446.5 792.9 448.0 795.9 449.0 799.1 449.7 802.0 451.0 805.3 452.3 808.4 454.2 811.5 456.0 815.0 457.0 817.9 459.2 821.0 461.0 824.0 463.0 827.0 463.6 830.0 464.4 832.9 465.5 836.0 466.0 839.2 466.3 842.4 466.8 845.6 467.4 848.8 467.8 852.0 468.0 855.2 468.6 858.1 469.9 860.9 471.6 864.0 472.5 867.0 474.4 869.8 476.6 873.3 477.7 876.0 480.0 878.7 482.0 881.0 484.5 883.3 487.0 886.0 489.0 889.0 491.0 891.3 493.7 894.3 495.7 897.0 498.0" fill="none" stroke="#6c4604" stroke-width="2.6" stroke-linejoin="round" stroke-linecap="round"/><path fill="#fff" d="M139.5 75.5H973.5V768.5H139.5Z M148.0 84.0V759.5H965.0V84.0Z" fill-rule="evenodd"/><g fill="#000"><rect x="139.5" y="93.4" width="8.5" height="18.2"/><rect x="139.5" y="189.5" width="8.5" height="76.3"/><rect x="139.5" y="340.8" width="8.5" height="73.7"/><rect x="139.5" y="487.0" width="8.5" height="71.5"/><rect x="139.5" y="629.1" width="8.5" height="69.8"/><rect x="139.5" y="733.5" width="8.5" height="35.0"/><rect x="965.0" y="75.5" width="8.5" height="17.9"/><rect x="965.0" y="111.6" width="8.5" height="77.9"/><rect x="965.0" y="265.8" width="8.5" height="74.9"/><rect x="965.0" y="414.4" width="8.5" height="72.5"/><rect x="965.0" y="558.5" width="8.5" height="70.6"/><rect x="965.0" y="698.9" width="8.5" height="34.6"/><rect x="222.9" y="75.5" width="83.4" height="8.5"/><rect x="389.9" y="75.5" width="83.4" height="8.5"/><rect x="556.8" y="75.5" width="83.5" height="8.5"/><rect x="723.7" y="75.5" width="83.4" height="8.5"/><rect x="890.6" y="75.5" width="82.9" height="8.5"/><rect x="139.5" y="759.5" width="83.4" height="9.0"/><rect x="306.4" y="759.5" width="83.5" height="9.0"/><rect x="473.3" y="759.5" width="83.4" height="9.0"/><rect x="640.2" y="759.5" width="83.5" height="9.0"/><rect x="807.1" y="759.5" width="83.5" height="9.0"/></g><rect x="139.5" y="75.5" width="834.0" height="693.0" fill="none" stroke="#000" stroke-width="1"/><rect x="148.0" y="84.0" width="817.0" height="675.5" fill="none" stroke="#000" stroke-width="1"/><path d="M139.5 75.5L148.0 84.0M973.5 75.5L965.0 84.0M139.5 768.5L148.0 759.5M973.5 768.5L965.0 759.5" stroke="#000" stroke-width="1"/><g font-family="DejaVu Sans, Liberation Sans, sans-serif" font-size="21px" fill="#000" opacity="0.999"><text x="132.5" y="118.9" text-anchor="end">32°N</text><text x="132.5" y="273.1" text-anchor="end">28°N</text><text x="132.5" y="421.7" text-anchor="end">24°N</text><text x="132.5" y="565.8" text-anchor="end">20°N</text><text x="132.5" y="706.2" text-anchor="end">16°N</text><text x="139.5" y="789" text-anchor="middle">100°W</text><text x="308.9" y="789" text-anchor="middle">95°W</text><text x="475.8" y="789" text-anchor="middle">90°W</text><text x="642.7" y="789" text-anchor="middle">85°W</text><text x="809.6" y="789" text-anchor="middle">80°W</text></g><defs><linearGradient id="jet" x1="0" y1="0" x2="0" y2="1"><stop offset="0.000" stop-color="#800000"/><stop offset="0.090" stop-color="#e80000"/><stop offset="0.110" stop-color="#ff1300"/><stop offset="0.340" stop-color="#ffec00"/><stop offset="0.350" stop-color="#f7f600"/><stop offset="0.360" stop-color="#efff08"/><stop offset="0.625" stop-color="#15ffe2"/><stop offset="0.650" stop-color="#00e5f7"/><stop offset="0.660" stop-color="#00dbff"/><stop offset="0.875" stop-color="#0000ff"/><stop offset="0.890" stop-color="#0000ff"/><stop offset="1.000" stop-color="#000080"/></linearGradient></defs><rect x="989.5" y="75.5" width="34.0" height="693.0" fill="url(#jet)" stroke="#222" stroke-width="1"/><path d="M1016.5 75.5H1023.5M1016.5 144.8H1023.5M1016.5 214.1H1023.5M1016.5 283.4H1023.5M1016.5 352.7H1023.5M1016.5 422.0H1023.5M1016.5 491.3H1023.5M1016.5 560.6H1023.5M1016.5 629.9H1023.5M1016.5 699.2H1023.5M1016.5 768.5H1023.5" stroke="#222" stroke-width="1"/><g font-family="DejaVu Sans, Liberation Sans, sans-serif" font-size="25px" fill="#262626" opacity="0.999"><text x="1031.5" y="83.7">475</text><text x="1031.5" y="153.0">470</text><text x="1031.5" y="222.3">465</text><text x="1031.5" y="291.6">460</text><text x="1031.5" y="360.9">455</text><text x="1031.5" y="430.2">450</text><text x="1031.5" y="499.5">445</text><text x="1031.5" y="568.8">440</text><text x="1031.5" y="638.1">435</text><text x="1031.5" y="707.4">430</text><text x="1031.5" y="776.7">425</text></g></svg></body></html>
